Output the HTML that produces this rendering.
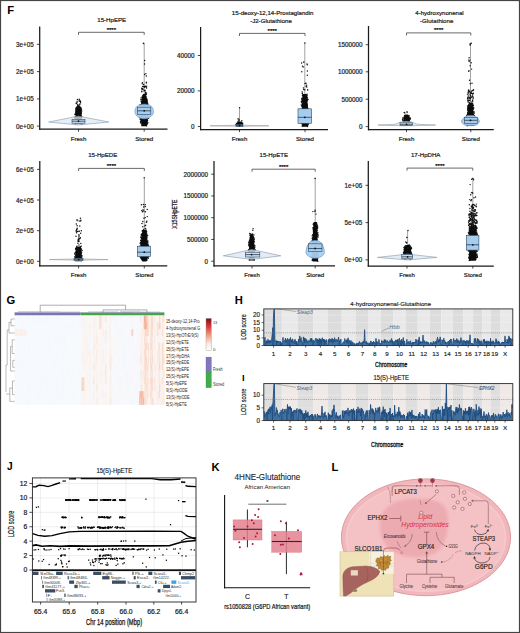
<!DOCTYPE html>
<html><head><meta charset="utf-8"><style>
html,body{margin:0;padding:0;background:#fff;}
body{width:520px;height:633px;overflow:hidden;}
svg{display:block;font-family:"Liberation Sans",sans-serif;}
</style></head><body>
<svg width="520" height="633" viewBox="0 0 520 633">
<rect x="0" y="0" width="520" height="633" fill="#fff"/>
<text x="7.20" y="14.20" font-size="11.2" text-anchor="start" fill="#000" font-weight="bold" >F</text>
<text x="111.70" y="22.40" font-size="6.1" text-anchor="middle" fill="#1a1a1a" stroke="#1a1a1a" stroke-width="0.2">15-HpEPE</text>
<path d="M78.50 34.90 V32.30 H144.20 V34.90" fill="none" stroke="#444" stroke-width="0.8"/>
<text x="111.35" y="31.70" font-size="6" text-anchor="middle" fill="#222" stroke="#222" stroke-width="0.25">****</text>
<path d="M77.5 106.0 L76.8 106.8 L76.4 107.6 L75.8 108.4 L75.8 109.2 L75.5 110.0 L75.5 110.8 L75.6 111.6 L75.4 112.4 L75.2 113.2 L75.6 114.0 L75.0 114.8 L75.6 115.6 L75.4 116.4 L74.9 117.2 L74.7 118.0 L75.0 118.8 L75.3 119.6 L74.9 120.4 L75.3 121.2 L74.5 122.0 L74.8 122.8 L74.9 123.6 L75.1 124.3 L82.1 124.3 L81.9 123.6 L82.1 122.8 L81.9 122.0 L81.9 121.2 L82.3 120.4 L81.8 119.6 L81.6 118.8 L82.1 118.0 L82.2 117.2 L81.7 116.4 L82.0 115.6 L81.4 114.8 L82.0 114.0 L82.0 113.2 L81.2 112.4 L81.4 111.6 L81.5 110.8 L81.5 110.0 L80.9 109.2 L81.2 108.4 L80.8 107.6 L80.0 106.8 L79.5 106.0Z" fill="#0b0b0b"/>
<path d="M77.4 99.4h0M79.3 100.1h0M79.2 99.3h0M79.9 104.3h0M76.5 103.6h0M76.3 107.5h0M80.6 102.7h0M77.6 106.1h0M77.1 101.4h0M77.0 102.8h0M79.1 107.7h0M77.1 107.6h0M78.8 107.2h0M80.0 101.3h0M79.2 101.0h0M76.1 103.2h0M79.8 104.5h0M77.0 106.7h0M80.5 101.9h0M78.3 105.1h0M80.4 101.0h0M78.8 107.7h0M79.0 105.7h0M79.8 104.1h0M77.5 104.7h0M75.7 108.9h0M80.0 106.9h0M80.8 107.7h0M81.2 108.3h0M75.4 113.4h0M81.2 112.3h0M81.5 116.6h0M81.5 109.8h0M75.2 116.9h0M76.0 110.8h0M81.6 124.3h0M81.7 111.0h0M75.4 124.2h0M79.6 106.2h0M74.6 117.8h0M82.2 121.0h0M75.6 114.1h0M82.0 123.9h0M75.8 112.5h0M82.2 122.3h0M75.3 118.9h0M81.3 113.0h0M76.0 108.9h0M75.6 111.0h0M76.0 108.5h0M81.1 108.0h0M81.8 116.6h0M74.9 114.4h0M80.5 107.6h0" stroke="#111" stroke-width="1.45" stroke-linecap="round" fill="none"/>
<path d="M48.70 122.00 L76.50 116.50 Q78.50 115.90 80.50 116.50 L108.80 122.00 L80.50 124.80 Q78.50 125.20 76.50 124.80 Z" fill="#dde8f4" fill-opacity="0.75" stroke="#8397ab" stroke-width="0.6"/>
<rect x="72.00" y="119.40" width="13.00" height="3.80" fill="#c9def2" stroke="#2c4660" stroke-width="0.6" />
<line x1="72.00" y1="121.20" x2="85.00" y2="121.20" stroke="#1a2a3a" stroke-width="0.7" />
<circle cx="78.50" cy="121.20" r="0.9" fill="#111"/>
<line x1="144.20" y1="43.00" x2="144.20" y2="107.20" stroke="#555" stroke-width="0.55" />
<path d="M143.0 94.0 L142.7 94.8 L142.4 95.6 L141.6 96.4 L141.8 97.2 L141.7 98.0 L141.6 98.8 L141.6 99.6 L141.4 100.4 L141.1 101.2 L140.8 102.0 L141.2 102.8 L141.2 103.6 L140.1 104.4 L140.7 105.2 L140.7 106.0 L140.3 106.8 L140.6 107.6 L140.5 108.4 L140.0 109.2 L140.0 110.0 L140.6 110.8 L140.8 111.6 L140.8 112.4 L140.2 113.2 L139.9 114.0 L139.8 114.8 L140.1 115.6 L140.3 116.4 L139.9 117.2 L140.4 118.0 L140.2 118.8 L140.0 119.6 L141.1 120.4 L140.2 121.2 L140.6 122.0 L141.4 122.8 L141.0 123.6 L141.3 124.4 L141.2 125.2 L141.3 126.0 L141.5 126.2 L147.1 126.2 L146.4 126.0 L147.0 125.2 L146.9 124.4 L147.7 123.6 L147.7 122.8 L147.8 122.0 L147.8 121.2 L148.3 120.4 L147.8 119.6 L147.8 118.8 L148.4 118.0 L148.3 117.2 L148.3 116.4 L148.2 115.6 L147.9 114.8 L147.8 114.0 L148.5 113.2 L147.6 112.4 L147.8 111.6 L148.1 110.8 L148.3 110.0 L147.9 109.2 L148.6 108.4 L148.0 107.6 L148.3 106.8 L148.0 106.0 L148.4 105.2 L148.1 104.4 L147.7 103.6 L148.0 102.8 L147.5 102.0 L147.7 101.2 L147.4 100.4 L147.1 99.6 L147.2 98.8 L147.2 98.0 L146.4 97.2 L146.8 96.4 L146.0 95.6 L145.7 94.8 L145.4 94.0Z" fill="#0b0b0b"/>
<path d="M143.4 43.5h0M143.6 43.3h0M144.7 60.4h0M144.5 63.9h0M142.4 82.6h0M144.6 74.4h0M146.4 82.3h0M143.6 84.4h0M142.2 83.7h0M145.9 73.6h0M146.3 83.0h0M146.3 75.9h0M145.4 93.8h0M143.4 86.4h0M141.7 91.1h0M144.4 87.3h0M144.9 86.5h0M144.1 91.1h0M142.7 86.5h0M146.3 94.5h0M144.7 86.3h0M144.3 95.6h0M145.6 92.9h0M141.8 91.8h0M142.8 95.9h0M141.7 88.2h0M146.2 87.2h0M143.2 89.1h0M146.2 93.0h0M146.5 87.9h0M142.1 89.4h0M145.6 92.2h0M146.5 93.1h0M142.0 89.2h0M142.7 88.7h0M145.1 90.4h0M145.5 86.2h0M146.3 87.6h0M145.5 94.4h0M141.8 91.4h0M146.7 86.1h0M144.2 90.3h0M147.2 99.9h0M140.3 115.0h0M140.0 104.9h0M148.7 110.3h0M140.9 99.7h0M140.3 119.5h0M141.0 108.5h0M148.3 107.6h0M147.6 103.3h0M139.9 114.5h0M148.2 109.2h0M147.8 106.5h0M141.2 97.6h0M140.9 117.6h0M141.0 120.9h0M147.8 109.2h0M147.9 110.9h0M140.9 116.9h0M140.9 112.4h0M147.8 118.1h0M147.4 106.3h0M148.1 115.6h0M140.9 99.2h0M148.5 118.2h0M147.7 105.3h0M146.6 125.7h0M140.0 111.5h0M140.5 116.8h0M140.3 108.1h0M147.3 118.5h0M140.6 106.6h0M146.9 100.8h0M140.0 116.7h0M140.5 121.8h0M140.7 123.1h0M147.9 122.8h0M140.6 122.8h0M140.5 118.0h0M147.3 124.0h0M146.8 124.1h0M147.7 104.0h0M147.1 101.5h0M147.9 109.2h0M141.1 99.5h0M141.2 101.4h0M147.4 123.2h0M140.5 113.0h0M140.5 119.5h0M147.9 109.5h0M139.8 117.7h0M140.6 117.4h0" stroke="#111" stroke-width="1.45" stroke-linecap="round" fill="none"/>
<path d="M143.00 104.20 C135.83 104.70 134.90 109.50 134.90 111.50 C134.90 116.80 141.70 118.80 143.20 118.80 L145.20 118.80 C146.70 118.80 153.50 116.80 153.50 111.50 C153.50 109.50 152.57 104.70 145.40 104.20 Z" fill="#a9d0f0" fill-opacity="0.95" stroke="#5d8fbf" stroke-width="0.6"/>
<rect x="137.30" y="107.20" width="13.50" height="7.20" fill="#a6cdee" stroke="#2c4660" stroke-width="0.6" />
<line x1="137.30" y1="110.80" x2="150.80" y2="110.80" stroke="#1a2a3a" stroke-width="0.7" />
<circle cx="144.20" cy="110.80" r="0.9" fill="#111"/>
<line x1="39.70" y1="26.50" x2="39.70" y2="129.80" stroke="#1a1a1a" stroke-width="1.25" />
<line x1="39.10" y1="129.20" x2="167.50" y2="129.20" stroke="#1a1a1a" stroke-width="1.25" />
<line x1="36.90" y1="44.30" x2="39.70" y2="44.30" stroke="#1a1a1a" stroke-width="0.8" />
<text x="33.70" y="46.80" font-size="6.3" text-anchor="end" fill="#222" stroke="#222" stroke-width="0.2">3e+05</text>
<line x1="36.90" y1="71.60" x2="39.70" y2="71.60" stroke="#1a1a1a" stroke-width="0.8" />
<text x="33.70" y="74.10" font-size="6.3" text-anchor="end" fill="#222" stroke="#222" stroke-width="0.2">2e+05</text>
<line x1="36.90" y1="98.90" x2="39.70" y2="98.90" stroke="#1a1a1a" stroke-width="0.8" />
<text x="33.70" y="101.40" font-size="6.3" text-anchor="end" fill="#222" stroke="#222" stroke-width="0.2">1e+05</text>
<line x1="36.90" y1="126.10" x2="39.70" y2="126.10" stroke="#1a1a1a" stroke-width="0.8" />
<text x="33.70" y="128.60" font-size="6.3" text-anchor="end" fill="#222" stroke="#222" stroke-width="0.2">0e+00</text>
<line x1="78.50" y1="129.20" x2="78.50" y2="131.70" stroke="#1a1a1a" stroke-width="0.8" />
<line x1="144.20" y1="129.20" x2="144.20" y2="131.70" stroke="#1a1a1a" stroke-width="0.8" />
<text x="78.50" y="140.80" font-size="6.1" text-anchor="middle" fill="#222" stroke="#222" stroke-width="0.2">Fresh</text>
<text x="144.20" y="140.80" font-size="6.1" text-anchor="middle" fill="#222" stroke="#222" stroke-width="0.2">Stored</text>
<text x="272.70" y="15.20" font-size="6.1" text-anchor="middle" fill="#1a1a1a" stroke="#1a1a1a" stroke-width="0.2">15-deoxy-12,14-Prostaglandin</text>
<text x="271.00" y="22.60" font-size="6.1" text-anchor="middle" fill="#1a1a1a" stroke="#1a1a1a" stroke-width="0.2">-J2-Glutathione</text>
<path d="M239.50 36.00 V33.40 H305.00 V36.00" fill="none" stroke="#444" stroke-width="0.8"/>
<text x="272.25" y="32.80" font-size="6" text-anchor="middle" fill="#222" stroke="#222" stroke-width="0.25">****</text>
<line x1="239.50" y1="108.20" x2="239.50" y2="124.80" stroke="#555" stroke-width="0.55" />
<path d="M237.9 121.5 L237.3 122.3 L236.7 123.1 L236.3 123.9 L236.2 124.7 L236.0 125.5 L235.9 126.3 L236.2 126.5 L243.6 126.5 L243.0 126.3 L242.8 125.5 L243.1 124.7 L242.8 123.9 L243.0 123.1 L241.8 122.3 L241.4 121.5Z" fill="#0b0b0b"/>
<path d="M239.6 107.8h0M241.8 120.8h0M239.3 120.0h0M238.1 118.7h0M238.4 120.1h0M235.6 124.9h0M242.7 123.5h0M236.8 123.5h0M236.4 123.8h0M238.0 121.6h0M242.4 124.3h0M241.8 122.4h0M236.2 124.9h0" stroke="#111" stroke-width="1.45" stroke-linecap="round" fill="none"/>
<path d="M210.00 125.80 L237.50 125.20 Q239.50 124.60 241.50 125.20 L268.80 125.80 L241.50 126.30 Q239.50 126.70 237.50 126.30 Z" fill="#eeeeee" fill-opacity="0.9" stroke="#999" stroke-width="0.6"/>
<rect x="236.00" y="124.80" width="7.00" height="1.50" fill="#c9def2" stroke="#2c4660" stroke-width="0.6" />
<line x1="236.00" y1="125.50" x2="243.00" y2="125.50" stroke="#1a2a3a" stroke-width="0.7" />
<circle cx="239.50" cy="125.50" r="0.9" fill="#111"/>
<line x1="304.80" y1="42.70" x2="304.80" y2="108.80" stroke="#555" stroke-width="0.55" />
<path d="M303.2 94.0 L302.5 94.8 L302.5 95.6 L302.5 96.4 L302.1 97.2 L302.4 98.0 L302.0 98.8 L302.0 99.6 L302.0 100.4 L301.4 101.2 L302.2 102.0 L302.1 102.8 L302.1 103.6 L301.8 104.4 L301.5 105.2 L301.5 106.0 L301.4 106.8 L301.9 107.6 L301.7 108.4 L301.3 109.2 L301.6 110.0 L301.8 110.8 L302.0 111.6 L301.3 112.4 L301.4 113.2 L301.4 114.0 L301.3 114.8 L301.1 115.6 L302.0 116.4 L301.6 117.2 L301.5 118.0 L301.3 118.8 L302.0 119.6 L301.8 120.4 L301.4 121.2 L301.3 122.0 L301.3 122.8 L301.4 123.6 L301.8 124.4 L301.9 125.2 L302.0 126.0 L302.0 126.8 L301.4 126.8 L308.0 126.8 L307.6 126.8 L307.7 126.0 L308.3 125.2 L307.7 124.4 L307.9 123.6 L307.7 122.8 L307.9 122.0 L308.5 121.2 L308.2 120.4 L308.2 119.6 L308.4 118.8 L307.7 118.0 L307.8 117.2 L307.9 116.4 L308.4 115.6 L308.0 114.8 L308.5 114.0 L307.8 113.2 L308.0 112.4 L308.5 111.6 L307.6 110.8 L308.0 110.0 L307.8 109.2 L308.2 108.4 L308.1 107.6 L308.0 106.8 L307.8 106.0 L308.1 105.2 L307.9 104.4 L307.7 103.6 L307.5 102.8 L307.6 102.0 L307.7 101.2 L308.0 100.4 L308.1 99.6 L307.6 98.8 L307.5 98.0 L307.1 97.2 L307.2 96.4 L307.2 95.6 L306.5 94.8 L306.8 94.0Z" fill="#0b0b0b"/>
<path d="M304.9 43.0h0M304.8 89.8h0M303.6 89.6h0M306.0 83.2h0M301.6 62.9h0M301.8 71.8h0M307.7 89.8h0M307.0 64.0h0M306.1 86.3h0M306.8 86.9h0M302.5 66.1h0M306.7 85.1h0M307.3 75.2h0M307.3 64.7h0M307.7 90.1h0M303.8 62.3h0M305.1 83.4h0M303.8 62.0h0M303.4 88.0h0M302.2 91.9h0M303.2 67.0h0M302.3 93.4h0M307.4 70.9h0M301.7 115.8h0M306.9 95.2h0M301.6 117.5h0M301.4 101.4h0M301.3 104.9h0M307.6 112.9h0M307.4 97.6h0M301.5 117.4h0M307.5 126.6h0M307.0 96.0h0M307.6 126.3h0M308.1 117.7h0M301.7 99.0h0M301.8 118.8h0M307.1 95.1h0M307.6 109.4h0M308.0 99.4h0M301.3 123.0h0M302.1 100.3h0M308.4 111.2h0M302.0 98.2h0M301.7 115.1h0M301.5 120.0h0M302.1 126.1h0M308.2 116.0h0M302.1 106.2h0M307.5 125.0h0M307.0 94.1h0M301.9 121.4h0M301.4 116.6h0M301.5 102.8h0M307.9 116.4h0M301.6 118.9h0M308.3 124.2h0M302.5 95.5h0M303.0 94.4h0M302.0 114.5h0M307.6 125.0h0M307.6 108.5h0M308.0 119.0h0M308.3 123.0h0M307.5 121.2h0M301.2 119.7h0M301.1 117.4h0M301.2 118.3h0M302.6 95.8h0M306.9 94.4h0M301.8 111.4h0M301.1 112.6h0M302.0 112.1h0M301.8 98.6h0M307.4 97.9h0" stroke="#111" stroke-width="1.45" stroke-linecap="round" fill="none"/>
<rect x="298.00" y="108.80" width="13.50" height="14.50" fill="#a6cdee" stroke="#2c4660" stroke-width="0.6" />
<line x1="298.00" y1="117.30" x2="311.50" y2="117.30" stroke="#1a2a3a" stroke-width="0.7" />
<circle cx="304.80" cy="117.30" r="0.9" fill="#111"/>
<line x1="200.60" y1="27.00" x2="200.60" y2="130.20" stroke="#1a1a1a" stroke-width="1.25" />
<line x1="200.00" y1="129.60" x2="328.00" y2="129.60" stroke="#1a1a1a" stroke-width="1.25" />
<line x1="197.80" y1="55.50" x2="200.60" y2="55.50" stroke="#1a1a1a" stroke-width="0.8" />
<text x="194.60" y="58.00" font-size="6.3" text-anchor="end" fill="#222" stroke="#222" stroke-width="0.2">40000</text>
<line x1="197.80" y1="90.90" x2="200.60" y2="90.90" stroke="#1a1a1a" stroke-width="0.8" />
<text x="194.60" y="93.40" font-size="6.3" text-anchor="end" fill="#222" stroke="#222" stroke-width="0.2">20000</text>
<line x1="197.80" y1="126.50" x2="200.60" y2="126.50" stroke="#1a1a1a" stroke-width="0.8" />
<text x="194.60" y="129.00" font-size="6.3" text-anchor="end" fill="#222" stroke="#222" stroke-width="0.2">0</text>
<line x1="239.50" y1="129.60" x2="239.50" y2="132.10" stroke="#1a1a1a" stroke-width="0.8" />
<line x1="305.00" y1="129.60" x2="305.00" y2="132.10" stroke="#1a1a1a" stroke-width="0.8" />
<text x="239.50" y="140.80" font-size="6.1" text-anchor="middle" fill="#222" stroke="#222" stroke-width="0.2">Fresh</text>
<text x="305.00" y="140.80" font-size="6.1" text-anchor="middle" fill="#222" stroke="#222" stroke-width="0.2">Stored</text>
<text x="439.50" y="15.40" font-size="6.1" text-anchor="middle" fill="#1a1a1a" stroke="#1a1a1a" stroke-width="0.2">4-hydroxynonenal</text>
<text x="436.70" y="22.60" font-size="6.1" text-anchor="middle" fill="#1a1a1a" stroke="#1a1a1a" stroke-width="0.2">-Glutathione</text>
<path d="M406.50 35.50 V32.90 H470.80 V35.50" fill="none" stroke="#444" stroke-width="0.8"/>
<text x="438.65" y="32.30" font-size="6" text-anchor="middle" fill="#222" stroke="#222" stroke-width="0.25">****</text>
<path d="M404.9 114.5 L404.1 115.3 L403.8 116.1 L403.7 116.9 L403.0 117.7 L403.2 118.5 L403.3 119.3 L403.5 120.1 L403.1 120.9 L403.6 121.7 L403.6 122.5 L403.4 122.5 L409.8 122.5 L409.7 122.5 L409.3 121.7 L409.9 120.9 L410.0 120.1 L410.0 119.3 L409.9 118.5 L409.9 117.7 L409.9 116.9 L409.0 116.1 L408.8 115.3 L408.0 114.5Z" fill="#0b0b0b"/>
<path d="M404.7 112.7h0M404.8 113.0h0M407.0 111.8h0M407.1 112.5h0M404.2 112.4h0M410.2 117.9h0M409.1 115.8h0M409.9 119.6h0M402.8 118.0h0M403.3 121.1h0M409.7 122.1h0M403.5 121.4h0M402.8 120.4h0M402.6 119.5h0M410.4 118.7h0M409.1 122.1h0M403.5 121.4h0" stroke="#111" stroke-width="1.45" stroke-linecap="round" fill="none"/>
<path d="M378 125 Q392 124.6 396.3 124 Q400 121.5 406.5 121.3 Q413 121.5 416.3 124 Q420 124.6 435.6 125 Q420 125.6 406.5 125.8 Q392 125.6 378 125 Z" fill="#dde8f4" fill-opacity="0.8" stroke="#8397ab" stroke-width="0.6"/>
<rect x="400.00" y="122.80" width="12.50" height="2.80" fill="#c9def2" stroke="#2c4660" stroke-width="0.6" />
<line x1="400.00" y1="124.30" x2="412.50" y2="124.30" stroke="#1a2a3a" stroke-width="0.7" />
<circle cx="406.50" cy="124.30" r="0.9" fill="#111"/>
<line x1="470.50" y1="42.70" x2="470.50" y2="117.30" stroke="#555" stroke-width="0.55" />
<path d="M469.2 103.0 L468.9 103.8 L468.4 104.6 L467.6 105.4 L467.9 106.2 L467.3 107.0 L467.5 107.8 L467.8 108.6 L467.0 109.4 L467.1 110.2 L467.8 111.0 L467.5 111.8 L467.0 112.6 L467.2 113.4 L466.7 114.2 L466.7 115.0 L467.3 115.8 L467.1 116.6 L467.3 117.4 L466.7 118.2 L467.2 119.0 L467.2 119.8 L467.5 120.6 L467.3 121.4 L467.4 122.2 L466.6 123.0 L467.2 123.8 L467.2 124.6 L467.5 125.4 L467.3 126.0 L474.3 126.0 L474.2 125.4 L473.7 124.6 L474.4 123.8 L473.6 123.0 L474.1 122.2 L474.2 121.4 L474.1 120.6 L473.8 119.8 L473.5 119.0 L473.6 118.2 L474.1 117.4 L473.8 116.6 L474.0 115.8 L474.2 115.0 L474.2 114.2 L473.7 113.4 L473.3 112.6 L473.8 111.8 L473.6 111.0 L473.3 110.2 L473.4 109.4 L473.4 108.6 L473.6 107.8 L473.4 107.0 L473.2 106.2 L473.2 105.4 L473.0 104.6 L472.4 103.8 L472.2 103.0Z" fill="#0b0b0b"/>
<path d="M470.1 44.9h0M471.3 43.2h0M470.4 44.8h0M470.0 44.0h0M468.7 71.3h0M469.1 57.7h0M469.9 60.1h0M468.6 60.1h0M470.1 65.8h0M471.6 69.1h0M469.2 61.4h0M469.5 80.3h0M469.0 70.8h0M472.0 83.2h0M470.3 83.7h0M471.2 62.7h0M468.1 92.3h0M472.2 95.9h0M472.5 105.5h0M473.0 97.2h0M467.5 94.1h0M468.8 100.2h0M471.7 104.7h0M471.7 105.3h0M471.3 97.3h0M472.5 94.0h0M472.2 101.5h0M472.7 90.5h0M468.6 105.2h0M468.4 96.9h0M471.1 97.5h0M472.8 105.3h0M469.5 91.7h0M473.0 97.0h0M469.0 91.8h0M467.6 99.1h0M469.2 98.7h0M473.0 97.5h0M473.2 90.6h0M472.0 102.0h0M473.3 90.0h0M470.5 98.7h0M471.1 97.3h0M469.1 104.4h0M472.8 101.1h0M473.3 98.6h0M468.0 101.0h0M468.1 101.9h0M471.4 92.9h0M468.4 90.6h0M468.6 105.6h0M468.9 104.1h0M468.3 95.1h0M470.3 95.4h0M473.3 93.5h0M470.4 92.9h0M468.2 100.9h0M469.5 97.5h0M471.7 91.0h0M467.8 100.8h0M473.5 89.8h0M470.2 105.9h0M472.5 105.8h0M470.7 105.5h0M467.8 97.3h0M472.6 95.9h0M470.1 96.9h0M469.8 102.9h0M473.3 93.3h0M469.4 102.8h0M472.0 102.9h0M471.6 104.6h0M472.6 100.0h0M469.2 90.9h0M472.7 103.7h0M472.8 93.9h0M471.9 104.9h0M468.7 89.9h0M468.5 93.1h0M471.6 103.1h0M472.4 100.9h0M473.4 105.5h0M470.1 104.7h0M471.8 93.5h0M471.0 92.3h0M469.9 102.9h0M467.6 98.4h0M470.1 94.2h0M467.9 98.1h0M469.5 91.1h0M469.9 100.7h0M474.4 115.8h0M467.0 123.7h0M467.5 120.3h0M467.6 108.5h0M467.1 125.7h0M467.6 106.7h0M467.2 116.3h0M467.5 123.5h0M474.3 121.9h0M473.5 124.3h0M473.7 119.2h0M473.4 120.3h0M466.6 115.7h0M468.1 105.4h0M473.4 125.3h0M467.8 110.6h0M474.1 120.7h0M473.6 108.3h0M473.7 107.8h0M473.8 112.1h0M467.1 118.9h0M466.7 122.6h0M466.9 124.1h0M474.1 111.9h0M473.8 112.5h0M467.6 120.4h0M466.6 121.0h0M466.7 124.7h0M466.6 116.6h0M473.9 111.6h0M467.2 124.6h0M474.1 113.3h0M473.1 109.3h0M474.2 124.4h0M472.9 104.6h0M473.8 120.7h0" stroke="#111" stroke-width="1.45" stroke-linecap="round" fill="none"/>
<path d="M467.5 115.6 L473.5 115.6 Q478 117 479.5 121 Q478.5 125.7 472 125.7 L469 125.7 Q462.5 125.7 461.3 121 Q463.5 117 467.5 115.6 Z" fill="#a9d0f0" fill-opacity="0.95" stroke="#5d8fbf" stroke-width="0.6"/>
<rect x="464.50" y="117.30" width="12.80" height="6.00" fill="#a6cdee" stroke="#2c4660" stroke-width="0.6" />
<line x1="464.50" y1="120.30" x2="477.30" y2="120.30" stroke="#1a2a3a" stroke-width="0.7" />
<circle cx="470.50" cy="120.30" r="0.9" fill="#111"/>
<line x1="368.50" y1="26.00" x2="368.50" y2="130.30" stroke="#1a1a1a" stroke-width="1.25" />
<line x1="367.90" y1="129.70" x2="493.80" y2="129.70" stroke="#1a1a1a" stroke-width="1.25" />
<line x1="365.70" y1="44.70" x2="368.50" y2="44.70" stroke="#1a1a1a" stroke-width="0.8" />
<text x="362.50" y="47.20" font-size="6.3" text-anchor="end" fill="#222" stroke="#222" stroke-width="0.2">1500000</text>
<line x1="365.70" y1="71.80" x2="368.50" y2="71.80" stroke="#1a1a1a" stroke-width="0.8" />
<text x="362.50" y="74.30" font-size="6.3" text-anchor="end" fill="#222" stroke="#222" stroke-width="0.2">1000000</text>
<line x1="365.70" y1="99.20" x2="368.50" y2="99.20" stroke="#1a1a1a" stroke-width="0.8" />
<text x="362.50" y="101.70" font-size="6.3" text-anchor="end" fill="#222" stroke="#222" stroke-width="0.2">500000</text>
<line x1="365.70" y1="126.60" x2="368.50" y2="126.60" stroke="#1a1a1a" stroke-width="0.8" />
<text x="362.50" y="129.10" font-size="6.3" text-anchor="end" fill="#222" stroke="#222" stroke-width="0.2">0</text>
<line x1="406.50" y1="129.70" x2="406.50" y2="132.20" stroke="#1a1a1a" stroke-width="0.8" />
<line x1="470.80" y1="129.70" x2="470.80" y2="132.20" stroke="#1a1a1a" stroke-width="0.8" />
<text x="406.50" y="140.80" font-size="6.1" text-anchor="middle" fill="#222" stroke="#222" stroke-width="0.2">Fresh</text>
<text x="470.80" y="140.80" font-size="6.1" text-anchor="middle" fill="#222" stroke="#222" stroke-width="0.2">Stored</text>
<text x="102.70" y="157.20" font-size="6.1" text-anchor="middle" fill="#1a1a1a" stroke="#1a1a1a" stroke-width="0.2">15-HpEDE</text>
<path d="M78.60 171.00 V168.40 H144.30 V171.00" fill="none" stroke="#444" stroke-width="0.8"/>
<text x="111.45" y="167.80" font-size="6" text-anchor="middle" fill="#222" stroke="#222" stroke-width="0.25">****</text>
<path d="M76.8 246.5 L76.3 247.3 L75.9 248.1 L75.7 248.9 L75.8 249.7 L75.9 250.5 L75.2 251.3 L75.3 252.1 L74.9 252.9 L75.4 253.7 L75.1 254.5 L75.7 255.3 L75.1 256.1 L75.3 256.9 L74.8 257.7 L75.0 258.5 L75.4 259.3 L75.2 260.1 L75.1 260.9 L74.9 261.3 L81.9 261.3 L81.8 260.9 L81.9 260.1 L81.7 259.3 L82.3 258.5 L81.8 257.7 L81.8 256.9 L81.6 256.1 L82.4 255.3 L81.5 254.5 L81.8 253.7 L82.1 252.9 L82.2 252.1 L81.3 251.3 L81.5 250.5 L81.9 249.7 L81.9 248.9 L81.4 248.1 L80.7 247.3 L80.5 246.5Z" fill="#0b0b0b"/>
<path d="M81.3 230.7h0M79.8 238.8h0M77.0 219.8h0M79.2 221.0h0M77.9 243.3h0M80.7 220.9h0M76.3 224.0h0M80.4 218.2h0M77.1 220.6h0M76.5 232.7h0M76.8 229.4h0M79.9 238.5h0M78.1 240.3h0M79.0 241.5h0M77.2 228.2h0M79.0 244.9h0M79.3 231.3h0M77.2 225.7h0M77.0 246.1h0M80.8 243.4h0M78.8 238.0h0M77.5 231.5h0M76.6 229.7h0M77.2 220.4h0M80.9 220.3h0M80.4 237.8h0M76.3 231.6h0M81.4 246.1h0M79.0 239.9h0M79.8 226.0h0M78.9 234.8h0M78.0 241.3h0M78.3 239.2h0M76.2 230.4h0M76.0 236.3h0M80.7 233.3h0M79.0 235.6h0M77.1 228.7h0M79.0 236.2h0M77.9 231.3h0M75.6 248.5h0M74.8 256.6h0M81.9 260.3h0M80.4 246.8h0M74.9 253.3h0M82.1 250.4h0M75.7 258.1h0M76.4 247.3h0M75.0 259.2h0M81.7 258.4h0M75.0 252.9h0M75.3 257.7h0M75.6 249.4h0M74.7 254.1h0M81.7 260.5h0M75.5 255.6h0M82.3 260.3h0M80.4 247.3h0M74.7 258.2h0M81.8 255.5h0M81.3 252.1h0M81.9 256.1h0M81.9 257.0h0" stroke="#111" stroke-width="1.45" stroke-linecap="round" fill="none"/>
<path d="M49.50 259.60 L76.60 258.90 Q78.60 258.30 80.60 258.90 L108.00 259.60 L80.60 260.20 Q78.60 260.60 76.60 260.20 Z" fill="#eeeeee" fill-opacity="0.9" stroke="#999" stroke-width="0.6"/>
<rect x="74.00" y="258.60" width="9.00" height="2.00" fill="#c9def2" stroke="#2c4660" stroke-width="0.6" />
<line x1="74.00" y1="259.60" x2="83.00" y2="259.60" stroke="#1a2a3a" stroke-width="0.7" />
<circle cx="78.60" cy="259.60" r="0.9" fill="#111"/>
<line x1="144.30" y1="177.90" x2="144.30" y2="246.20" stroke="#555" stroke-width="0.55" />
<path d="M142.6 230.0 L142.2 230.8 L142.4 231.6 L142.1 232.4 L141.7 233.2 L141.6 234.0 L141.2 234.8 L141.2 235.6 L141.5 236.4 L141.2 237.2 L140.8 238.0 L140.8 238.8 L141.3 239.6 L140.9 240.4 L141.1 241.2 L140.8 242.0 L140.1 242.8 L140.3 243.6 L140.8 244.4 L140.2 245.2 L140.8 246.0 L140.9 246.8 L140.6 247.6 L140.8 248.4 L140.6 249.2 L140.3 250.0 L141.0 250.8 L140.6 251.6 L140.6 252.4 L140.8 253.2 L141.1 254.0 L140.2 254.8 L140.8 255.6 L140.0 256.4 L141.1 257.2 L140.7 258.0 L141.0 258.8 L141.1 259.6 L141.7 260.4 L142.4 261.2 L142.3 261.4 L146.4 261.4 L146.5 261.2 L147.2 260.4 L147.4 259.6 L147.5 258.8 L147.6 258.0 L148.5 257.2 L148.2 256.4 L147.7 255.6 L148.5 254.8 L147.7 254.0 L148.4 253.2 L148.5 252.4 L148.3 251.6 L148.1 250.8 L148.2 250.0 L148.7 249.2 L147.6 248.4 L148.2 247.6 L148.2 246.8 L147.9 246.0 L148.6 245.2 L148.7 244.4 L147.5 243.6 L148.6 242.8 L148.3 242.0 L147.8 241.2 L147.6 240.4 L147.4 239.6 L147.3 238.8 L147.6 238.0 L147.6 237.2 L147.0 236.4 L147.5 235.6 L147.6 234.8 L146.8 234.0 L146.9 233.2 L146.8 232.4 L146.4 231.6 L146.1 230.8 L146.2 230.0Z" fill="#0b0b0b"/>
<path d="M144.2 177.8h0M145.4 206.6h0M143.7 206.9h0M145.4 211.7h0M147.3 216.6h0M145.3 217.6h0M146.3 222.2h0M145.2 204.8h0M142.0 223.5h0M143.7 229.4h0M145.2 225.4h0M145.9 229.0h0M145.3 228.4h0M143.8 211.0h0M141.8 210.6h0M146.8 221.1h0M141.4 204.7h0M144.0 218.2h0M143.4 204.5h0M142.8 226.8h0M145.7 225.3h0M142.8 221.4h0M142.4 211.8h0M147.2 209.5h0M143.0 209.7h0M146.7 221.9h0M144.9 226.1h0M141.3 234.8h0M141.3 235.7h0M147.7 235.6h0M148.5 255.2h0M142.3 231.2h0M140.4 257.3h0M148.5 256.5h0M140.3 243.5h0M140.4 242.7h0M141.5 235.0h0M148.4 248.7h0M141.0 242.5h0M146.2 230.6h0M140.1 254.4h0M147.1 235.1h0M141.1 250.6h0M148.2 248.8h0M146.8 233.1h0M140.7 240.7h0M147.9 241.0h0M148.7 246.0h0M140.2 246.0h0M148.6 256.1h0M148.2 248.8h0M146.1 231.8h0M146.6 231.5h0M140.2 253.8h0M139.9 249.4h0M141.6 234.1h0M142.4 230.4h0M140.8 240.7h0M140.1 252.8h0M148.5 245.9h0M140.7 237.2h0M148.5 252.7h0M146.8 260.3h0M141.1 244.6h0M140.7 256.6h0M148.5 255.6h0M147.5 257.0h0M148.1 244.1h0M141.7 234.5h0M140.7 240.1h0M147.9 257.7h0M148.1 252.8h0M147.3 235.7h0M141.1 258.5h0M147.7 256.8h0M148.7 248.7h0M148.3 258.3h0" stroke="#111" stroke-width="1.45" stroke-linecap="round" fill="none"/>
<rect x="137.30" y="246.20" width="13.30" height="10.40" fill="#a6cdee" stroke="#2c4660" stroke-width="0.6" />
<line x1="137.30" y1="252.20" x2="150.60" y2="252.20" stroke="#1a2a3a" stroke-width="0.7" />
<circle cx="144.30" cy="252.20" r="0.9" fill="#111"/>
<line x1="39.80" y1="161.00" x2="39.80" y2="266.50" stroke="#1a1a1a" stroke-width="1.25" />
<line x1="39.20" y1="265.90" x2="167.30" y2="265.90" stroke="#1a1a1a" stroke-width="1.25" />
<line x1="37.00" y1="169.40" x2="39.80" y2="169.40" stroke="#1a1a1a" stroke-width="0.8" />
<text x="33.80" y="171.90" font-size="6.3" text-anchor="end" fill="#222" stroke="#222" stroke-width="0.2">6e+05</text>
<line x1="37.00" y1="200.00" x2="39.80" y2="200.00" stroke="#1a1a1a" stroke-width="0.8" />
<text x="33.80" y="202.50" font-size="6.3" text-anchor="end" fill="#222" stroke="#222" stroke-width="0.2">4e+05</text>
<line x1="37.00" y1="230.70" x2="39.80" y2="230.70" stroke="#1a1a1a" stroke-width="0.8" />
<text x="33.80" y="233.20" font-size="6.3" text-anchor="end" fill="#222" stroke="#222" stroke-width="0.2">2e+05</text>
<line x1="37.00" y1="261.30" x2="39.80" y2="261.30" stroke="#1a1a1a" stroke-width="0.8" />
<text x="33.80" y="263.80" font-size="6.3" text-anchor="end" fill="#222" stroke="#222" stroke-width="0.2">0e+00</text>
<line x1="78.60" y1="265.90" x2="78.60" y2="268.40" stroke="#1a1a1a" stroke-width="0.8" />
<line x1="144.30" y1="265.90" x2="144.30" y2="268.40" stroke="#1a1a1a" stroke-width="0.8" />
<text x="78.60" y="277.20" font-size="6.1" text-anchor="middle" fill="#222" stroke="#222" stroke-width="0.2">Fresh</text>
<text x="144.30" y="277.20" font-size="6.1" text-anchor="middle" fill="#222" stroke="#222" stroke-width="0.2">Stored</text>
<text x="273.80" y="157.20" font-size="6.1" text-anchor="middle" fill="#1a1a1a" stroke="#1a1a1a" stroke-width="0.2">15-HpETE</text>
<path d="M252.00 171.80 V169.20 H315.20 V171.80" fill="none" stroke="#444" stroke-width="0.8"/>
<text x="283.60" y="168.60" font-size="6" text-anchor="middle" fill="#222" stroke="#222" stroke-width="0.25">****</text>
<path d="M250.6 234.0 L250.2 234.8 L250.2 235.6 L249.8 236.4 L249.7 237.2 L249.4 238.0 L249.5 238.8 L249.5 239.6 L248.9 240.4 L249.3 241.2 L248.7 242.0 L248.5 242.8 L248.6 243.6 L248.6 244.4 L248.7 245.2 L248.3 246.0 L249.0 246.8 L249.1 247.6 L249.0 248.4 L248.5 249.2 L248.9 250.0 L248.3 250.8 L249.0 251.6 L248.3 252.4 L248.5 253.2 L248.4 254.0 L248.3 254.8 L248.3 255.6 L248.4 256.4 L248.7 257.2 L248.7 258.0 L248.5 258.8 L248.9 259.6 L249.2 260.4 L254.4 260.4 L254.3 259.6 L254.1 258.8 L254.0 258.0 L254.7 257.2 L254.5 256.4 L254.9 255.6 L254.8 254.8 L254.4 254.0 L254.7 253.2 L254.8 252.4 L254.7 251.6 L254.4 250.8 L254.1 250.0 L254.2 249.2 L254.3 248.4 L254.4 247.6 L254.5 246.8 L255.0 246.0 L254.6 245.2 L254.7 244.4 L254.0 243.6 L254.0 242.8 L254.1 242.0 L254.1 241.2 L254.3 240.4 L254.0 239.6 L253.9 238.8 L253.6 238.0 L253.6 237.2 L253.4 236.4 L253.0 235.6 L252.9 234.8 L252.7 234.0Z" fill="#0b0b0b"/>
<path d="M253.9 235.0h0M252.8 230.2h0M250.8 233.9h0M253.1 228.6h0M249.9 235.2h0M249.7 233.4h0M248.5 249.6h0M248.6 242.1h0M249.1 250.8h0M254.3 252.2h0M253.9 242.7h0M253.7 239.6h0M254.2 255.1h0M250.3 235.4h0M254.2 248.0h0M254.9 246.9h0M254.6 248.9h0M254.3 259.0h0M254.2 239.7h0M255.0 250.2h0M253.8 237.5h0M253.9 258.2h0M254.1 248.8h0M249.3 243.2h0M254.1 238.7h0M248.9 242.1h0M252.6 234.3h0M254.4 255.1h0M249.1 255.4h0M253.2 236.5h0M254.9 245.6h0M248.5 251.7h0M249.5 240.2h0M255.0 249.4h0M249.3 242.0h0M254.2 239.5h0M248.6 255.9h0M253.4 237.8h0M254.6 258.6h0M252.6 234.0h0M254.2 238.8h0M254.3 241.6h0M249.3 260.1h0M249.0 245.0h0M248.6 245.0h0M248.7 255.9h0M254.3 259.9h0M248.6 251.8h0" stroke="#111" stroke-width="1.45" stroke-linecap="round" fill="none"/>
<path d="M223.30 255.80 L249.60 249.90 Q251.60 249.30 253.60 249.90 L280.80 255.80 L253.60 259.20 Q251.60 259.60 249.60 259.20 Z" fill="#dde8f4" fill-opacity="0.8" stroke="#8397ab" stroke-width="0.6"/>
<rect x="245.40" y="252.20" width="14.40" height="4.80" fill="#c9def2" stroke="#2c4660" stroke-width="0.6" />
<line x1="245.40" y1="254.60" x2="259.80" y2="254.60" stroke="#1a2a3a" stroke-width="0.7" />
<circle cx="251.60" cy="254.60" r="0.9" fill="#111"/>
<line x1="315.20" y1="177.50" x2="315.20" y2="243.80" stroke="#555" stroke-width="0.55" />
<path d="M314.0 222.0 L313.8 222.8 L313.4 223.6 L313.3 224.4 L313.1 225.2 L313.3 226.0 L313.3 226.8 L312.6 227.6 L312.7 228.4 L312.5 229.2 L312.8 230.0 L312.9 230.8 L312.8 231.6 L312.9 232.4 L313.0 233.2 L312.7 234.0 L312.3 234.8 L312.3 235.6 L312.9 236.4 L312.1 237.2 L312.7 238.0 L312.4 238.8 L312.2 239.6 L312.1 240.4 L312.7 241.2 L312.9 242.0 L312.4 242.8 L312.3 243.6 L312.4 244.4 L312.6 245.2 L312.7 246.0 L312.3 246.8 L312.5 247.6 L312.7 248.4 L312.7 249.2 L312.1 250.0 L312.5 250.8 L312.2 251.6 L312.1 252.4 L312.7 253.2 L312.1 254.0 L312.6 254.8 L312.1 255.6 L312.7 256.4 L312.2 257.2 L312.2 258.0 L312.5 258.8 L312.4 259.6 L312.2 260.4 L313.0 261.2 L312.8 261.5 L317.9 261.5 L317.5 261.2 L318.0 260.4 L318.0 259.6 L317.6 258.8 L318.2 258.0 L317.9 257.2 L318.1 256.4 L317.6 255.6 L317.7 254.8 L317.7 254.0 L318.0 253.2 L318.0 252.4 L318.2 251.6 L318.2 250.8 L317.7 250.0 L318.0 249.2 L318.1 248.4 L317.6 247.6 L317.9 246.8 L318.3 246.0 L317.7 245.2 L318.3 244.4 L317.7 243.6 L318.0 242.8 L317.7 242.0 L317.5 241.2 L317.6 240.4 L317.8 239.6 L317.6 238.8 L317.6 238.0 L317.5 237.2 L317.8 236.4 L317.8 235.6 L317.4 234.8 L317.6 234.0 L318.1 233.2 L317.6 232.4 L317.4 231.6 L317.8 230.8 L317.9 230.0 L317.4 229.2 L317.7 228.4 L317.5 227.6 L317.5 226.8 L317.1 226.0 L317.0 225.2 L317.0 224.4 L316.9 223.6 L316.5 222.8 L316.4 222.0Z" fill="#0b0b0b"/>
<path d="M315.1 178.4h0M315.1 210.3h0M315.0 211.4h0M316.0 214.1h0M312.9 211.6h0M317.5 234.2h0M317.9 232.7h0M318.0 255.5h0M317.5 260.4h0M312.9 247.8h0M317.1 225.3h0M317.4 226.6h0M312.8 259.7h0M317.5 259.9h0M317.7 226.9h0M312.5 243.0h0M317.0 224.8h0M317.6 228.3h0M312.7 256.4h0M318.2 246.3h0M317.7 258.1h0M312.1 256.3h0M313.3 224.5h0M312.3 244.5h0M313.2 224.3h0M317.6 243.7h0M312.0 257.2h0M312.3 260.1h0M312.5 254.3h0M312.7 248.7h0M312.6 253.1h0M312.9 239.1h0M316.6 223.7h0M312.6 255.8h0M312.2 235.9h0M312.6 247.2h0M312.3 240.5h0M318.1 237.1h0M312.7 248.4h0M317.6 236.4h0M317.3 225.6h0M312.4 244.0h0M318.1 235.5h0M316.5 222.8h0M317.2 227.8h0M312.6 246.4h0M317.6 252.5h0M313.1 227.8h0M312.4 244.6h0M312.4 238.0h0M312.8 245.5h0M312.3 260.3h0M317.9 253.2h0M318.2 245.6h0M312.1 241.4h0M317.9 234.5h0M317.2 226.0h0M312.3 260.4h0M317.8 247.2h0M312.4 259.5h0M312.8 238.9h0M312.2 256.6h0M317.8 261.2h0M312.2 238.5h0M318.2 252.2h0M313.9 223.3h0M312.9 234.6h0M312.2 250.4h0" stroke="#111" stroke-width="1.45" stroke-linecap="round" fill="none"/>
<path d="M314.00 240.50 C306.92 241.00 306.00 250.50 306.00 252.50 C306.00 256.20 312.70 258.20 314.20 258.20 L316.20 258.20 C317.70 258.20 324.40 256.20 324.40 252.50 C324.40 250.50 323.48 241.00 316.40 240.50 Z" fill="#a9d0f0" fill-opacity="0.95" stroke="#5d8fbf" stroke-width="0.6"/>
<rect x="308.50" y="243.80" width="13.50" height="7.70" fill="#a6cdee" stroke="#2c4660" stroke-width="0.6" />
<line x1="308.50" y1="248.50" x2="322.00" y2="248.50" stroke="#1a2a3a" stroke-width="0.7" />
<circle cx="315.20" cy="248.50" r="0.9" fill="#111"/>
<line x1="214.00" y1="161.00" x2="214.00" y2="266.50" stroke="#1a1a1a" stroke-width="1.25" />
<line x1="213.40" y1="265.90" x2="335.00" y2="265.90" stroke="#1a1a1a" stroke-width="1.25" />
<line x1="211.20" y1="174.20" x2="214.00" y2="174.20" stroke="#1a1a1a" stroke-width="0.8" />
<text x="208.00" y="176.70" font-size="6.3" text-anchor="end" fill="#222" stroke="#222" stroke-width="0.2">2000000</text>
<line x1="211.20" y1="195.95" x2="214.00" y2="195.95" stroke="#1a1a1a" stroke-width="0.8" />
<text x="208.00" y="198.45" font-size="6.3" text-anchor="end" fill="#222" stroke="#222" stroke-width="0.2">1500000</text>
<line x1="211.20" y1="217.70" x2="214.00" y2="217.70" stroke="#1a1a1a" stroke-width="0.8" />
<text x="208.00" y="220.20" font-size="6.3" text-anchor="end" fill="#222" stroke="#222" stroke-width="0.2">1000000</text>
<line x1="211.20" y1="239.45" x2="214.00" y2="239.45" stroke="#1a1a1a" stroke-width="0.8" />
<text x="208.00" y="241.95" font-size="6.3" text-anchor="end" fill="#222" stroke="#222" stroke-width="0.2">500000</text>
<line x1="211.20" y1="261.20" x2="214.00" y2="261.20" stroke="#1a1a1a" stroke-width="0.8" />
<text x="208.00" y="263.70" font-size="6.3" text-anchor="end" fill="#222" stroke="#222" stroke-width="0.2">0</text>
<line x1="252.00" y1="265.90" x2="252.00" y2="268.40" stroke="#1a1a1a" stroke-width="0.8" />
<line x1="315.20" y1="265.90" x2="315.20" y2="268.40" stroke="#1a1a1a" stroke-width="0.8" />
<text x="252.00" y="277.20" font-size="6.1" text-anchor="middle" fill="#222" stroke="#222" stroke-width="0.2">Fresh</text>
<text x="315.20" y="277.20" font-size="6.1" text-anchor="middle" fill="#222" stroke="#222" stroke-width="0.2">Stored</text>
<text x="425.70" y="157.20" font-size="6.1" text-anchor="middle" fill="#1a1a1a" stroke="#1a1a1a" stroke-width="0.2">17-HpDHA</text>
<path d="M407.00 170.70 V168.10 H472.80 V170.70" fill="none" stroke="#444" stroke-width="0.8"/>
<text x="439.90" y="167.50" font-size="6" text-anchor="middle" fill="#222" stroke="#222" stroke-width="0.25">****</text>
<line x1="407.60" y1="230.80" x2="407.60" y2="254.60" stroke="#555" stroke-width="0.55" />
<path d="M405.5 245.0 L405.1 245.8 L404.3 246.6 L403.8 247.4 L403.7 248.2 L404.1 249.0 L403.6 249.8 L403.9 250.6 L403.6 251.4 L403.5 252.2 L403.3 253.0 L404.0 253.8 L403.9 254.6 L403.8 255.4 L403.9 256.2 L403.4 257.0 L403.5 257.8 L404.4 258.6 L404.2 259.4 L404.4 259.8 L410.7 259.8 L410.9 259.4 L411.1 258.6 L411.4 257.8 L411.6 257.0 L411.4 256.2 L411.6 255.4 L411.6 254.6 L411.4 253.8 L411.6 253.0 L411.8 252.2 L411.5 251.4 L410.8 250.6 L411.7 249.8 L410.8 249.0 L411.4 248.2 L411.1 247.4 L410.3 246.6 L410.4 245.8 L409.7 245.0Z" fill="#0b0b0b"/>
<path d="M408.0 230.5h0M409.1 244.6h0M406.7 242.9h0M406.8 237.5h0M406.8 242.8h0M405.8 241.9h0M406.9 237.5h0M403.5 252.1h0M404.6 259.3h0M411.4 247.8h0M404.2 249.7h0M403.7 253.6h0M405.1 246.1h0M410.8 259.5h0M410.7 258.7h0M404.0 256.8h0M404.4 247.5h0M411.5 248.6h0M410.9 248.5h0M404.3 255.4h0M411.7 254.1h0M403.5 252.2h0M410.7 252.9h0M404.0 247.5h0M411.6 253.6h0M403.7 257.6h0M411.1 254.8h0M404.4 247.8h0M410.9 257.0h0M410.6 246.3h0" stroke="#111" stroke-width="1.45" stroke-linecap="round" fill="none"/>
<path d="M377.50 257.40 L405.60 254.30 Q407.60 253.70 409.60 254.30 L437.00 257.40 L409.60 259.80 Q407.60 260.20 405.60 259.80 Z" fill="#dde8f4" fill-opacity="0.8" stroke="#8397ab" stroke-width="0.6"/>
<rect x="401.80" y="254.60" width="10.70" height="4.20" fill="#c9def2" stroke="#2c4660" stroke-width="0.6" />
<line x1="401.80" y1="256.80" x2="412.50" y2="256.80" stroke="#1a2a3a" stroke-width="0.7" />
<circle cx="407.60" cy="256.80" r="0.9" fill="#111"/>
<line x1="472.80" y1="177.70" x2="472.80" y2="235.30" stroke="#555" stroke-width="0.55" />
<path d="M470.8 226.0 L470.3 226.8 L470.1 227.6 L470.2 228.4 L469.1 229.2 L469.0 230.0 L469.4 230.8 L469.0 231.6 L468.9 232.4 L469.5 233.2 L468.7 234.0 L468.9 234.8 L469.1 235.6 L469.2 236.4 L469.0 237.2 L468.1 238.0 L468.5 238.8 L468.4 239.6 L468.8 240.4 L469.0 241.2 L468.9 242.0 L468.6 242.8 L468.4 243.6 L468.6 244.4 L468.1 245.2 L468.5 246.0 L468.4 246.8 L468.2 247.6 L468.2 248.4 L468.6 249.2 L469.0 250.0 L468.6 250.8 L469.0 251.6 L469.1 252.4 L469.2 253.2 L468.5 254.0 L468.2 254.8 L469.0 255.6 L468.6 256.4 L468.7 257.2 L468.2 258.0 L468.9 258.8 L469.0 259.6 L469.5 260.4 L469.6 260.8 L475.7 260.8 L475.8 260.4 L476.5 259.6 L476.3 258.8 L477.1 258.0 L476.6 257.2 L476.4 256.4 L477.2 255.6 L476.6 254.8 L476.8 254.0 L476.5 253.2 L476.5 252.4 L477.0 251.6 L476.9 250.8 L477.5 250.0 L477.6 249.2 L476.5 248.4 L476.9 247.6 L476.4 246.8 L477.4 246.0 L476.4 245.2 L476.5 244.4 L476.8 243.6 L477.5 242.8 L476.7 242.0 L476.8 241.2 L476.5 240.4 L477.5 239.6 L476.7 238.8 L477.1 238.0 L477.5 237.2 L476.5 236.4 L477.2 235.6 L476.7 234.8 L477.3 234.0 L477.1 233.2 L477.1 232.4 L476.1 231.6 L476.0 230.8 L476.5 230.0 L476.1 229.2 L475.7 228.4 L475.5 227.6 L475.1 226.8 L474.6 226.0Z" fill="#0b0b0b"/>
<path d="M473.6 179.8h0M471.7 179.2h0M472.9 178.4h0M475.6 197.0h0M471.6 199.8h0M472.4 192.9h0M472.7 193.0h0M469.8 199.6h0M471.5 192.6h0M470.7 194.8h0M470.1 184.6h0M470.9 200.7h0M474.0 197.7h0M469.9 208.5h0M474.5 211.4h0M472.4 204.8h0M471.9 213.5h0M475.6 210.1h0M471.7 210.0h0M473.3 208.6h0M475.3 209.6h0M469.9 211.3h0M474.2 205.0h0M473.0 213.8h0M473.9 210.7h0M472.6 208.2h0M476.3 206.8h0M472.5 204.9h0M472.9 210.6h0M474.2 213.8h0M471.1 206.1h0M471.8 207.3h0M475.8 206.1h0M472.6 214.0h0M472.1 208.6h0M472.2 207.2h0M471.5 212.4h0M469.3 204.7h0M475.0 211.2h0M472.3 208.8h0M472.6 206.6h0M472.3 207.6h0M473.5 207.4h0M473.4 204.4h0M476.3 204.1h0M472.6 207.8h0M470.1 213.7h0M472.4 205.9h0M471.6 205.9h0M473.1 214.0h0M476.1 206.3h0M474.3 209.6h0M474.7 205.6h0M468.9 214.3h0M476.3 213.0h0M468.9 220.8h0M469.0 215.3h0M476.7 215.4h0M475.1 228.0h0M472.4 220.4h0M470.3 218.2h0M473.1 222.8h0M473.1 218.9h0M476.1 220.7h0M471.8 221.0h0M475.7 223.5h0M474.9 227.7h0M471.6 225.7h0M469.3 221.2h0M472.5 219.4h0M469.9 227.2h0M471.4 219.5h0M469.5 228.4h0M476.0 215.5h0M471.8 217.4h0M470.1 227.8h0M473.8 229.3h0M474.4 218.3h0M475.2 214.0h0M473.6 221.8h0M469.2 217.5h0M473.0 214.3h0M469.2 223.7h0M476.9 223.2h0M477.1 221.2h0M469.4 215.1h0M472.4 228.6h0M475.5 230.5h0M473.6 226.3h0M473.2 215.1h0M473.2 217.3h0M475.5 227.6h0M470.4 214.5h0M471.0 212.4h0M470.2 230.2h0M476.4 220.2h0M476.1 215.6h0M477.1 222.8h0M473.8 217.3h0M468.6 222.3h0M473.9 225.4h0M475.2 229.6h0M468.7 224.9h0M469.3 228.1h0M473.1 212.1h0M471.9 228.0h0M476.1 229.5h0M472.9 225.0h0M474.4 221.4h0M475.1 215.1h0M470.5 223.7h0M474.9 230.6h0M469.1 231.0h0M471.1 219.0h0M474.5 230.8h0M470.3 219.5h0M476.2 228.1h0M472.1 217.1h0M475.4 215.8h0M471.7 212.3h0M470.4 220.5h0M472.8 226.6h0M473.8 216.3h0M471.9 216.6h0M469.7 215.1h0M476.7 227.2h0M475.8 225.7h0M470.8 226.1h0M473.1 227.0h0M473.5 224.2h0M469.6 228.4h0M474.6 222.8h0M470.7 224.6h0M472.1 216.2h0M475.1 225.3h0M475.4 230.9h0M471.9 223.4h0M469.2 224.5h0M475.6 220.0h0M468.7 225.5h0M471.9 215.6h0M475.0 219.8h0M472.9 223.4h0M472.4 224.9h0M471.0 216.4h0M472.5 227.3h0M471.3 215.6h0M470.7 218.7h0M469.7 220.9h0M473.5 230.9h0M469.3 217.0h0M469.9 219.1h0M475.9 215.1h0M472.9 220.1h0M475.7 222.6h0M477.1 228.3h0M476.4 226.8h0M469.4 214.1h0M476.9 215.5h0M469.1 223.7h0M473.6 215.2h0M472.2 219.8h0M472.5 218.8h0M469.6 224.4h0M471.4 228.3h0M477.0 212.7h0M475.1 226.0h0M471.0 223.0h0M471.0 228.4h0M471.4 224.2h0M470.7 228.4h0M470.4 230.0h0M469.9 219.8h0M474.5 219.6h0M475.3 215.3h0M477.0 221.8h0M476.2 215.3h0M472.0 221.5h0M476.6 230.9h0M471.9 219.5h0M471.5 213.5h0M469.7 226.5h0M469.4 227.7h0M472.1 215.6h0M471.2 214.4h0M474.0 217.0h0M473.8 220.6h0M473.9 213.7h0M474.8 215.7h0M472.1 230.0h0M477.0 222.3h0M472.5 222.0h0M474.1 230.3h0M476.1 230.0h0M477.3 247.5h0M469.4 230.9h0M470.0 260.6h0M476.9 234.8h0M468.4 237.1h0M476.0 232.4h0M476.8 241.3h0M469.1 239.9h0M469.2 260.3h0M476.9 242.1h0M476.3 255.3h0M469.5 234.1h0M468.8 247.1h0M469.3 242.4h0M468.8 241.0h0M468.6 233.4h0M469.0 247.0h0M469.2 246.7h0M476.5 239.1h0M476.4 246.5h0M477.0 243.1h0M477.1 233.1h0M477.5 241.3h0M468.3 250.8h0M469.2 251.2h0M475.4 226.7h0M476.2 228.5h0M469.4 234.3h0M475.6 227.4h0M469.6 228.7h0M476.4 246.1h0M468.8 243.1h0M469.3 238.3h0M475.7 228.0h0M476.9 245.0h0M477.4 257.3h0M469.1 245.8h0M476.9 240.3h0M477.0 254.2h0M468.8 257.8h0M468.4 232.8h0M477.3 234.4h0M477.0 237.8h0M477.0 255.3h0M469.9 229.3h0M477.0 247.0h0M477.3 256.2h0M469.1 236.1h0M476.8 235.6h0M469.3 229.1h0M477.2 251.3h0M469.1 250.7h0M477.5 245.6h0M476.5 257.2h0" stroke="#111" stroke-width="1.45" stroke-linecap="round" fill="none"/>
<rect x="466.30" y="235.30" width="12.60" height="14.80" fill="#a6cdee" stroke="#2c4660" stroke-width="0.6" />
<line x1="466.30" y1="244.80" x2="478.90" y2="244.80" stroke="#1a2a3a" stroke-width="0.7" />
<circle cx="472.80" cy="244.80" r="0.9" fill="#111"/>
<line x1="368.30" y1="161.00" x2="368.30" y2="266.60" stroke="#1a1a1a" stroke-width="1.25" />
<line x1="367.70" y1="266.00" x2="493.80" y2="266.00" stroke="#1a1a1a" stroke-width="1.25" />
<line x1="365.50" y1="185.30" x2="368.30" y2="185.30" stroke="#1a1a1a" stroke-width="0.8" />
<text x="362.30" y="187.80" font-size="6.3" text-anchor="end" fill="#222" stroke="#222" stroke-width="0.2">1e+06</text>
<line x1="365.50" y1="222.60" x2="368.30" y2="222.60" stroke="#1a1a1a" stroke-width="0.8" />
<text x="362.30" y="225.10" font-size="6.3" text-anchor="end" fill="#222" stroke="#222" stroke-width="0.2">5e+05</text>
<line x1="365.50" y1="259.90" x2="368.30" y2="259.90" stroke="#1a1a1a" stroke-width="0.8" />
<text x="362.30" y="262.40" font-size="6.3" text-anchor="end" fill="#222" stroke="#222" stroke-width="0.2">0e+00</text>
<line x1="407.00" y1="266.00" x2="407.00" y2="268.50" stroke="#1a1a1a" stroke-width="0.8" />
<line x1="472.80" y1="266.00" x2="472.80" y2="268.50" stroke="#1a1a1a" stroke-width="0.8" />
<text x="407.00" y="277.20" font-size="6.1" text-anchor="middle" fill="#222" stroke="#222" stroke-width="0.2">Fresh</text>
<text x="472.80" y="277.20" font-size="6.1" text-anchor="middle" fill="#222" stroke="#222" stroke-width="0.2">Stored</text>
<text x="177.50" y="214.10" font-size="8.0" text-anchor="middle" fill="#111" textLength="29.2" lengthAdjust="spacingAndGlyphs" transform="rotate(-90 177.50 214.10)" stroke="#111" stroke-width="0.25">X15SHpETE</text>
<text x="6.60" y="304.20" font-size="11.2" text-anchor="start" fill="#000" font-weight="bold" >G</text>
<path d="M40.2 312.6 V305.2 H125.6 V309.9 M103 312.6 V309.9 H147 V312.6" fill="none" stroke="#8a8a8a" stroke-width="0.7"/>
<line x1="18.00" y1="311.60" x2="60.00" y2="311.60" stroke="#9a9aa8" stroke-width="0.5" />
<line x1="60.00" y1="312.00" x2="80.00" y2="312.00" stroke="#9a9aa8" stroke-width="0.5" />
<line x1="88.00" y1="311.80" x2="118.00" y2="311.80" stroke="#9a9aa8" stroke-width="0.5" />
<line x1="120.00" y1="311.40" x2="140.00" y2="311.40" stroke="#9a9aa8" stroke-width="0.5" />
<line x1="140.00" y1="312.00" x2="160.00" y2="312.00" stroke="#9a9aa8" stroke-width="0.5" />
<rect x="14.60" y="312.60" width="66.10" height="3.00" fill="#7b72b6" stroke="none" stroke-width="0.5" />
<rect x="80.70" y="312.60" width="83.70" height="3.00" fill="#3fa548" stroke="none" stroke-width="0.5" />
<rect x="121.00" y="312.60" width="11.00" height="1.20" fill="#7b72b6" stroke="none" stroke-width="0.5" opacity="0.7"/>
<rect x="14.60" y="312.20" width="149.80" height="1.00" fill="#8a88a8" stroke="none" stroke-width="0.5" opacity="0.55"/>
<rect x="100.00" y="312.40" width="50.00" height="1.30" fill="#8f86c0" stroke="none" stroke-width="0.5" opacity="0.5"/>
<rect x="14.60" y="315.60" width="149.80" height="89.20" fill="#f6f8fb" stroke="none" stroke-width="0.5" />
<rect x="14.6" y="315.6" width="1.05" height="6.91" fill="rgb(246, 247, 252)"/>
<rect x="14.6" y="322.5" width="1.05" height="6.91" fill="rgb(246, 248, 253)"/>
<rect x="14.6" y="329.3" width="1.05" height="6.91" fill="rgb(252, 238, 231)"/>
<rect x="14.6" y="336.2" width="1.05" height="6.91" fill="rgb(247, 251, 252)"/>
<rect x="14.6" y="343.0" width="1.05" height="6.91" fill="rgb(247, 250, 252)"/>
<rect x="14.6" y="349.9" width="1.05" height="6.91" fill="rgb(248, 248, 254)"/>
<rect x="14.6" y="356.8" width="1.05" height="6.91" fill="rgb(247, 247, 252)"/>
<rect x="14.6" y="363.6" width="1.05" height="6.91" fill="rgb(248, 249, 252)"/>
<rect x="14.6" y="370.5" width="1.05" height="6.91" fill="rgb(246, 248, 253)"/>
<rect x="14.6" y="377.4" width="1.05" height="6.91" fill="rgb(246, 247, 253)"/>
<rect x="14.6" y="384.2" width="1.05" height="6.91" fill="rgb(248, 251, 254)"/>
<rect x="14.6" y="391.1" width="1.05" height="6.91" fill="rgb(246, 250, 252)"/>
<rect x="14.6" y="397.9" width="1.05" height="6.91" fill="rgb(244, 251, 253)"/>
<rect x="15.6" y="315.6" width="1.05" height="6.91" fill="rgb(247, 251, 253)"/>
<rect x="15.6" y="322.5" width="1.05" height="6.91" fill="rgb(245, 250, 254)"/>
<rect x="15.6" y="329.3" width="1.05" height="6.91" fill="rgb(252, 238, 231)"/>
<rect x="15.6" y="336.2" width="1.05" height="6.91" fill="rgb(245, 248, 254)"/>
<rect x="15.6" y="343.0" width="1.05" height="6.91" fill="rgb(246, 249, 253)"/>
<rect x="15.6" y="349.9" width="1.05" height="6.91" fill="rgb(246, 249, 252)"/>
<rect x="15.6" y="356.8" width="1.05" height="6.91" fill="rgb(244, 247, 253)"/>
<rect x="15.6" y="363.6" width="1.05" height="6.91" fill="rgb(245, 249, 252)"/>
<rect x="15.6" y="370.5" width="1.05" height="6.91" fill="rgb(249, 251, 252)"/>
<rect x="15.6" y="377.4" width="1.05" height="6.91" fill="rgb(246, 247, 253)"/>
<rect x="15.6" y="384.2" width="1.05" height="6.91" fill="rgb(245, 250, 254)"/>
<rect x="15.6" y="391.1" width="1.05" height="6.91" fill="rgb(248, 251, 252)"/>
<rect x="15.6" y="397.9" width="1.05" height="6.91" fill="rgb(249, 249, 252)"/>
<rect x="16.6" y="315.6" width="1.05" height="6.91" fill="rgb(246, 249, 254)"/>
<rect x="16.6" y="322.5" width="1.05" height="6.91" fill="rgb(244, 250, 254)"/>
<rect x="16.6" y="329.3" width="1.05" height="6.91" fill="rgb(252, 236, 228)"/>
<rect x="16.6" y="336.2" width="1.05" height="6.91" fill="rgb(248, 250, 252)"/>
<rect x="16.6" y="343.0" width="1.05" height="6.91" fill="rgb(246, 248, 254)"/>
<rect x="16.6" y="349.9" width="1.05" height="6.91" fill="rgb(249, 251, 254)"/>
<rect x="16.6" y="356.8" width="1.05" height="6.91" fill="rgb(245, 249, 254)"/>
<rect x="16.6" y="363.6" width="1.05" height="6.91" fill="rgb(248, 247, 254)"/>
<rect x="16.6" y="370.5" width="1.05" height="6.91" fill="rgb(247, 247, 252)"/>
<rect x="16.6" y="377.4" width="1.05" height="6.91" fill="rgb(245, 247, 254)"/>
<rect x="16.6" y="384.2" width="1.05" height="6.91" fill="rgb(248, 251, 254)"/>
<rect x="16.6" y="391.1" width="1.05" height="6.91" fill="rgb(247, 250, 253)"/>
<rect x="16.6" y="397.9" width="1.05" height="6.91" fill="rgb(246, 247, 252)"/>
<rect x="17.6" y="315.6" width="1.05" height="6.91" fill="rgb(246, 249, 252)"/>
<rect x="17.6" y="322.5" width="1.05" height="6.91" fill="rgb(249, 251, 253)"/>
<rect x="17.6" y="329.3" width="1.05" height="6.91" fill="rgb(252, 237, 230)"/>
<rect x="17.6" y="336.2" width="1.05" height="6.91" fill="rgb(244, 251, 253)"/>
<rect x="17.6" y="343.0" width="1.05" height="6.91" fill="rgb(244, 247, 252)"/>
<rect x="17.6" y="349.9" width="1.05" height="6.91" fill="rgb(248, 248, 252)"/>
<rect x="17.6" y="356.8" width="1.05" height="6.91" fill="rgb(245, 251, 254)"/>
<rect x="17.6" y="363.6" width="1.05" height="6.91" fill="rgb(246, 249, 253)"/>
<rect x="17.6" y="370.5" width="1.05" height="6.91" fill="rgb(248, 251, 252)"/>
<rect x="17.6" y="377.4" width="1.05" height="6.91" fill="rgb(247, 250, 254)"/>
<rect x="17.6" y="384.2" width="1.05" height="6.91" fill="rgb(244, 250, 252)"/>
<rect x="17.6" y="391.1" width="1.05" height="6.91" fill="rgb(244, 247, 253)"/>
<rect x="17.6" y="397.9" width="1.05" height="6.91" fill="rgb(245, 247, 254)"/>
<rect x="18.6" y="315.6" width="1.05" height="6.91" fill="rgb(244, 248, 254)"/>
<rect x="18.6" y="322.5" width="1.05" height="6.91" fill="rgb(246, 249, 254)"/>
<rect x="18.6" y="329.3" width="1.05" height="6.91" fill="rgb(252, 239, 233)"/>
<rect x="18.6" y="336.2" width="1.05" height="6.91" fill="rgb(248, 251, 253)"/>
<rect x="18.6" y="343.0" width="1.05" height="6.91" fill="rgb(249, 248, 253)"/>
<rect x="18.6" y="349.9" width="1.05" height="6.91" fill="rgb(244, 248, 253)"/>
<rect x="18.6" y="356.8" width="1.05" height="6.91" fill="rgb(244, 251, 254)"/>
<rect x="18.6" y="363.6" width="1.05" height="6.91" fill="rgb(247, 248, 252)"/>
<rect x="18.6" y="370.5" width="1.05" height="6.91" fill="rgb(248, 248, 253)"/>
<rect x="18.6" y="377.4" width="1.05" height="6.91" fill="rgb(244, 248, 253)"/>
<rect x="18.6" y="384.2" width="1.05" height="6.91" fill="rgb(247, 251, 253)"/>
<rect x="18.6" y="391.1" width="1.05" height="6.91" fill="rgb(247, 247, 254)"/>
<rect x="18.6" y="397.9" width="1.05" height="6.91" fill="rgb(247, 249, 252)"/>
<rect x="19.6" y="315.6" width="1.05" height="6.91" fill="rgb(244, 247, 254)"/>
<rect x="19.6" y="322.5" width="1.05" height="6.91" fill="rgb(246, 248, 253)"/>
<rect x="19.6" y="329.3" width="1.05" height="6.91" fill="rgb(252, 239, 233)"/>
<rect x="19.6" y="336.2" width="1.05" height="6.91" fill="rgb(247, 248, 254)"/>
<rect x="19.6" y="343.0" width="1.05" height="6.91" fill="rgb(246, 249, 254)"/>
<rect x="19.6" y="349.9" width="1.05" height="6.91" fill="rgb(248, 249, 254)"/>
<rect x="19.6" y="356.8" width="1.05" height="6.91" fill="rgb(247, 250, 252)"/>
<rect x="19.6" y="363.6" width="1.05" height="6.91" fill="rgb(245, 249, 252)"/>
<rect x="19.6" y="370.5" width="1.05" height="6.91" fill="rgb(246, 250, 253)"/>
<rect x="19.6" y="377.4" width="1.05" height="6.91" fill="rgb(245, 250, 253)"/>
<rect x="19.6" y="384.2" width="1.05" height="6.91" fill="rgb(249, 250, 254)"/>
<rect x="19.6" y="391.1" width="1.05" height="6.91" fill="rgb(246, 251, 253)"/>
<rect x="19.6" y="397.9" width="1.05" height="6.91" fill="rgb(245, 249, 252)"/>
<rect x="20.6" y="315.6" width="1.05" height="6.91" fill="rgb(247, 247, 254)"/>
<rect x="20.6" y="322.5" width="1.05" height="6.91" fill="rgb(245, 247, 253)"/>
<rect x="20.6" y="329.3" width="1.05" height="6.91" fill="rgb(252, 236, 229)"/>
<rect x="20.6" y="336.2" width="1.05" height="6.91" fill="rgb(244, 248, 252)"/>
<rect x="20.6" y="343.0" width="1.05" height="6.91" fill="rgb(249, 248, 254)"/>
<rect x="20.6" y="349.9" width="1.05" height="6.91" fill="rgb(248, 249, 253)"/>
<rect x="20.6" y="356.8" width="1.05" height="6.91" fill="rgb(244, 247, 252)"/>
<rect x="20.6" y="363.6" width="1.05" height="6.91" fill="rgb(246, 247, 253)"/>
<rect x="20.6" y="370.5" width="1.05" height="6.91" fill="rgb(245, 250, 253)"/>
<rect x="20.6" y="377.4" width="1.05" height="6.91" fill="rgb(247, 247, 253)"/>
<rect x="20.6" y="384.2" width="1.05" height="6.91" fill="rgb(249, 249, 253)"/>
<rect x="20.6" y="391.1" width="1.05" height="6.91" fill="rgb(244, 247, 253)"/>
<rect x="20.6" y="397.9" width="1.05" height="6.91" fill="rgb(249, 248, 253)"/>
<rect x="21.6" y="315.6" width="1.05" height="6.91" fill="rgb(246, 247, 254)"/>
<rect x="21.6" y="322.5" width="1.05" height="6.91" fill="rgb(247, 248, 254)"/>
<rect x="21.6" y="329.3" width="1.05" height="6.91" fill="rgb(252, 236, 228)"/>
<rect x="21.6" y="336.2" width="1.05" height="6.91" fill="rgb(245, 251, 252)"/>
<rect x="21.6" y="343.0" width="1.05" height="6.91" fill="rgb(247, 247, 254)"/>
<rect x="21.6" y="349.9" width="1.05" height="6.91" fill="rgb(245, 251, 252)"/>
<rect x="21.6" y="356.8" width="1.05" height="6.91" fill="rgb(244, 248, 252)"/>
<rect x="21.6" y="363.6" width="1.05" height="6.91" fill="rgb(247, 247, 252)"/>
<rect x="21.6" y="370.5" width="1.05" height="6.91" fill="rgb(249, 249, 253)"/>
<rect x="21.6" y="377.4" width="1.05" height="6.91" fill="rgb(248, 251, 253)"/>
<rect x="21.6" y="384.2" width="1.05" height="6.91" fill="rgb(244, 248, 252)"/>
<rect x="21.6" y="391.1" width="1.05" height="6.91" fill="rgb(245, 249, 252)"/>
<rect x="21.6" y="397.9" width="1.05" height="6.91" fill="rgb(244, 249, 253)"/>
<rect x="22.6" y="315.6" width="1.05" height="6.91" fill="rgb(248, 251, 253)"/>
<rect x="22.6" y="322.5" width="1.05" height="6.91" fill="rgb(245, 248, 252)"/>
<rect x="22.6" y="329.3" width="1.05" height="6.91" fill="rgb(252, 242, 237)"/>
<rect x="22.6" y="336.2" width="1.05" height="6.91" fill="rgb(245, 251, 252)"/>
<rect x="22.6" y="343.0" width="1.05" height="6.91" fill="rgb(245, 249, 252)"/>
<rect x="22.6" y="349.9" width="1.05" height="6.91" fill="rgb(245, 248, 253)"/>
<rect x="22.6" y="356.8" width="1.05" height="6.91" fill="rgb(247, 249, 252)"/>
<rect x="22.6" y="363.6" width="1.05" height="6.91" fill="rgb(245, 251, 252)"/>
<rect x="22.6" y="370.5" width="1.05" height="6.91" fill="rgb(246, 250, 253)"/>
<rect x="22.6" y="377.4" width="1.05" height="6.91" fill="rgb(246, 247, 253)"/>
<rect x="22.6" y="384.2" width="1.05" height="6.91" fill="rgb(244, 250, 254)"/>
<rect x="22.6" y="391.1" width="1.05" height="6.91" fill="rgb(249, 248, 253)"/>
<rect x="22.6" y="397.9" width="1.05" height="6.91" fill="rgb(247, 251, 254)"/>
<rect x="23.6" y="315.6" width="1.05" height="6.91" fill="rgb(248, 249, 252)"/>
<rect x="23.6" y="322.5" width="1.05" height="6.91" fill="rgb(249, 247, 254)"/>
<rect x="23.6" y="329.3" width="1.05" height="6.91" fill="rgb(252, 241, 235)"/>
<rect x="23.6" y="336.2" width="1.05" height="6.91" fill="rgb(248, 249, 252)"/>
<rect x="23.6" y="343.0" width="1.05" height="6.91" fill="rgb(244, 248, 252)"/>
<rect x="23.6" y="349.9" width="1.05" height="6.91" fill="rgb(244, 247, 254)"/>
<rect x="23.6" y="356.8" width="1.05" height="6.91" fill="rgb(248, 247, 254)"/>
<rect x="23.6" y="363.6" width="1.05" height="6.91" fill="rgb(249, 248, 253)"/>
<rect x="23.6" y="370.5" width="1.05" height="6.91" fill="rgb(249, 251, 252)"/>
<rect x="23.6" y="377.4" width="1.05" height="6.91" fill="rgb(247, 250, 252)"/>
<rect x="23.6" y="384.2" width="1.05" height="6.91" fill="rgb(244, 250, 254)"/>
<rect x="23.6" y="391.1" width="1.05" height="6.91" fill="rgb(245, 249, 252)"/>
<rect x="23.6" y="397.9" width="1.05" height="6.91" fill="rgb(249, 251, 252)"/>
<rect x="24.6" y="315.6" width="1.05" height="6.91" fill="rgb(249, 251, 254)"/>
<rect x="24.6" y="322.5" width="1.05" height="6.91" fill="rgb(246, 250, 254)"/>
<rect x="24.6" y="329.3" width="1.05" height="6.91" fill="rgb(252, 239, 232)"/>
<rect x="24.6" y="336.2" width="1.05" height="6.91" fill="rgb(246, 249, 252)"/>
<rect x="24.6" y="343.0" width="1.05" height="6.91" fill="rgb(245, 247, 252)"/>
<rect x="24.6" y="349.9" width="1.05" height="6.91" fill="rgb(248, 248, 254)"/>
<rect x="24.6" y="356.8" width="1.05" height="6.91" fill="rgb(247, 251, 252)"/>
<rect x="24.6" y="363.6" width="1.05" height="6.91" fill="rgb(245, 248, 253)"/>
<rect x="24.6" y="370.5" width="1.05" height="6.91" fill="rgb(244, 248, 254)"/>
<rect x="24.6" y="377.4" width="1.05" height="6.91" fill="rgb(246, 248, 252)"/>
<rect x="24.6" y="384.2" width="1.05" height="6.91" fill="rgb(249, 250, 254)"/>
<rect x="24.6" y="391.1" width="1.05" height="6.91" fill="rgb(249, 248, 252)"/>
<rect x="24.6" y="397.9" width="1.05" height="6.91" fill="rgb(245, 251, 253)"/>
<rect x="25.6" y="315.6" width="1.05" height="6.91" fill="rgb(247, 251, 252)"/>
<rect x="25.6" y="322.5" width="1.05" height="6.91" fill="rgb(247, 248, 253)"/>
<rect x="25.6" y="329.3" width="1.05" height="6.91" fill="rgb(252, 236, 228)"/>
<rect x="25.6" y="336.2" width="1.05" height="6.91" fill="rgb(249, 250, 252)"/>
<rect x="25.6" y="343.0" width="1.05" height="6.91" fill="rgb(249, 250, 252)"/>
<rect x="25.6" y="349.9" width="1.05" height="6.91" fill="rgb(245, 250, 252)"/>
<rect x="25.6" y="356.8" width="1.05" height="6.91" fill="rgb(245, 251, 254)"/>
<rect x="25.6" y="363.6" width="1.05" height="6.91" fill="rgb(248, 249, 254)"/>
<rect x="25.6" y="370.5" width="1.05" height="6.91" fill="rgb(247, 251, 252)"/>
<rect x="25.6" y="377.4" width="1.05" height="6.91" fill="rgb(249, 251, 254)"/>
<rect x="25.6" y="384.2" width="1.05" height="6.91" fill="rgb(248, 251, 253)"/>
<rect x="25.6" y="391.1" width="1.05" height="6.91" fill="rgb(248, 251, 253)"/>
<rect x="25.6" y="397.9" width="1.05" height="6.91" fill="rgb(244, 251, 253)"/>
<rect x="26.6" y="315.6" width="1.05" height="6.91" fill="rgb(245, 248, 253)"/>
<rect x="26.6" y="322.5" width="1.05" height="6.91" fill="rgb(248, 251, 252)"/>
<rect x="26.6" y="329.3" width="1.05" height="6.91" fill="rgb(248, 248, 253)"/>
<rect x="26.6" y="336.2" width="1.05" height="6.91" fill="rgb(247, 247, 253)"/>
<rect x="26.6" y="343.0" width="1.05" height="6.91" fill="rgb(249, 250, 252)"/>
<rect x="26.6" y="349.9" width="1.05" height="6.91" fill="rgb(245, 249, 254)"/>
<rect x="26.6" y="356.8" width="1.05" height="6.91" fill="rgb(247, 250, 253)"/>
<rect x="26.6" y="363.6" width="1.05" height="6.91" fill="rgb(249, 247, 254)"/>
<rect x="26.6" y="370.5" width="1.05" height="6.91" fill="rgb(249, 248, 254)"/>
<rect x="26.6" y="377.4" width="1.05" height="6.91" fill="rgb(245, 248, 254)"/>
<rect x="26.6" y="384.2" width="1.05" height="6.91" fill="rgb(246, 249, 254)"/>
<rect x="26.6" y="391.1" width="1.05" height="6.91" fill="rgb(249, 249, 252)"/>
<rect x="26.6" y="397.9" width="1.05" height="6.91" fill="rgb(246, 248, 253)"/>
<rect x="27.6" y="315.6" width="1.05" height="6.91" fill="rgb(247, 248, 254)"/>
<rect x="27.6" y="322.5" width="1.05" height="6.91" fill="rgb(245, 251, 254)"/>
<rect x="27.6" y="329.3" width="1.05" height="6.91" fill="rgb(246, 247, 253)"/>
<rect x="27.6" y="336.2" width="1.05" height="6.91" fill="rgb(248, 247, 253)"/>
<rect x="27.6" y="343.0" width="1.05" height="6.91" fill="rgb(247, 249, 253)"/>
<rect x="27.6" y="349.9" width="1.05" height="6.91" fill="rgb(245, 247, 252)"/>
<rect x="27.6" y="356.8" width="1.05" height="6.91" fill="rgb(245, 251, 253)"/>
<rect x="27.6" y="363.6" width="1.05" height="6.91" fill="rgb(244, 249, 252)"/>
<rect x="27.6" y="370.5" width="1.05" height="6.91" fill="rgb(244, 248, 254)"/>
<rect x="27.6" y="377.4" width="1.05" height="6.91" fill="rgb(246, 247, 254)"/>
<rect x="27.6" y="384.2" width="1.05" height="6.91" fill="rgb(246, 250, 253)"/>
<rect x="27.6" y="391.1" width="1.05" height="6.91" fill="rgb(249, 250, 253)"/>
<rect x="27.6" y="397.9" width="1.05" height="6.91" fill="rgb(244, 247, 253)"/>
<rect x="28.6" y="315.6" width="1.05" height="6.91" fill="rgb(248, 248, 252)"/>
<rect x="28.6" y="322.5" width="1.05" height="6.91" fill="rgb(244, 251, 254)"/>
<rect x="28.6" y="329.3" width="1.05" height="6.91" fill="rgb(248, 250, 253)"/>
<rect x="28.6" y="336.2" width="1.05" height="6.91" fill="rgb(249, 249, 254)"/>
<rect x="28.6" y="343.0" width="1.05" height="6.91" fill="rgb(247, 247, 252)"/>
<rect x="28.6" y="349.9" width="1.05" height="6.91" fill="rgb(247, 249, 252)"/>
<rect x="28.6" y="356.8" width="1.05" height="6.91" fill="rgb(248, 247, 253)"/>
<rect x="28.6" y="363.6" width="1.05" height="6.91" fill="rgb(245, 249, 252)"/>
<rect x="28.6" y="370.5" width="1.05" height="6.91" fill="rgb(245, 251, 253)"/>
<rect x="28.6" y="377.4" width="1.05" height="6.91" fill="rgb(244, 248, 254)"/>
<rect x="28.6" y="384.2" width="1.05" height="6.91" fill="rgb(244, 248, 254)"/>
<rect x="28.6" y="391.1" width="1.05" height="6.91" fill="rgb(248, 249, 253)"/>
<rect x="28.6" y="397.9" width="1.05" height="6.91" fill="rgb(246, 248, 253)"/>
<rect x="29.6" y="315.6" width="1.05" height="6.91" fill="rgb(248, 251, 252)"/>
<rect x="29.6" y="322.5" width="1.05" height="6.91" fill="rgb(246, 251, 252)"/>
<rect x="29.6" y="329.3" width="1.05" height="6.91" fill="rgb(244, 247, 254)"/>
<rect x="29.6" y="336.2" width="1.05" height="6.91" fill="rgb(245, 251, 252)"/>
<rect x="29.6" y="343.0" width="1.05" height="6.91" fill="rgb(244, 250, 252)"/>
<rect x="29.6" y="349.9" width="1.05" height="6.91" fill="rgb(249, 251, 253)"/>
<rect x="29.6" y="356.8" width="1.05" height="6.91" fill="rgb(244, 250, 254)"/>
<rect x="29.6" y="363.6" width="1.05" height="6.91" fill="rgb(248, 248, 252)"/>
<rect x="29.6" y="370.5" width="1.05" height="6.91" fill="rgb(245, 250, 253)"/>
<rect x="29.6" y="377.4" width="1.05" height="6.91" fill="rgb(247, 249, 252)"/>
<rect x="29.6" y="384.2" width="1.05" height="6.91" fill="rgb(246, 250, 254)"/>
<rect x="29.6" y="391.1" width="1.05" height="6.91" fill="rgb(248, 250, 252)"/>
<rect x="29.6" y="397.9" width="1.05" height="6.91" fill="rgb(247, 247, 252)"/>
<rect x="30.6" y="315.6" width="1.05" height="6.91" fill="rgb(249, 250, 253)"/>
<rect x="30.6" y="322.5" width="1.05" height="6.91" fill="rgb(245, 249, 253)"/>
<rect x="30.6" y="329.3" width="1.05" height="6.91" fill="rgb(244, 248, 253)"/>
<rect x="30.6" y="336.2" width="1.05" height="6.91" fill="rgb(249, 247, 254)"/>
<rect x="30.6" y="343.0" width="1.05" height="6.91" fill="rgb(247, 250, 253)"/>
<rect x="30.6" y="349.9" width="1.05" height="6.91" fill="rgb(248, 248, 252)"/>
<rect x="30.6" y="356.8" width="1.05" height="6.91" fill="rgb(248, 248, 252)"/>
<rect x="30.6" y="363.6" width="1.05" height="6.91" fill="rgb(247, 251, 252)"/>
<rect x="30.6" y="370.5" width="1.05" height="6.91" fill="rgb(245, 249, 254)"/>
<rect x="30.6" y="377.4" width="1.05" height="6.91" fill="rgb(246, 249, 252)"/>
<rect x="30.6" y="384.2" width="1.05" height="6.91" fill="rgb(248, 248, 253)"/>
<rect x="30.6" y="391.1" width="1.05" height="6.91" fill="rgb(248, 247, 252)"/>
<rect x="30.6" y="397.9" width="1.05" height="6.91" fill="rgb(247, 250, 254)"/>
<rect x="31.6" y="315.6" width="1.05" height="6.91" fill="rgb(245, 251, 254)"/>
<rect x="31.6" y="322.5" width="1.05" height="6.91" fill="rgb(249, 250, 252)"/>
<rect x="31.6" y="329.3" width="1.05" height="6.91" fill="rgb(244, 247, 254)"/>
<rect x="31.6" y="336.2" width="1.05" height="6.91" fill="rgb(248, 250, 252)"/>
<rect x="31.6" y="343.0" width="1.05" height="6.91" fill="rgb(248, 248, 252)"/>
<rect x="31.6" y="349.9" width="1.05" height="6.91" fill="rgb(244, 248, 252)"/>
<rect x="31.6" y="356.8" width="1.05" height="6.91" fill="rgb(244, 251, 252)"/>
<rect x="31.6" y="363.6" width="1.05" height="6.91" fill="rgb(249, 249, 253)"/>
<rect x="31.6" y="370.5" width="1.05" height="6.91" fill="rgb(249, 248, 253)"/>
<rect x="31.6" y="377.4" width="1.05" height="6.91" fill="rgb(244, 249, 252)"/>
<rect x="31.6" y="384.2" width="1.05" height="6.91" fill="rgb(248, 250, 252)"/>
<rect x="31.6" y="391.1" width="1.05" height="6.91" fill="rgb(245, 249, 254)"/>
<rect x="31.6" y="397.9" width="1.05" height="6.91" fill="rgb(245, 247, 252)"/>
<rect x="32.6" y="315.6" width="1.05" height="6.91" fill="rgb(244, 247, 252)"/>
<rect x="32.6" y="322.5" width="1.05" height="6.91" fill="rgb(248, 251, 253)"/>
<rect x="32.6" y="329.3" width="1.05" height="6.91" fill="rgb(244, 251, 254)"/>
<rect x="32.6" y="336.2" width="1.05" height="6.91" fill="rgb(248, 251, 254)"/>
<rect x="32.6" y="343.0" width="1.05" height="6.91" fill="rgb(247, 248, 253)"/>
<rect x="32.6" y="349.9" width="1.05" height="6.91" fill="rgb(247, 250, 252)"/>
<rect x="32.6" y="356.8" width="1.05" height="6.91" fill="rgb(247, 249, 254)"/>
<rect x="32.6" y="363.6" width="1.05" height="6.91" fill="rgb(245, 248, 252)"/>
<rect x="32.6" y="370.5" width="1.05" height="6.91" fill="rgb(247, 248, 253)"/>
<rect x="32.6" y="377.4" width="1.05" height="6.91" fill="rgb(249, 251, 252)"/>
<rect x="32.6" y="384.2" width="1.05" height="6.91" fill="rgb(245, 249, 252)"/>
<rect x="32.6" y="391.1" width="1.05" height="6.91" fill="rgb(247, 250, 254)"/>
<rect x="32.6" y="397.9" width="1.05" height="6.91" fill="rgb(244, 249, 253)"/>
<rect x="33.6" y="315.6" width="1.05" height="6.91" fill="rgb(246, 248, 254)"/>
<rect x="33.6" y="322.5" width="1.05" height="6.91" fill="rgb(245, 247, 252)"/>
<rect x="33.6" y="329.3" width="1.05" height="6.91" fill="rgb(245, 249, 252)"/>
<rect x="33.6" y="336.2" width="1.05" height="6.91" fill="rgb(249, 249, 253)"/>
<rect x="33.6" y="343.0" width="1.05" height="6.91" fill="rgb(246, 250, 253)"/>
<rect x="33.6" y="349.9" width="1.05" height="6.91" fill="rgb(248, 249, 254)"/>
<rect x="33.6" y="356.8" width="1.05" height="6.91" fill="rgb(245, 250, 253)"/>
<rect x="33.6" y="363.6" width="1.05" height="6.91" fill="rgb(244, 248, 253)"/>
<rect x="33.6" y="370.5" width="1.05" height="6.91" fill="rgb(245, 247, 254)"/>
<rect x="33.6" y="377.4" width="1.05" height="6.91" fill="rgb(244, 249, 254)"/>
<rect x="33.6" y="384.2" width="1.05" height="6.91" fill="rgb(248, 251, 254)"/>
<rect x="33.6" y="391.1" width="1.05" height="6.91" fill="rgb(249, 251, 252)"/>
<rect x="33.6" y="397.9" width="1.05" height="6.91" fill="rgb(248, 249, 253)"/>
<rect x="34.6" y="315.6" width="1.05" height="6.91" fill="rgb(244, 249, 252)"/>
<rect x="34.6" y="322.5" width="1.05" height="6.91" fill="rgb(247, 247, 254)"/>
<rect x="34.6" y="329.3" width="1.05" height="6.91" fill="rgb(244, 248, 254)"/>
<rect x="34.6" y="336.2" width="1.05" height="6.91" fill="rgb(246, 250, 252)"/>
<rect x="34.6" y="343.0" width="1.05" height="6.91" fill="rgb(245, 250, 253)"/>
<rect x="34.6" y="349.9" width="1.05" height="6.91" fill="rgb(247, 248, 254)"/>
<rect x="34.6" y="356.8" width="1.05" height="6.91" fill="rgb(244, 249, 253)"/>
<rect x="34.6" y="363.6" width="1.05" height="6.91" fill="rgb(249, 248, 252)"/>
<rect x="34.6" y="370.5" width="1.05" height="6.91" fill="rgb(244, 251, 252)"/>
<rect x="34.6" y="377.4" width="1.05" height="6.91" fill="rgb(246, 249, 254)"/>
<rect x="34.6" y="384.2" width="1.05" height="6.91" fill="rgb(244, 248, 253)"/>
<rect x="34.6" y="391.1" width="1.05" height="6.91" fill="rgb(248, 249, 252)"/>
<rect x="34.6" y="397.9" width="1.05" height="6.91" fill="rgb(244, 249, 253)"/>
<rect x="35.6" y="315.6" width="1.05" height="6.91" fill="rgb(246, 251, 253)"/>
<rect x="35.6" y="322.5" width="1.05" height="6.91" fill="rgb(248, 249, 254)"/>
<rect x="35.6" y="329.3" width="1.05" height="6.91" fill="rgb(246, 249, 253)"/>
<rect x="35.6" y="336.2" width="1.05" height="6.91" fill="rgb(244, 251, 253)"/>
<rect x="35.6" y="343.0" width="1.05" height="6.91" fill="rgb(245, 247, 254)"/>
<rect x="35.6" y="349.9" width="1.05" height="6.91" fill="rgb(245, 250, 252)"/>
<rect x="35.6" y="356.8" width="1.05" height="6.91" fill="rgb(245, 250, 253)"/>
<rect x="35.6" y="363.6" width="1.05" height="6.91" fill="rgb(244, 248, 254)"/>
<rect x="35.6" y="370.5" width="1.05" height="6.91" fill="rgb(249, 247, 253)"/>
<rect x="35.6" y="377.4" width="1.05" height="6.91" fill="rgb(247, 248, 252)"/>
<rect x="35.6" y="384.2" width="1.05" height="6.91" fill="rgb(249, 248, 254)"/>
<rect x="35.6" y="391.1" width="1.05" height="6.91" fill="rgb(249, 247, 253)"/>
<rect x="35.6" y="397.9" width="1.05" height="6.91" fill="rgb(247, 251, 252)"/>
<rect x="36.6" y="315.6" width="1.05" height="6.91" fill="rgb(247, 251, 253)"/>
<rect x="36.6" y="322.5" width="1.05" height="6.91" fill="rgb(246, 250, 254)"/>
<rect x="36.6" y="329.3" width="1.05" height="6.91" fill="rgb(245, 250, 253)"/>
<rect x="36.6" y="336.2" width="1.05" height="6.91" fill="rgb(245, 249, 253)"/>
<rect x="36.6" y="343.0" width="1.05" height="6.91" fill="rgb(247, 247, 254)"/>
<rect x="36.6" y="349.9" width="1.05" height="6.91" fill="rgb(248, 249, 254)"/>
<rect x="36.6" y="356.8" width="1.05" height="6.91" fill="rgb(245, 250, 254)"/>
<rect x="36.6" y="363.6" width="1.05" height="6.91" fill="rgb(247, 250, 254)"/>
<rect x="36.6" y="370.5" width="1.05" height="6.91" fill="rgb(247, 248, 254)"/>
<rect x="36.6" y="377.4" width="1.05" height="6.91" fill="rgb(244, 251, 253)"/>
<rect x="36.6" y="384.2" width="1.05" height="6.91" fill="rgb(244, 249, 253)"/>
<rect x="36.6" y="391.1" width="1.05" height="6.91" fill="rgb(244, 249, 252)"/>
<rect x="36.6" y="397.9" width="1.05" height="6.91" fill="rgb(246, 251, 253)"/>
<rect x="37.6" y="315.6" width="1.05" height="6.91" fill="rgb(247, 247, 253)"/>
<rect x="37.6" y="322.5" width="1.05" height="6.91" fill="rgb(247, 249, 254)"/>
<rect x="37.6" y="329.3" width="1.05" height="6.91" fill="rgb(246, 251, 252)"/>
<rect x="37.6" y="336.2" width="1.05" height="6.91" fill="rgb(249, 251, 252)"/>
<rect x="37.6" y="343.0" width="1.05" height="6.91" fill="rgb(244, 249, 253)"/>
<rect x="37.6" y="349.9" width="1.05" height="6.91" fill="rgb(247, 251, 253)"/>
<rect x="37.6" y="356.8" width="1.05" height="6.91" fill="rgb(245, 249, 252)"/>
<rect x="37.6" y="363.6" width="1.05" height="6.91" fill="rgb(246, 250, 252)"/>
<rect x="37.6" y="370.5" width="1.05" height="6.91" fill="rgb(246, 251, 252)"/>
<rect x="37.6" y="377.4" width="1.05" height="6.91" fill="rgb(246, 251, 253)"/>
<rect x="37.6" y="384.2" width="1.05" height="6.91" fill="rgb(246, 248, 253)"/>
<rect x="37.6" y="391.1" width="1.05" height="6.91" fill="rgb(246, 248, 253)"/>
<rect x="37.6" y="397.9" width="1.05" height="6.91" fill="rgb(249, 251, 253)"/>
<rect x="38.6" y="315.6" width="1.05" height="6.91" fill="rgb(245, 248, 254)"/>
<rect x="38.6" y="322.5" width="1.05" height="6.91" fill="rgb(249, 250, 252)"/>
<rect x="38.6" y="329.3" width="1.05" height="6.91" fill="rgb(245, 248, 252)"/>
<rect x="38.6" y="336.2" width="1.05" height="6.91" fill="rgb(247, 250, 253)"/>
<rect x="38.6" y="343.0" width="1.05" height="6.91" fill="rgb(246, 247, 252)"/>
<rect x="38.6" y="349.9" width="1.05" height="6.91" fill="rgb(249, 251, 253)"/>
<rect x="38.6" y="356.8" width="1.05" height="6.91" fill="rgb(244, 250, 254)"/>
<rect x="38.6" y="363.6" width="1.05" height="6.91" fill="rgb(245, 251, 254)"/>
<rect x="38.6" y="370.5" width="1.05" height="6.91" fill="rgb(249, 249, 252)"/>
<rect x="38.6" y="377.4" width="1.05" height="6.91" fill="rgb(245, 247, 252)"/>
<rect x="38.6" y="384.2" width="1.05" height="6.91" fill="rgb(248, 250, 252)"/>
<rect x="38.6" y="391.1" width="1.05" height="6.91" fill="rgb(245, 248, 252)"/>
<rect x="38.6" y="397.9" width="1.05" height="6.91" fill="rgb(244, 248, 254)"/>
<rect x="39.6" y="315.6" width="1.05" height="6.91" fill="rgb(245, 249, 253)"/>
<rect x="39.6" y="322.5" width="1.05" height="6.91" fill="rgb(249, 249, 253)"/>
<rect x="39.6" y="329.3" width="1.05" height="6.91" fill="rgb(244, 248, 253)"/>
<rect x="39.6" y="336.2" width="1.05" height="6.91" fill="rgb(249, 248, 254)"/>
<rect x="39.6" y="343.0" width="1.05" height="6.91" fill="rgb(245, 250, 253)"/>
<rect x="39.6" y="349.9" width="1.05" height="6.91" fill="rgb(244, 250, 253)"/>
<rect x="39.6" y="356.8" width="1.05" height="6.91" fill="rgb(249, 247, 253)"/>
<rect x="39.6" y="363.6" width="1.05" height="6.91" fill="rgb(246, 250, 253)"/>
<rect x="39.6" y="370.5" width="1.05" height="6.91" fill="rgb(248, 250, 252)"/>
<rect x="39.6" y="377.4" width="1.05" height="6.91" fill="rgb(248, 251, 253)"/>
<rect x="39.6" y="384.2" width="1.05" height="6.91" fill="rgb(247, 249, 254)"/>
<rect x="39.6" y="391.1" width="1.05" height="6.91" fill="rgb(247, 249, 253)"/>
<rect x="39.6" y="397.9" width="1.05" height="6.91" fill="rgb(245, 250, 253)"/>
<rect x="40.6" y="315.6" width="1.05" height="6.91" fill="rgb(248, 248, 252)"/>
<rect x="40.6" y="322.5" width="1.05" height="6.91" fill="rgb(248, 250, 252)"/>
<rect x="40.6" y="329.3" width="1.05" height="6.91" fill="rgb(247, 250, 254)"/>
<rect x="40.6" y="336.2" width="1.05" height="6.91" fill="rgb(249, 248, 253)"/>
<rect x="40.6" y="343.0" width="1.05" height="6.91" fill="rgb(245, 250, 252)"/>
<rect x="40.6" y="349.9" width="1.05" height="6.91" fill="rgb(248, 247, 253)"/>
<rect x="40.6" y="356.8" width="1.05" height="6.91" fill="rgb(248, 248, 252)"/>
<rect x="40.6" y="363.6" width="1.05" height="6.91" fill="rgb(244, 251, 253)"/>
<rect x="40.6" y="370.5" width="1.05" height="6.91" fill="rgb(245, 248, 253)"/>
<rect x="40.6" y="377.4" width="1.05" height="6.91" fill="rgb(245, 248, 254)"/>
<rect x="40.6" y="384.2" width="1.05" height="6.91" fill="rgb(245, 247, 253)"/>
<rect x="40.6" y="391.1" width="1.05" height="6.91" fill="rgb(245, 248, 254)"/>
<rect x="40.6" y="397.9" width="1.05" height="6.91" fill="rgb(244, 250, 254)"/>
<rect x="41.6" y="315.6" width="1.05" height="6.91" fill="rgb(246, 250, 253)"/>
<rect x="41.6" y="322.5" width="1.05" height="6.91" fill="rgb(247, 250, 254)"/>
<rect x="41.6" y="329.3" width="1.05" height="6.91" fill="rgb(246, 247, 252)"/>
<rect x="41.6" y="336.2" width="1.05" height="6.91" fill="rgb(246, 251, 253)"/>
<rect x="41.6" y="343.0" width="1.05" height="6.91" fill="rgb(249, 249, 253)"/>
<rect x="41.6" y="349.9" width="1.05" height="6.91" fill="rgb(245, 247, 254)"/>
<rect x="41.6" y="356.8" width="1.05" height="6.91" fill="rgb(245, 249, 253)"/>
<rect x="41.6" y="363.6" width="1.05" height="6.91" fill="rgb(245, 249, 253)"/>
<rect x="41.6" y="370.5" width="1.05" height="6.91" fill="rgb(249, 249, 254)"/>
<rect x="41.6" y="377.4" width="1.05" height="6.91" fill="rgb(248, 247, 252)"/>
<rect x="41.6" y="384.2" width="1.05" height="6.91" fill="rgb(248, 247, 254)"/>
<rect x="41.6" y="391.1" width="1.05" height="6.91" fill="rgb(246, 250, 253)"/>
<rect x="41.6" y="397.9" width="1.05" height="6.91" fill="rgb(245, 250, 254)"/>
<rect x="42.6" y="315.6" width="1.05" height="6.91" fill="rgb(247, 251, 252)"/>
<rect x="42.6" y="322.5" width="1.05" height="6.91" fill="rgb(244, 251, 253)"/>
<rect x="42.6" y="329.3" width="1.05" height="6.91" fill="rgb(248, 250, 253)"/>
<rect x="42.6" y="336.2" width="1.05" height="6.91" fill="rgb(247, 247, 253)"/>
<rect x="42.6" y="343.0" width="1.05" height="6.91" fill="rgb(244, 248, 254)"/>
<rect x="42.6" y="349.9" width="1.05" height="6.91" fill="rgb(247, 249, 253)"/>
<rect x="42.6" y="356.8" width="1.05" height="6.91" fill="rgb(244, 250, 252)"/>
<rect x="42.6" y="363.6" width="1.05" height="6.91" fill="rgb(245, 250, 253)"/>
<rect x="42.6" y="370.5" width="1.05" height="6.91" fill="rgb(248, 250, 253)"/>
<rect x="42.6" y="377.4" width="1.05" height="6.91" fill="rgb(246, 249, 253)"/>
<rect x="42.6" y="384.2" width="1.05" height="6.91" fill="rgb(247, 251, 252)"/>
<rect x="42.6" y="391.1" width="1.05" height="6.91" fill="rgb(247, 248, 254)"/>
<rect x="42.6" y="397.9" width="1.05" height="6.91" fill="rgb(244, 250, 254)"/>
<rect x="43.6" y="315.6" width="1.05" height="6.91" fill="rgb(245, 248, 252)"/>
<rect x="43.6" y="322.5" width="1.05" height="6.91" fill="rgb(248, 247, 254)"/>
<rect x="43.6" y="329.3" width="1.05" height="6.91" fill="rgb(248, 247, 254)"/>
<rect x="43.6" y="336.2" width="1.05" height="6.91" fill="rgb(245, 248, 253)"/>
<rect x="43.6" y="343.0" width="1.05" height="6.91" fill="rgb(244, 251, 253)"/>
<rect x="43.6" y="349.9" width="1.05" height="6.91" fill="rgb(248, 249, 252)"/>
<rect x="43.6" y="356.8" width="1.05" height="6.91" fill="rgb(248, 247, 254)"/>
<rect x="43.6" y="363.6" width="1.05" height="6.91" fill="rgb(248, 251, 254)"/>
<rect x="43.6" y="370.5" width="1.05" height="6.91" fill="rgb(244, 250, 254)"/>
<rect x="43.6" y="377.4" width="1.05" height="6.91" fill="rgb(245, 250, 252)"/>
<rect x="43.6" y="384.2" width="1.05" height="6.91" fill="rgb(248, 250, 254)"/>
<rect x="43.6" y="391.1" width="1.05" height="6.91" fill="rgb(248, 249, 252)"/>
<rect x="43.6" y="397.9" width="1.05" height="6.91" fill="rgb(247, 250, 254)"/>
<rect x="44.6" y="315.6" width="1.05" height="6.91" fill="rgb(247, 249, 253)"/>
<rect x="44.6" y="322.5" width="1.05" height="6.91" fill="rgb(249, 249, 254)"/>
<rect x="44.6" y="329.3" width="1.05" height="6.91" fill="rgb(246, 247, 252)"/>
<rect x="44.6" y="336.2" width="1.05" height="6.91" fill="rgb(245, 249, 254)"/>
<rect x="44.6" y="343.0" width="1.05" height="6.91" fill="rgb(247, 247, 252)"/>
<rect x="44.6" y="349.9" width="1.05" height="6.91" fill="rgb(248, 249, 252)"/>
<rect x="44.6" y="356.8" width="1.05" height="6.91" fill="rgb(247, 247, 252)"/>
<rect x="44.6" y="363.6" width="1.05" height="6.91" fill="rgb(249, 247, 253)"/>
<rect x="44.6" y="370.5" width="1.05" height="6.91" fill="rgb(246, 249, 254)"/>
<rect x="44.6" y="377.4" width="1.05" height="6.91" fill="rgb(246, 248, 254)"/>
<rect x="44.6" y="384.2" width="1.05" height="6.91" fill="rgb(249, 250, 253)"/>
<rect x="44.6" y="391.1" width="1.05" height="6.91" fill="rgb(246, 250, 252)"/>
<rect x="44.6" y="397.9" width="1.05" height="6.91" fill="rgb(245, 251, 252)"/>
<rect x="45.6" y="315.6" width="1.05" height="6.91" fill="rgb(247, 249, 252)"/>
<rect x="45.6" y="322.5" width="1.05" height="6.91" fill="rgb(245, 250, 252)"/>
<rect x="45.6" y="329.3" width="1.05" height="6.91" fill="rgb(245, 247, 253)"/>
<rect x="45.6" y="336.2" width="1.05" height="6.91" fill="rgb(246, 250, 254)"/>
<rect x="45.6" y="343.0" width="1.05" height="6.91" fill="rgb(246, 249, 254)"/>
<rect x="45.6" y="349.9" width="1.05" height="6.91" fill="rgb(248, 250, 253)"/>
<rect x="45.6" y="356.8" width="1.05" height="6.91" fill="rgb(245, 250, 253)"/>
<rect x="45.6" y="363.6" width="1.05" height="6.91" fill="rgb(248, 251, 253)"/>
<rect x="45.6" y="370.5" width="1.05" height="6.91" fill="rgb(249, 249, 254)"/>
<rect x="45.6" y="377.4" width="1.05" height="6.91" fill="rgb(244, 247, 252)"/>
<rect x="45.6" y="384.2" width="1.05" height="6.91" fill="rgb(248, 251, 252)"/>
<rect x="45.6" y="391.1" width="1.05" height="6.91" fill="rgb(247, 249, 253)"/>
<rect x="45.6" y="397.9" width="1.05" height="6.91" fill="rgb(248, 249, 253)"/>
<rect x="46.6" y="315.6" width="1.05" height="6.91" fill="rgb(244, 248, 252)"/>
<rect x="46.6" y="322.5" width="1.05" height="6.91" fill="rgb(249, 249, 252)"/>
<rect x="46.6" y="329.3" width="1.05" height="6.91" fill="rgb(246, 248, 254)"/>
<rect x="46.6" y="336.2" width="1.05" height="6.91" fill="rgb(247, 247, 252)"/>
<rect x="46.6" y="343.0" width="1.05" height="6.91" fill="rgb(249, 250, 252)"/>
<rect x="46.6" y="349.9" width="1.05" height="6.91" fill="rgb(245, 249, 254)"/>
<rect x="46.6" y="356.8" width="1.05" height="6.91" fill="rgb(247, 248, 252)"/>
<rect x="46.6" y="363.6" width="1.05" height="6.91" fill="rgb(247, 251, 252)"/>
<rect x="46.6" y="370.5" width="1.05" height="6.91" fill="rgb(249, 249, 252)"/>
<rect x="46.6" y="377.4" width="1.05" height="6.91" fill="rgb(246, 247, 252)"/>
<rect x="46.6" y="384.2" width="1.05" height="6.91" fill="rgb(246, 249, 254)"/>
<rect x="46.6" y="391.1" width="1.05" height="6.91" fill="rgb(249, 251, 253)"/>
<rect x="46.6" y="397.9" width="1.05" height="6.91" fill="rgb(245, 248, 254)"/>
<rect x="47.6" y="315.6" width="1.05" height="6.91" fill="rgb(248, 249, 252)"/>
<rect x="47.6" y="322.5" width="1.05" height="6.91" fill="rgb(249, 248, 254)"/>
<rect x="47.6" y="329.3" width="1.05" height="6.91" fill="rgb(247, 251, 254)"/>
<rect x="47.6" y="336.2" width="1.05" height="6.91" fill="rgb(245, 249, 252)"/>
<rect x="47.6" y="343.0" width="1.05" height="6.91" fill="rgb(248, 248, 252)"/>
<rect x="47.6" y="349.9" width="1.05" height="6.91" fill="rgb(248, 247, 253)"/>
<rect x="47.6" y="356.8" width="1.05" height="6.91" fill="rgb(245, 250, 252)"/>
<rect x="47.6" y="363.6" width="1.05" height="6.91" fill="rgb(244, 251, 253)"/>
<rect x="47.6" y="370.5" width="1.05" height="6.91" fill="rgb(246, 249, 252)"/>
<rect x="47.6" y="377.4" width="1.05" height="6.91" fill="rgb(245, 247, 253)"/>
<rect x="47.6" y="384.2" width="1.05" height="6.91" fill="rgb(247, 247, 254)"/>
<rect x="47.6" y="391.1" width="1.05" height="6.91" fill="rgb(245, 250, 252)"/>
<rect x="47.6" y="397.9" width="1.05" height="6.91" fill="rgb(244, 249, 253)"/>
<rect x="48.6" y="315.6" width="1.05" height="6.91" fill="rgb(248, 248, 252)"/>
<rect x="48.6" y="322.5" width="1.05" height="6.91" fill="rgb(247, 248, 252)"/>
<rect x="48.6" y="329.3" width="1.05" height="6.91" fill="rgb(246, 250, 254)"/>
<rect x="48.6" y="336.2" width="1.05" height="6.91" fill="rgb(246, 249, 253)"/>
<rect x="48.6" y="343.0" width="1.05" height="6.91" fill="rgb(245, 249, 253)"/>
<rect x="48.6" y="349.9" width="1.05" height="6.91" fill="rgb(244, 248, 254)"/>
<rect x="48.6" y="356.8" width="1.05" height="6.91" fill="rgb(249, 249, 252)"/>
<rect x="48.6" y="363.6" width="1.05" height="6.91" fill="rgb(249, 251, 254)"/>
<rect x="48.6" y="370.5" width="1.05" height="6.91" fill="rgb(248, 248, 252)"/>
<rect x="48.6" y="377.4" width="1.05" height="6.91" fill="rgb(246, 248, 252)"/>
<rect x="48.6" y="384.2" width="1.05" height="6.91" fill="rgb(244, 248, 252)"/>
<rect x="48.6" y="391.1" width="1.05" height="6.91" fill="rgb(247, 248, 253)"/>
<rect x="48.6" y="397.9" width="1.05" height="6.91" fill="rgb(246, 251, 252)"/>
<rect x="49.6" y="315.6" width="1.05" height="6.91" fill="rgb(249, 249, 253)"/>
<rect x="49.6" y="322.5" width="1.05" height="6.91" fill="rgb(249, 247, 252)"/>
<rect x="49.6" y="329.3" width="1.05" height="6.91" fill="rgb(246, 250, 253)"/>
<rect x="49.6" y="336.2" width="1.05" height="6.91" fill="rgb(246, 250, 253)"/>
<rect x="49.6" y="343.0" width="1.05" height="6.91" fill="rgb(248, 249, 252)"/>
<rect x="49.6" y="349.9" width="1.05" height="6.91" fill="rgb(249, 249, 252)"/>
<rect x="49.6" y="356.8" width="1.05" height="6.91" fill="rgb(244, 251, 254)"/>
<rect x="49.6" y="363.6" width="1.05" height="6.91" fill="rgb(248, 247, 254)"/>
<rect x="49.6" y="370.5" width="1.05" height="6.91" fill="rgb(247, 249, 254)"/>
<rect x="49.6" y="377.4" width="1.05" height="6.91" fill="rgb(247, 248, 253)"/>
<rect x="49.6" y="384.2" width="1.05" height="6.91" fill="rgb(248, 250, 254)"/>
<rect x="49.6" y="391.1" width="1.05" height="6.91" fill="rgb(244, 248, 253)"/>
<rect x="49.6" y="397.9" width="1.05" height="6.91" fill="rgb(247, 251, 253)"/>
<rect x="50.6" y="315.6" width="1.05" height="6.91" fill="rgb(248, 251, 253)"/>
<rect x="50.6" y="322.5" width="1.05" height="6.91" fill="rgb(245, 250, 253)"/>
<rect x="50.6" y="329.3" width="1.05" height="6.91" fill="rgb(248, 247, 254)"/>
<rect x="50.6" y="336.2" width="1.05" height="6.91" fill="rgb(245, 251, 252)"/>
<rect x="50.6" y="343.0" width="1.05" height="6.91" fill="rgb(245, 247, 252)"/>
<rect x="50.6" y="349.9" width="1.05" height="6.91" fill="rgb(244, 250, 252)"/>
<rect x="50.6" y="356.8" width="1.05" height="6.91" fill="rgb(244, 250, 253)"/>
<rect x="50.6" y="363.6" width="1.05" height="6.91" fill="rgb(246, 251, 252)"/>
<rect x="50.6" y="370.5" width="1.05" height="6.91" fill="rgb(247, 247, 254)"/>
<rect x="50.6" y="377.4" width="1.05" height="6.91" fill="rgb(245, 249, 254)"/>
<rect x="50.6" y="384.2" width="1.05" height="6.91" fill="rgb(249, 247, 254)"/>
<rect x="50.6" y="391.1" width="1.05" height="6.91" fill="rgb(249, 247, 254)"/>
<rect x="50.6" y="397.9" width="1.05" height="6.91" fill="rgb(246, 248, 254)"/>
<rect x="51.6" y="315.6" width="1.05" height="6.91" fill="rgb(247, 248, 252)"/>
<rect x="51.6" y="322.5" width="1.05" height="6.91" fill="rgb(244, 247, 254)"/>
<rect x="51.6" y="329.3" width="1.05" height="6.91" fill="rgb(245, 249, 252)"/>
<rect x="51.6" y="336.2" width="1.05" height="6.91" fill="rgb(247, 250, 253)"/>
<rect x="51.6" y="343.0" width="1.05" height="6.91" fill="rgb(246, 250, 254)"/>
<rect x="51.6" y="349.9" width="1.05" height="6.91" fill="rgb(245, 250, 254)"/>
<rect x="51.6" y="356.8" width="1.05" height="6.91" fill="rgb(247, 251, 252)"/>
<rect x="51.6" y="363.6" width="1.05" height="6.91" fill="rgb(248, 248, 253)"/>
<rect x="51.6" y="370.5" width="1.05" height="6.91" fill="rgb(247, 250, 253)"/>
<rect x="51.6" y="377.4" width="1.05" height="6.91" fill="rgb(244, 249, 254)"/>
<rect x="51.6" y="384.2" width="1.05" height="6.91" fill="rgb(245, 247, 253)"/>
<rect x="51.6" y="391.1" width="1.05" height="6.91" fill="rgb(249, 248, 254)"/>
<rect x="51.6" y="397.9" width="1.05" height="6.91" fill="rgb(247, 248, 253)"/>
<rect x="52.5" y="315.6" width="1.05" height="6.91" fill="rgb(247, 249, 253)"/>
<rect x="52.5" y="322.5" width="1.05" height="6.91" fill="rgb(245, 247, 254)"/>
<rect x="52.5" y="329.3" width="1.05" height="6.91" fill="rgb(249, 249, 254)"/>
<rect x="52.5" y="336.2" width="1.05" height="6.91" fill="rgb(249, 251, 252)"/>
<rect x="52.5" y="343.0" width="1.05" height="6.91" fill="rgb(245, 249, 253)"/>
<rect x="52.5" y="349.9" width="1.05" height="6.91" fill="rgb(247, 248, 253)"/>
<rect x="52.5" y="356.8" width="1.05" height="6.91" fill="rgb(245, 250, 253)"/>
<rect x="52.5" y="363.6" width="1.05" height="6.91" fill="rgb(249, 250, 252)"/>
<rect x="52.5" y="370.5" width="1.05" height="6.91" fill="rgb(247, 250, 254)"/>
<rect x="52.5" y="377.4" width="1.05" height="6.91" fill="rgb(245, 247, 252)"/>
<rect x="52.5" y="384.2" width="1.05" height="6.91" fill="rgb(247, 250, 253)"/>
<rect x="52.5" y="391.1" width="1.05" height="6.91" fill="rgb(244, 247, 254)"/>
<rect x="52.5" y="397.9" width="1.05" height="6.91" fill="rgb(245, 249, 252)"/>
<rect x="53.5" y="315.6" width="1.05" height="6.91" fill="rgb(247, 250, 252)"/>
<rect x="53.5" y="322.5" width="1.05" height="6.91" fill="rgb(246, 249, 253)"/>
<rect x="53.5" y="329.3" width="1.05" height="6.91" fill="rgb(247, 251, 254)"/>
<rect x="53.5" y="336.2" width="1.05" height="6.91" fill="rgb(246, 247, 254)"/>
<rect x="53.5" y="343.0" width="1.05" height="6.91" fill="rgb(246, 248, 252)"/>
<rect x="53.5" y="349.9" width="1.05" height="6.91" fill="rgb(249, 248, 253)"/>
<rect x="53.5" y="356.8" width="1.05" height="6.91" fill="rgb(244, 251, 254)"/>
<rect x="53.5" y="363.6" width="1.05" height="6.91" fill="rgb(246, 249, 252)"/>
<rect x="53.5" y="370.5" width="1.05" height="6.91" fill="rgb(247, 249, 253)"/>
<rect x="53.5" y="377.4" width="1.05" height="6.91" fill="rgb(248, 251, 252)"/>
<rect x="53.5" y="384.2" width="1.05" height="6.91" fill="rgb(249, 250, 253)"/>
<rect x="53.5" y="391.1" width="1.05" height="6.91" fill="rgb(248, 251, 252)"/>
<rect x="53.5" y="397.9" width="1.05" height="6.91" fill="rgb(245, 250, 253)"/>
<rect x="54.5" y="315.6" width="1.05" height="6.91" fill="rgb(249, 249, 253)"/>
<rect x="54.5" y="322.5" width="1.05" height="6.91" fill="rgb(244, 249, 253)"/>
<rect x="54.5" y="329.3" width="1.05" height="6.91" fill="rgb(246, 247, 252)"/>
<rect x="54.5" y="336.2" width="1.05" height="6.91" fill="rgb(246, 248, 254)"/>
<rect x="54.5" y="343.0" width="1.05" height="6.91" fill="rgb(249, 251, 252)"/>
<rect x="54.5" y="349.9" width="1.05" height="6.91" fill="rgb(245, 250, 254)"/>
<rect x="54.5" y="356.8" width="1.05" height="6.91" fill="rgb(246, 247, 253)"/>
<rect x="54.5" y="363.6" width="1.05" height="6.91" fill="rgb(244, 247, 253)"/>
<rect x="54.5" y="370.5" width="1.05" height="6.91" fill="rgb(246, 250, 252)"/>
<rect x="54.5" y="377.4" width="1.05" height="6.91" fill="rgb(244, 247, 254)"/>
<rect x="54.5" y="384.2" width="1.05" height="6.91" fill="rgb(245, 248, 252)"/>
<rect x="54.5" y="391.1" width="1.05" height="6.91" fill="rgb(247, 249, 254)"/>
<rect x="54.5" y="397.9" width="1.05" height="6.91" fill="rgb(247, 247, 254)"/>
<rect x="55.5" y="315.6" width="1.05" height="6.91" fill="rgb(248, 249, 254)"/>
<rect x="55.5" y="322.5" width="1.05" height="6.91" fill="rgb(246, 247, 254)"/>
<rect x="55.5" y="329.3" width="1.05" height="6.91" fill="rgb(245, 250, 254)"/>
<rect x="55.5" y="336.2" width="1.05" height="6.91" fill="rgb(247, 249, 254)"/>
<rect x="55.5" y="343.0" width="1.05" height="6.91" fill="rgb(247, 249, 252)"/>
<rect x="55.5" y="349.9" width="1.05" height="6.91" fill="rgb(245, 250, 253)"/>
<rect x="55.5" y="356.8" width="1.05" height="6.91" fill="rgb(247, 250, 252)"/>
<rect x="55.5" y="363.6" width="1.05" height="6.91" fill="rgb(249, 247, 252)"/>
<rect x="55.5" y="370.5" width="1.05" height="6.91" fill="rgb(249, 251, 254)"/>
<rect x="55.5" y="377.4" width="1.05" height="6.91" fill="rgb(245, 248, 252)"/>
<rect x="55.5" y="384.2" width="1.05" height="6.91" fill="rgb(248, 250, 252)"/>
<rect x="55.5" y="391.1" width="1.05" height="6.91" fill="rgb(244, 248, 254)"/>
<rect x="55.5" y="397.9" width="1.05" height="6.91" fill="rgb(249, 247, 253)"/>
<rect x="56.5" y="315.6" width="1.05" height="6.91" fill="rgb(248, 248, 254)"/>
<rect x="56.5" y="322.5" width="1.05" height="6.91" fill="rgb(245, 249, 253)"/>
<rect x="56.5" y="329.3" width="1.05" height="6.91" fill="rgb(249, 250, 253)"/>
<rect x="56.5" y="336.2" width="1.05" height="6.91" fill="rgb(248, 248, 254)"/>
<rect x="56.5" y="343.0" width="1.05" height="6.91" fill="rgb(244, 250, 253)"/>
<rect x="56.5" y="349.9" width="1.05" height="6.91" fill="rgb(245, 251, 254)"/>
<rect x="56.5" y="356.8" width="1.05" height="6.91" fill="rgb(246, 250, 252)"/>
<rect x="56.5" y="363.6" width="1.05" height="6.91" fill="rgb(247, 250, 252)"/>
<rect x="56.5" y="370.5" width="1.05" height="6.91" fill="rgb(246, 247, 253)"/>
<rect x="56.5" y="377.4" width="1.05" height="6.91" fill="rgb(246, 250, 252)"/>
<rect x="56.5" y="384.2" width="1.05" height="6.91" fill="rgb(248, 247, 254)"/>
<rect x="56.5" y="391.1" width="1.05" height="6.91" fill="rgb(248, 247, 253)"/>
<rect x="56.5" y="397.9" width="1.05" height="6.91" fill="rgb(249, 251, 252)"/>
<rect x="57.5" y="315.6" width="1.05" height="6.91" fill="rgb(246, 247, 252)"/>
<rect x="57.5" y="322.5" width="1.05" height="6.91" fill="rgb(249, 247, 252)"/>
<rect x="57.5" y="329.3" width="1.05" height="6.91" fill="rgb(246, 250, 254)"/>
<rect x="57.5" y="336.2" width="1.05" height="6.91" fill="rgb(245, 250, 254)"/>
<rect x="57.5" y="343.0" width="1.05" height="6.91" fill="rgb(245, 251, 254)"/>
<rect x="57.5" y="349.9" width="1.05" height="6.91" fill="rgb(246, 249, 254)"/>
<rect x="57.5" y="356.8" width="1.05" height="6.91" fill="rgb(249, 250, 254)"/>
<rect x="57.5" y="363.6" width="1.05" height="6.91" fill="rgb(248, 247, 252)"/>
<rect x="57.5" y="370.5" width="1.05" height="6.91" fill="rgb(249, 251, 253)"/>
<rect x="57.5" y="377.4" width="1.05" height="6.91" fill="rgb(246, 247, 253)"/>
<rect x="57.5" y="384.2" width="1.05" height="6.91" fill="rgb(245, 248, 253)"/>
<rect x="57.5" y="391.1" width="1.05" height="6.91" fill="rgb(244, 249, 254)"/>
<rect x="57.5" y="397.9" width="1.05" height="6.91" fill="rgb(248, 247, 252)"/>
<rect x="58.5" y="315.6" width="1.05" height="6.91" fill="rgb(248, 247, 252)"/>
<rect x="58.5" y="322.5" width="1.05" height="6.91" fill="rgb(249, 248, 254)"/>
<rect x="58.5" y="329.3" width="1.05" height="6.91" fill="rgb(249, 250, 252)"/>
<rect x="58.5" y="336.2" width="1.05" height="6.91" fill="rgb(246, 250, 252)"/>
<rect x="58.5" y="343.0" width="1.05" height="6.91" fill="rgb(244, 250, 254)"/>
<rect x="58.5" y="349.9" width="1.05" height="6.91" fill="rgb(244, 251, 254)"/>
<rect x="58.5" y="356.8" width="1.05" height="6.91" fill="rgb(246, 250, 254)"/>
<rect x="58.5" y="363.6" width="1.05" height="6.91" fill="rgb(248, 250, 252)"/>
<rect x="58.5" y="370.5" width="1.05" height="6.91" fill="rgb(247, 250, 252)"/>
<rect x="58.5" y="377.4" width="1.05" height="6.91" fill="rgb(249, 249, 254)"/>
<rect x="58.5" y="384.2" width="1.05" height="6.91" fill="rgb(245, 249, 252)"/>
<rect x="58.5" y="391.1" width="1.05" height="6.91" fill="rgb(244, 249, 254)"/>
<rect x="58.5" y="397.9" width="1.05" height="6.91" fill="rgb(249, 247, 252)"/>
<rect x="59.5" y="315.6" width="1.05" height="6.91" fill="rgb(245, 249, 254)"/>
<rect x="59.5" y="322.5" width="1.05" height="6.91" fill="rgb(248, 249, 252)"/>
<rect x="59.5" y="329.3" width="1.05" height="6.91" fill="rgb(246, 248, 253)"/>
<rect x="59.5" y="336.2" width="1.05" height="6.91" fill="rgb(244, 249, 254)"/>
<rect x="59.5" y="343.0" width="1.05" height="6.91" fill="rgb(245, 248, 254)"/>
<rect x="59.5" y="349.9" width="1.05" height="6.91" fill="rgb(249, 251, 252)"/>
<rect x="59.5" y="356.8" width="1.05" height="6.91" fill="rgb(246, 251, 253)"/>
<rect x="59.5" y="363.6" width="1.05" height="6.91" fill="rgb(245, 249, 252)"/>
<rect x="59.5" y="370.5" width="1.05" height="6.91" fill="rgb(244, 248, 252)"/>
<rect x="59.5" y="377.4" width="1.05" height="6.91" fill="rgb(248, 251, 254)"/>
<rect x="59.5" y="384.2" width="1.05" height="6.91" fill="rgb(245, 251, 253)"/>
<rect x="59.5" y="391.1" width="1.05" height="6.91" fill="rgb(246, 247, 254)"/>
<rect x="59.5" y="397.9" width="1.05" height="6.91" fill="rgb(247, 249, 252)"/>
<rect x="60.5" y="315.6" width="1.05" height="6.91" fill="rgb(245, 247, 254)"/>
<rect x="60.5" y="322.5" width="1.05" height="6.91" fill="rgb(245, 250, 253)"/>
<rect x="60.5" y="329.3" width="1.05" height="6.91" fill="rgb(246, 250, 253)"/>
<rect x="60.5" y="336.2" width="1.05" height="6.91" fill="rgb(244, 248, 253)"/>
<rect x="60.5" y="343.0" width="1.05" height="6.91" fill="rgb(244, 251, 254)"/>
<rect x="60.5" y="349.9" width="1.05" height="6.91" fill="rgb(247, 247, 252)"/>
<rect x="60.5" y="356.8" width="1.05" height="6.91" fill="rgb(247, 247, 253)"/>
<rect x="60.5" y="363.6" width="1.05" height="6.91" fill="rgb(248, 250, 253)"/>
<rect x="60.5" y="370.5" width="1.05" height="6.91" fill="rgb(245, 250, 253)"/>
<rect x="60.5" y="377.4" width="1.05" height="6.91" fill="rgb(249, 250, 252)"/>
<rect x="60.5" y="384.2" width="1.05" height="6.91" fill="rgb(244, 249, 254)"/>
<rect x="60.5" y="391.1" width="1.05" height="6.91" fill="rgb(244, 249, 252)"/>
<rect x="60.5" y="397.9" width="1.05" height="6.91" fill="rgb(244, 250, 254)"/>
<rect x="61.5" y="315.6" width="1.05" height="6.91" fill="rgb(246, 251, 254)"/>
<rect x="61.5" y="322.5" width="1.05" height="6.91" fill="rgb(248, 250, 254)"/>
<rect x="61.5" y="329.3" width="1.05" height="6.91" fill="rgb(244, 251, 254)"/>
<rect x="61.5" y="336.2" width="1.05" height="6.91" fill="rgb(246, 249, 253)"/>
<rect x="61.5" y="343.0" width="1.05" height="6.91" fill="rgb(246, 249, 252)"/>
<rect x="61.5" y="349.9" width="1.05" height="6.91" fill="rgb(244, 251, 253)"/>
<rect x="61.5" y="356.8" width="1.05" height="6.91" fill="rgb(247, 251, 254)"/>
<rect x="61.5" y="363.6" width="1.05" height="6.91" fill="rgb(245, 247, 254)"/>
<rect x="61.5" y="370.5" width="1.05" height="6.91" fill="rgb(247, 249, 254)"/>
<rect x="61.5" y="377.4" width="1.05" height="6.91" fill="rgb(248, 249, 252)"/>
<rect x="61.5" y="384.2" width="1.05" height="6.91" fill="rgb(245, 247, 252)"/>
<rect x="61.5" y="391.1" width="1.05" height="6.91" fill="rgb(249, 247, 254)"/>
<rect x="61.5" y="397.9" width="1.05" height="6.91" fill="rgb(245, 248, 254)"/>
<rect x="62.5" y="315.6" width="1.05" height="6.91" fill="rgb(247, 248, 252)"/>
<rect x="62.5" y="322.5" width="1.05" height="6.91" fill="rgb(248, 248, 253)"/>
<rect x="62.5" y="329.3" width="1.05" height="6.91" fill="rgb(246, 248, 253)"/>
<rect x="62.5" y="336.2" width="1.05" height="6.91" fill="rgb(245, 250, 252)"/>
<rect x="62.5" y="343.0" width="1.05" height="6.91" fill="rgb(245, 248, 254)"/>
<rect x="62.5" y="349.9" width="1.05" height="6.91" fill="rgb(245, 250, 253)"/>
<rect x="62.5" y="356.8" width="1.05" height="6.91" fill="rgb(246, 247, 253)"/>
<rect x="62.5" y="363.6" width="1.05" height="6.91" fill="rgb(249, 250, 252)"/>
<rect x="62.5" y="370.5" width="1.05" height="6.91" fill="rgb(247, 247, 253)"/>
<rect x="62.5" y="377.4" width="1.05" height="6.91" fill="rgb(247, 250, 254)"/>
<rect x="62.5" y="384.2" width="1.05" height="6.91" fill="rgb(244, 249, 252)"/>
<rect x="62.5" y="391.1" width="1.05" height="6.91" fill="rgb(247, 248, 254)"/>
<rect x="62.5" y="397.9" width="1.05" height="6.91" fill="rgb(247, 249, 253)"/>
<rect x="63.5" y="315.6" width="1.05" height="6.91" fill="rgb(246, 251, 252)"/>
<rect x="63.5" y="322.5" width="1.05" height="6.91" fill="rgb(249, 248, 252)"/>
<rect x="63.5" y="329.3" width="1.05" height="6.91" fill="rgb(244, 248, 253)"/>
<rect x="63.5" y="336.2" width="1.05" height="6.91" fill="rgb(246, 250, 254)"/>
<rect x="63.5" y="343.0" width="1.05" height="6.91" fill="rgb(245, 248, 253)"/>
<rect x="63.5" y="349.9" width="1.05" height="6.91" fill="rgb(246, 250, 254)"/>
<rect x="63.5" y="356.8" width="1.05" height="6.91" fill="rgb(246, 247, 254)"/>
<rect x="63.5" y="363.6" width="1.05" height="6.91" fill="rgb(247, 247, 254)"/>
<rect x="63.5" y="370.5" width="1.05" height="6.91" fill="rgb(248, 248, 254)"/>
<rect x="63.5" y="377.4" width="1.05" height="6.91" fill="rgb(246, 247, 253)"/>
<rect x="63.5" y="384.2" width="1.05" height="6.91" fill="rgb(244, 248, 253)"/>
<rect x="63.5" y="391.1" width="1.05" height="6.91" fill="rgb(244, 248, 253)"/>
<rect x="63.5" y="397.9" width="1.05" height="6.91" fill="rgb(244, 248, 252)"/>
<rect x="64.5" y="315.6" width="1.05" height="6.91" fill="rgb(249, 251, 253)"/>
<rect x="64.5" y="322.5" width="1.05" height="6.91" fill="rgb(248, 247, 253)"/>
<rect x="64.5" y="329.3" width="1.05" height="6.91" fill="rgb(245, 250, 253)"/>
<rect x="64.5" y="336.2" width="1.05" height="6.91" fill="rgb(248, 248, 254)"/>
<rect x="64.5" y="343.0" width="1.05" height="6.91" fill="rgb(245, 247, 254)"/>
<rect x="64.5" y="349.9" width="1.05" height="6.91" fill="rgb(246, 248, 252)"/>
<rect x="64.5" y="356.8" width="1.05" height="6.91" fill="rgb(244, 249, 254)"/>
<rect x="64.5" y="363.6" width="1.05" height="6.91" fill="rgb(249, 247, 254)"/>
<rect x="64.5" y="370.5" width="1.05" height="6.91" fill="rgb(244, 251, 254)"/>
<rect x="64.5" y="377.4" width="1.05" height="6.91" fill="rgb(248, 250, 252)"/>
<rect x="64.5" y="384.2" width="1.05" height="6.91" fill="rgb(245, 247, 254)"/>
<rect x="64.5" y="391.1" width="1.05" height="6.91" fill="rgb(246, 247, 252)"/>
<rect x="64.5" y="397.9" width="1.05" height="6.91" fill="rgb(246, 249, 253)"/>
<rect x="65.5" y="315.6" width="1.05" height="6.91" fill="rgb(248, 251, 254)"/>
<rect x="65.5" y="322.5" width="1.05" height="6.91" fill="rgb(249, 249, 252)"/>
<rect x="65.5" y="329.3" width="1.05" height="6.91" fill="rgb(246, 251, 253)"/>
<rect x="65.5" y="336.2" width="1.05" height="6.91" fill="rgb(246, 247, 253)"/>
<rect x="65.5" y="343.0" width="1.05" height="6.91" fill="rgb(249, 247, 252)"/>
<rect x="65.5" y="349.9" width="1.05" height="6.91" fill="rgb(247, 250, 254)"/>
<rect x="65.5" y="356.8" width="1.05" height="6.91" fill="rgb(245, 249, 254)"/>
<rect x="65.5" y="363.6" width="1.05" height="6.91" fill="rgb(245, 251, 252)"/>
<rect x="65.5" y="370.5" width="1.05" height="6.91" fill="rgb(245, 249, 252)"/>
<rect x="65.5" y="377.4" width="1.05" height="6.91" fill="rgb(247, 247, 252)"/>
<rect x="65.5" y="384.2" width="1.05" height="6.91" fill="rgb(244, 250, 252)"/>
<rect x="65.5" y="391.1" width="1.05" height="6.91" fill="rgb(248, 251, 253)"/>
<rect x="65.5" y="397.9" width="1.05" height="6.91" fill="rgb(247, 251, 252)"/>
<rect x="66.5" y="315.6" width="1.05" height="6.91" fill="rgb(247, 247, 253)"/>
<rect x="66.5" y="322.5" width="1.05" height="6.91" fill="rgb(244, 250, 252)"/>
<rect x="66.5" y="329.3" width="1.05" height="6.91" fill="rgb(246, 247, 254)"/>
<rect x="66.5" y="336.2" width="1.05" height="6.91" fill="rgb(246, 251, 252)"/>
<rect x="66.5" y="343.0" width="1.05" height="6.91" fill="rgb(246, 247, 254)"/>
<rect x="66.5" y="349.9" width="1.05" height="6.91" fill="rgb(247, 249, 253)"/>
<rect x="66.5" y="356.8" width="1.05" height="6.91" fill="rgb(249, 247, 254)"/>
<rect x="66.5" y="363.6" width="1.05" height="6.91" fill="rgb(244, 250, 254)"/>
<rect x="66.5" y="370.5" width="1.05" height="6.91" fill="rgb(247, 247, 252)"/>
<rect x="66.5" y="377.4" width="1.05" height="6.91" fill="rgb(248, 250, 252)"/>
<rect x="66.5" y="384.2" width="1.05" height="6.91" fill="rgb(249, 249, 252)"/>
<rect x="66.5" y="391.1" width="1.05" height="6.91" fill="rgb(249, 249, 252)"/>
<rect x="66.5" y="397.9" width="1.05" height="6.91" fill="rgb(247, 250, 254)"/>
<rect x="67.5" y="315.6" width="1.05" height="6.91" fill="rgb(246, 248, 253)"/>
<rect x="67.5" y="322.5" width="1.05" height="6.91" fill="rgb(247, 249, 253)"/>
<rect x="67.5" y="329.3" width="1.05" height="6.91" fill="rgb(244, 249, 253)"/>
<rect x="67.5" y="336.2" width="1.05" height="6.91" fill="rgb(248, 247, 253)"/>
<rect x="67.5" y="343.0" width="1.05" height="6.91" fill="rgb(248, 247, 254)"/>
<rect x="67.5" y="349.9" width="1.05" height="6.91" fill="rgb(244, 247, 254)"/>
<rect x="67.5" y="356.8" width="1.05" height="6.91" fill="rgb(247, 247, 254)"/>
<rect x="67.5" y="363.6" width="1.05" height="6.91" fill="rgb(249, 251, 252)"/>
<rect x="67.5" y="370.5" width="1.05" height="6.91" fill="rgb(249, 248, 252)"/>
<rect x="67.5" y="377.4" width="1.05" height="6.91" fill="rgb(247, 251, 254)"/>
<rect x="67.5" y="384.2" width="1.05" height="6.91" fill="rgb(248, 248, 254)"/>
<rect x="67.5" y="391.1" width="1.05" height="6.91" fill="rgb(246, 249, 252)"/>
<rect x="67.5" y="397.9" width="1.05" height="6.91" fill="rgb(248, 250, 253)"/>
<rect x="68.5" y="315.6" width="1.05" height="6.91" fill="rgb(248, 251, 252)"/>
<rect x="68.5" y="322.5" width="1.05" height="6.91" fill="rgb(246, 248, 252)"/>
<rect x="68.5" y="329.3" width="1.05" height="6.91" fill="rgb(249, 247, 254)"/>
<rect x="68.5" y="336.2" width="1.05" height="6.91" fill="rgb(249, 251, 254)"/>
<rect x="68.5" y="343.0" width="1.05" height="6.91" fill="rgb(244, 248, 252)"/>
<rect x="68.5" y="349.9" width="1.05" height="6.91" fill="rgb(247, 248, 254)"/>
<rect x="68.5" y="356.8" width="1.05" height="6.91" fill="rgb(247, 247, 252)"/>
<rect x="68.5" y="363.6" width="1.05" height="6.91" fill="rgb(245, 250, 252)"/>
<rect x="68.5" y="370.5" width="1.05" height="6.91" fill="rgb(248, 248, 254)"/>
<rect x="68.5" y="377.4" width="1.05" height="6.91" fill="rgb(245, 251, 252)"/>
<rect x="68.5" y="384.2" width="1.05" height="6.91" fill="rgb(245, 250, 254)"/>
<rect x="68.5" y="391.1" width="1.05" height="6.91" fill="rgb(247, 249, 254)"/>
<rect x="68.5" y="397.9" width="1.05" height="6.91" fill="rgb(245, 248, 253)"/>
<rect x="69.5" y="315.6" width="1.05" height="6.91" fill="rgb(244, 251, 254)"/>
<rect x="69.5" y="322.5" width="1.05" height="6.91" fill="rgb(247, 249, 252)"/>
<rect x="69.5" y="329.3" width="1.05" height="6.91" fill="rgb(246, 248, 252)"/>
<rect x="69.5" y="336.2" width="1.05" height="6.91" fill="rgb(247, 251, 254)"/>
<rect x="69.5" y="343.0" width="1.05" height="6.91" fill="rgb(249, 251, 252)"/>
<rect x="69.5" y="349.9" width="1.05" height="6.91" fill="rgb(247, 251, 254)"/>
<rect x="69.5" y="356.8" width="1.05" height="6.91" fill="rgb(244, 251, 252)"/>
<rect x="69.5" y="363.6" width="1.05" height="6.91" fill="rgb(249, 249, 254)"/>
<rect x="69.5" y="370.5" width="1.05" height="6.91" fill="rgb(244, 250, 252)"/>
<rect x="69.5" y="377.4" width="1.05" height="6.91" fill="rgb(248, 248, 254)"/>
<rect x="69.5" y="384.2" width="1.05" height="6.91" fill="rgb(246, 249, 252)"/>
<rect x="69.5" y="391.1" width="1.05" height="6.91" fill="rgb(244, 248, 253)"/>
<rect x="69.5" y="397.9" width="1.05" height="6.91" fill="rgb(247, 251, 253)"/>
<rect x="70.5" y="315.6" width="1.05" height="6.91" fill="rgb(247, 247, 253)"/>
<rect x="70.5" y="322.5" width="1.05" height="6.91" fill="rgb(245, 249, 252)"/>
<rect x="70.5" y="329.3" width="1.05" height="6.91" fill="rgb(245, 251, 254)"/>
<rect x="70.5" y="336.2" width="1.05" height="6.91" fill="rgb(246, 249, 254)"/>
<rect x="70.5" y="343.0" width="1.05" height="6.91" fill="rgb(247, 249, 253)"/>
<rect x="70.5" y="349.9" width="1.05" height="6.91" fill="rgb(247, 247, 253)"/>
<rect x="70.5" y="356.8" width="1.05" height="6.91" fill="rgb(244, 250, 254)"/>
<rect x="70.5" y="363.6" width="1.05" height="6.91" fill="rgb(244, 251, 253)"/>
<rect x="70.5" y="370.5" width="1.05" height="6.91" fill="rgb(246, 247, 254)"/>
<rect x="70.5" y="377.4" width="1.05" height="6.91" fill="rgb(248, 248, 253)"/>
<rect x="70.5" y="384.2" width="1.05" height="6.91" fill="rgb(246, 251, 253)"/>
<rect x="70.5" y="391.1" width="1.05" height="6.91" fill="rgb(247, 251, 254)"/>
<rect x="70.5" y="397.9" width="1.05" height="6.91" fill="rgb(249, 251, 252)"/>
<rect x="71.5" y="315.6" width="1.05" height="6.91" fill="rgb(248, 251, 252)"/>
<rect x="71.5" y="322.5" width="1.05" height="6.91" fill="rgb(244, 247, 253)"/>
<rect x="71.5" y="329.3" width="1.05" height="6.91" fill="rgb(249, 248, 253)"/>
<rect x="71.5" y="336.2" width="1.05" height="6.91" fill="rgb(247, 249, 253)"/>
<rect x="71.5" y="343.0" width="1.05" height="6.91" fill="rgb(247, 249, 253)"/>
<rect x="71.5" y="349.9" width="1.05" height="6.91" fill="rgb(248, 247, 254)"/>
<rect x="71.5" y="356.8" width="1.05" height="6.91" fill="rgb(246, 249, 253)"/>
<rect x="71.5" y="363.6" width="1.05" height="6.91" fill="rgb(246, 248, 254)"/>
<rect x="71.5" y="370.5" width="1.05" height="6.91" fill="rgb(247, 249, 252)"/>
<rect x="71.5" y="377.4" width="1.05" height="6.91" fill="rgb(244, 249, 254)"/>
<rect x="71.5" y="384.2" width="1.05" height="6.91" fill="rgb(247, 249, 252)"/>
<rect x="71.5" y="391.1" width="1.05" height="6.91" fill="rgb(247, 249, 254)"/>
<rect x="71.5" y="397.9" width="1.05" height="6.91" fill="rgb(244, 247, 252)"/>
<rect x="72.5" y="315.6" width="1.05" height="6.91" fill="rgb(246, 247, 254)"/>
<rect x="72.5" y="322.5" width="1.05" height="6.91" fill="rgb(245, 248, 253)"/>
<rect x="72.5" y="329.3" width="1.05" height="6.91" fill="rgb(246, 251, 252)"/>
<rect x="72.5" y="336.2" width="1.05" height="6.91" fill="rgb(246, 250, 253)"/>
<rect x="72.5" y="343.0" width="1.05" height="6.91" fill="rgb(247, 250, 253)"/>
<rect x="72.5" y="349.9" width="1.05" height="6.91" fill="rgb(247, 249, 252)"/>
<rect x="72.5" y="356.8" width="1.05" height="6.91" fill="rgb(244, 250, 252)"/>
<rect x="72.5" y="363.6" width="1.05" height="6.91" fill="rgb(249, 248, 252)"/>
<rect x="72.5" y="370.5" width="1.05" height="6.91" fill="rgb(245, 248, 254)"/>
<rect x="72.5" y="377.4" width="1.05" height="6.91" fill="rgb(249, 251, 252)"/>
<rect x="72.5" y="384.2" width="1.05" height="6.91" fill="rgb(247, 251, 253)"/>
<rect x="72.5" y="391.1" width="1.05" height="6.91" fill="rgb(246, 250, 252)"/>
<rect x="72.5" y="397.9" width="1.05" height="6.91" fill="rgb(246, 248, 254)"/>
<rect x="73.5" y="315.6" width="1.05" height="6.91" fill="rgb(246, 247, 252)"/>
<rect x="73.5" y="322.5" width="1.05" height="6.91" fill="rgb(249, 249, 252)"/>
<rect x="73.5" y="329.3" width="1.05" height="6.91" fill="rgb(245, 248, 253)"/>
<rect x="73.5" y="336.2" width="1.05" height="6.91" fill="rgb(245, 249, 252)"/>
<rect x="73.5" y="343.0" width="1.05" height="6.91" fill="rgb(247, 251, 252)"/>
<rect x="73.5" y="349.9" width="1.05" height="6.91" fill="rgb(245, 248, 253)"/>
<rect x="73.5" y="356.8" width="1.05" height="6.91" fill="rgb(249, 248, 254)"/>
<rect x="73.5" y="363.6" width="1.05" height="6.91" fill="rgb(246, 249, 253)"/>
<rect x="73.5" y="370.5" width="1.05" height="6.91" fill="rgb(246, 249, 253)"/>
<rect x="73.5" y="377.4" width="1.05" height="6.91" fill="rgb(245, 247, 254)"/>
<rect x="73.5" y="384.2" width="1.05" height="6.91" fill="rgb(244, 247, 252)"/>
<rect x="73.5" y="391.1" width="1.05" height="6.91" fill="rgb(249, 247, 252)"/>
<rect x="73.5" y="397.9" width="1.05" height="6.91" fill="rgb(249, 250, 253)"/>
<rect x="74.5" y="315.6" width="1.05" height="6.91" fill="rgb(249, 250, 254)"/>
<rect x="74.5" y="322.5" width="1.05" height="6.91" fill="rgb(244, 248, 253)"/>
<rect x="74.5" y="329.3" width="1.05" height="6.91" fill="rgb(249, 248, 253)"/>
<rect x="74.5" y="336.2" width="1.05" height="6.91" fill="rgb(247, 251, 253)"/>
<rect x="74.5" y="343.0" width="1.05" height="6.91" fill="rgb(245, 248, 254)"/>
<rect x="74.5" y="349.9" width="1.05" height="6.91" fill="rgb(248, 251, 253)"/>
<rect x="74.5" y="356.8" width="1.05" height="6.91" fill="rgb(248, 249, 252)"/>
<rect x="74.5" y="363.6" width="1.05" height="6.91" fill="rgb(248, 250, 252)"/>
<rect x="74.5" y="370.5" width="1.05" height="6.91" fill="rgb(248, 251, 253)"/>
<rect x="74.5" y="377.4" width="1.05" height="6.91" fill="rgb(245, 251, 254)"/>
<rect x="74.5" y="384.2" width="1.05" height="6.91" fill="rgb(249, 248, 253)"/>
<rect x="74.5" y="391.1" width="1.05" height="6.91" fill="rgb(247, 251, 254)"/>
<rect x="74.5" y="397.9" width="1.05" height="6.91" fill="rgb(244, 247, 252)"/>
<rect x="75.5" y="315.6" width="1.05" height="6.91" fill="rgb(248, 250, 252)"/>
<rect x="75.5" y="322.5" width="1.05" height="6.91" fill="rgb(246, 251, 253)"/>
<rect x="75.5" y="329.3" width="1.05" height="6.91" fill="rgb(247, 249, 253)"/>
<rect x="75.5" y="336.2" width="1.05" height="6.91" fill="rgb(248, 248, 252)"/>
<rect x="75.5" y="343.0" width="1.05" height="6.91" fill="rgb(249, 247, 254)"/>
<rect x="75.5" y="349.9" width="1.05" height="6.91" fill="rgb(249, 249, 252)"/>
<rect x="75.5" y="356.8" width="1.05" height="6.91" fill="rgb(244, 250, 253)"/>
<rect x="75.5" y="363.6" width="1.05" height="6.91" fill="rgb(248, 251, 252)"/>
<rect x="75.5" y="370.5" width="1.05" height="6.91" fill="rgb(245, 249, 253)"/>
<rect x="75.5" y="377.4" width="1.05" height="6.91" fill="rgb(247, 250, 253)"/>
<rect x="75.5" y="384.2" width="1.05" height="6.91" fill="rgb(244, 248, 253)"/>
<rect x="75.5" y="391.1" width="1.05" height="6.91" fill="rgb(244, 248, 252)"/>
<rect x="75.5" y="397.9" width="1.05" height="6.91" fill="rgb(248, 251, 254)"/>
<rect x="76.5" y="315.6" width="1.05" height="6.91" fill="rgb(247, 250, 253)"/>
<rect x="76.5" y="322.5" width="1.05" height="6.91" fill="rgb(248, 249, 253)"/>
<rect x="76.5" y="329.3" width="1.05" height="6.91" fill="rgb(246, 248, 254)"/>
<rect x="76.5" y="336.2" width="1.05" height="6.91" fill="rgb(244, 250, 253)"/>
<rect x="76.5" y="343.0" width="1.05" height="6.91" fill="rgb(249, 248, 252)"/>
<rect x="76.5" y="349.9" width="1.05" height="6.91" fill="rgb(244, 250, 254)"/>
<rect x="76.5" y="356.8" width="1.05" height="6.91" fill="rgb(249, 249, 252)"/>
<rect x="76.5" y="363.6" width="1.05" height="6.91" fill="rgb(247, 251, 253)"/>
<rect x="76.5" y="370.5" width="1.05" height="6.91" fill="rgb(249, 249, 253)"/>
<rect x="76.5" y="377.4" width="1.05" height="6.91" fill="rgb(244, 247, 252)"/>
<rect x="76.5" y="384.2" width="1.05" height="6.91" fill="rgb(249, 251, 252)"/>
<rect x="76.5" y="391.1" width="1.05" height="6.91" fill="rgb(248, 249, 254)"/>
<rect x="76.5" y="397.9" width="1.05" height="6.91" fill="rgb(244, 250, 253)"/>
<rect x="77.5" y="315.6" width="1.05" height="6.91" fill="rgb(247, 247, 252)"/>
<rect x="77.5" y="322.5" width="1.05" height="6.91" fill="rgb(249, 248, 252)"/>
<rect x="77.5" y="329.3" width="1.05" height="6.91" fill="rgb(245, 247, 254)"/>
<rect x="77.5" y="336.2" width="1.05" height="6.91" fill="rgb(248, 251, 252)"/>
<rect x="77.5" y="343.0" width="1.05" height="6.91" fill="rgb(245, 249, 254)"/>
<rect x="77.5" y="349.9" width="1.05" height="6.91" fill="rgb(246, 247, 254)"/>
<rect x="77.5" y="356.8" width="1.05" height="6.91" fill="rgb(244, 247, 253)"/>
<rect x="77.5" y="363.6" width="1.05" height="6.91" fill="rgb(247, 247, 253)"/>
<rect x="77.5" y="370.5" width="1.05" height="6.91" fill="rgb(246, 249, 253)"/>
<rect x="77.5" y="377.4" width="1.05" height="6.91" fill="rgb(244, 247, 252)"/>
<rect x="77.5" y="384.2" width="1.05" height="6.91" fill="rgb(246, 249, 252)"/>
<rect x="77.5" y="391.1" width="1.05" height="6.91" fill="rgb(249, 251, 252)"/>
<rect x="77.5" y="397.9" width="1.05" height="6.91" fill="rgb(248, 250, 253)"/>
<rect x="78.5" y="315.6" width="1.05" height="6.91" fill="rgb(247, 247, 254)"/>
<rect x="78.5" y="322.5" width="1.05" height="6.91" fill="rgb(245, 248, 253)"/>
<rect x="78.5" y="329.3" width="1.05" height="6.91" fill="rgb(249, 247, 254)"/>
<rect x="78.5" y="336.2" width="1.05" height="6.91" fill="rgb(246, 251, 252)"/>
<rect x="78.5" y="343.0" width="1.05" height="6.91" fill="rgb(244, 247, 253)"/>
<rect x="78.5" y="349.9" width="1.05" height="6.91" fill="rgb(249, 251, 252)"/>
<rect x="78.5" y="356.8" width="1.05" height="6.91" fill="rgb(245, 251, 253)"/>
<rect x="78.5" y="363.6" width="1.05" height="6.91" fill="rgb(247, 251, 254)"/>
<rect x="78.5" y="370.5" width="1.05" height="6.91" fill="rgb(244, 250, 252)"/>
<rect x="78.5" y="377.4" width="1.05" height="6.91" fill="rgb(249, 250, 253)"/>
<rect x="78.5" y="384.2" width="1.05" height="6.91" fill="rgb(248, 247, 254)"/>
<rect x="78.5" y="391.1" width="1.05" height="6.91" fill="rgb(248, 251, 253)"/>
<rect x="78.5" y="397.9" width="1.05" height="6.91" fill="rgb(245, 251, 253)"/>
<rect x="79.5" y="315.6" width="1.05" height="6.91" fill="rgb(249, 249, 254)"/>
<rect x="79.5" y="322.5" width="1.05" height="6.91" fill="rgb(244, 250, 254)"/>
<rect x="79.5" y="329.3" width="1.05" height="6.91" fill="rgb(244, 249, 254)"/>
<rect x="79.5" y="336.2" width="1.05" height="6.91" fill="rgb(246, 251, 252)"/>
<rect x="79.5" y="343.0" width="1.05" height="6.91" fill="rgb(248, 247, 252)"/>
<rect x="79.5" y="349.9" width="1.05" height="6.91" fill="rgb(246, 251, 253)"/>
<rect x="79.5" y="356.8" width="1.05" height="6.91" fill="rgb(246, 247, 254)"/>
<rect x="79.5" y="363.6" width="1.05" height="6.91" fill="rgb(248, 249, 254)"/>
<rect x="79.5" y="370.5" width="1.05" height="6.91" fill="rgb(247, 250, 252)"/>
<rect x="79.5" y="377.4" width="1.05" height="6.91" fill="rgb(248, 249, 253)"/>
<rect x="79.5" y="384.2" width="1.05" height="6.91" fill="rgb(245, 251, 253)"/>
<rect x="79.5" y="391.1" width="1.05" height="6.91" fill="rgb(246, 247, 254)"/>
<rect x="79.5" y="397.9" width="1.05" height="6.91" fill="rgb(248, 251, 254)"/>
<rect x="80.5" y="315.6" width="1.05" height="6.91" fill="rgb(248, 249, 253)"/>
<rect x="80.5" y="322.5" width="1.05" height="6.91" fill="rgb(247, 248, 254)"/>
<rect x="80.5" y="329.3" width="1.05" height="6.91" fill="rgb(249, 248, 254)"/>
<rect x="80.5" y="336.2" width="1.05" height="6.91" fill="rgb(244, 248, 252)"/>
<rect x="80.5" y="343.0" width="1.05" height="6.91" fill="rgb(249, 247, 253)"/>
<rect x="80.5" y="349.9" width="1.05" height="6.91" fill="rgb(249, 248, 254)"/>
<rect x="80.5" y="356.8" width="1.05" height="6.91" fill="rgb(248, 248, 252)"/>
<rect x="80.5" y="363.6" width="1.05" height="6.91" fill="rgb(248, 251, 254)"/>
<rect x="80.5" y="370.5" width="1.05" height="6.91" fill="rgb(244, 250, 252)"/>
<rect x="80.5" y="377.4" width="1.05" height="6.91" fill="rgb(245, 251, 253)"/>
<rect x="80.5" y="384.2" width="1.05" height="6.91" fill="rgb(244, 250, 252)"/>
<rect x="80.5" y="391.1" width="1.05" height="6.91" fill="rgb(246, 249, 252)"/>
<rect x="80.5" y="397.9" width="1.05" height="6.91" fill="rgb(244, 249, 253)"/>
<rect x="81.5" y="315.6" width="1.05" height="6.91" fill="rgb(252, 242, 237)"/>
<rect x="81.5" y="322.5" width="1.05" height="6.91" fill="rgb(252, 239, 233)"/>
<rect x="81.5" y="329.3" width="1.05" height="6.91" fill="rgb(249, 247, 253)"/>
<rect x="81.5" y="336.2" width="1.05" height="6.91" fill="rgb(252, 242, 237)"/>
<rect x="81.5" y="343.0" width="1.05" height="6.91" fill="rgb(245, 247, 251)"/>
<rect x="81.5" y="349.9" width="1.05" height="6.91" fill="rgb(252, 238, 231)"/>
<rect x="81.5" y="356.8" width="1.05" height="6.91" fill="rgb(252, 245, 241)"/>
<rect x="81.5" y="363.6" width="1.05" height="6.91" fill="rgb(252, 245, 242)"/>
<rect x="81.5" y="370.5" width="1.05" height="6.91" fill="rgb(246, 247, 252)"/>
<rect x="81.5" y="377.4" width="1.05" height="6.91" fill="rgb(248, 207, 187)"/>
<rect x="81.5" y="384.2" width="1.05" height="6.91" fill="rgb(248, 207, 187)"/>
<rect x="81.5" y="391.1" width="1.05" height="6.91" fill="rgb(252, 240, 234)"/>
<rect x="81.5" y="397.9" width="1.05" height="6.91" fill="rgb(252, 244, 240)"/>
<rect x="82.5" y="315.6" width="1.05" height="6.91" fill="rgb(252, 244, 240)"/>
<rect x="82.5" y="322.5" width="1.05" height="6.91" fill="rgb(252, 246, 244)"/>
<rect x="82.5" y="329.3" width="1.05" height="6.91" fill="rgb(252, 247, 245)"/>
<rect x="82.5" y="336.2" width="1.05" height="6.91" fill="rgb(252, 247, 245)"/>
<rect x="82.5" y="343.0" width="1.05" height="6.91" fill="rgb(252, 245, 241)"/>
<rect x="82.5" y="349.9" width="1.05" height="6.91" fill="rgb(244, 247, 251)"/>
<rect x="82.5" y="356.8" width="1.05" height="6.91" fill="rgb(252, 246, 244)"/>
<rect x="82.5" y="363.6" width="1.05" height="6.91" fill="rgb(247, 250, 251)"/>
<rect x="82.5" y="370.5" width="1.05" height="6.91" fill="rgb(252, 245, 242)"/>
<rect x="82.5" y="377.4" width="1.05" height="6.91" fill="rgb(248, 207, 187)"/>
<rect x="82.5" y="384.2" width="1.05" height="6.91" fill="rgb(248, 207, 187)"/>
<rect x="82.5" y="391.1" width="1.05" height="6.91" fill="rgb(246, 246, 250)"/>
<rect x="82.5" y="397.9" width="1.05" height="6.91" fill="rgb(252, 244, 241)"/>
<rect x="83.5" y="315.6" width="1.05" height="6.91" fill="rgb(252, 244, 240)"/>
<rect x="83.5" y="322.5" width="1.05" height="6.91" fill="rgb(252, 246, 243)"/>
<rect x="83.5" y="329.3" width="1.05" height="6.91" fill="rgb(252, 238, 231)"/>
<rect x="83.5" y="336.2" width="1.05" height="6.91" fill="rgb(252, 239, 233)"/>
<rect x="83.5" y="343.0" width="1.05" height="6.91" fill="rgb(249, 250, 251)"/>
<rect x="83.5" y="349.9" width="1.05" height="6.91" fill="rgb(252, 240, 234)"/>
<rect x="83.5" y="356.8" width="1.05" height="6.91" fill="rgb(252, 237, 230)"/>
<rect x="83.5" y="363.6" width="1.05" height="6.91" fill="rgb(252, 238, 232)"/>
<rect x="83.5" y="370.5" width="1.05" height="6.91" fill="rgb(252, 247, 244)"/>
<rect x="83.5" y="377.4" width="1.05" height="6.91" fill="rgb(248, 207, 187)"/>
<rect x="83.5" y="384.2" width="1.05" height="6.91" fill="rgb(248, 207, 187)"/>
<rect x="83.5" y="391.1" width="1.05" height="6.91" fill="rgb(252, 237, 230)"/>
<rect x="83.5" y="397.9" width="1.05" height="6.91" fill="rgb(247, 248, 250)"/>
<rect x="84.5" y="315.6" width="1.05" height="6.91" fill="rgb(252, 240, 235)"/>
<rect x="84.5" y="322.5" width="1.05" height="6.91" fill="rgb(252, 241, 236)"/>
<rect x="84.5" y="329.3" width="1.05" height="6.91" fill="rgb(252, 244, 240)"/>
<rect x="84.5" y="336.2" width="1.05" height="6.91" fill="rgb(252, 241, 236)"/>
<rect x="84.5" y="343.0" width="1.05" height="6.91" fill="rgb(252, 240, 234)"/>
<rect x="84.5" y="349.9" width="1.05" height="6.91" fill="rgb(252, 244, 240)"/>
<rect x="84.5" y="356.8" width="1.05" height="6.91" fill="rgb(252, 240, 235)"/>
<rect x="84.5" y="363.6" width="1.05" height="6.91" fill="rgb(252, 244, 240)"/>
<rect x="84.5" y="370.5" width="1.05" height="6.91" fill="rgb(252, 246, 243)"/>
<rect x="84.5" y="377.4" width="1.05" height="6.91" fill="rgb(252, 241, 236)"/>
<rect x="84.5" y="384.2" width="1.05" height="6.91" fill="rgb(252, 241, 236)"/>
<rect x="84.5" y="391.1" width="1.05" height="6.91" fill="rgb(252, 241, 236)"/>
<rect x="84.5" y="397.9" width="1.05" height="6.91" fill="rgb(252, 241, 236)"/>
<rect x="85.5" y="315.6" width="1.05" height="6.91" fill="rgb(252, 247, 244)"/>
<rect x="85.5" y="322.5" width="1.05" height="6.91" fill="rgb(252, 246, 244)"/>
<rect x="85.5" y="329.3" width="1.05" height="6.91" fill="rgb(252, 245, 241)"/>
<rect x="85.5" y="336.2" width="1.05" height="6.91" fill="rgb(252, 241, 236)"/>
<rect x="85.5" y="343.0" width="1.05" height="6.91" fill="rgb(252, 242, 238)"/>
<rect x="85.5" y="349.9" width="1.05" height="6.91" fill="rgb(252, 244, 240)"/>
<rect x="85.5" y="356.8" width="1.05" height="6.91" fill="rgb(244, 247, 252)"/>
<rect x="85.5" y="363.6" width="1.05" height="6.91" fill="rgb(252, 247, 245)"/>
<rect x="85.5" y="370.5" width="1.05" height="6.91" fill="rgb(252, 246, 243)"/>
<rect x="85.5" y="377.4" width="1.05" height="6.91" fill="rgb(252, 245, 242)"/>
<rect x="85.5" y="384.2" width="1.05" height="6.91" fill="rgb(252, 242, 237)"/>
<rect x="85.5" y="391.1" width="1.05" height="6.91" fill="rgb(252, 246, 244)"/>
<rect x="85.5" y="397.9" width="1.05" height="6.91" fill="rgb(248, 249, 251)"/>
<rect x="86.5" y="315.6" width="1.05" height="6.91" fill="rgb(252, 241, 236)"/>
<rect x="86.5" y="322.5" width="1.05" height="6.91" fill="rgb(252, 246, 244)"/>
<rect x="86.5" y="329.3" width="1.05" height="6.91" fill="rgb(252, 242, 237)"/>
<rect x="86.5" y="336.2" width="1.05" height="6.91" fill="rgb(252, 240, 234)"/>
<rect x="86.5" y="343.0" width="1.05" height="6.91" fill="rgb(252, 243, 238)"/>
<rect x="86.5" y="349.9" width="1.05" height="6.91" fill="rgb(252, 242, 237)"/>
<rect x="86.5" y="356.8" width="1.05" height="6.91" fill="rgb(252, 238, 231)"/>
<rect x="86.5" y="363.6" width="1.05" height="6.91" fill="rgb(252, 241, 236)"/>
<rect x="86.5" y="370.5" width="1.05" height="6.91" fill="rgb(252, 242, 238)"/>
<rect x="86.5" y="377.4" width="1.05" height="6.91" fill="rgb(248, 246, 250)"/>
<rect x="86.5" y="384.2" width="1.05" height="6.91" fill="rgb(252, 245, 241)"/>
<rect x="86.5" y="391.1" width="1.05" height="6.91" fill="rgb(252, 245, 242)"/>
<rect x="86.5" y="397.9" width="1.05" height="6.91" fill="rgb(252, 243, 239)"/>
<rect x="87.5" y="315.6" width="1.05" height="6.91" fill="rgb(252, 246, 243)"/>
<rect x="87.5" y="322.5" width="1.05" height="6.91" fill="rgb(252, 246, 243)"/>
<rect x="87.5" y="329.3" width="1.05" height="6.91" fill="rgb(244, 246, 253)"/>
<rect x="87.5" y="336.2" width="1.05" height="6.91" fill="rgb(245, 247, 253)"/>
<rect x="87.5" y="343.0" width="1.05" height="6.91" fill="rgb(252, 243, 238)"/>
<rect x="87.5" y="349.9" width="1.05" height="6.91" fill="rgb(252, 242, 237)"/>
<rect x="87.5" y="356.8" width="1.05" height="6.91" fill="rgb(252, 247, 245)"/>
<rect x="87.5" y="363.6" width="1.05" height="6.91" fill="rgb(249, 248, 252)"/>
<rect x="87.5" y="370.5" width="1.05" height="6.91" fill="rgb(252, 247, 245)"/>
<rect x="87.5" y="377.4" width="1.05" height="6.91" fill="rgb(252, 242, 237)"/>
<rect x="87.5" y="384.2" width="1.05" height="6.91" fill="rgb(252, 243, 239)"/>
<rect x="87.5" y="391.1" width="1.05" height="6.91" fill="rgb(245, 249, 253)"/>
<rect x="87.5" y="397.9" width="1.05" height="6.91" fill="rgb(252, 245, 242)"/>
<rect x="88.5" y="315.6" width="1.05" height="6.91" fill="rgb(252, 245, 241)"/>
<rect x="88.5" y="322.5" width="1.05" height="6.91" fill="rgb(252, 239, 233)"/>
<rect x="88.5" y="329.3" width="1.05" height="6.91" fill="rgb(252, 243, 238)"/>
<rect x="88.5" y="336.2" width="1.05" height="6.91" fill="rgb(252, 247, 245)"/>
<rect x="88.5" y="343.0" width="1.05" height="6.91" fill="rgb(252, 241, 236)"/>
<rect x="88.5" y="349.9" width="1.05" height="6.91" fill="rgb(252, 237, 230)"/>
<rect x="88.5" y="356.8" width="1.05" height="6.91" fill="rgb(252, 246, 244)"/>
<rect x="88.5" y="363.6" width="1.05" height="6.91" fill="rgb(252, 243, 238)"/>
<rect x="88.5" y="370.5" width="1.05" height="6.91" fill="rgb(252, 243, 239)"/>
<rect x="88.5" y="377.4" width="1.05" height="6.91" fill="rgb(252, 241, 236)"/>
<rect x="88.5" y="384.2" width="1.05" height="6.91" fill="rgb(252, 246, 243)"/>
<rect x="88.5" y="391.1" width="1.05" height="6.91" fill="rgb(252, 246, 243)"/>
<rect x="88.5" y="397.9" width="1.05" height="6.91" fill="rgb(252, 247, 245)"/>
<rect x="89.5" y="315.6" width="1.05" height="6.91" fill="rgb(252, 243, 239)"/>
<rect x="89.5" y="322.5" width="1.05" height="6.91" fill="rgb(252, 242, 237)"/>
<rect x="89.5" y="329.3" width="1.05" height="6.91" fill="rgb(252, 241, 235)"/>
<rect x="89.5" y="336.2" width="1.05" height="6.91" fill="rgb(252, 243, 239)"/>
<rect x="89.5" y="343.0" width="1.05" height="6.91" fill="rgb(252, 245, 241)"/>
<rect x="89.5" y="349.9" width="1.05" height="6.91" fill="rgb(252, 246, 244)"/>
<rect x="89.5" y="356.8" width="1.05" height="6.91" fill="rgb(252, 240, 234)"/>
<rect x="89.5" y="363.6" width="1.05" height="6.91" fill="rgb(252, 239, 233)"/>
<rect x="89.5" y="370.5" width="1.05" height="6.91" fill="rgb(252, 240, 234)"/>
<rect x="89.5" y="377.4" width="1.05" height="6.91" fill="rgb(252, 243, 238)"/>
<rect x="89.5" y="384.2" width="1.05" height="6.91" fill="rgb(252, 241, 236)"/>
<rect x="89.5" y="391.1" width="1.05" height="6.91" fill="rgb(252, 245, 242)"/>
<rect x="89.5" y="397.9" width="1.05" height="6.91" fill="rgb(252, 239, 233)"/>
<rect x="90.5" y="315.6" width="1.05" height="6.91" fill="rgb(247, 249, 253)"/>
<rect x="90.5" y="322.5" width="1.05" height="6.91" fill="rgb(252, 240, 234)"/>
<rect x="90.5" y="329.3" width="1.05" height="6.91" fill="rgb(252, 242, 238)"/>
<rect x="90.5" y="336.2" width="1.05" height="6.91" fill="rgb(247, 246, 251)"/>
<rect x="90.5" y="343.0" width="1.05" height="6.91" fill="rgb(246, 250, 252)"/>
<rect x="90.5" y="349.9" width="1.05" height="6.91" fill="rgb(252, 239, 233)"/>
<rect x="90.5" y="356.8" width="1.05" height="6.91" fill="rgb(252, 241, 236)"/>
<rect x="90.5" y="363.6" width="1.05" height="6.91" fill="rgb(252, 242, 238)"/>
<rect x="90.5" y="370.5" width="1.05" height="6.91" fill="rgb(252, 245, 242)"/>
<rect x="90.5" y="377.4" width="1.05" height="6.91" fill="rgb(252, 246, 243)"/>
<rect x="90.5" y="384.2" width="1.05" height="6.91" fill="rgb(252, 242, 238)"/>
<rect x="90.5" y="391.1" width="1.05" height="6.91" fill="rgb(252, 241, 235)"/>
<rect x="90.5" y="397.9" width="1.05" height="6.91" fill="rgb(252, 242, 238)"/>
<rect x="91.5" y="315.6" width="1.05" height="6.91" fill="rgb(252, 247, 245)"/>
<rect x="91.5" y="322.5" width="1.05" height="6.91" fill="rgb(252, 247, 245)"/>
<rect x="91.5" y="329.3" width="1.05" height="6.91" fill="rgb(244, 249, 250)"/>
<rect x="91.5" y="336.2" width="1.05" height="6.91" fill="rgb(246, 246, 252)"/>
<rect x="91.5" y="343.0" width="1.05" height="6.91" fill="rgb(244, 249, 252)"/>
<rect x="91.5" y="349.9" width="1.05" height="6.91" fill="rgb(248, 246, 250)"/>
<rect x="91.5" y="356.8" width="1.05" height="6.91" fill="rgb(245, 247, 251)"/>
<rect x="91.5" y="363.6" width="1.05" height="6.91" fill="rgb(244, 247, 250)"/>
<rect x="91.5" y="370.5" width="1.05" height="6.91" fill="rgb(252, 247, 245)"/>
<rect x="91.5" y="377.4" width="1.05" height="6.91" fill="rgb(247, 246, 252)"/>
<rect x="91.5" y="384.2" width="1.05" height="6.91" fill="rgb(249, 248, 250)"/>
<rect x="91.5" y="391.1" width="1.05" height="6.91" fill="rgb(244, 247, 253)"/>
<rect x="91.5" y="397.9" width="1.05" height="6.91" fill="rgb(248, 249, 252)"/>
<rect x="92.5" y="315.6" width="1.05" height="6.91" fill="rgb(245, 248, 253)"/>
<rect x="92.5" y="322.5" width="1.05" height="6.91" fill="rgb(245, 249, 250)"/>
<rect x="92.5" y="329.3" width="1.05" height="6.91" fill="rgb(249, 248, 253)"/>
<rect x="92.5" y="336.2" width="1.05" height="6.91" fill="rgb(248, 250, 251)"/>
<rect x="92.5" y="343.0" width="1.05" height="6.91" fill="rgb(248, 246, 250)"/>
<rect x="92.5" y="349.9" width="1.05" height="6.91" fill="rgb(248, 249, 251)"/>
<rect x="92.5" y="356.8" width="1.05" height="6.91" fill="rgb(252, 247, 245)"/>
<rect x="92.5" y="363.6" width="1.05" height="6.91" fill="rgb(245, 246, 250)"/>
<rect x="92.5" y="370.5" width="1.05" height="6.91" fill="rgb(249, 247, 250)"/>
<rect x="92.5" y="377.4" width="1.05" height="6.91" fill="rgb(249, 246, 250)"/>
<rect x="92.5" y="384.2" width="1.05" height="6.91" fill="rgb(247, 250, 253)"/>
<rect x="92.5" y="391.1" width="1.05" height="6.91" fill="rgb(245, 246, 250)"/>
<rect x="92.5" y="397.9" width="1.05" height="6.91" fill="rgb(245, 246, 251)"/>
<rect x="93.5" y="315.6" width="1.05" height="6.91" fill="rgb(252, 236, 229)"/>
<rect x="93.5" y="322.5" width="1.05" height="6.91" fill="rgb(252, 236, 229)"/>
<rect x="93.5" y="329.3" width="1.05" height="6.91" fill="rgb(252, 242, 238)"/>
<rect x="93.5" y="336.2" width="1.05" height="6.91" fill="rgb(252, 238, 231)"/>
<rect x="93.5" y="343.0" width="1.05" height="6.91" fill="rgb(251, 235, 227)"/>
<rect x="93.5" y="349.9" width="1.05" height="6.91" fill="rgb(251, 234, 226)"/>
<rect x="93.5" y="356.8" width="1.05" height="6.91" fill="rgb(252, 242, 238)"/>
<rect x="93.5" y="363.6" width="1.05" height="6.91" fill="rgb(250, 226, 215)"/>
<rect x="93.5" y="370.5" width="1.05" height="6.91" fill="rgb(252, 236, 228)"/>
<rect x="93.5" y="377.4" width="1.05" height="6.91" fill="rgb(249, 213, 196)"/>
<rect x="93.5" y="384.2" width="1.05" height="6.91" fill="rgb(252, 240, 234)"/>
<rect x="93.5" y="391.1" width="1.05" height="6.91" fill="rgb(251, 230, 220)"/>
<rect x="93.5" y="397.9" width="1.05" height="6.91" fill="rgb(252, 242, 238)"/>
<rect x="94.5" y="315.6" width="1.05" height="6.91" fill="rgb(252, 240, 234)"/>
<rect x="94.5" y="322.5" width="1.05" height="6.91" fill="rgb(252, 238, 232)"/>
<rect x="94.5" y="329.3" width="1.05" height="6.91" fill="rgb(252, 241, 236)"/>
<rect x="94.5" y="336.2" width="1.05" height="6.91" fill="rgb(252, 236, 229)"/>
<rect x="94.5" y="343.0" width="1.05" height="6.91" fill="rgb(252, 236, 229)"/>
<rect x="94.5" y="349.9" width="1.05" height="6.91" fill="rgb(252, 244, 241)"/>
<rect x="94.5" y="356.8" width="1.05" height="6.91" fill="rgb(252, 240, 234)"/>
<rect x="94.5" y="363.6" width="1.05" height="6.91" fill="rgb(252, 237, 229)"/>
<rect x="94.5" y="370.5" width="1.05" height="6.91" fill="rgb(252, 245, 242)"/>
<rect x="94.5" y="377.4" width="1.05" height="6.91" fill="rgb(252, 244, 240)"/>
<rect x="94.5" y="384.2" width="1.05" height="6.91" fill="rgb(252, 246, 244)"/>
<rect x="94.5" y="391.1" width="1.05" height="6.91" fill="rgb(246, 247, 251)"/>
<rect x="94.5" y="397.9" width="1.05" height="6.91" fill="rgb(252, 246, 244)"/>
<rect x="95.5" y="315.6" width="1.05" height="6.91" fill="rgb(252, 246, 244)"/>
<rect x="95.5" y="322.5" width="1.05" height="6.91" fill="rgb(252, 247, 244)"/>
<rect x="95.5" y="329.3" width="1.05" height="6.91" fill="rgb(252, 245, 241)"/>
<rect x="95.5" y="336.2" width="1.05" height="6.91" fill="rgb(247, 247, 251)"/>
<rect x="95.5" y="343.0" width="1.05" height="6.91" fill="rgb(252, 241, 236)"/>
<rect x="95.5" y="349.9" width="1.05" height="6.91" fill="rgb(245, 249, 251)"/>
<rect x="95.5" y="356.8" width="1.05" height="6.91" fill="rgb(252, 242, 237)"/>
<rect x="95.5" y="363.6" width="1.05" height="6.91" fill="rgb(252, 242, 237)"/>
<rect x="95.5" y="370.5" width="1.05" height="6.91" fill="rgb(252, 241, 235)"/>
<rect x="95.5" y="377.4" width="1.05" height="6.91" fill="rgb(252, 245, 242)"/>
<rect x="95.5" y="384.2" width="1.05" height="6.91" fill="rgb(252, 243, 238)"/>
<rect x="95.5" y="391.1" width="1.05" height="6.91" fill="rgb(245, 249, 251)"/>
<rect x="95.5" y="397.9" width="1.05" height="6.91" fill="rgb(252, 244, 241)"/>
<rect x="96.5" y="315.6" width="1.05" height="6.91" fill="rgb(252, 242, 237)"/>
<rect x="96.5" y="322.5" width="1.05" height="6.91" fill="rgb(252, 240, 234)"/>
<rect x="96.5" y="329.3" width="1.05" height="6.91" fill="rgb(252, 236, 229)"/>
<rect x="96.5" y="336.2" width="1.05" height="6.91" fill="rgb(250, 222, 208)"/>
<rect x="96.5" y="343.0" width="1.05" height="6.91" fill="rgb(252, 244, 240)"/>
<rect x="96.5" y="349.9" width="1.05" height="6.91" fill="rgb(250, 223, 210)"/>
<rect x="96.5" y="356.8" width="1.05" height="6.91" fill="rgb(251, 228, 217)"/>
<rect x="96.5" y="363.6" width="1.05" height="6.91" fill="rgb(252, 243, 238)"/>
<rect x="96.5" y="370.5" width="1.05" height="6.91" fill="rgb(252, 238, 231)"/>
<rect x="96.5" y="377.4" width="1.05" height="6.91" fill="rgb(252, 237, 230)"/>
<rect x="96.5" y="384.2" width="1.05" height="6.91" fill="rgb(250, 221, 206)"/>
<rect x="96.5" y="391.1" width="1.05" height="6.91" fill="rgb(252, 243, 239)"/>
<rect x="96.5" y="397.9" width="1.05" height="6.91" fill="rgb(251, 229, 219)"/>
<rect x="97.5" y="315.6" width="1.05" height="6.91" fill="rgb(252, 246, 243)"/>
<rect x="97.5" y="322.5" width="1.05" height="6.91" fill="rgb(244, 250, 252)"/>
<rect x="97.5" y="329.3" width="1.05" height="6.91" fill="rgb(252, 247, 244)"/>
<rect x="97.5" y="336.2" width="1.05" height="6.91" fill="rgb(252, 247, 245)"/>
<rect x="97.5" y="343.0" width="1.05" height="6.91" fill="rgb(252, 241, 236)"/>
<rect x="97.5" y="349.9" width="1.05" height="6.91" fill="rgb(252, 246, 244)"/>
<rect x="97.5" y="356.8" width="1.05" height="6.91" fill="rgb(252, 245, 242)"/>
<rect x="97.5" y="363.6" width="1.05" height="6.91" fill="rgb(252, 244, 240)"/>
<rect x="97.5" y="370.5" width="1.05" height="6.91" fill="rgb(252, 245, 241)"/>
<rect x="97.5" y="377.4" width="1.05" height="6.91" fill="rgb(252, 239, 232)"/>
<rect x="97.5" y="384.2" width="1.05" height="6.91" fill="rgb(252, 245, 242)"/>
<rect x="97.5" y="391.1" width="1.05" height="6.91" fill="rgb(252, 239, 233)"/>
<rect x="97.5" y="397.9" width="1.05" height="6.91" fill="rgb(252, 242, 237)"/>
<rect x="98.5" y="315.6" width="1.05" height="6.91" fill="rgb(252, 241, 235)"/>
<rect x="98.5" y="322.5" width="1.05" height="6.91" fill="rgb(248, 246, 250)"/>
<rect x="98.5" y="329.3" width="1.05" height="6.91" fill="rgb(252, 245, 242)"/>
<rect x="98.5" y="336.2" width="1.05" height="6.91" fill="rgb(252, 240, 234)"/>
<rect x="98.5" y="343.0" width="1.05" height="6.91" fill="rgb(252, 242, 237)"/>
<rect x="98.5" y="349.9" width="1.05" height="6.91" fill="rgb(252, 245, 241)"/>
<rect x="98.5" y="356.8" width="1.05" height="6.91" fill="rgb(252, 246, 244)"/>
<rect x="98.5" y="363.6" width="1.05" height="6.91" fill="rgb(252, 244, 240)"/>
<rect x="98.5" y="370.5" width="1.05" height="6.91" fill="rgb(252, 244, 240)"/>
<rect x="98.5" y="377.4" width="1.05" height="6.91" fill="rgb(247, 246, 252)"/>
<rect x="98.5" y="384.2" width="1.05" height="6.91" fill="rgb(252, 245, 242)"/>
<rect x="98.5" y="391.1" width="1.05" height="6.91" fill="rgb(252, 246, 244)"/>
<rect x="98.5" y="397.9" width="1.05" height="6.91" fill="rgb(244, 249, 252)"/>
<rect x="99.5" y="315.6" width="1.05" height="6.91" fill="rgb(249, 214, 197)"/>
<rect x="99.5" y="322.5" width="1.05" height="6.91" fill="rgb(249, 214, 197)"/>
<rect x="99.5" y="329.3" width="1.05" height="6.91" fill="rgb(252, 247, 245)"/>
<rect x="99.5" y="336.2" width="1.05" height="6.91" fill="rgb(249, 250, 253)"/>
<rect x="99.5" y="343.0" width="1.05" height="6.91" fill="rgb(252, 245, 242)"/>
<rect x="99.5" y="349.9" width="1.05" height="6.91" fill="rgb(252, 246, 244)"/>
<rect x="99.5" y="356.8" width="1.05" height="6.91" fill="rgb(252, 245, 242)"/>
<rect x="99.5" y="363.6" width="1.05" height="6.91" fill="rgb(248, 248, 253)"/>
<rect x="99.5" y="370.5" width="1.05" height="6.91" fill="rgb(252, 244, 240)"/>
<rect x="99.5" y="377.4" width="1.05" height="6.91" fill="rgb(252, 246, 243)"/>
<rect x="99.5" y="384.2" width="1.05" height="6.91" fill="rgb(244, 250, 253)"/>
<rect x="99.5" y="391.1" width="1.05" height="6.91" fill="rgb(247, 249, 250)"/>
<rect x="99.5" y="397.9" width="1.05" height="6.91" fill="rgb(252, 245, 242)"/>
<rect x="100.5" y="315.6" width="1.05" height="6.91" fill="rgb(249, 214, 197)"/>
<rect x="100.5" y="322.5" width="1.05" height="6.91" fill="rgb(249, 214, 197)"/>
<rect x="100.5" y="329.3" width="1.05" height="6.91" fill="rgb(252, 245, 242)"/>
<rect x="100.5" y="336.2" width="1.05" height="6.91" fill="rgb(252, 243, 239)"/>
<rect x="100.5" y="343.0" width="1.05" height="6.91" fill="rgb(252, 244, 240)"/>
<rect x="100.5" y="349.9" width="1.05" height="6.91" fill="rgb(252, 241, 235)"/>
<rect x="100.5" y="356.8" width="1.05" height="6.91" fill="rgb(252, 240, 234)"/>
<rect x="100.5" y="363.6" width="1.05" height="6.91" fill="rgb(252, 239, 232)"/>
<rect x="100.5" y="370.5" width="1.05" height="6.91" fill="rgb(252, 236, 228)"/>
<rect x="100.5" y="377.4" width="1.05" height="6.91" fill="rgb(252, 239, 233)"/>
<rect x="100.5" y="384.2" width="1.05" height="6.91" fill="rgb(252, 244, 240)"/>
<rect x="100.5" y="391.1" width="1.05" height="6.91" fill="rgb(252, 242, 237)"/>
<rect x="100.5" y="397.9" width="1.05" height="6.91" fill="rgb(252, 244, 241)"/>
<rect x="101.5" y="315.6" width="1.05" height="6.91" fill="rgb(252, 245, 242)"/>
<rect x="101.5" y="322.5" width="1.05" height="6.91" fill="rgb(252, 246, 244)"/>
<rect x="101.5" y="329.3" width="1.05" height="6.91" fill="rgb(247, 250, 251)"/>
<rect x="101.5" y="336.2" width="1.05" height="6.91" fill="rgb(244, 248, 253)"/>
<rect x="101.5" y="343.0" width="1.05" height="6.91" fill="rgb(245, 247, 253)"/>
<rect x="101.5" y="349.9" width="1.05" height="6.91" fill="rgb(252, 244, 240)"/>
<rect x="101.5" y="356.8" width="1.05" height="6.91" fill="rgb(252, 245, 242)"/>
<rect x="101.5" y="363.6" width="1.05" height="6.91" fill="rgb(252, 242, 237)"/>
<rect x="101.5" y="370.5" width="1.05" height="6.91" fill="rgb(252, 241, 236)"/>
<rect x="101.5" y="377.4" width="1.05" height="6.91" fill="rgb(252, 244, 241)"/>
<rect x="101.5" y="384.2" width="1.05" height="6.91" fill="rgb(252, 243, 238)"/>
<rect x="101.5" y="391.1" width="1.05" height="6.91" fill="rgb(252, 243, 239)"/>
<rect x="101.5" y="397.9" width="1.05" height="6.91" fill="rgb(247, 248, 253)"/>
<rect x="102.5" y="315.6" width="1.05" height="6.91" fill="rgb(252, 242, 237)"/>
<rect x="102.5" y="322.5" width="1.05" height="6.91" fill="rgb(252, 240, 234)"/>
<rect x="102.5" y="329.3" width="1.05" height="6.91" fill="rgb(251, 235, 227)"/>
<rect x="102.5" y="336.2" width="1.05" height="6.91" fill="rgb(252, 243, 238)"/>
<rect x="102.5" y="343.0" width="1.05" height="6.91" fill="rgb(252, 245, 242)"/>
<rect x="102.5" y="349.9" width="1.05" height="6.91" fill="rgb(252, 239, 232)"/>
<rect x="102.5" y="356.8" width="1.05" height="6.91" fill="rgb(252, 239, 233)"/>
<rect x="102.5" y="363.6" width="1.05" height="6.91" fill="rgb(252, 244, 240)"/>
<rect x="102.5" y="370.5" width="1.05" height="6.91" fill="rgb(252, 243, 238)"/>
<rect x="102.5" y="377.4" width="1.05" height="6.91" fill="rgb(252, 244, 240)"/>
<rect x="102.5" y="384.2" width="1.05" height="6.91" fill="rgb(252, 242, 237)"/>
<rect x="102.5" y="391.1" width="1.05" height="6.91" fill="rgb(252, 237, 229)"/>
<rect x="102.5" y="397.9" width="1.05" height="6.91" fill="rgb(252, 245, 241)"/>
<rect x="103.5" y="315.6" width="1.05" height="6.91" fill="rgb(252, 244, 240)"/>
<rect x="103.5" y="322.5" width="1.05" height="6.91" fill="rgb(252, 244, 240)"/>
<rect x="103.5" y="329.3" width="1.05" height="6.91" fill="rgb(252, 241, 235)"/>
<rect x="103.5" y="336.2" width="1.05" height="6.91" fill="rgb(252, 244, 240)"/>
<rect x="103.5" y="343.0" width="1.05" height="6.91" fill="rgb(252, 244, 241)"/>
<rect x="103.5" y="349.9" width="1.05" height="6.91" fill="rgb(252, 240, 234)"/>
<rect x="103.5" y="356.8" width="1.05" height="6.91" fill="rgb(252, 239, 232)"/>
<rect x="103.5" y="363.6" width="1.05" height="6.91" fill="rgb(249, 250, 250)"/>
<rect x="103.5" y="370.5" width="1.05" height="6.91" fill="rgb(252, 243, 239)"/>
<rect x="103.5" y="377.4" width="1.05" height="6.91" fill="rgb(247, 246, 251)"/>
<rect x="103.5" y="384.2" width="1.05" height="6.91" fill="rgb(252, 246, 244)"/>
<rect x="103.5" y="391.1" width="1.05" height="6.91" fill="rgb(252, 242, 237)"/>
<rect x="103.5" y="397.9" width="1.05" height="6.91" fill="rgb(252, 244, 240)"/>
<rect x="104.5" y="315.6" width="1.05" height="6.91" fill="rgb(252, 244, 241)"/>
<rect x="104.5" y="322.5" width="1.05" height="6.91" fill="rgb(252, 247, 244)"/>
<rect x="104.5" y="329.3" width="1.05" height="6.91" fill="rgb(252, 246, 243)"/>
<rect x="104.5" y="336.2" width="1.05" height="6.91" fill="rgb(252, 245, 241)"/>
<rect x="104.5" y="343.0" width="1.05" height="6.91" fill="rgb(248, 246, 250)"/>
<rect x="104.5" y="349.9" width="1.05" height="6.91" fill="rgb(252, 247, 244)"/>
<rect x="104.5" y="356.8" width="1.05" height="6.91" fill="rgb(252, 243, 239)"/>
<rect x="104.5" y="363.6" width="1.05" height="6.91" fill="rgb(252, 245, 242)"/>
<rect x="104.5" y="370.5" width="1.05" height="6.91" fill="rgb(252, 243, 239)"/>
<rect x="104.5" y="377.4" width="1.05" height="6.91" fill="rgb(252, 246, 243)"/>
<rect x="104.5" y="384.2" width="1.05" height="6.91" fill="rgb(252, 247, 245)"/>
<rect x="104.5" y="391.1" width="1.05" height="6.91" fill="rgb(252, 243, 238)"/>
<rect x="104.5" y="397.9" width="1.05" height="6.91" fill="rgb(252, 247, 245)"/>
<rect x="105.5" y="315.6" width="1.05" height="6.91" fill="rgb(250, 222, 209)"/>
<rect x="105.5" y="322.5" width="1.05" height="6.91" fill="rgb(252, 246, 243)"/>
<rect x="105.5" y="329.3" width="1.05" height="6.91" fill="rgb(250, 223, 210)"/>
<rect x="105.5" y="336.2" width="1.05" height="6.91" fill="rgb(251, 228, 218)"/>
<rect x="105.5" y="343.0" width="1.05" height="6.91" fill="rgb(252, 245, 242)"/>
<rect x="105.5" y="349.9" width="1.05" height="6.91" fill="rgb(252, 241, 235)"/>
<rect x="105.5" y="356.8" width="1.05" height="6.91" fill="rgb(252, 241, 236)"/>
<rect x="105.5" y="363.6" width="1.05" height="6.91" fill="rgb(250, 221, 207)"/>
<rect x="105.5" y="370.5" width="1.05" height="6.91" fill="rgb(249, 217, 202)"/>
<rect x="105.5" y="377.4" width="1.05" height="6.91" fill="rgb(250, 221, 206)"/>
<rect x="105.5" y="384.2" width="1.05" height="6.91" fill="rgb(252, 246, 243)"/>
<rect x="105.5" y="391.1" width="1.05" height="6.91" fill="rgb(252, 239, 233)"/>
<rect x="105.5" y="397.9" width="1.05" height="6.91" fill="rgb(252, 237, 229)"/>
<rect x="106.5" y="315.6" width="1.05" height="6.91" fill="rgb(252, 247, 244)"/>
<rect x="106.5" y="322.5" width="1.05" height="6.91" fill="rgb(252, 246, 244)"/>
<rect x="106.5" y="329.3" width="1.05" height="6.91" fill="rgb(245, 247, 252)"/>
<rect x="106.5" y="336.2" width="1.05" height="6.91" fill="rgb(247, 247, 252)"/>
<rect x="106.5" y="343.0" width="1.05" height="6.91" fill="rgb(244, 249, 250)"/>
<rect x="106.5" y="349.9" width="1.05" height="6.91" fill="rgb(245, 247, 251)"/>
<rect x="106.5" y="356.8" width="1.05" height="6.91" fill="rgb(244, 250, 252)"/>
<rect x="106.5" y="363.6" width="1.05" height="6.91" fill="rgb(244, 247, 250)"/>
<rect x="106.5" y="370.5" width="1.05" height="6.91" fill="rgb(246, 250, 250)"/>
<rect x="106.5" y="377.4" width="1.05" height="6.91" fill="rgb(245, 250, 253)"/>
<rect x="106.5" y="384.2" width="1.05" height="6.91" fill="rgb(249, 246, 253)"/>
<rect x="106.5" y="391.1" width="1.05" height="6.91" fill="rgb(252, 247, 245)"/>
<rect x="106.5" y="397.9" width="1.05" height="6.91" fill="rgb(247, 248, 253)"/>
<rect x="107.5" y="315.6" width="1.05" height="6.91" fill="rgb(248, 246, 253)"/>
<rect x="107.5" y="322.5" width="1.05" height="6.91" fill="rgb(248, 249, 253)"/>
<rect x="107.5" y="329.3" width="1.05" height="6.91" fill="rgb(245, 248, 252)"/>
<rect x="107.5" y="336.2" width="1.05" height="6.91" fill="rgb(246, 247, 251)"/>
<rect x="107.5" y="343.0" width="1.05" height="6.91" fill="rgb(247, 247, 253)"/>
<rect x="107.5" y="349.9" width="1.05" height="6.91" fill="rgb(248, 246, 251)"/>
<rect x="107.5" y="356.8" width="1.05" height="6.91" fill="rgb(247, 248, 251)"/>
<rect x="107.5" y="363.6" width="1.05" height="6.91" fill="rgb(247, 246, 253)"/>
<rect x="107.5" y="370.5" width="1.05" height="6.91" fill="rgb(248, 248, 253)"/>
<rect x="107.5" y="377.4" width="1.05" height="6.91" fill="rgb(246, 249, 253)"/>
<rect x="107.5" y="384.2" width="1.05" height="6.91" fill="rgb(247, 250, 253)"/>
<rect x="107.5" y="391.1" width="1.05" height="6.91" fill="rgb(248, 247, 250)"/>
<rect x="107.5" y="397.9" width="1.05" height="6.91" fill="rgb(245, 248, 253)"/>
<rect x="108.5" y="315.6" width="1.05" height="6.91" fill="rgb(247, 246, 250)"/>
<rect x="108.5" y="322.5" width="1.05" height="6.91" fill="rgb(244, 246, 251)"/>
<rect x="108.5" y="329.3" width="1.05" height="6.91" fill="rgb(252, 246, 243)"/>
<rect x="108.5" y="336.2" width="1.05" height="6.91" fill="rgb(248, 246, 251)"/>
<rect x="108.5" y="343.0" width="1.05" height="6.91" fill="rgb(252, 247, 245)"/>
<rect x="108.5" y="349.9" width="1.05" height="6.91" fill="rgb(252, 246, 243)"/>
<rect x="108.5" y="356.8" width="1.05" height="6.91" fill="rgb(252, 245, 242)"/>
<rect x="108.5" y="363.6" width="1.05" height="6.91" fill="rgb(252, 247, 244)"/>
<rect x="108.5" y="370.5" width="1.05" height="6.91" fill="rgb(247, 248, 252)"/>
<rect x="108.5" y="377.4" width="1.05" height="6.91" fill="rgb(247, 248, 252)"/>
<rect x="108.5" y="384.2" width="1.05" height="6.91" fill="rgb(252, 246, 243)"/>
<rect x="108.5" y="391.1" width="1.05" height="6.91" fill="rgb(246, 249, 251)"/>
<rect x="108.5" y="397.9" width="1.05" height="6.91" fill="rgb(252, 245, 242)"/>
<rect x="109.5" y="315.6" width="1.05" height="6.91" fill="rgb(252, 246, 243)"/>
<rect x="109.5" y="322.5" width="1.05" height="6.91" fill="rgb(252, 241, 236)"/>
<rect x="109.5" y="329.3" width="1.05" height="6.91" fill="rgb(251, 233, 224)"/>
<rect x="109.5" y="336.2" width="1.05" height="6.91" fill="rgb(252, 239, 233)"/>
<rect x="109.5" y="343.0" width="1.05" height="6.91" fill="rgb(252, 242, 238)"/>
<rect x="109.5" y="349.9" width="1.05" height="6.91" fill="rgb(252, 239, 233)"/>
<rect x="109.5" y="356.8" width="1.05" height="6.91" fill="rgb(251, 234, 226)"/>
<rect x="109.5" y="363.6" width="1.05" height="6.91" fill="rgb(251, 231, 221)"/>
<rect x="109.5" y="370.5" width="1.05" height="6.91" fill="rgb(252, 246, 244)"/>
<rect x="109.5" y="377.4" width="1.05" height="6.91" fill="rgb(252, 240, 234)"/>
<rect x="109.5" y="384.2" width="1.05" height="6.91" fill="rgb(252, 239, 232)"/>
<rect x="109.5" y="391.1" width="1.05" height="6.91" fill="rgb(252, 240, 234)"/>
<rect x="109.5" y="397.9" width="1.05" height="6.91" fill="rgb(252, 240, 235)"/>
<rect x="110.5" y="315.6" width="1.05" height="6.91" fill="rgb(252, 241, 236)"/>
<rect x="110.5" y="322.5" width="1.05" height="6.91" fill="rgb(252, 244, 240)"/>
<rect x="110.5" y="329.3" width="1.05" height="6.91" fill="rgb(252, 246, 244)"/>
<rect x="110.5" y="336.2" width="1.05" height="6.91" fill="rgb(252, 246, 244)"/>
<rect x="110.5" y="343.0" width="1.05" height="6.91" fill="rgb(252, 241, 235)"/>
<rect x="110.5" y="349.9" width="1.05" height="6.91" fill="rgb(252, 239, 232)"/>
<rect x="110.5" y="356.8" width="1.05" height="6.91" fill="rgb(250, 223, 210)"/>
<rect x="110.5" y="363.6" width="1.05" height="6.91" fill="rgb(251, 232, 222)"/>
<rect x="110.5" y="370.5" width="1.05" height="6.91" fill="rgb(252, 237, 229)"/>
<rect x="110.5" y="377.4" width="1.05" height="6.91" fill="rgb(252, 237, 230)"/>
<rect x="110.5" y="384.2" width="1.05" height="6.91" fill="rgb(252, 243, 239)"/>
<rect x="110.5" y="391.1" width="1.05" height="6.91" fill="rgb(251, 235, 227)"/>
<rect x="110.5" y="397.9" width="1.05" height="6.91" fill="rgb(251, 227, 216)"/>
<rect x="111.5" y="315.6" width="1.05" height="6.91" fill="rgb(244, 247, 253)"/>
<rect x="111.5" y="322.5" width="1.05" height="6.91" fill="rgb(248, 247, 253)"/>
<rect x="111.5" y="329.3" width="1.05" height="6.91" fill="rgb(252, 246, 243)"/>
<rect x="111.5" y="336.2" width="1.05" height="6.91" fill="rgb(252, 246, 244)"/>
<rect x="111.5" y="343.0" width="1.05" height="6.91" fill="rgb(252, 247, 244)"/>
<rect x="111.5" y="349.9" width="1.05" height="6.91" fill="rgb(246, 248, 253)"/>
<rect x="111.5" y="356.8" width="1.05" height="6.91" fill="rgb(252, 246, 243)"/>
<rect x="111.5" y="363.6" width="1.05" height="6.91" fill="rgb(252, 246, 244)"/>
<rect x="111.5" y="370.5" width="1.05" height="6.91" fill="rgb(244, 250, 251)"/>
<rect x="111.5" y="377.4" width="1.05" height="6.91" fill="rgb(247, 246, 253)"/>
<rect x="111.5" y="384.2" width="1.05" height="6.91" fill="rgb(244, 248, 250)"/>
<rect x="111.5" y="391.1" width="1.05" height="6.91" fill="rgb(252, 246, 243)"/>
<rect x="111.5" y="397.9" width="1.05" height="6.91" fill="rgb(248, 249, 251)"/>
<rect x="112.5" y="315.6" width="1.05" height="6.91" fill="rgb(252, 246, 243)"/>
<rect x="112.5" y="322.5" width="1.05" height="6.91" fill="rgb(249, 247, 252)"/>
<rect x="112.5" y="329.3" width="1.05" height="6.91" fill="rgb(252, 247, 245)"/>
<rect x="112.5" y="336.2" width="1.05" height="6.91" fill="rgb(252, 246, 243)"/>
<rect x="112.5" y="343.0" width="1.05" height="6.91" fill="rgb(246, 246, 253)"/>
<rect x="112.5" y="349.9" width="1.05" height="6.91" fill="rgb(248, 250, 250)"/>
<rect x="112.5" y="356.8" width="1.05" height="6.91" fill="rgb(252, 246, 243)"/>
<rect x="112.5" y="363.6" width="1.05" height="6.91" fill="rgb(248, 246, 250)"/>
<rect x="112.5" y="370.5" width="1.05" height="6.91" fill="rgb(244, 247, 252)"/>
<rect x="112.5" y="377.4" width="1.05" height="6.91" fill="rgb(248, 250, 251)"/>
<rect x="112.5" y="384.2" width="1.05" height="6.91" fill="rgb(246, 246, 250)"/>
<rect x="112.5" y="391.1" width="1.05" height="6.91" fill="rgb(252, 245, 242)"/>
<rect x="112.5" y="397.9" width="1.05" height="6.91" fill="rgb(246, 250, 253)"/>
<rect x="113.5" y="315.6" width="1.05" height="6.91" fill="rgb(247, 246, 250)"/>
<rect x="113.5" y="322.5" width="1.05" height="6.91" fill="rgb(245, 248, 250)"/>
<rect x="113.5" y="329.3" width="1.05" height="6.91" fill="rgb(247, 247, 251)"/>
<rect x="113.5" y="336.2" width="1.05" height="6.91" fill="rgb(248, 248, 252)"/>
<rect x="113.5" y="343.0" width="1.05" height="6.91" fill="rgb(249, 247, 251)"/>
<rect x="113.5" y="349.9" width="1.05" height="6.91" fill="rgb(244, 246, 250)"/>
<rect x="113.5" y="356.8" width="1.05" height="6.91" fill="rgb(249, 247, 250)"/>
<rect x="113.5" y="363.6" width="1.05" height="6.91" fill="rgb(248, 247, 250)"/>
<rect x="113.5" y="370.5" width="1.05" height="6.91" fill="rgb(249, 249, 252)"/>
<rect x="113.5" y="377.4" width="1.05" height="6.91" fill="rgb(248, 250, 252)"/>
<rect x="113.5" y="384.2" width="1.05" height="6.91" fill="rgb(244, 249, 251)"/>
<rect x="113.5" y="391.1" width="1.05" height="6.91" fill="rgb(245, 246, 251)"/>
<rect x="113.5" y="397.9" width="1.05" height="6.91" fill="rgb(245, 246, 251)"/>
<rect x="114.5" y="315.6" width="1.05" height="6.91" fill="rgb(244, 247, 253)"/>
<rect x="114.5" y="322.5" width="1.05" height="6.91" fill="rgb(248, 250, 250)"/>
<rect x="114.5" y="329.3" width="1.05" height="6.91" fill="rgb(245, 248, 253)"/>
<rect x="114.5" y="336.2" width="1.05" height="6.91" fill="rgb(248, 250, 250)"/>
<rect x="114.5" y="343.0" width="1.05" height="6.91" fill="rgb(249, 246, 253)"/>
<rect x="114.5" y="349.9" width="1.05" height="6.91" fill="rgb(248, 249, 250)"/>
<rect x="114.5" y="356.8" width="1.05" height="6.91" fill="rgb(247, 248, 252)"/>
<rect x="114.5" y="363.6" width="1.05" height="6.91" fill="rgb(246, 247, 250)"/>
<rect x="114.5" y="370.5" width="1.05" height="6.91" fill="rgb(248, 248, 250)"/>
<rect x="114.5" y="377.4" width="1.05" height="6.91" fill="rgb(248, 247, 252)"/>
<rect x="114.5" y="384.2" width="1.05" height="6.91" fill="rgb(246, 249, 253)"/>
<rect x="114.5" y="391.1" width="1.05" height="6.91" fill="rgb(247, 249, 253)"/>
<rect x="114.5" y="397.9" width="1.05" height="6.91" fill="rgb(244, 249, 253)"/>
<rect x="115.5" y="315.6" width="1.05" height="6.91" fill="rgb(246, 250, 252)"/>
<rect x="115.5" y="322.5" width="1.05" height="6.91" fill="rgb(245, 248, 250)"/>
<rect x="115.5" y="329.3" width="1.05" height="6.91" fill="rgb(246, 248, 253)"/>
<rect x="115.5" y="336.2" width="1.05" height="6.91" fill="rgb(244, 250, 253)"/>
<rect x="115.5" y="343.0" width="1.05" height="6.91" fill="rgb(247, 249, 253)"/>
<rect x="115.5" y="349.9" width="1.05" height="6.91" fill="rgb(245, 249, 251)"/>
<rect x="115.5" y="356.8" width="1.05" height="6.91" fill="rgb(247, 250, 253)"/>
<rect x="115.5" y="363.6" width="1.05" height="6.91" fill="rgb(245, 246, 253)"/>
<rect x="115.5" y="370.5" width="1.05" height="6.91" fill="rgb(244, 248, 251)"/>
<rect x="115.5" y="377.4" width="1.05" height="6.91" fill="rgb(245, 250, 250)"/>
<rect x="115.5" y="384.2" width="1.05" height="6.91" fill="rgb(248, 249, 252)"/>
<rect x="115.5" y="391.1" width="1.05" height="6.91" fill="rgb(245, 250, 250)"/>
<rect x="115.5" y="397.9" width="1.05" height="6.91" fill="rgb(249, 246, 253)"/>
<rect x="116.5" y="315.6" width="1.05" height="6.91" fill="rgb(252, 247, 244)"/>
<rect x="116.5" y="322.5" width="1.05" height="6.91" fill="rgb(252, 246, 243)"/>
<rect x="116.5" y="329.3" width="1.05" height="6.91" fill="rgb(252, 243, 239)"/>
<rect x="116.5" y="336.2" width="1.05" height="6.91" fill="rgb(252, 246, 244)"/>
<rect x="116.5" y="343.0" width="1.05" height="6.91" fill="rgb(252, 245, 242)"/>
<rect x="116.5" y="349.9" width="1.05" height="6.91" fill="rgb(252, 246, 243)"/>
<rect x="116.5" y="356.8" width="1.05" height="6.91" fill="rgb(246, 250, 253)"/>
<rect x="116.5" y="363.6" width="1.05" height="6.91" fill="rgb(252, 246, 243)"/>
<rect x="116.5" y="370.5" width="1.05" height="6.91" fill="rgb(252, 246, 244)"/>
<rect x="116.5" y="377.4" width="1.05" height="6.91" fill="rgb(252, 246, 243)"/>
<rect x="116.5" y="384.2" width="1.05" height="6.91" fill="rgb(252, 243, 238)"/>
<rect x="116.5" y="391.1" width="1.05" height="6.91" fill="rgb(252, 247, 244)"/>
<rect x="116.5" y="397.9" width="1.05" height="6.91" fill="rgb(252, 244, 240)"/>
<rect x="117.5" y="315.6" width="1.05" height="6.91" fill="rgb(244, 248, 252)"/>
<rect x="117.5" y="322.5" width="1.05" height="6.91" fill="rgb(246, 248, 252)"/>
<rect x="117.5" y="329.3" width="1.05" height="6.91" fill="rgb(244, 246, 252)"/>
<rect x="117.5" y="336.2" width="1.05" height="6.91" fill="rgb(246, 250, 251)"/>
<rect x="117.5" y="343.0" width="1.05" height="6.91" fill="rgb(247, 247, 250)"/>
<rect x="117.5" y="349.9" width="1.05" height="6.91" fill="rgb(246, 246, 253)"/>
<rect x="117.5" y="356.8" width="1.05" height="6.91" fill="rgb(245, 250, 250)"/>
<rect x="117.5" y="363.6" width="1.05" height="6.91" fill="rgb(244, 249, 251)"/>
<rect x="117.5" y="370.5" width="1.05" height="6.91" fill="rgb(244, 250, 252)"/>
<rect x="117.5" y="377.4" width="1.05" height="6.91" fill="rgb(248, 248, 250)"/>
<rect x="117.5" y="384.2" width="1.05" height="6.91" fill="rgb(246, 247, 251)"/>
<rect x="117.5" y="391.1" width="1.05" height="6.91" fill="rgb(245, 247, 253)"/>
<rect x="117.5" y="397.9" width="1.05" height="6.91" fill="rgb(252, 247, 245)"/>
<rect x="118.5" y="315.6" width="1.05" height="6.91" fill="rgb(249, 247, 253)"/>
<rect x="118.5" y="322.5" width="1.05" height="6.91" fill="rgb(249, 248, 251)"/>
<rect x="118.5" y="329.3" width="1.05" height="6.91" fill="rgb(244, 250, 253)"/>
<rect x="118.5" y="336.2" width="1.05" height="6.91" fill="rgb(246, 249, 250)"/>
<rect x="118.5" y="343.0" width="1.05" height="6.91" fill="rgb(245, 250, 253)"/>
<rect x="118.5" y="349.9" width="1.05" height="6.91" fill="rgb(248, 246, 250)"/>
<rect x="118.5" y="356.8" width="1.05" height="6.91" fill="rgb(244, 246, 253)"/>
<rect x="118.5" y="363.6" width="1.05" height="6.91" fill="rgb(245, 250, 252)"/>
<rect x="118.5" y="370.5" width="1.05" height="6.91" fill="rgb(247, 248, 253)"/>
<rect x="118.5" y="377.4" width="1.05" height="6.91" fill="rgb(244, 248, 252)"/>
<rect x="118.5" y="384.2" width="1.05" height="6.91" fill="rgb(244, 250, 250)"/>
<rect x="118.5" y="391.1" width="1.05" height="6.91" fill="rgb(247, 248, 252)"/>
<rect x="118.5" y="397.9" width="1.05" height="6.91" fill="rgb(246, 250, 251)"/>
<rect x="119.5" y="315.6" width="1.05" height="6.91" fill="rgb(245, 249, 252)"/>
<rect x="119.5" y="322.5" width="1.05" height="6.91" fill="rgb(247, 249, 250)"/>
<rect x="119.5" y="329.3" width="1.05" height="6.91" fill="rgb(252, 246, 243)"/>
<rect x="119.5" y="336.2" width="1.05" height="6.91" fill="rgb(245, 249, 253)"/>
<rect x="119.5" y="343.0" width="1.05" height="6.91" fill="rgb(244, 249, 252)"/>
<rect x="119.5" y="349.9" width="1.05" height="6.91" fill="rgb(247, 250, 252)"/>
<rect x="119.5" y="356.8" width="1.05" height="6.91" fill="rgb(247, 246, 253)"/>
<rect x="119.5" y="363.6" width="1.05" height="6.91" fill="rgb(249, 250, 253)"/>
<rect x="119.5" y="370.5" width="1.05" height="6.91" fill="rgb(252, 247, 244)"/>
<rect x="119.5" y="377.4" width="1.05" height="6.91" fill="rgb(252, 246, 244)"/>
<rect x="119.5" y="384.2" width="1.05" height="6.91" fill="rgb(246, 248, 252)"/>
<rect x="119.5" y="391.1" width="1.05" height="6.91" fill="rgb(246, 248, 253)"/>
<rect x="119.5" y="397.9" width="1.05" height="6.91" fill="rgb(249, 247, 251)"/>
<rect x="120.5" y="315.6" width="1.05" height="6.91" fill="rgb(246, 247, 251)"/>
<rect x="120.5" y="322.5" width="1.05" height="6.91" fill="rgb(247, 248, 252)"/>
<rect x="120.5" y="329.3" width="1.05" height="6.91" fill="rgb(244, 249, 252)"/>
<rect x="120.5" y="336.2" width="1.05" height="6.91" fill="rgb(249, 247, 250)"/>
<rect x="120.5" y="343.0" width="1.05" height="6.91" fill="rgb(244, 250, 251)"/>
<rect x="120.5" y="349.9" width="1.05" height="6.91" fill="rgb(248, 249, 251)"/>
<rect x="120.5" y="356.8" width="1.05" height="6.91" fill="rgb(249, 247, 250)"/>
<rect x="120.5" y="363.6" width="1.05" height="6.91" fill="rgb(248, 246, 251)"/>
<rect x="120.5" y="370.5" width="1.05" height="6.91" fill="rgb(245, 248, 250)"/>
<rect x="120.5" y="377.4" width="1.05" height="6.91" fill="rgb(245, 248, 250)"/>
<rect x="120.5" y="384.2" width="1.05" height="6.91" fill="rgb(247, 246, 250)"/>
<rect x="120.5" y="391.1" width="1.05" height="6.91" fill="rgb(245, 250, 252)"/>
<rect x="120.5" y="397.9" width="1.05" height="6.91" fill="rgb(246, 249, 252)"/>
<rect x="121.5" y="315.6" width="1.05" height="6.91" fill="rgb(245, 249, 252)"/>
<rect x="121.5" y="322.5" width="1.05" height="6.91" fill="rgb(244, 247, 250)"/>
<rect x="121.5" y="329.3" width="1.05" height="6.91" fill="rgb(246, 246, 251)"/>
<rect x="121.5" y="336.2" width="1.05" height="6.91" fill="rgb(245, 250, 251)"/>
<rect x="121.5" y="343.0" width="1.05" height="6.91" fill="rgb(244, 249, 250)"/>
<rect x="121.5" y="349.9" width="1.05" height="6.91" fill="rgb(248, 247, 250)"/>
<rect x="121.5" y="356.8" width="1.05" height="6.91" fill="rgb(249, 248, 251)"/>
<rect x="121.5" y="363.6" width="1.05" height="6.91" fill="rgb(249, 247, 250)"/>
<rect x="121.5" y="370.5" width="1.05" height="6.91" fill="rgb(249, 249, 250)"/>
<rect x="121.5" y="377.4" width="1.05" height="6.91" fill="rgb(247, 248, 251)"/>
<rect x="121.5" y="384.2" width="1.05" height="6.91" fill="rgb(246, 249, 250)"/>
<rect x="121.5" y="391.1" width="1.05" height="6.91" fill="rgb(245, 247, 251)"/>
<rect x="121.5" y="397.9" width="1.05" height="6.91" fill="rgb(245, 250, 251)"/>
<rect x="122.5" y="315.6" width="1.05" height="6.91" fill="rgb(248, 249, 251)"/>
<rect x="122.5" y="322.5" width="1.05" height="6.91" fill="rgb(247, 248, 250)"/>
<rect x="122.5" y="329.3" width="1.05" height="6.91" fill="rgb(246, 246, 253)"/>
<rect x="122.5" y="336.2" width="1.05" height="6.91" fill="rgb(247, 250, 253)"/>
<rect x="122.5" y="343.0" width="1.05" height="6.91" fill="rgb(244, 247, 251)"/>
<rect x="122.5" y="349.9" width="1.05" height="6.91" fill="rgb(245, 250, 252)"/>
<rect x="122.5" y="356.8" width="1.05" height="6.91" fill="rgb(249, 246, 252)"/>
<rect x="122.5" y="363.6" width="1.05" height="6.91" fill="rgb(244, 246, 253)"/>
<rect x="122.5" y="370.5" width="1.05" height="6.91" fill="rgb(249, 250, 250)"/>
<rect x="122.5" y="377.4" width="1.05" height="6.91" fill="rgb(247, 246, 250)"/>
<rect x="122.5" y="384.2" width="1.05" height="6.91" fill="rgb(249, 249, 253)"/>
<rect x="122.5" y="391.1" width="1.05" height="6.91" fill="rgb(246, 247, 253)"/>
<rect x="122.5" y="397.9" width="1.05" height="6.91" fill="rgb(246, 249, 250)"/>
<rect x="123.5" y="315.6" width="1.05" height="6.91" fill="rgb(249, 250, 251)"/>
<rect x="123.5" y="322.5" width="1.05" height="6.91" fill="rgb(245, 248, 252)"/>
<rect x="123.5" y="329.3" width="1.05" height="6.91" fill="rgb(247, 247, 252)"/>
<rect x="123.5" y="336.2" width="1.05" height="6.91" fill="rgb(246, 249, 251)"/>
<rect x="123.5" y="343.0" width="1.05" height="6.91" fill="rgb(245, 248, 251)"/>
<rect x="123.5" y="349.9" width="1.05" height="6.91" fill="rgb(248, 246, 250)"/>
<rect x="123.5" y="356.8" width="1.05" height="6.91" fill="rgb(244, 246, 253)"/>
<rect x="123.5" y="363.6" width="1.05" height="6.91" fill="rgb(248, 247, 250)"/>
<rect x="123.5" y="370.5" width="1.05" height="6.91" fill="rgb(249, 246, 250)"/>
<rect x="123.5" y="377.4" width="1.05" height="6.91" fill="rgb(244, 250, 250)"/>
<rect x="123.5" y="384.2" width="1.05" height="6.91" fill="rgb(246, 250, 251)"/>
<rect x="123.5" y="391.1" width="1.05" height="6.91" fill="rgb(248, 250, 252)"/>
<rect x="123.5" y="397.9" width="1.05" height="6.91" fill="rgb(244, 250, 251)"/>
<rect x="124.5" y="315.6" width="1.05" height="6.91" fill="rgb(252, 247, 245)"/>
<rect x="124.5" y="322.5" width="1.05" height="6.91" fill="rgb(246, 246, 252)"/>
<rect x="124.5" y="329.3" width="1.05" height="6.91" fill="rgb(249, 248, 253)"/>
<rect x="124.5" y="336.2" width="1.05" height="6.91" fill="rgb(246, 248, 251)"/>
<rect x="124.5" y="343.0" width="1.05" height="6.91" fill="rgb(247, 250, 253)"/>
<rect x="124.5" y="349.9" width="1.05" height="6.91" fill="rgb(248, 249, 251)"/>
<rect x="124.5" y="356.8" width="1.05" height="6.91" fill="rgb(244, 250, 251)"/>
<rect x="124.5" y="363.6" width="1.05" height="6.91" fill="rgb(244, 247, 250)"/>
<rect x="124.5" y="370.5" width="1.05" height="6.91" fill="rgb(247, 246, 253)"/>
<rect x="124.5" y="377.4" width="1.05" height="6.91" fill="rgb(247, 248, 253)"/>
<rect x="124.5" y="384.2" width="1.05" height="6.91" fill="rgb(245, 247, 252)"/>
<rect x="124.5" y="391.1" width="1.05" height="6.91" fill="rgb(247, 248, 253)"/>
<rect x="124.5" y="397.9" width="1.05" height="6.91" fill="rgb(248, 248, 253)"/>
<rect x="125.5" y="315.6" width="1.05" height="6.91" fill="rgb(247, 249, 250)"/>
<rect x="125.5" y="322.5" width="1.05" height="6.91" fill="rgb(245, 249, 250)"/>
<rect x="125.5" y="329.3" width="1.05" height="6.91" fill="rgb(249, 246, 252)"/>
<rect x="125.5" y="336.2" width="1.05" height="6.91" fill="rgb(245, 248, 251)"/>
<rect x="125.5" y="343.0" width="1.05" height="6.91" fill="rgb(247, 248, 251)"/>
<rect x="125.5" y="349.9" width="1.05" height="6.91" fill="rgb(245, 246, 252)"/>
<rect x="125.5" y="356.8" width="1.05" height="6.91" fill="rgb(248, 250, 251)"/>
<rect x="125.5" y="363.6" width="1.05" height="6.91" fill="rgb(247, 247, 253)"/>
<rect x="125.5" y="370.5" width="1.05" height="6.91" fill="rgb(247, 246, 250)"/>
<rect x="125.5" y="377.4" width="1.05" height="6.91" fill="rgb(247, 250, 250)"/>
<rect x="125.5" y="384.2" width="1.05" height="6.91" fill="rgb(248, 248, 253)"/>
<rect x="125.5" y="391.1" width="1.05" height="6.91" fill="rgb(249, 247, 251)"/>
<rect x="125.5" y="397.9" width="1.05" height="6.91" fill="rgb(249, 250, 251)"/>
<rect x="126.5" y="315.6" width="1.05" height="6.91" fill="rgb(245, 248, 253)"/>
<rect x="126.5" y="322.5" width="1.05" height="6.91" fill="rgb(247, 250, 251)"/>
<rect x="126.5" y="329.3" width="1.05" height="6.91" fill="rgb(245, 249, 250)"/>
<rect x="126.5" y="336.2" width="1.05" height="6.91" fill="rgb(248, 250, 251)"/>
<rect x="126.5" y="343.0" width="1.05" height="6.91" fill="rgb(249, 247, 251)"/>
<rect x="126.5" y="349.9" width="1.05" height="6.91" fill="rgb(244, 249, 250)"/>
<rect x="126.5" y="356.8" width="1.05" height="6.91" fill="rgb(246, 248, 252)"/>
<rect x="126.5" y="363.6" width="1.05" height="6.91" fill="rgb(245, 249, 251)"/>
<rect x="126.5" y="370.5" width="1.05" height="6.91" fill="rgb(244, 246, 251)"/>
<rect x="126.5" y="377.4" width="1.05" height="6.91" fill="rgb(245, 246, 253)"/>
<rect x="126.5" y="384.2" width="1.05" height="6.91" fill="rgb(246, 247, 250)"/>
<rect x="126.5" y="391.1" width="1.05" height="6.91" fill="rgb(249, 246, 250)"/>
<rect x="126.5" y="397.9" width="1.05" height="6.91" fill="rgb(247, 249, 250)"/>
<rect x="127.4" y="315.6" width="1.05" height="6.91" fill="rgb(244, 250, 253)"/>
<rect x="127.4" y="322.5" width="1.05" height="6.91" fill="rgb(247, 250, 251)"/>
<rect x="127.4" y="329.3" width="1.05" height="6.91" fill="rgb(249, 248, 251)"/>
<rect x="127.4" y="336.2" width="1.05" height="6.91" fill="rgb(248, 246, 250)"/>
<rect x="127.4" y="343.0" width="1.05" height="6.91" fill="rgb(247, 248, 252)"/>
<rect x="127.4" y="349.9" width="1.05" height="6.91" fill="rgb(248, 250, 250)"/>
<rect x="127.4" y="356.8" width="1.05" height="6.91" fill="rgb(244, 249, 250)"/>
<rect x="127.4" y="363.6" width="1.05" height="6.91" fill="rgb(247, 249, 250)"/>
<rect x="127.4" y="370.5" width="1.05" height="6.91" fill="rgb(244, 248, 251)"/>
<rect x="127.4" y="377.4" width="1.05" height="6.91" fill="rgb(245, 246, 251)"/>
<rect x="127.4" y="384.2" width="1.05" height="6.91" fill="rgb(244, 247, 250)"/>
<rect x="127.4" y="391.1" width="1.05" height="6.91" fill="rgb(249, 246, 250)"/>
<rect x="127.4" y="397.9" width="1.05" height="6.91" fill="rgb(247, 250, 251)"/>
<rect x="128.4" y="315.6" width="1.05" height="6.91" fill="rgb(249, 249, 250)"/>
<rect x="128.4" y="322.5" width="1.05" height="6.91" fill="rgb(249, 248, 251)"/>
<rect x="128.4" y="329.3" width="1.05" height="6.91" fill="rgb(246, 248, 250)"/>
<rect x="128.4" y="336.2" width="1.05" height="6.91" fill="rgb(244, 246, 252)"/>
<rect x="128.4" y="343.0" width="1.05" height="6.91" fill="rgb(249, 246, 253)"/>
<rect x="128.4" y="349.9" width="1.05" height="6.91" fill="rgb(249, 247, 253)"/>
<rect x="128.4" y="356.8" width="1.05" height="6.91" fill="rgb(246, 250, 251)"/>
<rect x="128.4" y="363.6" width="1.05" height="6.91" fill="rgb(249, 249, 251)"/>
<rect x="128.4" y="370.5" width="1.05" height="6.91" fill="rgb(245, 250, 251)"/>
<rect x="128.4" y="377.4" width="1.05" height="6.91" fill="rgb(246, 247, 252)"/>
<rect x="128.4" y="384.2" width="1.05" height="6.91" fill="rgb(249, 249, 252)"/>
<rect x="128.4" y="391.1" width="1.05" height="6.91" fill="rgb(244, 247, 250)"/>
<rect x="128.4" y="397.9" width="1.05" height="6.91" fill="rgb(248, 246, 253)"/>
<rect x="129.4" y="315.6" width="1.05" height="6.91" fill="rgb(252, 246, 243)"/>
<rect x="129.4" y="322.5" width="1.05" height="6.91" fill="rgb(248, 247, 251)"/>
<rect x="129.4" y="329.3" width="1.05" height="6.91" fill="rgb(252, 247, 245)"/>
<rect x="129.4" y="336.2" width="1.05" height="6.91" fill="rgb(249, 249, 252)"/>
<rect x="129.4" y="343.0" width="1.05" height="6.91" fill="rgb(252, 246, 244)"/>
<rect x="129.4" y="349.9" width="1.05" height="6.91" fill="rgb(246, 247, 252)"/>
<rect x="129.4" y="356.8" width="1.05" height="6.91" fill="rgb(252, 247, 245)"/>
<rect x="129.4" y="363.6" width="1.05" height="6.91" fill="rgb(247, 246, 250)"/>
<rect x="129.4" y="370.5" width="1.05" height="6.91" fill="rgb(246, 249, 253)"/>
<rect x="129.4" y="377.4" width="1.05" height="6.91" fill="rgb(249, 248, 252)"/>
<rect x="129.4" y="384.2" width="1.05" height="6.91" fill="rgb(249, 246, 251)"/>
<rect x="129.4" y="391.1" width="1.05" height="6.91" fill="rgb(252, 246, 244)"/>
<rect x="129.4" y="397.9" width="1.05" height="6.91" fill="rgb(246, 250, 253)"/>
<rect x="130.4" y="315.6" width="1.05" height="6.91" fill="rgb(248, 247, 250)"/>
<rect x="130.4" y="322.5" width="1.05" height="6.91" fill="rgb(244, 250, 250)"/>
<rect x="130.4" y="329.3" width="1.05" height="6.91" fill="rgb(248, 250, 252)"/>
<rect x="130.4" y="336.2" width="1.05" height="6.91" fill="rgb(246, 250, 251)"/>
<rect x="130.4" y="343.0" width="1.05" height="6.91" fill="rgb(246, 249, 252)"/>
<rect x="130.4" y="349.9" width="1.05" height="6.91" fill="rgb(245, 247, 253)"/>
<rect x="130.4" y="356.8" width="1.05" height="6.91" fill="rgb(246, 246, 250)"/>
<rect x="130.4" y="363.6" width="1.05" height="6.91" fill="rgb(248, 246, 253)"/>
<rect x="130.4" y="370.5" width="1.05" height="6.91" fill="rgb(246, 246, 251)"/>
<rect x="130.4" y="377.4" width="1.05" height="6.91" fill="rgb(249, 246, 250)"/>
<rect x="130.4" y="384.2" width="1.05" height="6.91" fill="rgb(245, 249, 250)"/>
<rect x="130.4" y="391.1" width="1.05" height="6.91" fill="rgb(249, 249, 251)"/>
<rect x="130.4" y="397.9" width="1.05" height="6.91" fill="rgb(246, 248, 252)"/>
<rect x="131.4" y="315.6" width="1.05" height="6.91" fill="rgb(246, 247, 251)"/>
<rect x="131.4" y="322.5" width="1.05" height="6.91" fill="rgb(248, 246, 252)"/>
<rect x="131.4" y="329.3" width="1.05" height="6.91" fill="rgb(248, 203, 181)"/>
<rect x="131.4" y="336.2" width="1.05" height="6.91" fill="rgb(248, 247, 252)"/>
<rect x="131.4" y="343.0" width="1.05" height="6.91" fill="rgb(246, 246, 253)"/>
<rect x="131.4" y="349.9" width="1.05" height="6.91" fill="rgb(247, 247, 253)"/>
<rect x="131.4" y="356.8" width="1.05" height="6.91" fill="rgb(247, 246, 253)"/>
<rect x="131.4" y="363.6" width="1.05" height="6.91" fill="rgb(248, 246, 253)"/>
<rect x="131.4" y="370.5" width="1.05" height="6.91" fill="rgb(248, 247, 250)"/>
<rect x="131.4" y="377.4" width="1.05" height="6.91" fill="rgb(245, 246, 251)"/>
<rect x="131.4" y="384.2" width="1.05" height="6.91" fill="rgb(245, 250, 250)"/>
<rect x="131.4" y="391.1" width="1.05" height="6.91" fill="rgb(244, 248, 251)"/>
<rect x="131.4" y="397.9" width="1.05" height="6.91" fill="rgb(245, 246, 250)"/>
<rect x="132.4" y="315.6" width="1.05" height="6.91" fill="rgb(252, 245, 242)"/>
<rect x="132.4" y="322.5" width="1.05" height="6.91" fill="rgb(252, 245, 242)"/>
<rect x="132.4" y="329.3" width="1.05" height="6.91" fill="rgb(248, 203, 181)"/>
<rect x="132.4" y="336.2" width="1.05" height="6.91" fill="rgb(244, 246, 251)"/>
<rect x="132.4" y="343.0" width="1.05" height="6.91" fill="rgb(249, 246, 251)"/>
<rect x="132.4" y="349.9" width="1.05" height="6.91" fill="rgb(245, 248, 251)"/>
<rect x="132.4" y="356.8" width="1.05" height="6.91" fill="rgb(245, 248, 252)"/>
<rect x="132.4" y="363.6" width="1.05" height="6.91" fill="rgb(249, 248, 253)"/>
<rect x="132.4" y="370.5" width="1.05" height="6.91" fill="rgb(252, 245, 242)"/>
<rect x="132.4" y="377.4" width="1.05" height="6.91" fill="rgb(252, 246, 244)"/>
<rect x="132.4" y="384.2" width="1.05" height="6.91" fill="rgb(248, 248, 253)"/>
<rect x="132.4" y="391.1" width="1.05" height="6.91" fill="rgb(252, 247, 244)"/>
<rect x="132.4" y="397.9" width="1.05" height="6.91" fill="rgb(245, 247, 253)"/>
<rect x="133.4" y="315.6" width="1.05" height="6.91" fill="rgb(248, 248, 250)"/>
<rect x="133.4" y="322.5" width="1.05" height="6.91" fill="rgb(244, 248, 250)"/>
<rect x="133.4" y="329.3" width="1.05" height="6.91" fill="rgb(248, 246, 250)"/>
<rect x="133.4" y="336.2" width="1.05" height="6.91" fill="rgb(247, 246, 253)"/>
<rect x="133.4" y="343.0" width="1.05" height="6.91" fill="rgb(244, 250, 251)"/>
<rect x="133.4" y="349.9" width="1.05" height="6.91" fill="rgb(247, 246, 250)"/>
<rect x="133.4" y="356.8" width="1.05" height="6.91" fill="rgb(246, 249, 250)"/>
<rect x="133.4" y="363.6" width="1.05" height="6.91" fill="rgb(248, 246, 253)"/>
<rect x="133.4" y="370.5" width="1.05" height="6.91" fill="rgb(244, 248, 252)"/>
<rect x="133.4" y="377.4" width="1.05" height="6.91" fill="rgb(246, 248, 252)"/>
<rect x="133.4" y="384.2" width="1.05" height="6.91" fill="rgb(249, 247, 253)"/>
<rect x="133.4" y="391.1" width="1.05" height="6.91" fill="rgb(247, 249, 253)"/>
<rect x="133.4" y="397.9" width="1.05" height="6.91" fill="rgb(246, 249, 250)"/>
<rect x="134.4" y="315.6" width="1.05" height="6.91" fill="rgb(246, 248, 250)"/>
<rect x="134.4" y="322.5" width="1.05" height="6.91" fill="rgb(246, 249, 251)"/>
<rect x="134.4" y="329.3" width="1.05" height="6.91" fill="rgb(244, 248, 253)"/>
<rect x="134.4" y="336.2" width="1.05" height="6.91" fill="rgb(246, 250, 251)"/>
<rect x="134.4" y="343.0" width="1.05" height="6.91" fill="rgb(249, 246, 253)"/>
<rect x="134.4" y="349.9" width="1.05" height="6.91" fill="rgb(244, 247, 253)"/>
<rect x="134.4" y="356.8" width="1.05" height="6.91" fill="rgb(245, 246, 251)"/>
<rect x="134.4" y="363.6" width="1.05" height="6.91" fill="rgb(244, 246, 253)"/>
<rect x="134.4" y="370.5" width="1.05" height="6.91" fill="rgb(244, 248, 252)"/>
<rect x="134.4" y="377.4" width="1.05" height="6.91" fill="rgb(246, 250, 253)"/>
<rect x="134.4" y="384.2" width="1.05" height="6.91" fill="rgb(244, 249, 250)"/>
<rect x="134.4" y="391.1" width="1.05" height="6.91" fill="rgb(247, 248, 252)"/>
<rect x="134.4" y="397.9" width="1.05" height="6.91" fill="rgb(247, 250, 251)"/>
<rect x="135.4" y="315.6" width="1.05" height="6.91" fill="rgb(245, 248, 252)"/>
<rect x="135.4" y="322.5" width="1.05" height="6.91" fill="rgb(246, 250, 253)"/>
<rect x="135.4" y="329.3" width="1.05" height="6.91" fill="rgb(246, 250, 253)"/>
<rect x="135.4" y="336.2" width="1.05" height="6.91" fill="rgb(249, 250, 250)"/>
<rect x="135.4" y="343.0" width="1.05" height="6.91" fill="rgb(245, 248, 250)"/>
<rect x="135.4" y="349.9" width="1.05" height="6.91" fill="rgb(244, 246, 250)"/>
<rect x="135.4" y="356.8" width="1.05" height="6.91" fill="rgb(244, 249, 252)"/>
<rect x="135.4" y="363.6" width="1.05" height="6.91" fill="rgb(248, 247, 250)"/>
<rect x="135.4" y="370.5" width="1.05" height="6.91" fill="rgb(248, 248, 252)"/>
<rect x="135.4" y="377.4" width="1.05" height="6.91" fill="rgb(246, 250, 252)"/>
<rect x="135.4" y="384.2" width="1.05" height="6.91" fill="rgb(248, 246, 251)"/>
<rect x="135.4" y="391.1" width="1.05" height="6.91" fill="rgb(246, 246, 252)"/>
<rect x="135.4" y="397.9" width="1.05" height="6.91" fill="rgb(247, 247, 252)"/>
<rect x="136.4" y="315.6" width="1.05" height="6.91" fill="rgb(246, 250, 253)"/>
<rect x="136.4" y="322.5" width="1.05" height="6.91" fill="rgb(245, 249, 252)"/>
<rect x="136.4" y="329.3" width="1.05" height="6.91" fill="rgb(247, 248, 253)"/>
<rect x="136.4" y="336.2" width="1.05" height="6.91" fill="rgb(247, 248, 252)"/>
<rect x="136.4" y="343.0" width="1.05" height="6.91" fill="rgb(247, 246, 250)"/>
<rect x="136.4" y="349.9" width="1.05" height="6.91" fill="rgb(248, 247, 252)"/>
<rect x="136.4" y="356.8" width="1.05" height="6.91" fill="rgb(244, 247, 252)"/>
<rect x="136.4" y="363.6" width="1.05" height="6.91" fill="rgb(248, 249, 250)"/>
<rect x="136.4" y="370.5" width="1.05" height="6.91" fill="rgb(245, 250, 252)"/>
<rect x="136.4" y="377.4" width="1.05" height="6.91" fill="rgb(244, 248, 253)"/>
<rect x="136.4" y="384.2" width="1.05" height="6.91" fill="rgb(244, 249, 253)"/>
<rect x="136.4" y="391.1" width="1.05" height="6.91" fill="rgb(245, 248, 251)"/>
<rect x="136.4" y="397.9" width="1.05" height="6.91" fill="rgb(249, 249, 252)"/>
<rect x="137.4" y="315.6" width="1.05" height="6.91" fill="rgb(248, 246, 252)"/>
<rect x="137.4" y="322.5" width="1.05" height="6.91" fill="rgb(244, 249, 253)"/>
<rect x="137.4" y="329.3" width="1.05" height="6.91" fill="rgb(248, 249, 251)"/>
<rect x="137.4" y="336.2" width="1.05" height="6.91" fill="rgb(245, 246, 253)"/>
<rect x="137.4" y="343.0" width="1.05" height="6.91" fill="rgb(248, 246, 251)"/>
<rect x="137.4" y="349.9" width="1.05" height="6.91" fill="rgb(247, 246, 252)"/>
<rect x="137.4" y="356.8" width="1.05" height="6.91" fill="rgb(244, 246, 252)"/>
<rect x="137.4" y="363.6" width="1.05" height="6.91" fill="rgb(247, 249, 251)"/>
<rect x="137.4" y="370.5" width="1.05" height="6.91" fill="rgb(249, 247, 252)"/>
<rect x="137.4" y="377.4" width="1.05" height="6.91" fill="rgb(246, 247, 251)"/>
<rect x="137.4" y="384.2" width="1.05" height="6.91" fill="rgb(249, 246, 250)"/>
<rect x="137.4" y="391.1" width="1.05" height="6.91" fill="rgb(246, 247, 253)"/>
<rect x="137.4" y="397.9" width="1.05" height="6.91" fill="rgb(248, 246, 252)"/>
<rect x="138.4" y="315.6" width="1.05" height="6.91" fill="rgb(247, 248, 253)"/>
<rect x="138.4" y="322.5" width="1.05" height="6.91" fill="rgb(246, 246, 253)"/>
<rect x="138.4" y="329.3" width="1.05" height="6.91" fill="rgb(245, 246, 253)"/>
<rect x="138.4" y="336.2" width="1.05" height="6.91" fill="rgb(248, 247, 250)"/>
<rect x="138.4" y="343.0" width="1.05" height="6.91" fill="rgb(247, 246, 250)"/>
<rect x="138.4" y="349.9" width="1.05" height="6.91" fill="rgb(247, 250, 252)"/>
<rect x="138.4" y="356.8" width="1.05" height="6.91" fill="rgb(245, 248, 253)"/>
<rect x="138.4" y="363.6" width="1.05" height="6.91" fill="rgb(245, 250, 250)"/>
<rect x="138.4" y="370.5" width="1.05" height="6.91" fill="rgb(244, 248, 250)"/>
<rect x="138.4" y="377.4" width="1.05" height="6.91" fill="rgb(247, 249, 253)"/>
<rect x="138.4" y="384.2" width="1.05" height="6.91" fill="rgb(249, 250, 252)"/>
<rect x="138.4" y="391.1" width="1.05" height="6.91" fill="rgb(248, 246, 252)"/>
<rect x="138.4" y="397.9" width="1.05" height="6.91" fill="rgb(245, 248, 251)"/>
<rect x="139.4" y="315.6" width="1.05" height="6.91" fill="rgb(249, 249, 250)"/>
<rect x="139.4" y="322.5" width="1.05" height="6.91" fill="rgb(249, 250, 252)"/>
<rect x="139.4" y="329.3" width="1.05" height="6.91" fill="rgb(247, 247, 250)"/>
<rect x="139.4" y="336.2" width="1.05" height="6.91" fill="rgb(245, 249, 252)"/>
<rect x="139.4" y="343.0" width="1.05" height="6.91" fill="rgb(248, 248, 253)"/>
<rect x="139.4" y="349.9" width="1.05" height="6.91" fill="rgb(248, 246, 253)"/>
<rect x="139.4" y="356.8" width="1.05" height="6.91" fill="rgb(245, 247, 250)"/>
<rect x="139.4" y="363.6" width="1.05" height="6.91" fill="rgb(247, 249, 252)"/>
<rect x="139.4" y="370.5" width="1.05" height="6.91" fill="rgb(245, 248, 251)"/>
<rect x="139.4" y="377.4" width="1.05" height="6.91" fill="rgb(244, 246, 251)"/>
<rect x="139.4" y="384.2" width="1.05" height="6.91" fill="rgb(246, 249, 253)"/>
<rect x="139.4" y="391.1" width="1.05" height="6.91" fill="rgb(246, 189, 162)"/>
<rect x="139.4" y="397.9" width="1.05" height="6.91" fill="rgb(240, 162, 129)"/>
<rect x="140.4" y="315.6" width="1.05" height="6.91" fill="rgb(250, 223, 209)"/>
<rect x="140.4" y="322.5" width="1.05" height="6.91" fill="rgb(252, 245, 241)"/>
<rect x="140.4" y="329.3" width="1.05" height="6.91" fill="rgb(252, 245, 242)"/>
<rect x="140.4" y="336.2" width="1.05" height="6.91" fill="rgb(252, 239, 233)"/>
<rect x="140.4" y="343.0" width="1.05" height="6.91" fill="rgb(252, 237, 229)"/>
<rect x="140.4" y="349.9" width="1.05" height="6.91" fill="rgb(251, 231, 221)"/>
<rect x="140.4" y="356.8" width="1.05" height="6.91" fill="rgb(249, 218, 203)"/>
<rect x="140.4" y="363.6" width="1.05" height="6.91" fill="rgb(252, 240, 234)"/>
<rect x="140.4" y="370.5" width="1.05" height="6.91" fill="rgb(251, 230, 220)"/>
<rect x="140.4" y="377.4" width="1.05" height="6.91" fill="rgb(252, 241, 236)"/>
<rect x="140.4" y="384.2" width="1.05" height="6.91" fill="rgb(251, 234, 225)"/>
<rect x="140.4" y="391.1" width="1.05" height="6.91" fill="rgb(243, 168, 133)"/>
<rect x="140.4" y="397.9" width="1.05" height="6.91" fill="rgb(248, 206, 186)"/>
<rect x="141.4" y="315.6" width="1.05" height="6.91" fill="rgb(252, 238, 231)"/>
<rect x="141.4" y="322.5" width="1.05" height="6.91" fill="rgb(252, 245, 242)"/>
<rect x="141.4" y="329.3" width="1.05" height="6.91" fill="rgb(252, 237, 229)"/>
<rect x="141.4" y="336.2" width="1.05" height="6.91" fill="rgb(252, 238, 231)"/>
<rect x="141.4" y="343.0" width="1.05" height="6.91" fill="rgb(252, 239, 232)"/>
<rect x="141.4" y="349.9" width="1.05" height="6.91" fill="rgb(252, 238, 231)"/>
<rect x="141.4" y="356.8" width="1.05" height="6.91" fill="rgb(252, 237, 230)"/>
<rect x="141.4" y="363.6" width="1.05" height="6.91" fill="rgb(252, 244, 240)"/>
<rect x="141.4" y="370.5" width="1.05" height="6.91" fill="rgb(251, 228, 217)"/>
<rect x="141.4" y="377.4" width="1.05" height="6.91" fill="rgb(252, 241, 236)"/>
<rect x="141.4" y="384.2" width="1.05" height="6.91" fill="rgb(250, 224, 211)"/>
<rect x="141.4" y="391.1" width="1.05" height="6.91" fill="rgb(244, 171, 137)"/>
<rect x="141.4" y="397.9" width="1.05" height="6.91" fill="rgb(242, 166, 131)"/>
<rect x="142.4" y="315.6" width="1.05" height="6.91" fill="rgb(252, 246, 243)"/>
<rect x="142.4" y="322.5" width="1.05" height="6.91" fill="rgb(252, 237, 230)"/>
<rect x="142.4" y="329.3" width="1.05" height="6.91" fill="rgb(251, 235, 227)"/>
<rect x="142.4" y="336.2" width="1.05" height="6.91" fill="rgb(252, 240, 234)"/>
<rect x="142.4" y="343.0" width="1.05" height="6.91" fill="rgb(252, 236, 229)"/>
<rect x="142.4" y="349.9" width="1.05" height="6.91" fill="rgb(252, 241, 235)"/>
<rect x="142.4" y="356.8" width="1.05" height="6.91" fill="rgb(252, 239, 233)"/>
<rect x="142.4" y="363.6" width="1.05" height="6.91" fill="rgb(251, 235, 227)"/>
<rect x="142.4" y="370.5" width="1.05" height="6.91" fill="rgb(252, 244, 241)"/>
<rect x="142.4" y="377.4" width="1.05" height="6.91" fill="rgb(251, 230, 220)"/>
<rect x="142.4" y="384.2" width="1.05" height="6.91" fill="rgb(252, 242, 238)"/>
<rect x="142.4" y="391.1" width="1.05" height="6.91" fill="rgb(245, 178, 147)"/>
<rect x="142.4" y="397.9" width="1.05" height="6.91" fill="rgb(247, 195, 170)"/>
<rect x="143.4" y="315.6" width="1.05" height="6.91" fill="rgb(249, 218, 203)"/>
<rect x="143.4" y="322.5" width="1.05" height="6.91" fill="rgb(249, 215, 199)"/>
<rect x="143.4" y="329.3" width="1.05" height="6.91" fill="rgb(252, 238, 231)"/>
<rect x="143.4" y="336.2" width="1.05" height="6.91" fill="rgb(252, 245, 242)"/>
<rect x="143.4" y="343.0" width="1.05" height="6.91" fill="rgb(252, 246, 243)"/>
<rect x="143.4" y="349.9" width="1.05" height="6.91" fill="rgb(252, 236, 229)"/>
<rect x="143.4" y="356.8" width="1.05" height="6.91" fill="rgb(252, 238, 231)"/>
<rect x="143.4" y="363.6" width="1.05" height="6.91" fill="rgb(252, 242, 237)"/>
<rect x="143.4" y="370.5" width="1.05" height="6.91" fill="rgb(250, 226, 214)"/>
<rect x="143.4" y="377.4" width="1.05" height="6.91" fill="rgb(252, 246, 243)"/>
<rect x="143.4" y="384.2" width="1.05" height="6.91" fill="rgb(252, 245, 242)"/>
<rect x="143.4" y="391.1" width="1.05" height="6.91" fill="rgb(248, 203, 182)"/>
<rect x="143.4" y="397.9" width="1.05" height="6.91" fill="rgb(240, 161, 128)"/>
<rect x="144.4" y="315.6" width="1.05" height="6.91" fill="rgb(229, 134, 107)"/>
<rect x="144.4" y="322.5" width="1.05" height="6.91" fill="rgb(240, 161, 128)"/>
<rect x="144.4" y="329.3" width="1.05" height="6.91" fill="rgb(250, 224, 211)"/>
<rect x="144.4" y="336.2" width="1.05" height="6.91" fill="rgb(248, 206, 186)"/>
<rect x="144.4" y="343.0" width="1.05" height="6.91" fill="rgb(249, 219, 204)"/>
<rect x="144.4" y="349.9" width="1.05" height="6.91" fill="rgb(248, 208, 189)"/>
<rect x="144.4" y="356.8" width="1.05" height="6.91" fill="rgb(249, 215, 198)"/>
<rect x="144.4" y="363.6" width="1.05" height="6.91" fill="rgb(248, 209, 191)"/>
<rect x="144.4" y="370.5" width="1.05" height="6.91" fill="rgb(251, 229, 218)"/>
<rect x="144.4" y="377.4" width="1.05" height="6.91" fill="rgb(248, 210, 192)"/>
<rect x="144.4" y="384.2" width="1.05" height="6.91" fill="rgb(251, 229, 219)"/>
<rect x="144.4" y="391.1" width="1.05" height="6.91" fill="rgb(250, 224, 211)"/>
<rect x="144.4" y="397.9" width="1.05" height="6.91" fill="rgb(251, 228, 217)"/>
<rect x="145.4" y="315.6" width="1.05" height="6.91" fill="rgb(245, 183, 153)"/>
<rect x="145.4" y="322.5" width="1.05" height="6.91" fill="rgb(240, 160, 127)"/>
<rect x="145.4" y="329.3" width="1.05" height="6.91" fill="rgb(248, 206, 186)"/>
<rect x="145.4" y="336.2" width="1.05" height="6.91" fill="rgb(251, 230, 220)"/>
<rect x="145.4" y="343.0" width="1.05" height="6.91" fill="rgb(248, 209, 190)"/>
<rect x="145.4" y="349.9" width="1.05" height="6.91" fill="rgb(250, 219, 204)"/>
<rect x="145.4" y="356.8" width="1.05" height="6.91" fill="rgb(249, 211, 193)"/>
<rect x="145.4" y="363.6" width="1.05" height="6.91" fill="rgb(249, 218, 203)"/>
<rect x="145.4" y="370.5" width="1.05" height="6.91" fill="rgb(249, 216, 200)"/>
<rect x="145.4" y="377.4" width="1.05" height="6.91" fill="rgb(249, 218, 203)"/>
<rect x="145.4" y="384.2" width="1.05" height="6.91" fill="rgb(249, 219, 204)"/>
<rect x="145.4" y="391.1" width="1.05" height="6.91" fill="rgb(251, 228, 217)"/>
<rect x="145.4" y="397.9" width="1.05" height="6.91" fill="rgb(249, 218, 203)"/>
<rect x="146.4" y="315.6" width="1.05" height="6.91" fill="rgb(245, 184, 155)"/>
<rect x="146.4" y="322.5" width="1.05" height="6.91" fill="rgb(244, 172, 137)"/>
<rect x="146.4" y="329.3" width="1.05" height="6.91" fill="rgb(248, 209, 191)"/>
<rect x="146.4" y="336.2" width="1.05" height="6.91" fill="rgb(250, 223, 209)"/>
<rect x="146.4" y="343.0" width="1.05" height="6.91" fill="rgb(249, 213, 195)"/>
<rect x="146.4" y="349.9" width="1.05" height="6.91" fill="rgb(251, 230, 219)"/>
<rect x="146.4" y="356.8" width="1.05" height="6.91" fill="rgb(248, 207, 187)"/>
<rect x="146.4" y="363.6" width="1.05" height="6.91" fill="rgb(249, 217, 201)"/>
<rect x="146.4" y="370.5" width="1.05" height="6.91" fill="rgb(250, 226, 214)"/>
<rect x="146.4" y="377.4" width="1.05" height="6.91" fill="rgb(250, 223, 210)"/>
<rect x="146.4" y="384.2" width="1.05" height="6.91" fill="rgb(248, 210, 192)"/>
<rect x="146.4" y="391.1" width="1.05" height="6.91" fill="rgb(251, 230, 220)"/>
<rect x="146.4" y="397.9" width="1.05" height="6.91" fill="rgb(251, 230, 220)"/>
<rect x="147.4" y="315.6" width="1.05" height="6.91" fill="rgb(250, 219, 204)"/>
<rect x="147.4" y="322.5" width="1.05" height="6.91" fill="rgb(249, 216, 200)"/>
<rect x="147.4" y="329.3" width="1.05" height="6.91" fill="rgb(249, 215, 198)"/>
<rect x="147.4" y="336.2" width="1.05" height="6.91" fill="rgb(252, 239, 233)"/>
<rect x="147.4" y="343.0" width="1.05" height="6.91" fill="rgb(250, 223, 210)"/>
<rect x="147.4" y="349.9" width="1.05" height="6.91" fill="rgb(252, 246, 243)"/>
<rect x="147.4" y="356.8" width="1.05" height="6.91" fill="rgb(252, 243, 238)"/>
<rect x="147.4" y="363.6" width="1.05" height="6.91" fill="rgb(249, 215, 199)"/>
<rect x="147.4" y="370.5" width="1.05" height="6.91" fill="rgb(251, 233, 224)"/>
<rect x="147.4" y="377.4" width="1.05" height="6.91" fill="rgb(250, 225, 212)"/>
<rect x="147.4" y="384.2" width="1.05" height="6.91" fill="rgb(251, 234, 225)"/>
<rect x="147.4" y="391.1" width="1.05" height="6.91" fill="rgb(249, 215, 199)"/>
<rect x="147.4" y="397.9" width="1.05" height="6.91" fill="rgb(252, 236, 228)"/>
<rect x="148.4" y="315.6" width="1.05" height="6.91" fill="rgb(250, 225, 213)"/>
<rect x="148.4" y="322.5" width="1.05" height="6.91" fill="rgb(250, 222, 208)"/>
<rect x="148.4" y="329.3" width="1.05" height="6.91" fill="rgb(249, 216, 201)"/>
<rect x="148.4" y="336.2" width="1.05" height="6.91" fill="rgb(252, 244, 240)"/>
<rect x="148.4" y="343.0" width="1.05" height="6.91" fill="rgb(250, 220, 206)"/>
<rect x="148.4" y="349.9" width="1.05" height="6.91" fill="rgb(249, 217, 201)"/>
<rect x="148.4" y="356.8" width="1.05" height="6.91" fill="rgb(249, 218, 202)"/>
<rect x="148.4" y="363.6" width="1.05" height="6.91" fill="rgb(252, 239, 233)"/>
<rect x="148.4" y="370.5" width="1.05" height="6.91" fill="rgb(252, 238, 232)"/>
<rect x="148.4" y="377.4" width="1.05" height="6.91" fill="rgb(250, 223, 210)"/>
<rect x="148.4" y="384.2" width="1.05" height="6.91" fill="rgb(251, 232, 222)"/>
<rect x="148.4" y="391.1" width="1.05" height="6.91" fill="rgb(251, 235, 227)"/>
<rect x="148.4" y="397.9" width="1.05" height="6.91" fill="rgb(252, 242, 237)"/>
<rect x="149.4" y="315.6" width="1.05" height="6.91" fill="rgb(252, 246, 244)"/>
<rect x="149.4" y="322.5" width="1.05" height="6.91" fill="rgb(252, 246, 243)"/>
<rect x="149.4" y="329.3" width="1.05" height="6.91" fill="rgb(249, 249, 253)"/>
<rect x="149.4" y="336.2" width="1.05" height="6.91" fill="rgb(244, 249, 252)"/>
<rect x="149.4" y="343.0" width="1.05" height="6.91" fill="rgb(248, 246, 252)"/>
<rect x="149.4" y="349.9" width="1.05" height="6.91" fill="rgb(252, 247, 244)"/>
<rect x="149.4" y="356.8" width="1.05" height="6.91" fill="rgb(252, 245, 242)"/>
<rect x="149.4" y="363.6" width="1.05" height="6.91" fill="rgb(252, 246, 243)"/>
<rect x="149.4" y="370.5" width="1.05" height="6.91" fill="rgb(246, 247, 251)"/>
<rect x="149.4" y="377.4" width="1.05" height="6.91" fill="rgb(248, 247, 253)"/>
<rect x="149.4" y="384.2" width="1.05" height="6.91" fill="rgb(252, 246, 243)"/>
<rect x="149.4" y="391.1" width="1.05" height="6.91" fill="rgb(252, 244, 240)"/>
<rect x="149.4" y="397.9" width="1.05" height="6.91" fill="rgb(245, 250, 250)"/>
<rect x="150.4" y="315.6" width="1.05" height="6.91" fill="rgb(250, 225, 213)"/>
<rect x="150.4" y="322.5" width="1.05" height="6.91" fill="rgb(250, 220, 206)"/>
<rect x="150.4" y="329.3" width="1.05" height="6.91" fill="rgb(250, 223, 210)"/>
<rect x="150.4" y="336.2" width="1.05" height="6.91" fill="rgb(249, 214, 197)"/>
<rect x="150.4" y="343.0" width="1.05" height="6.91" fill="rgb(248, 211, 193)"/>
<rect x="150.4" y="349.9" width="1.05" height="6.91" fill="rgb(250, 220, 206)"/>
<rect x="150.4" y="356.8" width="1.05" height="6.91" fill="rgb(248, 208, 189)"/>
<rect x="150.4" y="363.6" width="1.05" height="6.91" fill="rgb(249, 211, 193)"/>
<rect x="150.4" y="370.5" width="1.05" height="6.91" fill="rgb(250, 222, 208)"/>
<rect x="150.4" y="377.4" width="1.05" height="6.91" fill="rgb(248, 206, 186)"/>
<rect x="150.4" y="384.2" width="1.05" height="6.91" fill="rgb(250, 222, 209)"/>
<rect x="150.4" y="391.1" width="1.05" height="6.91" fill="rgb(248, 206, 186)"/>
<rect x="150.4" y="397.9" width="1.05" height="6.91" fill="rgb(250, 224, 211)"/>
<rect x="151.4" y="315.6" width="1.05" height="6.91" fill="rgb(249, 214, 197)"/>
<rect x="151.4" y="322.5" width="1.05" height="6.91" fill="rgb(249, 213, 196)"/>
<rect x="151.4" y="329.3" width="1.05" height="6.91" fill="rgb(249, 213, 196)"/>
<rect x="151.4" y="336.2" width="1.05" height="6.91" fill="rgb(250, 224, 211)"/>
<rect x="151.4" y="343.0" width="1.05" height="6.91" fill="rgb(249, 214, 197)"/>
<rect x="151.4" y="349.9" width="1.05" height="6.91" fill="rgb(250, 227, 215)"/>
<rect x="151.4" y="356.8" width="1.05" height="6.91" fill="rgb(251, 234, 225)"/>
<rect x="151.4" y="363.6" width="1.05" height="6.91" fill="rgb(248, 208, 189)"/>
<rect x="151.4" y="370.5" width="1.05" height="6.91" fill="rgb(250, 224, 211)"/>
<rect x="151.4" y="377.4" width="1.05" height="6.91" fill="rgb(248, 210, 191)"/>
<rect x="151.4" y="384.2" width="1.05" height="6.91" fill="rgb(249, 213, 196)"/>
<rect x="151.4" y="391.1" width="1.05" height="6.91" fill="rgb(250, 223, 210)"/>
<rect x="151.4" y="397.9" width="1.05" height="6.91" fill="rgb(251, 229, 218)"/>
<rect x="152.4" y="315.6" width="1.05" height="6.91" fill="rgb(249, 213, 195)"/>
<rect x="152.4" y="322.5" width="1.05" height="6.91" fill="rgb(249, 211, 193)"/>
<rect x="152.4" y="329.3" width="1.05" height="6.91" fill="rgb(250, 220, 206)"/>
<rect x="152.4" y="336.2" width="1.05" height="6.91" fill="rgb(250, 225, 213)"/>
<rect x="152.4" y="343.0" width="1.05" height="6.91" fill="rgb(251, 230, 220)"/>
<rect x="152.4" y="349.9" width="1.05" height="6.91" fill="rgb(250, 221, 207)"/>
<rect x="152.4" y="356.8" width="1.05" height="6.91" fill="rgb(248, 209, 191)"/>
<rect x="152.4" y="363.6" width="1.05" height="6.91" fill="rgb(251, 232, 222)"/>
<rect x="152.4" y="370.5" width="1.05" height="6.91" fill="rgb(251, 229, 218)"/>
<rect x="152.4" y="377.4" width="1.05" height="6.91" fill="rgb(249, 218, 202)"/>
<rect x="152.4" y="384.2" width="1.05" height="6.91" fill="rgb(249, 216, 201)"/>
<rect x="152.4" y="391.1" width="1.05" height="6.91" fill="rgb(251, 234, 226)"/>
<rect x="152.4" y="397.9" width="1.05" height="6.91" fill="rgb(248, 210, 192)"/>
<rect x="153.4" y="315.6" width="1.05" height="6.91" fill="rgb(252, 245, 242)"/>
<rect x="153.4" y="322.5" width="1.05" height="6.91" fill="rgb(252, 245, 241)"/>
<rect x="153.4" y="329.3" width="1.05" height="6.91" fill="rgb(252, 246, 243)"/>
<rect x="153.4" y="336.2" width="1.05" height="6.91" fill="rgb(247, 247, 253)"/>
<rect x="153.4" y="343.0" width="1.05" height="6.91" fill="rgb(252, 245, 242)"/>
<rect x="153.4" y="349.9" width="1.05" height="6.91" fill="rgb(252, 247, 245)"/>
<rect x="153.4" y="356.8" width="1.05" height="6.91" fill="rgb(247, 246, 250)"/>
<rect x="153.4" y="363.6" width="1.05" height="6.91" fill="rgb(252, 247, 245)"/>
<rect x="153.4" y="370.5" width="1.05" height="6.91" fill="rgb(252, 243, 239)"/>
<rect x="153.4" y="377.4" width="1.05" height="6.91" fill="rgb(245, 247, 252)"/>
<rect x="153.4" y="384.2" width="1.05" height="6.91" fill="rgb(248, 248, 253)"/>
<rect x="153.4" y="391.1" width="1.05" height="6.91" fill="rgb(252, 243, 239)"/>
<rect x="153.4" y="397.9" width="1.05" height="6.91" fill="rgb(252, 241, 235)"/>
<rect x="154.4" y="315.6" width="1.05" height="6.91" fill="rgb(250, 225, 212)"/>
<rect x="154.4" y="322.5" width="1.05" height="6.91" fill="rgb(252, 237, 230)"/>
<rect x="154.4" y="329.3" width="1.05" height="6.91" fill="rgb(252, 238, 232)"/>
<rect x="154.4" y="336.2" width="1.05" height="6.91" fill="rgb(251, 229, 219)"/>
<rect x="154.4" y="343.0" width="1.05" height="6.91" fill="rgb(251, 232, 222)"/>
<rect x="154.4" y="349.9" width="1.05" height="6.91" fill="rgb(252, 242, 237)"/>
<rect x="154.4" y="356.8" width="1.05" height="6.91" fill="rgb(251, 232, 223)"/>
<rect x="154.4" y="363.6" width="1.05" height="6.91" fill="rgb(250, 226, 214)"/>
<rect x="154.4" y="370.5" width="1.05" height="6.91" fill="rgb(252, 242, 238)"/>
<rect x="154.4" y="377.4" width="1.05" height="6.91" fill="rgb(249, 215, 198)"/>
<rect x="154.4" y="384.2" width="1.05" height="6.91" fill="rgb(251, 229, 219)"/>
<rect x="154.4" y="391.1" width="1.05" height="6.91" fill="rgb(252, 244, 241)"/>
<rect x="154.4" y="397.9" width="1.05" height="6.91" fill="rgb(252, 244, 240)"/>
<rect x="155.4" y="315.6" width="1.05" height="6.91" fill="rgb(244, 246, 251)"/>
<rect x="155.4" y="322.5" width="1.05" height="6.91" fill="rgb(252, 237, 230)"/>
<rect x="155.4" y="329.3" width="1.05" height="6.91" fill="rgb(252, 238, 232)"/>
<rect x="155.4" y="336.2" width="1.05" height="6.91" fill="rgb(252, 246, 244)"/>
<rect x="155.4" y="343.0" width="1.05" height="6.91" fill="rgb(252, 244, 241)"/>
<rect x="155.4" y="349.9" width="1.05" height="6.91" fill="rgb(252, 242, 237)"/>
<rect x="155.4" y="356.8" width="1.05" height="6.91" fill="rgb(249, 248, 250)"/>
<rect x="155.4" y="363.6" width="1.05" height="6.91" fill="rgb(252, 237, 229)"/>
<rect x="155.4" y="370.5" width="1.05" height="6.91" fill="rgb(252, 236, 228)"/>
<rect x="155.4" y="377.4" width="1.05" height="6.91" fill="rgb(252, 246, 244)"/>
<rect x="155.4" y="384.2" width="1.05" height="6.91" fill="rgb(251, 234, 226)"/>
<rect x="155.4" y="391.1" width="1.05" height="6.91" fill="rgb(252, 239, 233)"/>
<rect x="155.4" y="397.9" width="1.05" height="6.91" fill="rgb(252, 243, 239)"/>
<rect x="156.4" y="315.6" width="1.05" height="6.91" fill="rgb(252, 240, 234)"/>
<rect x="156.4" y="322.5" width="1.05" height="6.91" fill="rgb(252, 242, 237)"/>
<rect x="156.4" y="329.3" width="1.05" height="6.91" fill="rgb(252, 237, 229)"/>
<rect x="156.4" y="336.2" width="1.05" height="6.91" fill="rgb(252, 246, 243)"/>
<rect x="156.4" y="343.0" width="1.05" height="6.91" fill="rgb(248, 249, 250)"/>
<rect x="156.4" y="349.9" width="1.05" height="6.91" fill="rgb(252, 245, 242)"/>
<rect x="156.4" y="356.8" width="1.05" height="6.91" fill="rgb(252, 243, 238)"/>
<rect x="156.4" y="363.6" width="1.05" height="6.91" fill="rgb(252, 239, 232)"/>
<rect x="156.4" y="370.5" width="1.05" height="6.91" fill="rgb(252, 243, 239)"/>
<rect x="156.4" y="377.4" width="1.05" height="6.91" fill="rgb(252, 246, 243)"/>
<rect x="156.4" y="384.2" width="1.05" height="6.91" fill="rgb(252, 246, 243)"/>
<rect x="156.4" y="391.1" width="1.05" height="6.91" fill="rgb(252, 240, 235)"/>
<rect x="156.4" y="397.9" width="1.05" height="6.91" fill="rgb(252, 240, 234)"/>
<rect x="157.4" y="315.6" width="1.05" height="6.91" fill="rgb(252, 243, 239)"/>
<rect x="157.4" y="322.5" width="1.05" height="6.91" fill="rgb(249, 215, 198)"/>
<rect x="157.4" y="329.3" width="1.05" height="6.91" fill="rgb(249, 215, 198)"/>
<rect x="157.4" y="336.2" width="1.05" height="6.91" fill="rgb(252, 241, 235)"/>
<rect x="157.4" y="343.0" width="1.05" height="6.91" fill="rgb(252, 244, 241)"/>
<rect x="157.4" y="349.9" width="1.05" height="6.91" fill="rgb(251, 229, 218)"/>
<rect x="157.4" y="356.8" width="1.05" height="6.91" fill="rgb(250, 221, 208)"/>
<rect x="157.4" y="363.6" width="1.05" height="6.91" fill="rgb(252, 238, 231)"/>
<rect x="157.4" y="370.5" width="1.05" height="6.91" fill="rgb(252, 238, 231)"/>
<rect x="157.4" y="377.4" width="1.05" height="6.91" fill="rgb(252, 241, 236)"/>
<rect x="157.4" y="384.2" width="1.05" height="6.91" fill="rgb(252, 237, 229)"/>
<rect x="157.4" y="391.1" width="1.05" height="6.91" fill="rgb(252, 237, 229)"/>
<rect x="157.4" y="397.9" width="1.05" height="6.91" fill="rgb(251, 229, 218)"/>
<rect x="158.4" y="315.6" width="1.05" height="6.91" fill="rgb(252, 241, 236)"/>
<rect x="158.4" y="322.5" width="1.05" height="6.91" fill="rgb(250, 226, 214)"/>
<rect x="158.4" y="329.3" width="1.05" height="6.91" fill="rgb(252, 236, 229)"/>
<rect x="158.4" y="336.2" width="1.05" height="6.91" fill="rgb(252, 240, 234)"/>
<rect x="158.4" y="343.0" width="1.05" height="6.91" fill="rgb(250, 220, 206)"/>
<rect x="158.4" y="349.9" width="1.05" height="6.91" fill="rgb(250, 222, 208)"/>
<rect x="158.4" y="356.8" width="1.05" height="6.91" fill="rgb(252, 243, 239)"/>
<rect x="158.4" y="363.6" width="1.05" height="6.91" fill="rgb(251, 232, 223)"/>
<rect x="158.4" y="370.5" width="1.05" height="6.91" fill="rgb(251, 230, 220)"/>
<rect x="158.4" y="377.4" width="1.05" height="6.91" fill="rgb(251, 235, 226)"/>
<rect x="158.4" y="384.2" width="1.05" height="6.91" fill="rgb(252, 240, 235)"/>
<rect x="158.4" y="391.1" width="1.05" height="6.91" fill="rgb(250, 222, 208)"/>
<rect x="158.4" y="397.9" width="1.05" height="6.91" fill="rgb(252, 247, 244)"/>
<rect x="159.4" y="315.6" width="1.05" height="6.91" fill="rgb(248, 203, 182)"/>
<rect x="159.4" y="322.5" width="1.05" height="6.91" fill="rgb(247, 196, 172)"/>
<rect x="159.4" y="329.3" width="1.05" height="6.91" fill="rgb(252, 241, 236)"/>
<rect x="159.4" y="336.2" width="1.05" height="6.91" fill="rgb(252, 238, 232)"/>
<rect x="159.4" y="343.0" width="1.05" height="6.91" fill="rgb(250, 220, 206)"/>
<rect x="159.4" y="349.9" width="1.05" height="6.91" fill="rgb(251, 230, 219)"/>
<rect x="159.4" y="356.8" width="1.05" height="6.91" fill="rgb(248, 210, 191)"/>
<rect x="159.4" y="363.6" width="1.05" height="6.91" fill="rgb(247, 202, 181)"/>
<rect x="159.4" y="370.5" width="1.05" height="6.91" fill="rgb(251, 231, 221)"/>
<rect x="159.4" y="377.4" width="1.05" height="6.91" fill="rgb(250, 223, 210)"/>
<rect x="159.4" y="384.2" width="1.05" height="6.91" fill="rgb(248, 206, 186)"/>
<rect x="159.4" y="391.1" width="1.05" height="6.91" fill="rgb(249, 217, 202)"/>
<rect x="159.4" y="397.9" width="1.05" height="6.91" fill="rgb(252, 238, 231)"/>
<rect x="160.4" y="315.6" width="1.05" height="6.91" fill="rgb(252, 247, 244)"/>
<rect x="160.4" y="322.5" width="1.05" height="6.91" fill="rgb(251, 231, 222)"/>
<rect x="160.4" y="329.3" width="1.05" height="6.91" fill="rgb(252, 242, 237)"/>
<rect x="160.4" y="336.2" width="1.05" height="6.91" fill="rgb(252, 244, 241)"/>
<rect x="160.4" y="343.0" width="1.05" height="6.91" fill="rgb(252, 242, 237)"/>
<rect x="160.4" y="349.9" width="1.05" height="6.91" fill="rgb(252, 239, 233)"/>
<rect x="160.4" y="356.8" width="1.05" height="6.91" fill="rgb(252, 242, 238)"/>
<rect x="160.4" y="363.6" width="1.05" height="6.91" fill="rgb(252, 238, 231)"/>
<rect x="160.4" y="370.5" width="1.05" height="6.91" fill="rgb(252, 245, 242)"/>
<rect x="160.4" y="377.4" width="1.05" height="6.91" fill="rgb(252, 240, 234)"/>
<rect x="160.4" y="384.2" width="1.05" height="6.91" fill="rgb(252, 240, 234)"/>
<rect x="160.4" y="391.1" width="1.05" height="6.91" fill="rgb(252, 245, 241)"/>
<rect x="160.4" y="397.9" width="1.05" height="6.91" fill="rgb(252, 238, 232)"/>
<rect x="161.4" y="315.6" width="1.05" height="6.91" fill="rgb(252, 242, 238)"/>
<rect x="161.4" y="322.5" width="1.05" height="6.91" fill="rgb(252, 244, 241)"/>
<rect x="161.4" y="329.3" width="1.05" height="6.91" fill="rgb(252, 240, 234)"/>
<rect x="161.4" y="336.2" width="1.05" height="6.91" fill="rgb(252, 246, 244)"/>
<rect x="161.4" y="343.0" width="1.05" height="6.91" fill="rgb(252, 246, 243)"/>
<rect x="161.4" y="349.9" width="1.05" height="6.91" fill="rgb(252, 241, 236)"/>
<rect x="161.4" y="356.8" width="1.05" height="6.91" fill="rgb(252, 240, 235)"/>
<rect x="161.4" y="363.6" width="1.05" height="6.91" fill="rgb(252, 240, 235)"/>
<rect x="161.4" y="370.5" width="1.05" height="6.91" fill="rgb(244, 247, 251)"/>
<rect x="161.4" y="377.4" width="1.05" height="6.91" fill="rgb(252, 236, 228)"/>
<rect x="161.4" y="384.2" width="1.05" height="6.91" fill="rgb(252, 239, 233)"/>
<rect x="161.4" y="391.1" width="1.05" height="6.91" fill="rgb(252, 241, 236)"/>
<rect x="161.4" y="397.9" width="1.05" height="6.91" fill="rgb(251, 234, 226)"/>
<rect x="162.4" y="315.6" width="1.05" height="6.91" fill="rgb(249, 212, 195)"/>
<rect x="162.4" y="322.5" width="1.05" height="6.91" fill="rgb(250, 223, 210)"/>
<rect x="162.4" y="329.3" width="1.05" height="6.91" fill="rgb(248, 208, 189)"/>
<rect x="162.4" y="336.2" width="1.05" height="6.91" fill="rgb(252, 242, 238)"/>
<rect x="162.4" y="343.0" width="1.05" height="6.91" fill="rgb(247, 197, 173)"/>
<rect x="162.4" y="349.9" width="1.05" height="6.91" fill="rgb(248, 206, 186)"/>
<rect x="162.4" y="356.8" width="1.05" height="6.91" fill="rgb(248, 206, 186)"/>
<rect x="162.4" y="363.6" width="1.05" height="6.91" fill="rgb(247, 201, 179)"/>
<rect x="162.4" y="370.5" width="1.05" height="6.91" fill="rgb(252, 238, 231)"/>
<rect x="162.4" y="377.4" width="1.05" height="6.91" fill="rgb(249, 216, 200)"/>
<rect x="162.4" y="384.2" width="1.05" height="6.91" fill="rgb(252, 239, 233)"/>
<rect x="162.4" y="391.1" width="1.05" height="6.91" fill="rgb(252, 241, 236)"/>
<rect x="162.4" y="397.9" width="1.05" height="6.91" fill="rgb(252, 237, 230)"/>
<rect x="163.4" y="315.6" width="1.05" height="6.91" fill="rgb(251, 231, 221)"/>
<rect x="163.4" y="322.5" width="1.05" height="6.91" fill="rgb(252, 240, 234)"/>
<rect x="163.4" y="329.3" width="1.05" height="6.91" fill="rgb(252, 246, 243)"/>
<rect x="163.4" y="336.2" width="1.05" height="6.91" fill="rgb(252, 238, 231)"/>
<rect x="163.4" y="343.0" width="1.05" height="6.91" fill="rgb(252, 239, 233)"/>
<rect x="163.4" y="349.9" width="1.05" height="6.91" fill="rgb(251, 234, 225)"/>
<rect x="163.4" y="356.8" width="1.05" height="6.91" fill="rgb(249, 214, 197)"/>
<rect x="163.4" y="363.6" width="1.05" height="6.91" fill="rgb(252, 243, 239)"/>
<rect x="163.4" y="370.5" width="1.05" height="6.91" fill="rgb(250, 225, 212)"/>
<rect x="163.4" y="377.4" width="1.05" height="6.91" fill="rgb(252, 240, 234)"/>
<rect x="163.4" y="384.2" width="1.05" height="6.91" fill="rgb(252, 238, 232)"/>
<rect x="163.4" y="391.1" width="1.05" height="6.91" fill="rgb(251, 234, 226)"/>
<rect x="163.4" y="397.9" width="1.05" height="6.91" fill="rgb(251, 227, 216)"/>
<path d="M14.6 319 H11 V325.8 H14.6 M11 322.4 H9 V333 H14.6 M9 330 H7.2 V365 M14.6 339.8 H12.2 V353.5 H14.6 M12.2 346.6 H10.5 V371 M14.6 360.4 H12.8 V367.3 H14.6 M10.5 371 H14.6 M7.2 365 H6 V392 M14.6 381 H12.5 V394.6 H14.6 M12.5 388 H9.8 V401.4 H14.6 M9.8 394 H6" fill="none" stroke="#777" stroke-width="0.5"/>
<text x="166.00" y="323.20" font-size="4.5" text-anchor="start" fill="#222" textLength="33.58" lengthAdjust="spacingAndGlyphs" >15-deoxy-12,14-Pro</text>
<text x="166.00" y="330.06" font-size="4.5" text-anchor="start" fill="#222" textLength="34.22" lengthAdjust="spacingAndGlyphs" >4-hydroxynonenal G</text>
<text x="166.00" y="336.92" font-size="4.5" text-anchor="start" fill="#222" textLength="32.58" lengthAdjust="spacingAndGlyphs" >13(S)-HpOTrE/9(S)</text>
<text x="166.00" y="343.78" font-size="4.5" text-anchor="start" fill="#222" textLength="22.8" lengthAdjust="spacingAndGlyphs" >12(S)-HpETE</text>
<text x="166.00" y="350.64" font-size="4.5" text-anchor="start" fill="#222" textLength="22.8" lengthAdjust="spacingAndGlyphs" >15(S)-HpETE</text>
<text x="166.00" y="357.50" font-size="4.5" text-anchor="start" fill="#222" textLength="23.44" lengthAdjust="spacingAndGlyphs" >17(S)-HpDHA</text>
<text x="166.00" y="364.36" font-size="4.5" text-anchor="start" fill="#222" textLength="23.23" lengthAdjust="spacingAndGlyphs" >15(S)-HpEDE</text>
<text x="166.00" y="371.22" font-size="4.5" text-anchor="start" fill="#222" textLength="23.02" lengthAdjust="spacingAndGlyphs" >12(S)-HpEPE</text>
<text x="166.00" y="378.08" font-size="4.5" text-anchor="start" fill="#222" textLength="23.02" lengthAdjust="spacingAndGlyphs" >15(S)-HpEPE</text>
<text x="166.00" y="384.94" font-size="4.5" text-anchor="start" fill="#222" textLength="20.91" lengthAdjust="spacingAndGlyphs" >5(S)-HpEPE</text>
<text x="166.00" y="391.80" font-size="4.5" text-anchor="start" fill="#222" textLength="21.54" lengthAdjust="spacingAndGlyphs" >9(S)-HpODE</text>
<text x="166.00" y="398.66" font-size="4.5" text-anchor="start" fill="#222" textLength="23.65" lengthAdjust="spacingAndGlyphs" >13(S)-HpODE</text>
<text x="166.00" y="405.52" font-size="4.5" text-anchor="start" fill="#222" textLength="20.69" lengthAdjust="spacingAndGlyphs" >5(S)-HpETE</text>
<defs><linearGradient id="hs" x1="0" y1="0" x2="0" y2="1"><stop offset="0" stop-color="#7f0d12"/><stop offset="0.25" stop-color="#d8383a"/><stop offset="0.55" stop-color="#f2a387"/><stop offset="0.8" stop-color="#faebe5"/><stop offset="1" stop-color="#ffffff"/></linearGradient></defs>
<rect x="206.00" y="318.40" width="5.30" height="31.90" fill="url(#hs)" stroke="#9a9a9a" stroke-width="0.4" />
<text x="213.00" y="323.80" font-size="4.4" text-anchor="start" fill="#333" textLength="4.2" lengthAdjust="spacingAndGlyphs" >13</text>
<text x="213.00" y="351.30" font-size="4.4" text-anchor="start" fill="#333" >0</text>
<rect x="206.00" y="357.10" width="5.30" height="15.00" fill="#7f78be" stroke="#5a548a" stroke-width="0.3" />
<rect x="206.00" y="372.10" width="5.30" height="15.60" fill="#40ad4a" stroke="#2e7a35" stroke-width="0.3" />
<text x="213.00" y="370.60" font-size="4.6" text-anchor="start" fill="#333" textLength="9.6" lengthAdjust="spacingAndGlyphs" >Fresh</text>
<text x="213.00" y="385.70" font-size="4.6" text-anchor="start" fill="#333" textLength="11.2" lengthAdjust="spacingAndGlyphs" >Stored</text>
<text x="234.70" y="303.80" font-size="11.2" text-anchor="start" fill="#000" font-weight="bold" >H</text>
<text x="390.70" y="305.50" font-size="6.1" text-anchor="middle" fill="#1a1a1a" textLength="80.8" lengthAdjust="spacingAndGlyphs" stroke="#1a1a1a" stroke-width="0.15">4-hydroxynonenal-Glutathione</text>
<rect x="263.80" y="308.90" width="18.00" height="36.70" fill="#dcdcdc" stroke="none" stroke-width="0.5" />
<rect x="281.80" y="308.90" width="16.05" height="36.70" fill="#e9e9e9" stroke="none" stroke-width="0.5" />
<rect x="297.85" y="308.90" width="15.20" height="36.70" fill="#dcdcdc" stroke="none" stroke-width="0.5" />
<rect x="313.05" y="308.90" width="14.55" height="36.70" fill="#e9e9e9" stroke="none" stroke-width="0.5" />
<rect x="327.60" y="308.90" width="14.10" height="36.70" fill="#dcdcdc" stroke="none" stroke-width="0.5" />
<rect x="341.70" y="308.90" width="13.80" height="36.70" fill="#e9e9e9" stroke="none" stroke-width="0.5" />
<rect x="355.50" y="308.90" width="13.10" height="36.70" fill="#dcdcdc" stroke="none" stroke-width="0.5" />
<rect x="368.60" y="308.90" width="12.30" height="36.70" fill="#e9e9e9" stroke="none" stroke-width="0.5" />
<rect x="380.90" y="308.90" width="12.30" height="36.70" fill="#dcdcdc" stroke="none" stroke-width="0.5" />
<rect x="393.20" y="308.90" width="12.35" height="36.70" fill="#e9e9e9" stroke="none" stroke-width="0.5" />
<rect x="405.55" y="308.90" width="12.15" height="36.70" fill="#dcdcdc" stroke="none" stroke-width="0.5" />
<rect x="417.70" y="308.90" width="11.95" height="36.70" fill="#e9e9e9" stroke="none" stroke-width="0.5" />
<rect x="429.65" y="308.90" width="11.75" height="36.70" fill="#dcdcdc" stroke="none" stroke-width="0.5" />
<rect x="441.40" y="308.90" width="11.20" height="36.70" fill="#e9e9e9" stroke="none" stroke-width="0.5" />
<rect x="452.60" y="308.90" width="10.50" height="36.70" fill="#dcdcdc" stroke="none" stroke-width="0.5" />
<rect x="463.10" y="308.90" width="10.00" height="36.70" fill="#e9e9e9" stroke="none" stroke-width="0.5" />
<rect x="473.10" y="308.90" width="9.15" height="36.70" fill="#dcdcdc" stroke="none" stroke-width="0.5" />
<rect x="482.25" y="308.90" width="8.40" height="36.70" fill="#e9e9e9" stroke="none" stroke-width="0.5" />
<rect x="490.65" y="308.90" width="9.30" height="36.70" fill="#dcdcdc" stroke="none" stroke-width="0.5" />
<rect x="499.95" y="308.90" width="12.85" height="36.70" fill="#e9e9e9" stroke="none" stroke-width="0.5" />
<line x1="263.80" y1="345.50" x2="512.80" y2="345.50" stroke="#f4f4f4" stroke-width="0.4" />
<line x1="263.80" y1="337.88" x2="512.80" y2="337.88" stroke="#f4f4f4" stroke-width="0.4" />
<line x1="263.80" y1="330.25" x2="512.80" y2="330.25" stroke="#f4f4f4" stroke-width="0.4" />
<line x1="263.80" y1="322.62" x2="512.80" y2="322.62" stroke="#f4f4f4" stroke-width="0.4" />
<line x1="263.80" y1="315.00" x2="512.80" y2="315.00" stroke="#f4f4f4" stroke-width="0.4" />
<path d="M264.1 345.5 L264.1 341.7 L264.4 341.6 L264.7 339.8 L265.0 337.2 L265.3 345.2 L265.6 343.2 L265.9 341.7 L266.2 341.2 L266.5 342.4 L266.8 340.5 L267.1 343.4 L267.4 341.5 L267.7 342.7 L268.0 339.2 L268.3 343.2 L268.6 342.8 L268.9 340.7 L269.2 342.8 L269.5 343.1 L269.8 340.5 L270.1 342.4 L270.4 340.5 L270.7 342.3 L271.0 342.3 L271.3 340.8 L271.6 339.4 L271.9 337.3 L272.2 334.8 L272.5 331.5 L272.8 327.6 L273.1 345.2 L273.4 318.8 L273.7 313.1 L274.0 309.2 L274.3 309.2 L274.4 309.2 L274.6 323.0 L274.9 341.8 L275.2 341.2 L275.5 340.8 L275.8 341.7 L276.1 340.4 L276.4 341.2 L276.7 345.2 L277.0 341.3 L277.3 340.9 L277.6 342.6 L277.9 341.5 L278.2 342.4 L278.5 341.1 L278.8 341.9 L279.1 341.3 L279.4 342.3 L279.7 342.8 L280.0 342.4 L280.3 345.2 L280.6 341.4 L280.9 345.2 L281.2 342.5 L281.5 345.3 L281.8 345.3 L282.1 345.3 L282.4 342.8 L282.7 341.8 L283.0 337.3 L283.3 342.3 L283.6 342.2 L283.9 341.9 L284.2 340.5 L284.5 340.8 L284.8 341.0 L285.1 340.3 L285.4 338.2 L285.7 342.1 L286.0 342.6 L286.3 339.9 L286.6 342.4 L286.9 339.4 L287.2 339.6 L287.5 338.3 L287.8 339.8 L288.1 345.2 L288.4 339.8 L288.7 339.9 L289.0 340.3 L289.3 338.8 L289.6 340.0 L289.9 345.2 L290.2 341.6 L290.5 337.5 L290.8 341.6 L291.1 341.1 L291.4 342.3 L291.7 339.8 L292.0 340.6 L292.3 342.2 L292.6 338.8 L292.9 343.0 L293.2 342.6 L293.5 342.6 L293.8 342.7 L294.1 340.2 L294.4 343.6 L294.7 342.8 L295.0 339.2 L295.3 340.1 L295.6 341.7 L295.9 343.9 L296.2 342.0 L296.5 345.2 L296.8 341.0 L297.1 341.9 L297.4 345.3 L297.7 345.3 L298.0 345.3 L298.3 345.3 L298.6 339.0 L298.9 341.3 L299.2 339.5 L299.5 338.5 L299.8 335.9 L300.1 340.0 L300.4 341.9 L300.7 339.2 L301.0 337.4 L301.3 339.9 L301.6 341.6 L301.9 341.3 L302.2 342.0 L302.5 345.2 L302.8 343.7 L303.1 341.0 L303.4 336.9 L303.7 340.0 L304.0 340.0 L304.3 337.8 L304.6 343.1 L304.9 340.3 L305.2 341.1 L305.5 338.4 L305.8 339.2 L306.1 341.8 L306.4 340.2 L306.7 339.5 L307.0 343.5 L307.3 343.1 L307.6 341.5 L307.9 342.2 L308.2 340.5 L308.5 340.9 L308.8 341.2 L309.1 342.0 L309.4 341.1 L309.7 340.7 L310.0 341.0 L310.3 338.7 L310.6 340.0 L310.9 342.4 L311.2 338.2 L311.5 340.9 L311.8 338.3 L312.1 340.7 L312.4 340.2 L312.7 345.3 L313.0 345.3 L313.3 345.3 L313.6 340.3 L313.9 340.2 L314.2 342.5 L314.5 342.3 L314.8 341.2 L315.1 340.6 L315.4 338.8 L315.7 338.7 L316.0 338.1 L316.3 338.7 L316.6 339.4 L316.9 342.1 L317.2 342.8 L317.5 338.9 L317.8 345.2 L318.1 342.1 L318.4 339.9 L318.7 342.1 L319.0 339.3 L319.3 338.4 L319.6 345.2 L319.9 338.7 L320.2 341.0 L320.5 343.4 L320.8 339.0 L321.1 341.2 L321.4 339.8 L321.7 345.2 L322.0 338.5 L322.3 337.7 L322.6 339.5 L322.9 340.3 L323.2 341.4 L323.5 339.1 L323.8 341.7 L324.1 339.1 L324.4 345.2 L324.7 339.9 L325.0 343.6 L325.3 340.7 L325.6 341.8 L325.9 341.8 L326.2 339.6 L326.5 339.7 L326.8 340.3 L327.1 345.3 L327.4 345.3 L327.7 345.3 L328.0 345.2 L328.3 340.7 L328.6 339.6 L328.9 342.8 L329.2 339.4 L329.5 338.7 L329.8 342.1 L330.1 339.3 L330.4 339.3 L330.7 339.9 L331.0 340.6 L331.3 341.9 L331.6 339.6 L331.9 338.6 L332.2 341.0 L332.5 338.6 L332.8 343.2 L333.1 339.2 L333.4 340.5 L333.7 341.9 L334.0 340.4 L334.3 340.7 L334.6 337.7 L334.9 341.9 L335.2 340.5 L335.5 339.7 L335.8 339.4 L336.1 339.5 L336.4 339.2 L336.7 341.1 L337.0 340.9 L337.3 340.7 L337.6 341.9 L337.9 339.6 L338.2 340.1 L338.5 337.0 L338.8 338.7 L339.1 343.3 L339.4 345.2 L339.7 341.0 L340.0 340.0 L340.3 340.5 L340.6 341.8 L340.9 339.1 L341.2 345.3 L341.5 345.3 L341.8 345.3 L342.1 345.3 L342.4 343.6 L342.7 342.8 L343.0 343.1 L343.3 342.8 L343.6 341.7 L343.9 341.8 L344.2 343.3 L344.5 342.7 L344.8 338.5 L345.1 340.4 L345.4 341.1 L345.7 341.1 L346.0 340.9 L346.3 342.2 L346.6 339.7 L346.9 341.0 L347.2 343.4 L347.5 339.7 L347.8 341.5 L348.1 337.8 L348.4 341.0 L348.7 343.8 L349.0 342.7 L349.3 342.8 L349.6 340.3 L349.9 341.9 L350.2 342.1 L350.5 345.2 L350.8 340.7 L351.1 340.6 L351.4 343.4 L351.7 343.1 L352.0 345.2 L352.3 341.8 L352.6 342.6 L352.9 342.3 L353.2 343.6 L353.5 343.9 L353.8 343.4 L354.1 343.5 L354.4 345.2 L354.7 343.5 L355.0 345.3 L355.3 345.3 L355.6 345.3 L355.9 345.3 L356.2 343.8 L356.5 345.2 L356.8 343.1 L357.1 343.3 L357.4 343.8 L357.7 343.5 L358.0 345.2 L358.3 343.0 L358.6 343.2 L358.9 342.7 L359.2 343.3 L359.5 341.5 L359.8 343.2 L360.1 343.6 L360.4 343.5 L360.7 342.7 L361.0 343.5 L361.3 344.4 L361.6 345.2 L361.9 342.6 L362.2 343.8 L362.5 342.8 L362.8 341.8 L363.1 342.9 L363.4 341.0 L363.7 343.0 L364.0 342.6 L364.3 338.1 L364.6 330.6 L364.6 329.7 L364.9 338.0 L365.2 342.0 L365.5 342.8 L365.8 343.5 L366.1 343.0 L366.4 341.3 L366.7 344.0 L367.0 343.8 L367.3 342.9 L367.6 343.6 L367.9 342.7 L368.2 345.3 L368.5 345.3 L368.8 345.3 L369.1 342.9 L369.4 345.2 L369.7 343.0 L370.0 345.2 L370.3 342.3 L370.6 341.0 L370.9 341.0 L371.2 341.3 L371.5 343.4 L371.8 345.2 L372.1 343.1 L372.4 342.2 L372.7 344.1 L373.0 343.9 L373.3 342.7 L373.6 341.2 L373.9 343.3 L374.2 342.2 L374.5 344.2 L374.8 343.3 L375.1 344.5 L375.4 343.2 L375.7 343.2 L376.0 338.3 L376.3 345.2 L376.6 343.1 L376.9 341.2 L377.2 342.9 L377.5 343.1 L377.8 342.3 L378.1 343.9 L378.4 343.3 L378.7 342.5 L379.0 339.4 L379.3 343.4 L379.6 343.6 L379.9 343.9 L380.2 343.0 L380.5 345.3 L380.8 345.3 L381.1 345.3 L381.4 343.0 L381.7 340.4 L382.0 342.3 L382.3 341.6 L382.6 341.2 L382.9 341.8 L383.2 341.9 L383.5 341.9 L383.8 340.8 L384.1 341.4 L384.4 339.4 L384.7 342.7 L385.0 341.3 L385.3 342.2 L385.6 339.8 L385.9 340.6 L386.2 341.8 L386.5 341.6 L386.8 341.3 L387.1 340.6 L387.4 340.8 L387.7 340.8 L388.0 341.3 L388.3 343.0 L388.6 342.5 L388.9 342.4 L389.2 343.0 L389.5 342.4 L389.8 340.6 L390.1 340.3 L390.4 340.4 L390.7 342.4 L391.0 342.0 L391.3 339.2 L391.6 338.5 L391.9 340.1 L392.2 343.2 L392.5 340.5 L392.8 345.3 L393.1 345.3 L393.4 345.3 L393.7 341.4 L394.0 342.0 L394.3 342.2 L394.6 341.5 L394.9 345.2 L395.2 345.2 L395.5 339.9 L395.8 340.9 L396.1 340.2 L396.4 341.2 L396.7 340.5 L397.0 342.2 L397.3 339.8 L397.6 345.2 L397.9 339.2 L398.2 340.3 L398.5 345.2 L398.8 342.6 L399.1 340.7 L399.4 338.1 L399.7 340.4 L400.0 340.8 L400.3 345.2 L400.6 342.6 L400.9 340.2 L401.2 341.5 L401.5 345.2 L401.8 339.1 L402.1 341.6 L402.4 341.1 L402.7 343.3 L403.0 341.5 L403.3 337.5 L403.6 342.4 L403.9 345.2 L404.2 341.2 L404.5 341.0 L404.8 342.2 L405.1 345.3 L405.4 345.3 L405.7 345.3 L406.0 345.3 L406.3 344.1 L406.6 342.4 L406.9 339.4 L407.2 343.4 L407.5 342.7 L407.8 343.6 L408.1 343.1 L408.4 342.2 L408.7 341.5 L409.0 341.3 L409.3 343.3 L409.6 344.2 L409.9 342.9 L410.2 341.1 L410.5 340.8 L410.8 342.7 L411.1 344.0 L411.4 344.0 L411.7 343.2 L412.0 342.7 L412.3 343.0 L412.6 342.3 L412.9 344.5 L413.2 342.1 L413.5 343.7 L413.8 342.7 L414.1 342.8 L414.4 342.1 L414.7 342.5 L415.0 342.5 L415.3 342.0 L415.6 343.1 L415.9 339.2 L416.2 342.1 L416.5 341.2 L416.8 339.9 L417.1 341.5 L417.4 345.3 L417.7 345.3 L418.0 345.3 L418.3 339.6 L418.6 345.2 L418.9 340.1 L419.2 336.9 L419.5 342.7 L419.8 343.7 L420.1 341.2 L420.4 343.7 L420.7 342.0 L421.0 341.7 L421.3 342.8 L421.6 341.9 L421.9 343.0 L422.2 343.0 L422.5 343.0 L422.8 338.7 L423.0 335.1 L423.1 336.9 L423.4 341.2 L423.7 342.2 L424.0 343.4 L424.3 340.6 L424.6 341.9 L424.9 341.8 L425.2 342.7 L425.5 343.0 L425.8 342.8 L426.1 341.5 L426.4 343.6 L426.7 343.2 L427.0 341.7 L427.3 342.8 L427.6 343.6 L427.9 342.0 L428.2 342.5 L428.5 343.9 L428.8 343.4 L429.1 344.3 L429.4 345.3 L429.7 345.3 L430.0 345.3 L430.3 342.6 L430.6 343.3 L430.9 342.6 L431.2 343.2 L431.5 342.9 L431.8 342.6 L432.1 343.3 L432.4 345.2 L432.7 343.1 L433.0 343.8 L433.3 341.3 L433.6 342.3 L433.9 343.2 L434.2 342.5 L434.5 343.1 L434.8 343.6 L435.1 341.4 L435.4 341.5 L435.7 341.7 L436.0 343.9 L436.3 341.2 L436.6 343.3 L436.9 339.4 L437.2 339.5 L437.5 337.1 L437.8 339.2 L438.1 340.4 L438.4 342.5 L438.7 339.9 L439.0 342.0 L439.3 339.3 L439.6 341.2 L439.9 338.8 L440.2 336.9 L440.5 338.9 L440.8 341.2 L441.1 345.3 L441.4 345.3 L441.7 345.3 L442.0 339.8 L442.3 341.2 L442.6 341.6 L442.9 340.1 L443.2 340.9 L443.5 340.1 L443.8 338.2 L444.1 341.5 L444.4 341.3 L444.7 340.6 L445.0 340.9 L445.3 343.8 L445.6 342.0 L445.9 343.2 L446.2 343.6 L446.5 343.3 L446.8 342.3 L447.1 342.9 L447.4 343.4 L447.7 342.3 L448.0 341.4 L448.3 341.6 L448.6 341.2 L448.9 342.5 L449.2 345.2 L449.5 340.0 L449.8 341.6 L450.1 343.0 L450.4 340.8 L450.7 338.9 L451.0 339.6 L451.3 339.3 L451.6 341.0 L451.9 341.7 L452.2 345.3 L452.5 345.3 L452.8 345.3 L453.1 342.5 L453.4 338.6 L453.7 338.6 L454.0 341.4 L454.3 342.0 L454.6 341.6 L454.9 340.2 L455.2 340.2 L455.5 341.4 L455.8 340.6 L456.1 342.3 L456.4 341.3 L456.7 338.6 L457.0 339.6 L457.3 341.3 L457.6 342.8 L457.9 339.7 L458.2 341.1 L458.5 342.6 L458.8 341.5 L459.1 340.8 L459.4 341.4 L459.7 343.7 L460.0 343.1 L460.3 340.7 L460.6 341.5 L460.9 338.2 L461.0 337.6 L461.2 340.2 L461.5 342.3 L461.8 340.9 L462.1 340.3 L462.4 342.8 L462.7 345.3 L463.0 345.2 L463.3 345.3 L463.6 340.5 L463.9 341.3 L464.2 340.4 L464.5 341.6 L464.8 342.6 L465.1 341.5 L465.4 343.5 L465.7 341.0 L466.0 345.2 L466.3 342.8 L466.6 342.5 L466.9 340.1 L467.2 343.2 L467.5 341.5 L467.8 340.8 L468.1 341.4 L468.4 341.6 L468.7 343.7 L469.0 340.3 L469.3 343.3 L469.6 342.2 L469.9 337.5 L470.0 334.8 L470.2 339.1 L470.5 343.9 L470.8 344.4 L471.1 344.4 L471.4 343.2 L471.7 343.9 L472.0 343.2 L472.3 343.2 L472.6 345.3 L472.9 345.3 L473.2 345.3 L473.5 345.2 L473.8 343.7 L474.1 342.2 L474.4 338.5 L474.7 342.5 L475.0 341.3 L475.3 340.6 L475.6 338.3 L475.9 341.9 L476.2 341.6 L476.5 342.2 L476.8 342.5 L477.1 343.1 L477.4 338.4 L477.7 340.7 L478.0 342.1 L478.3 341.3 L478.6 339.2 L478.9 343.5 L479.2 340.6 L479.5 341.6 L479.8 341.1 L480.1 345.2 L480.4 343.8 L480.7 341.2 L481.0 341.2 L481.3 340.7 L481.6 341.3 L481.9 345.3 L482.2 345.3 L482.5 345.3 L482.8 342.4 L483.1 341.9 L483.4 339.5 L483.7 341.6 L484.0 341.7 L484.3 339.1 L484.6 342.9 L484.9 341.6 L485.2 343.7 L485.5 341.6 L485.8 341.5 L486.1 342.8 L486.4 343.3 L486.7 340.8 L487.0 345.2 L487.3 343.0 L487.6 342.1 L487.9 340.9 L488.2 341.1 L488.5 343.6 L488.8 341.8 L489.1 341.6 L489.4 342.2 L489.7 342.1 L490.0 341.6 L490.3 345.3 L490.5 338.3 L490.6 345.3 L490.9 345.3 L491.2 341.9 L491.5 343.3 L491.8 344.0 L492.1 340.9 L492.4 343.3 L492.7 343.4 L493.0 342.6 L493.3 340.8 L493.6 343.4 L493.9 342.5 L494.2 343.0 L494.5 343.2 L494.8 342.6 L495.1 343.7 L495.4 342.6 L495.7 342.6 L496.0 338.6 L496.3 343.1 L496.6 340.2 L496.9 341.3 L497.2 343.1 L497.5 344.1 L497.8 343.0 L498.1 341.5 L498.4 343.7 L498.7 341.0 L499.0 343.0 L499.3 342.1 L499.6 345.3 L499.9 345.3 L500.2 345.3 L500.5 343.9 L500.8 343.4 L501.1 343.3 L501.4 342.3 L501.7 343.5 L502.0 343.3 L502.3 343.4 L502.6 341.9 L502.9 343.1 L503.2 342.5 L503.5 342.0 L503.8 343.7 L504.1 342.5 L504.4 342.8 L504.7 340.8 L505.0 336.4 L505.0 335.9 L505.3 341.1 L505.6 340.2 L505.9 341.8 L506.2 342.8 L506.5 342.1 L506.8 342.8 L507.1 339.0 L507.4 339.7 L507.7 343.0 L508.0 341.4 L508.3 343.8 L508.6 339.4 L508.9 335.9 L509.2 340.8 L509.5 337.1 L509.8 342.2 L510.1 340.3 L510.4 338.3 L510.7 340.4 L511.0 345.2 L511.3 342.2 L511.6 342.5 L511.9 338.6 L512.2 340.9 L512.5 345.5 Z" fill="#8dbde6" stroke="none"/>
<path d="M264.1 341.7 L264.1 341.7 L264.4 341.6 L264.7 339.8 L265.0 337.2 L265.3 345.2 L265.6 343.2 L265.9 341.7 L266.2 341.2 L266.5 342.4 L266.8 340.5 L267.1 343.4 L267.4 341.5 L267.7 342.7 L268.0 339.2 L268.3 343.2 L268.6 342.8 L268.9 340.7 L269.2 342.8 L269.5 343.1 L269.8 340.5 L270.1 342.4 L270.4 340.5 L270.7 342.3 L271.0 342.3 L271.3 340.8 L271.6 339.4 L271.9 337.3 L272.2 334.8 L272.5 331.5 L272.8 327.6 L273.1 345.2 L273.4 318.8 L273.7 313.1 L274.0 309.2 L274.3 309.2 L274.4 309.2 L274.6 323.0 L274.9 341.8 L275.2 341.2 L275.5 340.8 L275.8 341.7 L276.1 340.4 L276.4 341.2 L276.7 345.2 L277.0 341.3 L277.3 340.9 L277.6 342.6 L277.9 341.5 L278.2 342.4 L278.5 341.1 L278.8 341.9 L279.1 341.3 L279.4 342.3 L279.7 342.8 L280.0 342.4 L280.3 345.2 L280.6 341.4 L280.9 345.2 L281.2 342.5 L281.5 345.3 L281.8 345.3 L282.1 345.3 L282.4 342.8 L282.7 341.8 L283.0 337.3 L283.3 342.3 L283.6 342.2 L283.9 341.9 L284.2 340.5 L284.5 340.8 L284.8 341.0 L285.1 340.3 L285.4 338.2 L285.7 342.1 L286.0 342.6 L286.3 339.9 L286.6 342.4 L286.9 339.4 L287.2 339.6 L287.5 338.3 L287.8 339.8 L288.1 345.2 L288.4 339.8 L288.7 339.9 L289.0 340.3 L289.3 338.8 L289.6 340.0 L289.9 345.2 L290.2 341.6 L290.5 337.5 L290.8 341.6 L291.1 341.1 L291.4 342.3 L291.7 339.8 L292.0 340.6 L292.3 342.2 L292.6 338.8 L292.9 343.0 L293.2 342.6 L293.5 342.6 L293.8 342.7 L294.1 340.2 L294.4 343.6 L294.7 342.8 L295.0 339.2 L295.3 340.1 L295.6 341.7 L295.9 343.9 L296.2 342.0 L296.5 345.2 L296.8 341.0 L297.1 341.9 L297.4 345.3 L297.7 345.3 L298.0 345.3 L298.3 345.3 L298.6 339.0 L298.9 341.3 L299.2 339.5 L299.5 338.5 L299.8 335.9 L300.1 340.0 L300.4 341.9 L300.7 339.2 L301.0 337.4 L301.3 339.9 L301.6 341.6 L301.9 341.3 L302.2 342.0 L302.5 345.2 L302.8 343.7 L303.1 341.0 L303.4 336.9 L303.7 340.0 L304.0 340.0 L304.3 337.8 L304.6 343.1 L304.9 340.3 L305.2 341.1 L305.5 338.4 L305.8 339.2 L306.1 341.8 L306.4 340.2 L306.7 339.5 L307.0 343.5 L307.3 343.1 L307.6 341.5 L307.9 342.2 L308.2 340.5 L308.5 340.9 L308.8 341.2 L309.1 342.0 L309.4 341.1 L309.7 340.7 L310.0 341.0 L310.3 338.7 L310.6 340.0 L310.9 342.4 L311.2 338.2 L311.5 340.9 L311.8 338.3 L312.1 340.7 L312.4 340.2 L312.7 345.3 L313.0 345.3 L313.3 345.3 L313.6 340.3 L313.9 340.2 L314.2 342.5 L314.5 342.3 L314.8 341.2 L315.1 340.6 L315.4 338.8 L315.7 338.7 L316.0 338.1 L316.3 338.7 L316.6 339.4 L316.9 342.1 L317.2 342.8 L317.5 338.9 L317.8 345.2 L318.1 342.1 L318.4 339.9 L318.7 342.1 L319.0 339.3 L319.3 338.4 L319.6 345.2 L319.9 338.7 L320.2 341.0 L320.5 343.4 L320.8 339.0 L321.1 341.2 L321.4 339.8 L321.7 345.2 L322.0 338.5 L322.3 337.7 L322.6 339.5 L322.9 340.3 L323.2 341.4 L323.5 339.1 L323.8 341.7 L324.1 339.1 L324.4 345.2 L324.7 339.9 L325.0 343.6 L325.3 340.7 L325.6 341.8 L325.9 341.8 L326.2 339.6 L326.5 339.7 L326.8 340.3 L327.1 345.3 L327.4 345.3 L327.7 345.3 L328.0 345.2 L328.3 340.7 L328.6 339.6 L328.9 342.8 L329.2 339.4 L329.5 338.7 L329.8 342.1 L330.1 339.3 L330.4 339.3 L330.7 339.9 L331.0 340.6 L331.3 341.9 L331.6 339.6 L331.9 338.6 L332.2 341.0 L332.5 338.6 L332.8 343.2 L333.1 339.2 L333.4 340.5 L333.7 341.9 L334.0 340.4 L334.3 340.7 L334.6 337.7 L334.9 341.9 L335.2 340.5 L335.5 339.7 L335.8 339.4 L336.1 339.5 L336.4 339.2 L336.7 341.1 L337.0 340.9 L337.3 340.7 L337.6 341.9 L337.9 339.6 L338.2 340.1 L338.5 337.0 L338.8 338.7 L339.1 343.3 L339.4 345.2 L339.7 341.0 L340.0 340.0 L340.3 340.5 L340.6 341.8 L340.9 339.1 L341.2 345.3 L341.5 345.3 L341.8 345.3 L342.1 345.3 L342.4 343.6 L342.7 342.8 L343.0 343.1 L343.3 342.8 L343.6 341.7 L343.9 341.8 L344.2 343.3 L344.5 342.7 L344.8 338.5 L345.1 340.4 L345.4 341.1 L345.7 341.1 L346.0 340.9 L346.3 342.2 L346.6 339.7 L346.9 341.0 L347.2 343.4 L347.5 339.7 L347.8 341.5 L348.1 337.8 L348.4 341.0 L348.7 343.8 L349.0 342.7 L349.3 342.8 L349.6 340.3 L349.9 341.9 L350.2 342.1 L350.5 345.2 L350.8 340.7 L351.1 340.6 L351.4 343.4 L351.7 343.1 L352.0 345.2 L352.3 341.8 L352.6 342.6 L352.9 342.3 L353.2 343.6 L353.5 343.9 L353.8 343.4 L354.1 343.5 L354.4 345.2 L354.7 343.5 L355.0 345.3 L355.3 345.3 L355.6 345.3 L355.9 345.3 L356.2 343.8 L356.5 345.2 L356.8 343.1 L357.1 343.3 L357.4 343.8 L357.7 343.5 L358.0 345.2 L358.3 343.0 L358.6 343.2 L358.9 342.7 L359.2 343.3 L359.5 341.5 L359.8 343.2 L360.1 343.6 L360.4 343.5 L360.7 342.7 L361.0 343.5 L361.3 344.4 L361.6 345.2 L361.9 342.6 L362.2 343.8 L362.5 342.8 L362.8 341.8 L363.1 342.9 L363.4 341.0 L363.7 343.0 L364.0 342.6 L364.3 338.1 L364.6 330.6 L364.6 329.7 L364.9 338.0 L365.2 342.0 L365.5 342.8 L365.8 343.5 L366.1 343.0 L366.4 341.3 L366.7 344.0 L367.0 343.8 L367.3 342.9 L367.6 343.6 L367.9 342.7 L368.2 345.3 L368.5 345.3 L368.8 345.3 L369.1 342.9 L369.4 345.2 L369.7 343.0 L370.0 345.2 L370.3 342.3 L370.6 341.0 L370.9 341.0 L371.2 341.3 L371.5 343.4 L371.8 345.2 L372.1 343.1 L372.4 342.2 L372.7 344.1 L373.0 343.9 L373.3 342.7 L373.6 341.2 L373.9 343.3 L374.2 342.2 L374.5 344.2 L374.8 343.3 L375.1 344.5 L375.4 343.2 L375.7 343.2 L376.0 338.3 L376.3 345.2 L376.6 343.1 L376.9 341.2 L377.2 342.9 L377.5 343.1 L377.8 342.3 L378.1 343.9 L378.4 343.3 L378.7 342.5 L379.0 339.4 L379.3 343.4 L379.6 343.6 L379.9 343.9 L380.2 343.0 L380.5 345.3 L380.8 345.3 L381.1 345.3 L381.4 343.0 L381.7 340.4 L382.0 342.3 L382.3 341.6 L382.6 341.2 L382.9 341.8 L383.2 341.9 L383.5 341.9 L383.8 340.8 L384.1 341.4 L384.4 339.4 L384.7 342.7 L385.0 341.3 L385.3 342.2 L385.6 339.8 L385.9 340.6 L386.2 341.8 L386.5 341.6 L386.8 341.3 L387.1 340.6 L387.4 340.8 L387.7 340.8 L388.0 341.3 L388.3 343.0 L388.6 342.5 L388.9 342.4 L389.2 343.0 L389.5 342.4 L389.8 340.6 L390.1 340.3 L390.4 340.4 L390.7 342.4 L391.0 342.0 L391.3 339.2 L391.6 338.5 L391.9 340.1 L392.2 343.2 L392.5 340.5 L392.8 345.3 L393.1 345.3 L393.4 345.3 L393.7 341.4 L394.0 342.0 L394.3 342.2 L394.6 341.5 L394.9 345.2 L395.2 345.2 L395.5 339.9 L395.8 340.9 L396.1 340.2 L396.4 341.2 L396.7 340.5 L397.0 342.2 L397.3 339.8 L397.6 345.2 L397.9 339.2 L398.2 340.3 L398.5 345.2 L398.8 342.6 L399.1 340.7 L399.4 338.1 L399.7 340.4 L400.0 340.8 L400.3 345.2 L400.6 342.6 L400.9 340.2 L401.2 341.5 L401.5 345.2 L401.8 339.1 L402.1 341.6 L402.4 341.1 L402.7 343.3 L403.0 341.5 L403.3 337.5 L403.6 342.4 L403.9 345.2 L404.2 341.2 L404.5 341.0 L404.8 342.2 L405.1 345.3 L405.4 345.3 L405.7 345.3 L406.0 345.3 L406.3 344.1 L406.6 342.4 L406.9 339.4 L407.2 343.4 L407.5 342.7 L407.8 343.6 L408.1 343.1 L408.4 342.2 L408.7 341.5 L409.0 341.3 L409.3 343.3 L409.6 344.2 L409.9 342.9 L410.2 341.1 L410.5 340.8 L410.8 342.7 L411.1 344.0 L411.4 344.0 L411.7 343.2 L412.0 342.7 L412.3 343.0 L412.6 342.3 L412.9 344.5 L413.2 342.1 L413.5 343.7 L413.8 342.7 L414.1 342.8 L414.4 342.1 L414.7 342.5 L415.0 342.5 L415.3 342.0 L415.6 343.1 L415.9 339.2 L416.2 342.1 L416.5 341.2 L416.8 339.9 L417.1 341.5 L417.4 345.3 L417.7 345.3 L418.0 345.3 L418.3 339.6 L418.6 345.2 L418.9 340.1 L419.2 336.9 L419.5 342.7 L419.8 343.7 L420.1 341.2 L420.4 343.7 L420.7 342.0 L421.0 341.7 L421.3 342.8 L421.6 341.9 L421.9 343.0 L422.2 343.0 L422.5 343.0 L422.8 338.7 L423.0 335.1 L423.1 336.9 L423.4 341.2 L423.7 342.2 L424.0 343.4 L424.3 340.6 L424.6 341.9 L424.9 341.8 L425.2 342.7 L425.5 343.0 L425.8 342.8 L426.1 341.5 L426.4 343.6 L426.7 343.2 L427.0 341.7 L427.3 342.8 L427.6 343.6 L427.9 342.0 L428.2 342.5 L428.5 343.9 L428.8 343.4 L429.1 344.3 L429.4 345.3 L429.7 345.3 L430.0 345.3 L430.3 342.6 L430.6 343.3 L430.9 342.6 L431.2 343.2 L431.5 342.9 L431.8 342.6 L432.1 343.3 L432.4 345.2 L432.7 343.1 L433.0 343.8 L433.3 341.3 L433.6 342.3 L433.9 343.2 L434.2 342.5 L434.5 343.1 L434.8 343.6 L435.1 341.4 L435.4 341.5 L435.7 341.7 L436.0 343.9 L436.3 341.2 L436.6 343.3 L436.9 339.4 L437.2 339.5 L437.5 337.1 L437.8 339.2 L438.1 340.4 L438.4 342.5 L438.7 339.9 L439.0 342.0 L439.3 339.3 L439.6 341.2 L439.9 338.8 L440.2 336.9 L440.5 338.9 L440.8 341.2 L441.1 345.3 L441.4 345.3 L441.7 345.3 L442.0 339.8 L442.3 341.2 L442.6 341.6 L442.9 340.1 L443.2 340.9 L443.5 340.1 L443.8 338.2 L444.1 341.5 L444.4 341.3 L444.7 340.6 L445.0 340.9 L445.3 343.8 L445.6 342.0 L445.9 343.2 L446.2 343.6 L446.5 343.3 L446.8 342.3 L447.1 342.9 L447.4 343.4 L447.7 342.3 L448.0 341.4 L448.3 341.6 L448.6 341.2 L448.9 342.5 L449.2 345.2 L449.5 340.0 L449.8 341.6 L450.1 343.0 L450.4 340.8 L450.7 338.9 L451.0 339.6 L451.3 339.3 L451.6 341.0 L451.9 341.7 L452.2 345.3 L452.5 345.3 L452.8 345.3 L453.1 342.5 L453.4 338.6 L453.7 338.6 L454.0 341.4 L454.3 342.0 L454.6 341.6 L454.9 340.2 L455.2 340.2 L455.5 341.4 L455.8 340.6 L456.1 342.3 L456.4 341.3 L456.7 338.6 L457.0 339.6 L457.3 341.3 L457.6 342.8 L457.9 339.7 L458.2 341.1 L458.5 342.6 L458.8 341.5 L459.1 340.8 L459.4 341.4 L459.7 343.7 L460.0 343.1 L460.3 340.7 L460.6 341.5 L460.9 338.2 L461.0 337.6 L461.2 340.2 L461.5 342.3 L461.8 340.9 L462.1 340.3 L462.4 342.8 L462.7 345.3 L463.0 345.2 L463.3 345.3 L463.6 340.5 L463.9 341.3 L464.2 340.4 L464.5 341.6 L464.8 342.6 L465.1 341.5 L465.4 343.5 L465.7 341.0 L466.0 345.2 L466.3 342.8 L466.6 342.5 L466.9 340.1 L467.2 343.2 L467.5 341.5 L467.8 340.8 L468.1 341.4 L468.4 341.6 L468.7 343.7 L469.0 340.3 L469.3 343.3 L469.6 342.2 L469.9 337.5 L470.0 334.8 L470.2 339.1 L470.5 343.9 L470.8 344.4 L471.1 344.4 L471.4 343.2 L471.7 343.9 L472.0 343.2 L472.3 343.2 L472.6 345.3 L472.9 345.3 L473.2 345.3 L473.5 345.2 L473.8 343.7 L474.1 342.2 L474.4 338.5 L474.7 342.5 L475.0 341.3 L475.3 340.6 L475.6 338.3 L475.9 341.9 L476.2 341.6 L476.5 342.2 L476.8 342.5 L477.1 343.1 L477.4 338.4 L477.7 340.7 L478.0 342.1 L478.3 341.3 L478.6 339.2 L478.9 343.5 L479.2 340.6 L479.5 341.6 L479.8 341.1 L480.1 345.2 L480.4 343.8 L480.7 341.2 L481.0 341.2 L481.3 340.7 L481.6 341.3 L481.9 345.3 L482.2 345.3 L482.5 345.3 L482.8 342.4 L483.1 341.9 L483.4 339.5 L483.7 341.6 L484.0 341.7 L484.3 339.1 L484.6 342.9 L484.9 341.6 L485.2 343.7 L485.5 341.6 L485.8 341.5 L486.1 342.8 L486.4 343.3 L486.7 340.8 L487.0 345.2 L487.3 343.0 L487.6 342.1 L487.9 340.9 L488.2 341.1 L488.5 343.6 L488.8 341.8 L489.1 341.6 L489.4 342.2 L489.7 342.1 L490.0 341.6 L490.3 345.3 L490.5 338.3 L490.6 345.3 L490.9 345.3 L491.2 341.9 L491.5 343.3 L491.8 344.0 L492.1 340.9 L492.4 343.3 L492.7 343.4 L493.0 342.6 L493.3 340.8 L493.6 343.4 L493.9 342.5 L494.2 343.0 L494.5 343.2 L494.8 342.6 L495.1 343.7 L495.4 342.6 L495.7 342.6 L496.0 338.6 L496.3 343.1 L496.6 340.2 L496.9 341.3 L497.2 343.1 L497.5 344.1 L497.8 343.0 L498.1 341.5 L498.4 343.7 L498.7 341.0 L499.0 343.0 L499.3 342.1 L499.6 345.3 L499.9 345.3 L500.2 345.3 L500.5 343.9 L500.8 343.4 L501.1 343.3 L501.4 342.3 L501.7 343.5 L502.0 343.3 L502.3 343.4 L502.6 341.9 L502.9 343.1 L503.2 342.5 L503.5 342.0 L503.8 343.7 L504.1 342.5 L504.4 342.8 L504.7 340.8 L505.0 336.4 L505.0 335.9 L505.3 341.1 L505.6 340.2 L505.9 341.8 L506.2 342.8 L506.5 342.1 L506.8 342.8 L507.1 339.0 L507.4 339.7 L507.7 343.0 L508.0 341.4 L508.3 343.8 L508.6 339.4 L508.9 335.9 L509.2 340.8 L509.5 337.1 L509.8 342.2 L510.1 340.3 L510.4 338.3 L510.7 340.4 L511.0 345.2 L511.3 342.2 L511.6 342.5 L511.9 338.6 L512.2 340.9" fill="none" stroke="#1c4a7c" stroke-width="0.85" stroke-linejoin="round"/>
<path d="M264.1 345.5 L264.1 341.7 L264.4 341.6 L264.7 339.8 L265.0 337.2 L265.3 345.2 L265.6 343.2 L265.9 341.7 L266.2 341.2 L266.5 342.4 L266.8 340.5 L267.1 343.4 L267.4 341.5 L267.7 342.7 L268.0 339.2 L268.3 343.2 L268.6 342.8 L268.9 340.7 L269.2 342.8 L269.5 343.1 L269.8 340.5 L270.1 342.4 L270.4 340.5 L270.7 342.3 L271.0 342.3 L271.3 340.8 L271.6 339.4 L271.9 337.3 L272.2 334.8 L272.5 331.5 L272.8 327.6 L273.1 345.2 L273.4 318.8 L273.7 313.1 L274.0 309.2 L274.3 309.2 L274.4 309.2 L274.6 323.0 L274.9 341.8 L275.2 341.2 L275.5 340.8 L275.8 341.7 L276.1 340.4 L276.4 341.2 L276.7 345.2 L277.0 341.3 L277.3 340.9 L277.6 342.6 L277.9 341.5 L278.2 342.4 L278.5 341.1 L278.8 341.9 L279.1 341.3 L279.4 342.3 L279.7 342.8 L280.0 342.4 L280.3 345.2 L280.6 341.4 L280.9 345.2 L281.2 342.5 L281.5 345.3 L281.8 345.3 L282.1 345.3 L282.4 342.8 L282.7 341.8 L283.0 337.3 L283.3 342.3 L283.6 342.2 L283.9 341.9 L284.2 340.5 L284.5 340.8 L284.8 341.0 L285.1 340.3 L285.4 338.2 L285.7 342.1 L286.0 342.6 L286.3 339.9 L286.6 342.4 L286.9 339.4 L287.2 339.6 L287.5 338.3 L287.8 339.8 L288.1 345.2 L288.4 339.8 L288.7 339.9 L289.0 340.3 L289.3 338.8 L289.6 340.0 L289.9 345.2 L290.2 341.6 L290.5 337.5 L290.8 341.6 L291.1 341.1 L291.4 342.3 L291.7 339.8 L292.0 340.6 L292.3 342.2 L292.6 338.8 L292.9 343.0 L293.2 342.6 L293.5 342.6 L293.8 342.7 L294.1 340.2 L294.4 343.6 L294.7 342.8 L295.0 339.2 L295.3 340.1 L295.6 341.7 L295.9 343.9 L296.2 342.0 L296.5 345.2 L296.8 341.0 L297.1 341.9 L297.4 345.3 L297.7 345.3 L298.0 345.3 L298.3 345.3 L298.6 339.0 L298.9 341.3 L299.2 339.5 L299.5 338.5 L299.8 335.9 L300.1 340.0 L300.4 341.9 L300.7 339.2 L301.0 337.4 L301.3 339.9 L301.6 341.6 L301.9 341.3 L302.2 342.0 L302.5 345.2 L302.8 343.7 L303.1 341.0 L303.4 336.9 L303.7 340.0 L304.0 340.0 L304.3 337.8 L304.6 343.1 L304.9 340.3 L305.2 341.1 L305.5 338.4 L305.8 339.2 L306.1 341.8 L306.4 340.2 L306.7 339.5 L307.0 343.5 L307.3 343.1 L307.6 341.5 L307.9 342.2 L308.2 340.5 L308.5 340.9 L308.8 341.2 L309.1 342.0 L309.4 341.1 L309.7 340.7 L310.0 341.0 L310.3 338.7 L310.6 340.0 L310.9 342.4 L311.2 338.2 L311.5 340.9 L311.8 338.3 L312.1 340.7 L312.4 340.2 L312.7 345.3 L313.0 345.3 L313.3 345.3 L313.6 340.3 L313.9 340.2 L314.2 342.5 L314.5 342.3 L314.8 341.2 L315.1 340.6 L315.4 338.8 L315.7 338.7 L316.0 338.1 L316.3 338.7 L316.6 339.4 L316.9 342.1 L317.2 342.8 L317.5 338.9 L317.8 345.2 L318.1 342.1 L318.4 339.9 L318.7 342.1 L319.0 339.3 L319.3 338.4 L319.6 345.2 L319.9 338.7 L320.2 341.0 L320.5 343.4 L320.8 339.0 L321.1 341.2 L321.4 339.8 L321.7 345.2 L322.0 338.5 L322.3 337.7 L322.6 339.5 L322.9 340.3 L323.2 341.4 L323.5 339.1 L323.8 341.7 L324.1 339.1 L324.4 345.2 L324.7 339.9 L325.0 343.6 L325.3 340.7 L325.6 341.8 L325.9 341.8 L326.2 339.6 L326.5 339.7 L326.8 340.3 L327.1 345.3 L327.4 345.3 L327.7 345.3 L328.0 345.2 L328.3 340.7 L328.6 339.6 L328.9 342.8 L329.2 339.4 L329.5 338.7 L329.8 342.1 L330.1 339.3 L330.4 339.3 L330.7 339.9 L331.0 340.6 L331.3 341.9 L331.6 339.6 L331.9 338.6 L332.2 341.0 L332.5 338.6 L332.8 343.2 L333.1 339.2 L333.4 340.5 L333.7 341.9 L334.0 340.4 L334.3 340.7 L334.6 337.7 L334.9 341.9 L335.2 340.5 L335.5 339.7 L335.8 339.4 L336.1 339.5 L336.4 339.2 L336.7 341.1 L337.0 340.9 L337.3 340.7 L337.6 341.9 L337.9 339.6 L338.2 340.1 L338.5 337.0 L338.8 338.7 L339.1 343.3 L339.4 345.2 L339.7 341.0 L340.0 340.0 L340.3 340.5 L340.6 341.8 L340.9 339.1 L341.2 345.3 L341.5 345.3 L341.8 345.3 L342.1 345.3 L342.4 343.6 L342.7 342.8 L343.0 343.1 L343.3 342.8 L343.6 341.7 L343.9 341.8 L344.2 343.3 L344.5 342.7 L344.8 338.5 L345.1 340.4 L345.4 341.1 L345.7 341.1 L346.0 340.9 L346.3 342.2 L346.6 339.7 L346.9 341.0 L347.2 343.4 L347.5 339.7 L347.8 341.5 L348.1 337.8 L348.4 341.0 L348.7 343.8 L349.0 342.7 L349.3 342.8 L349.6 340.3 L349.9 341.9 L350.2 342.1 L350.5 345.2 L350.8 340.7 L351.1 340.6 L351.4 343.4 L351.7 343.1 L352.0 345.2 L352.3 341.8 L352.6 342.6 L352.9 342.3 L353.2 343.6 L353.5 343.9 L353.8 343.4 L354.1 343.5 L354.4 345.2 L354.7 343.5 L355.0 345.3 L355.3 345.3 L355.6 345.3 L355.9 345.3 L356.2 343.8 L356.5 345.2 L356.8 343.1 L357.1 343.3 L357.4 343.8 L357.7 343.5 L358.0 345.2 L358.3 343.0 L358.6 343.2 L358.9 342.7 L359.2 343.3 L359.5 341.5 L359.8 343.2 L360.1 343.6 L360.4 343.5 L360.7 342.7 L361.0 343.5 L361.3 344.4 L361.6 345.2 L361.9 342.6 L362.2 343.8 L362.5 342.8 L362.8 341.8 L363.1 342.9 L363.4 341.0 L363.7 343.0 L364.0 342.6 L364.3 338.1 L364.6 330.6 L364.6 329.7 L364.9 338.0 L365.2 342.0 L365.5 342.8 L365.8 343.5 L366.1 343.0 L366.4 341.3 L366.7 344.0 L367.0 343.8 L367.3 342.9 L367.6 343.6 L367.9 342.7 L368.2 345.3 L368.5 345.3 L368.8 345.3 L369.1 342.9 L369.4 345.2 L369.7 343.0 L370.0 345.2 L370.3 342.3 L370.6 341.0 L370.9 341.0 L371.2 341.3 L371.5 343.4 L371.8 345.2 L372.1 343.1 L372.4 342.2 L372.7 344.1 L373.0 343.9 L373.3 342.7 L373.6 341.2 L373.9 343.3 L374.2 342.2 L374.5 344.2 L374.8 343.3 L375.1 344.5 L375.4 343.2 L375.7 343.2 L376.0 338.3 L376.3 345.2 L376.6 343.1 L376.9 341.2 L377.2 342.9 L377.5 343.1 L377.8 342.3 L378.1 343.9 L378.4 343.3 L378.7 342.5 L379.0 339.4 L379.3 343.4 L379.6 343.6 L379.9 343.9 L380.2 343.0 L380.5 345.3 L380.8 345.3 L381.1 345.3 L381.4 343.0 L381.7 340.4 L382.0 342.3 L382.3 341.6 L382.6 341.2 L382.9 341.8 L383.2 341.9 L383.5 341.9 L383.8 340.8 L384.1 341.4 L384.4 339.4 L384.7 342.7 L385.0 341.3 L385.3 342.2 L385.6 339.8 L385.9 340.6 L386.2 341.8 L386.5 341.6 L386.8 341.3 L387.1 340.6 L387.4 340.8 L387.7 340.8 L388.0 341.3 L388.3 343.0 L388.6 342.5 L388.9 342.4 L389.2 343.0 L389.5 342.4 L389.8 340.6 L390.1 340.3 L390.4 340.4 L390.7 342.4 L391.0 342.0 L391.3 339.2 L391.6 338.5 L391.9 340.1 L392.2 343.2 L392.5 340.5 L392.8 345.3 L393.1 345.3 L393.4 345.3 L393.7 341.4 L394.0 342.0 L394.3 342.2 L394.6 341.5 L394.9 345.2 L395.2 345.2 L395.5 339.9 L395.8 340.9 L396.1 340.2 L396.4 341.2 L396.7 340.5 L397.0 342.2 L397.3 339.8 L397.6 345.2 L397.9 339.2 L398.2 340.3 L398.5 345.2 L398.8 342.6 L399.1 340.7 L399.4 338.1 L399.7 340.4 L400.0 340.8 L400.3 345.2 L400.6 342.6 L400.9 340.2 L401.2 341.5 L401.5 345.2 L401.8 339.1 L402.1 341.6 L402.4 341.1 L402.7 343.3 L403.0 341.5 L403.3 337.5 L403.6 342.4 L403.9 345.2 L404.2 341.2 L404.5 341.0 L404.8 342.2 L405.1 345.3 L405.4 345.3 L405.7 345.3 L406.0 345.3 L406.3 344.1 L406.6 342.4 L406.9 339.4 L407.2 343.4 L407.5 342.7 L407.8 343.6 L408.1 343.1 L408.4 342.2 L408.7 341.5 L409.0 341.3 L409.3 343.3 L409.6 344.2 L409.9 342.9 L410.2 341.1 L410.5 340.8 L410.8 342.7 L411.1 344.0 L411.4 344.0 L411.7 343.2 L412.0 342.7 L412.3 343.0 L412.6 342.3 L412.9 344.5 L413.2 342.1 L413.5 343.7 L413.8 342.7 L414.1 342.8 L414.4 342.1 L414.7 342.5 L415.0 342.5 L415.3 342.0 L415.6 343.1 L415.9 339.2 L416.2 342.1 L416.5 341.2 L416.8 339.9 L417.1 341.5 L417.4 345.3 L417.7 345.3 L418.0 345.3 L418.3 339.6 L418.6 345.2 L418.9 340.1 L419.2 336.9 L419.5 342.7 L419.8 343.7 L420.1 341.2 L420.4 343.7 L420.7 342.0 L421.0 341.7 L421.3 342.8 L421.6 341.9 L421.9 343.0 L422.2 343.0 L422.5 343.0 L422.8 338.7 L423.0 335.1 L423.1 336.9 L423.4 341.2 L423.7 342.2 L424.0 343.4 L424.3 340.6 L424.6 341.9 L424.9 341.8 L425.2 342.7 L425.5 343.0 L425.8 342.8 L426.1 341.5 L426.4 343.6 L426.7 343.2 L427.0 341.7 L427.3 342.8 L427.6 343.6 L427.9 342.0 L428.2 342.5 L428.5 343.9 L428.8 343.4 L429.1 344.3 L429.4 345.3 L429.7 345.3 L430.0 345.3 L430.3 342.6 L430.6 343.3 L430.9 342.6 L431.2 343.2 L431.5 342.9 L431.8 342.6 L432.1 343.3 L432.4 345.2 L432.7 343.1 L433.0 343.8 L433.3 341.3 L433.6 342.3 L433.9 343.2 L434.2 342.5 L434.5 343.1 L434.8 343.6 L435.1 341.4 L435.4 341.5 L435.7 341.7 L436.0 343.9 L436.3 341.2 L436.6 343.3 L436.9 339.4 L437.2 339.5 L437.5 337.1 L437.8 339.2 L438.1 340.4 L438.4 342.5 L438.7 339.9 L439.0 342.0 L439.3 339.3 L439.6 341.2 L439.9 338.8 L440.2 336.9 L440.5 338.9 L440.8 341.2 L441.1 345.3 L441.4 345.3 L441.7 345.3 L442.0 339.8 L442.3 341.2 L442.6 341.6 L442.9 340.1 L443.2 340.9 L443.5 340.1 L443.8 338.2 L444.1 341.5 L444.4 341.3 L444.7 340.6 L445.0 340.9 L445.3 343.8 L445.6 342.0 L445.9 343.2 L446.2 343.6 L446.5 343.3 L446.8 342.3 L447.1 342.9 L447.4 343.4 L447.7 342.3 L448.0 341.4 L448.3 341.6 L448.6 341.2 L448.9 342.5 L449.2 345.2 L449.5 340.0 L449.8 341.6 L450.1 343.0 L450.4 340.8 L450.7 338.9 L451.0 339.6 L451.3 339.3 L451.6 341.0 L451.9 341.7 L452.2 345.3 L452.5 345.3 L452.8 345.3 L453.1 342.5 L453.4 338.6 L453.7 338.6 L454.0 341.4 L454.3 342.0 L454.6 341.6 L454.9 340.2 L455.2 340.2 L455.5 341.4 L455.8 340.6 L456.1 342.3 L456.4 341.3 L456.7 338.6 L457.0 339.6 L457.3 341.3 L457.6 342.8 L457.9 339.7 L458.2 341.1 L458.5 342.6 L458.8 341.5 L459.1 340.8 L459.4 341.4 L459.7 343.7 L460.0 343.1 L460.3 340.7 L460.6 341.5 L460.9 338.2 L461.0 337.6 L461.2 340.2 L461.5 342.3 L461.8 340.9 L462.1 340.3 L462.4 342.8 L462.7 345.3 L463.0 345.2 L463.3 345.3 L463.6 340.5 L463.9 341.3 L464.2 340.4 L464.5 341.6 L464.8 342.6 L465.1 341.5 L465.4 343.5 L465.7 341.0 L466.0 345.2 L466.3 342.8 L466.6 342.5 L466.9 340.1 L467.2 343.2 L467.5 341.5 L467.8 340.8 L468.1 341.4 L468.4 341.6 L468.7 343.7 L469.0 340.3 L469.3 343.3 L469.6 342.2 L469.9 337.5 L470.0 334.8 L470.2 339.1 L470.5 343.9 L470.8 344.4 L471.1 344.4 L471.4 343.2 L471.7 343.9 L472.0 343.2 L472.3 343.2 L472.6 345.3 L472.9 345.3 L473.2 345.3 L473.5 345.2 L473.8 343.7 L474.1 342.2 L474.4 338.5 L474.7 342.5 L475.0 341.3 L475.3 340.6 L475.6 338.3 L475.9 341.9 L476.2 341.6 L476.5 342.2 L476.8 342.5 L477.1 343.1 L477.4 338.4 L477.7 340.7 L478.0 342.1 L478.3 341.3 L478.6 339.2 L478.9 343.5 L479.2 340.6 L479.5 341.6 L479.8 341.1 L480.1 345.2 L480.4 343.8 L480.7 341.2 L481.0 341.2 L481.3 340.7 L481.6 341.3 L481.9 345.3 L482.2 345.3 L482.5 345.3 L482.8 342.4 L483.1 341.9 L483.4 339.5 L483.7 341.6 L484.0 341.7 L484.3 339.1 L484.6 342.9 L484.9 341.6 L485.2 343.7 L485.5 341.6 L485.8 341.5 L486.1 342.8 L486.4 343.3 L486.7 340.8 L487.0 345.2 L487.3 343.0 L487.6 342.1 L487.9 340.9 L488.2 341.1 L488.5 343.6 L488.8 341.8 L489.1 341.6 L489.4 342.2 L489.7 342.1 L490.0 341.6 L490.3 345.3 L490.5 338.3 L490.6 345.3 L490.9 345.3 L491.2 341.9 L491.5 343.3 L491.8 344.0 L492.1 340.9 L492.4 343.3 L492.7 343.4 L493.0 342.6 L493.3 340.8 L493.6 343.4 L493.9 342.5 L494.2 343.0 L494.5 343.2 L494.8 342.6 L495.1 343.7 L495.4 342.6 L495.7 342.6 L496.0 338.6 L496.3 343.1 L496.6 340.2 L496.9 341.3 L497.2 343.1 L497.5 344.1 L497.8 343.0 L498.1 341.5 L498.4 343.7 L498.7 341.0 L499.0 343.0 L499.3 342.1 L499.6 345.3 L499.9 345.3 L500.2 345.3 L500.5 343.9 L500.8 343.4 L501.1 343.3 L501.4 342.3 L501.7 343.5 L502.0 343.3 L502.3 343.4 L502.6 341.9 L502.9 343.1 L503.2 342.5 L503.5 342.0 L503.8 343.7 L504.1 342.5 L504.4 342.8 L504.7 340.8 L505.0 336.4 L505.0 335.9 L505.3 341.1 L505.6 340.2 L505.9 341.8 L506.2 342.8 L506.5 342.1 L506.8 342.8 L507.1 339.0 L507.4 339.7 L507.7 343.0 L508.0 341.4 L508.3 343.8 L508.6 339.4 L508.9 335.9 L509.2 340.8 L509.5 337.1 L509.8 342.2 L510.1 340.3 L510.4 338.3 L510.7 340.4 L511.0 345.2 L511.3 342.2 L511.6 342.5 L511.9 338.6 L512.2 340.9 L512.5 345.5 Z" fill="#1f4e80" fill-opacity="0.7" stroke="none"/>
<line x1="263.80" y1="332.84" x2="512.80" y2="332.84" stroke="#7a7a7a" stroke-width="0.6" stroke-dasharray="1.1 1"/>
<rect x="263.80" y="308.90" width="249.00" height="36.70" fill="none" stroke="#2a2a2a" stroke-width="0.9" />
<line x1="261.60" y1="345.50" x2="263.80" y2="345.50" stroke="#222" stroke-width="0.7" />
<text x="260.00" y="347.70" font-size="6.3" text-anchor="end" fill="#222" stroke="#222" stroke-width="0.15">0</text>
<line x1="261.60" y1="337.88" x2="263.80" y2="337.88" stroke="#222" stroke-width="0.7" />
<text x="260.00" y="340.07" font-size="6.3" text-anchor="end" fill="#222" stroke="#222" stroke-width="0.15">5</text>
<line x1="261.60" y1="330.25" x2="263.80" y2="330.25" stroke="#222" stroke-width="0.7" />
<text x="260.00" y="332.45" font-size="6.3" text-anchor="end" fill="#222" stroke="#222" stroke-width="0.15">10</text>
<line x1="261.60" y1="322.62" x2="263.80" y2="322.62" stroke="#222" stroke-width="0.7" />
<text x="260.00" y="324.82" font-size="6.3" text-anchor="end" fill="#222" stroke="#222" stroke-width="0.15">15</text>
<line x1="261.60" y1="315.00" x2="263.80" y2="315.00" stroke="#222" stroke-width="0.7" />
<text x="260.00" y="317.20" font-size="6.3" text-anchor="end" fill="#222" stroke="#222" stroke-width="0.15">20</text>
<line x1="273.60" y1="345.60" x2="273.60" y2="347.60" stroke="#222" stroke-width="0.7" />
<line x1="290.00" y1="345.60" x2="290.00" y2="347.60" stroke="#222" stroke-width="0.7" />
<line x1="305.70" y1="345.60" x2="305.70" y2="347.60" stroke="#222" stroke-width="0.7" />
<line x1="320.40" y1="345.60" x2="320.40" y2="347.60" stroke="#222" stroke-width="0.7" />
<line x1="334.80" y1="345.60" x2="334.80" y2="347.60" stroke="#222" stroke-width="0.7" />
<line x1="348.60" y1="345.60" x2="348.60" y2="347.60" stroke="#222" stroke-width="0.7" />
<line x1="362.40" y1="345.60" x2="362.40" y2="347.60" stroke="#222" stroke-width="0.7" />
<line x1="374.80" y1="345.60" x2="374.80" y2="347.60" stroke="#222" stroke-width="0.7" />
<line x1="387.00" y1="345.60" x2="387.00" y2="347.60" stroke="#222" stroke-width="0.7" />
<line x1="399.40" y1="345.60" x2="399.40" y2="347.60" stroke="#222" stroke-width="0.7" />
<line x1="411.70" y1="345.60" x2="411.70" y2="347.60" stroke="#222" stroke-width="0.7" />
<line x1="423.70" y1="345.60" x2="423.70" y2="347.60" stroke="#222" stroke-width="0.7" />
<line x1="435.60" y1="345.60" x2="435.60" y2="347.60" stroke="#222" stroke-width="0.7" />
<line x1="447.20" y1="345.60" x2="447.20" y2="347.60" stroke="#222" stroke-width="0.7" />
<line x1="458.00" y1="345.60" x2="458.00" y2="347.60" stroke="#222" stroke-width="0.7" />
<line x1="468.20" y1="345.60" x2="468.20" y2="347.60" stroke="#222" stroke-width="0.7" />
<line x1="478.00" y1="345.60" x2="478.00" y2="347.60" stroke="#222" stroke-width="0.7" />
<line x1="486.50" y1="345.60" x2="486.50" y2="347.60" stroke="#222" stroke-width="0.7" />
<line x1="494.80" y1="345.60" x2="494.80" y2="347.60" stroke="#222" stroke-width="0.7" />
<line x1="505.10" y1="345.60" x2="505.10" y2="347.60" stroke="#222" stroke-width="0.7" />
<text x="245.60" y="327.10" font-size="7.8" text-anchor="middle" fill="#1a1a1a" textLength="25.4" lengthAdjust="spacingAndGlyphs" transform="rotate(-90 245.60 327.10)" stroke="#1a1a1a" stroke-width="0.2">LOD score</text>
<text x="273.60" y="355.60" font-size="6.2" text-anchor="middle" fill="#222" stroke="#222" stroke-width="0.15">1</text>
<text x="290.00" y="355.60" font-size="6.2" text-anchor="middle" fill="#222" stroke="#222" stroke-width="0.15">2</text>
<text x="305.70" y="355.60" font-size="6.2" text-anchor="middle" fill="#222" stroke="#222" stroke-width="0.15">3</text>
<text x="320.40" y="355.60" font-size="6.2" text-anchor="middle" fill="#222" stroke="#222" stroke-width="0.15">4</text>
<text x="334.80" y="355.60" font-size="6.2" text-anchor="middle" fill="#222" stroke="#222" stroke-width="0.15">5</text>
<text x="348.60" y="355.60" font-size="6.2" text-anchor="middle" fill="#222" stroke="#222" stroke-width="0.15">6</text>
<text x="362.40" y="355.60" font-size="6.2" text-anchor="middle" fill="#222" stroke="#222" stroke-width="0.15">7</text>
<text x="374.80" y="355.60" font-size="6.2" text-anchor="middle" fill="#222" stroke="#222" stroke-width="0.15">8</text>
<text x="387.00" y="355.60" font-size="6.2" text-anchor="middle" fill="#222" stroke="#222" stroke-width="0.15">9</text>
<text x="399.40" y="355.60" font-size="6.2" text-anchor="middle" fill="#222" stroke="#222" stroke-width="0.15">10</text>
<text x="411.70" y="355.60" font-size="6.2" text-anchor="middle" fill="#222" stroke="#222" stroke-width="0.15">11</text>
<text x="423.70" y="355.60" font-size="6.2" text-anchor="middle" fill="#222" stroke="#222" stroke-width="0.15">12</text>
<text x="435.60" y="355.60" font-size="6.2" text-anchor="middle" fill="#222" stroke="#222" stroke-width="0.15">13</text>
<text x="447.20" y="355.60" font-size="6.2" text-anchor="middle" fill="#222" stroke="#222" stroke-width="0.15">14</text>
<text x="458.00" y="355.60" font-size="6.2" text-anchor="middle" fill="#222" stroke="#222" stroke-width="0.15">15</text>
<text x="468.20" y="355.60" font-size="6.2" text-anchor="middle" fill="#222" stroke="#222" stroke-width="0.15">16</text>
<text x="478.00" y="355.60" font-size="6.2" text-anchor="middle" fill="#222" stroke="#222" stroke-width="0.15">17</text>
<text x="486.50" y="355.60" font-size="6.2" text-anchor="middle" fill="#222" stroke="#222" stroke-width="0.15">18</text>
<text x="494.80" y="355.60" font-size="6.2" text-anchor="middle" fill="#222" stroke="#222" stroke-width="0.15">19</text>
<text x="505.10" y="355.60" font-size="6.2" text-anchor="middle" fill="#222" stroke="#222" stroke-width="0.15">X</text>
<text x="391.20" y="366.90" font-size="8" text-anchor="middle" fill="#111" textLength="32.3" lengthAdjust="spacingAndGlyphs" stroke="#111" stroke-width="0.35">Chromosome</text>
<line x1="275.40" y1="308.60" x2="296.20" y2="311.50" stroke="#555" stroke-width="0.4" />
<text x="296.80" y="314.30" font-size="4.9" text-anchor="start" fill="#4a6a8a" font-style="italic" textLength="16" lengthAdjust="spacingAndGlyphs" >Steap3</text>
<line x1="381.50" y1="331.50" x2="389.00" y2="327.80" stroke="#555" stroke-width="0.4" />
<text x="389.30" y="329.00" font-size="4.9" text-anchor="start" fill="#4a6a8a" font-style="italic" textLength="10.5" lengthAdjust="spacingAndGlyphs" >Hbb</text>
<text x="242.00" y="380.60" font-size="9.4" text-anchor="start" fill="#000" font-weight="bold" >I</text>
<text x="391.30" y="380.30" font-size="6.3" text-anchor="middle" fill="#1a1a1a" textLength="35.4" lengthAdjust="spacingAndGlyphs" stroke="#1a1a1a" stroke-width="0.15">15(S)-HpETE</text>
<rect x="263.80" y="383.60" width="18.00" height="37.00" fill="#dedede" stroke="none" stroke-width="0.5" />
<rect x="281.80" y="383.60" width="16.05" height="37.00" fill="#efe9e7" stroke="none" stroke-width="0.5" />
<rect x="297.85" y="383.60" width="15.20" height="37.00" fill="#dedede" stroke="none" stroke-width="0.5" />
<rect x="313.05" y="383.60" width="14.55" height="37.00" fill="#efe9e7" stroke="none" stroke-width="0.5" />
<rect x="327.60" y="383.60" width="14.10" height="37.00" fill="#dedede" stroke="none" stroke-width="0.5" />
<rect x="341.70" y="383.60" width="13.80" height="37.00" fill="#efe9e7" stroke="none" stroke-width="0.5" />
<rect x="355.50" y="383.60" width="13.10" height="37.00" fill="#dedede" stroke="none" stroke-width="0.5" />
<rect x="368.60" y="383.60" width="12.30" height="37.00" fill="#efe9e7" stroke="none" stroke-width="0.5" />
<rect x="380.90" y="383.60" width="12.30" height="37.00" fill="#dedede" stroke="none" stroke-width="0.5" />
<rect x="393.20" y="383.60" width="12.35" height="37.00" fill="#efe9e7" stroke="none" stroke-width="0.5" />
<rect x="405.55" y="383.60" width="12.15" height="37.00" fill="#dedede" stroke="none" stroke-width="0.5" />
<rect x="417.70" y="383.60" width="11.95" height="37.00" fill="#efe9e7" stroke="none" stroke-width="0.5" />
<rect x="429.65" y="383.60" width="11.75" height="37.00" fill="#dedede" stroke="none" stroke-width="0.5" />
<rect x="441.40" y="383.60" width="11.20" height="37.00" fill="#efe9e7" stroke="none" stroke-width="0.5" />
<rect x="452.60" y="383.60" width="10.50" height="37.00" fill="#dedede" stroke="none" stroke-width="0.5" />
<rect x="463.10" y="383.60" width="10.00" height="37.00" fill="#efe9e7" stroke="none" stroke-width="0.5" />
<rect x="473.10" y="383.60" width="9.15" height="37.00" fill="#dedede" stroke="none" stroke-width="0.5" />
<rect x="482.25" y="383.60" width="8.40" height="37.00" fill="#efe9e7" stroke="none" stroke-width="0.5" />
<rect x="490.65" y="383.60" width="9.30" height="37.00" fill="#dedede" stroke="none" stroke-width="0.5" />
<rect x="499.95" y="383.60" width="12.85" height="37.00" fill="#efe9e7" stroke="none" stroke-width="0.5" />
<line x1="263.80" y1="420.50" x2="512.80" y2="420.50" stroke="#f4f4f4" stroke-width="0.4" />
<line x1="263.80" y1="407.85" x2="512.80" y2="407.85" stroke="#f4f4f4" stroke-width="0.4" />
<line x1="263.80" y1="395.20" x2="512.80" y2="395.20" stroke="#f4f4f4" stroke-width="0.4" />
<path d="M264.1 420.5 L264.1 411.1 L264.4 413.6 L264.7 414.2 L265.0 417.4 L265.3 413.9 L265.6 413.8 L265.9 414.1 L266.2 412.2 L266.5 411.9 L266.8 415.2 L267.1 420.0 L267.4 412.2 L267.7 414.3 L268.0 409.9 L268.3 414.1 L268.6 409.2 L268.9 408.7 L269.2 409.9 L269.5 408.9 L269.8 411.1 L270.1 406.8 L270.4 413.4 L270.7 411.2 L271.0 407.2 L271.3 406.7 L271.6 407.3 L271.9 409.4 L272.2 404.6 L272.5 420.0 L272.8 404.0 L273.1 401.2 L273.4 395.1 L273.7 388.5 L274.0 383.9 L274.3 383.9 L274.4 383.9 L274.6 396.7 L274.9 416.1 L275.2 415.8 L275.5 412.9 L275.8 413.8 L276.1 411.0 L276.4 407.5 L276.7 409.1 L277.0 411.6 L277.3 410.1 L277.6 414.1 L277.9 413.7 L278.2 413.7 L278.5 415.0 L278.8 416.2 L279.1 415.6 L279.4 416.2 L279.7 416.9 L280.0 412.1 L280.3 414.5 L280.6 413.7 L280.9 413.1 L281.2 410.0 L281.5 420.1 L281.8 420.1 L282.1 420.1 L282.4 410.8 L282.7 408.8 L283.0 413.0 L283.3 413.8 L283.6 412.0 L283.9 413.1 L284.2 409.1 L284.5 410.3 L284.8 411.8 L285.1 411.7 L285.4 411.7 L285.7 411.1 L286.0 408.9 L286.3 411.1 L286.6 414.5 L286.9 420.0 L287.2 408.9 L287.5 404.4 L287.8 409.9 L288.1 414.3 L288.4 406.7 L288.7 409.9 L289.0 410.0 L289.3 409.0 L289.6 406.6 L289.9 407.5 L290.2 410.1 L290.5 406.7 L290.8 411.8 L291.1 420.0 L291.4 408.1 L291.7 411.6 L292.0 416.3 L292.3 411.8 L292.6 413.0 L292.9 411.7 L293.2 420.0 L293.5 411.0 L293.8 410.4 L294.1 410.2 L294.4 411.4 L294.7 410.4 L295.0 409.9 L295.3 412.8 L295.6 412.8 L295.9 410.4 L296.2 410.4 L296.5 413.2 L296.8 410.1 L297.0 408.4 L297.1 409.6 L297.4 420.1 L297.7 420.1 L298.0 420.1 L298.3 420.1 L298.6 409.8 L298.9 410.5 L299.2 409.3 L299.5 412.6 L299.8 412.1 L300.1 408.9 L300.4 409.3 L300.7 413.5 L301.0 411.8 L301.3 410.4 L301.6 414.0 L301.9 410.7 L302.2 415.1 L302.5 413.3 L302.8 420.0 L303.1 415.7 L303.4 414.5 L303.7 418.2 L304.0 413.2 L304.3 420.0 L304.6 413.4 L304.9 419.0 L305.2 418.4 L305.5 415.1 L305.8 410.5 L306.1 415.6 L306.4 413.9 L306.7 417.3 L307.0 413.0 L307.3 414.8 L307.6 417.8 L307.9 411.9 L308.2 415.9 L308.5 416.1 L308.8 417.3 L309.1 415.7 L309.4 420.0 L309.7 416.3 L310.0 416.9 L310.3 416.0 L310.6 415.0 L310.9 416.9 L311.2 416.6 L311.5 414.2 L311.8 415.7 L312.1 420.0 L312.4 414.1 L312.7 420.1 L313.0 420.1 L313.3 420.1 L313.6 416.6 L313.9 415.8 L314.2 416.1 L314.5 415.9 L314.8 416.4 L315.1 414.1 L315.4 417.0 L315.7 415.7 L316.0 417.2 L316.3 417.8 L316.6 418.2 L316.9 418.9 L317.2 415.6 L317.5 413.9 L317.8 416.4 L318.1 417.3 L318.4 415.8 L318.7 415.4 L319.0 417.1 L319.3 415.9 L319.6 416.3 L319.9 415.6 L320.2 417.7 L320.5 416.2 L320.8 416.6 L321.1 417.0 L321.4 414.1 L321.7 411.3 L322.0 406.6 L322.0 406.0 L322.3 411.5 L322.6 415.3 L322.9 417.0 L323.2 418.3 L323.5 417.5 L323.8 413.8 L324.1 413.0 L324.4 414.7 L324.7 416.9 L325.0 411.8 L325.3 416.3 L325.6 417.5 L325.9 417.7 L326.2 415.5 L326.5 415.7 L326.8 417.1 L327.1 420.1 L327.4 420.1 L327.7 420.1 L328.0 420.0 L328.3 412.7 L328.6 418.5 L328.9 420.0 L329.2 414.2 L329.5 415.2 L329.8 414.7 L330.1 418.6 L330.4 415.5 L330.7 416.7 L331.0 415.6 L331.3 417.6 L331.6 415.3 L331.9 416.7 L332.2 410.6 L332.5 416.6 L332.8 412.9 L333.1 409.1 L333.4 411.4 L333.7 407.5 L334.0 405.8 L334.0 404.9 L334.3 408.4 L334.6 411.5 L334.9 412.7 L335.2 414.5 L335.5 416.5 L335.8 418.3 L336.1 415.6 L336.4 412.4 L336.7 416.4 L337.0 417.1 L337.3 416.0 L337.6 418.6 L337.9 415.7 L338.2 417.5 L338.5 419.1 L338.8 417.9 L339.1 416.3 L339.4 416.5 L339.7 417.6 L340.0 415.4 L340.3 415.8 L340.6 414.8 L340.9 420.0 L341.2 420.1 L341.5 420.1 L341.8 420.1 L342.1 420.1 L342.4 411.0 L342.7 416.2 L343.0 410.3 L343.3 417.8 L343.6 415.9 L343.9 416.6 L344.2 416.8 L344.5 411.3 L344.8 414.6 L345.1 410.7 L345.4 413.9 L345.7 412.1 L346.0 412.6 L346.3 410.0 L346.6 413.2 L346.9 414.4 L347.2 413.5 L347.5 414.1 L347.8 409.9 L348.0 407.9 L348.1 408.9 L348.4 412.9 L348.7 412.0 L349.0 416.0 L349.3 413.4 L349.6 410.6 L349.9 412.5 L350.2 410.5 L350.5 412.1 L350.8 412.8 L351.1 409.9 L351.4 409.3 L351.7 410.7 L352.0 409.3 L352.3 420.0 L352.6 410.1 L352.9 411.7 L353.2 413.8 L353.5 408.6 L353.8 413.3 L354.1 410.6 L354.4 420.0 L354.7 410.6 L355.0 420.1 L355.3 420.1 L355.6 420.1 L355.9 420.1 L356.2 411.0 L356.5 409.0 L356.8 420.0 L357.1 412.5 L357.4 410.9 L357.7 412.2 L358.0 406.9 L358.3 412.8 L358.6 409.8 L358.9 413.2 L359.2 412.9 L359.5 411.5 L359.8 408.7 L360.1 409.9 L360.4 416.0 L360.7 410.9 L361.0 409.9 L361.3 407.9 L361.6 420.0 L361.9 409.3 L362.2 408.9 L362.5 409.3 L362.8 412.4 L363.1 410.9 L363.4 411.2 L363.7 412.8 L364.0 415.4 L364.3 415.2 L364.6 414.8 L364.9 415.5 L365.2 420.0 L365.5 412.9 L365.8 412.5 L366.1 412.1 L366.4 410.4 L366.7 416.7 L367.0 415.4 L367.3 414.7 L367.6 410.6 L367.9 420.0 L368.2 420.1 L368.5 420.1 L368.8 420.1 L369.1 410.2 L369.4 410.5 L369.7 411.5 L370.0 414.2 L370.3 412.1 L370.6 404.5 L370.9 409.5 L371.2 408.8 L371.5 411.2 L371.8 412.3 L372.1 410.6 L372.4 408.5 L372.7 413.8 L373.0 411.0 L373.3 409.6 L373.6 413.8 L373.9 411.5 L374.2 412.6 L374.5 420.0 L374.8 413.2 L375.1 414.6 L375.4 411.2 L375.7 407.9 L376.0 411.8 L376.3 411.5 L376.6 410.3 L376.9 410.9 L377.2 412.6 L377.5 413.2 L377.8 409.2 L378.1 407.5 L378.4 409.7 L378.7 412.3 L379.0 407.9 L379.3 411.0 L379.6 406.8 L379.9 409.2 L380.2 415.2 L380.5 420.1 L380.8 420.1 L381.1 420.1 L381.4 420.0 L381.7 412.2 L382.0 413.9 L382.3 410.7 L382.6 411.6 L382.9 420.0 L383.2 406.7 L383.5 413.9 L383.8 412.0 L384.1 410.0 L384.4 417.0 L384.7 412.9 L385.0 409.0 L385.3 413.6 L385.6 412.0 L385.9 417.3 L386.2 420.0 L386.5 412.9 L386.8 420.0 L387.1 415.2 L387.4 415.8 L387.7 414.1 L388.0 413.7 L388.3 412.1 L388.6 415.1 L388.9 412.5 L389.2 413.0 L389.5 411.3 L389.8 420.0 L390.1 407.9 L390.4 415.5 L390.7 415.5 L391.0 420.0 L391.3 415.1 L391.6 414.5 L391.9 414.0 L392.2 417.3 L392.5 413.0 L392.8 420.1 L393.1 420.1 L393.4 420.1 L393.7 415.5 L394.0 417.1 L394.3 415.2 L394.6 405.1 L394.9 411.0 L395.2 413.4 L395.5 416.8 L395.8 414.5 L396.1 414.0 L396.4 415.0 L396.7 414.8 L397.0 414.7 L397.3 411.9 L397.6 417.3 L397.9 416.7 L398.2 412.7 L398.5 415.4 L398.8 407.1 L399.1 414.2 L399.4 415.6 L399.7 411.2 L400.0 412.7 L400.3 412.4 L400.6 417.7 L400.9 415.6 L401.2 416.7 L401.5 414.8 L401.8 415.6 L402.1 417.9 L402.4 416.8 L402.7 415.3 L403.0 415.1 L403.3 415.1 L403.6 414.3 L403.9 416.7 L404.2 418.2 L404.5 415.1 L404.8 418.4 L405.1 420.1 L405.4 420.1 L405.7 420.1 L406.0 420.1 L406.3 417.1 L406.6 416.1 L406.9 416.7 L407.2 418.1 L407.5 412.8 L407.8 420.0 L408.1 415.9 L408.4 416.2 L408.7 414.2 L409.0 412.0 L409.3 411.5 L409.6 414.8 L409.9 416.2 L410.2 412.3 L410.5 415.4 L410.8 412.6 L411.1 418.1 L411.4 416.0 L411.7 411.6 L412.0 410.0 L412.3 418.3 L412.6 414.7 L412.9 416.5 L413.2 417.3 L413.5 415.0 L413.8 415.5 L414.1 415.3 L414.4 417.1 L414.7 418.4 L415.0 416.1 L415.3 418.3 L415.6 416.5 L415.9 417.8 L416.2 416.2 L416.5 416.6 L416.8 416.3 L417.1 416.1 L417.4 420.1 L417.7 420.1 L418.0 420.1 L418.3 415.8 L418.6 413.8 L418.9 418.8 L419.2 416.5 L419.5 417.1 L419.8 412.0 L420.1 417.5 L420.4 417.6 L420.7 416.3 L421.0 416.5 L421.3 416.8 L421.6 417.4 L421.9 416.5 L422.2 414.0 L422.5 418.0 L422.8 416.7 L423.1 415.3 L423.4 415.6 L423.7 416.6 L424.0 416.7 L424.3 415.8 L424.6 418.7 L424.9 414.6 L425.2 409.5 L425.5 412.2 L425.8 415.8 L426.1 413.2 L426.4 413.4 L426.7 409.5 L427.0 414.5 L427.3 415.2 L427.6 416.4 L427.9 416.9 L428.2 418.2 L428.5 416.1 L428.8 416.1 L429.1 416.8 L429.4 420.1 L429.7 420.1 L430.0 420.1 L430.3 415.3 L430.6 413.5 L430.9 412.1 L431.2 412.0 L431.5 411.0 L431.8 410.6 L432.1 409.7 L432.4 412.7 L432.7 420.0 L433.0 412.8 L433.3 412.8 L433.6 414.2 L433.9 409.7 L434.2 411.9 L434.5 410.6 L434.8 411.7 L435.1 412.1 L435.4 410.4 L435.7 413.3 L436.0 409.0 L436.3 420.0 L436.6 411.2 L436.9 414.1 L437.2 409.7 L437.5 412.4 L437.8 409.0 L438.1 412.5 L438.4 407.2 L438.7 413.5 L439.0 410.1 L439.3 414.0 L439.6 410.6 L439.9 410.9 L440.2 410.5 L440.5 409.8 L440.8 412.6 L441.1 420.1 L441.4 420.1 L441.7 420.1 L442.0 416.1 L442.3 406.3 L442.6 408.8 L442.9 420.0 L443.2 411.4 L443.5 409.2 L443.8 412.6 L444.1 415.6 L444.4 408.8 L444.7 414.3 L445.0 415.5 L445.3 403.0 L445.6 408.4 L445.9 407.2 L446.2 390.7 L446.4 383.9 L446.5 388.6 L446.8 411.4 L447.1 406.8 L447.4 420.0 L447.7 409.8 L448.0 420.0 L448.3 410.4 L448.6 407.5 L448.9 408.2 L449.2 409.1 L449.5 406.9 L449.8 416.4 L450.1 415.1 L450.4 407.5 L450.7 408.0 L451.0 405.1 L451.3 420.0 L451.6 412.6 L451.9 410.1 L452.2 420.0 L452.5 420.0 L452.8 420.1 L453.1 414.3 L453.4 411.3 L453.7 414.0 L454.0 414.0 L454.3 413.8 L454.6 412.2 L454.9 411.6 L455.2 415.4 L455.5 412.2 L455.8 408.4 L456.1 407.0 L456.4 408.3 L456.7 413.0 L457.0 407.2 L457.3 412.4 L457.6 409.1 L457.9 413.6 L458.2 408.0 L458.5 408.5 L458.8 410.5 L459.1 411.1 L459.4 404.5 L459.7 407.4 L460.0 407.7 L460.3 408.4 L460.6 410.0 L460.9 410.6 L461.2 407.9 L461.5 408.7 L461.8 410.5 L462.1 415.3 L462.4 415.7 L462.7 420.1 L463.0 420.1 L463.3 420.1 L463.6 410.3 L463.9 420.0 L464.2 411.6 L464.5 413.9 L464.8 411.0 L465.1 414.3 L465.4 408.3 L465.7 409.9 L466.0 414.4 L466.3 411.4 L466.6 413.2 L466.9 411.4 L467.2 410.8 L467.5 413.2 L467.8 410.8 L468.1 415.7 L468.4 415.6 L468.7 407.2 L469.0 409.5 L469.3 415.0 L469.6 406.7 L469.9 420.0 L470.2 408.9 L470.5 413.7 L470.8 408.2 L471.1 407.5 L471.4 407.1 L471.7 408.1 L472.0 409.1 L472.3 410.7 L472.6 420.1 L472.9 420.1 L473.2 420.1 L473.5 420.1 L473.8 408.9 L474.1 413.7 L474.4 412.5 L474.7 417.2 L475.0 410.4 L475.3 410.1 L475.6 420.0 L475.9 414.6 L476.2 404.3 L476.5 407.3 L476.8 415.1 L477.1 416.2 L477.4 415.2 L477.7 412.4 L478.0 410.2 L478.3 415.5 L478.6 412.3 L478.9 407.2 L479.0 406.6 L479.2 409.8 L479.5 413.8 L479.8 411.5 L480.1 408.4 L480.4 418.1 L480.7 410.5 L481.0 415.2 L481.3 408.8 L481.6 420.0 L481.9 420.1 L482.2 420.0 L482.5 420.1 L482.8 415.9 L483.1 418.5 L483.4 414.6 L483.7 415.1 L484.0 411.5 L484.3 415.6 L484.6 415.7 L484.9 417.6 L485.2 415.9 L485.5 420.0 L485.8 417.5 L486.1 415.0 L486.4 414.2 L486.7 416.6 L487.0 415.9 L487.3 417.0 L487.6 420.0 L487.9 414.9 L488.2 415.4 L488.5 412.6 L488.8 415.2 L489.1 415.3 L489.4 415.0 L489.7 415.8 L490.0 416.5 L490.3 420.1 L490.6 420.1 L490.9 420.1 L491.2 417.0 L491.5 415.5 L491.8 417.7 L492.1 417.2 L492.4 416.8 L492.7 415.1 L493.0 418.3 L493.3 414.3 L493.6 413.1 L493.9 420.0 L494.2 417.6 L494.5 417.1 L494.8 416.8 L495.1 415.8 L495.4 414.3 L495.7 417.4 L496.0 416.1 L496.3 415.7 L496.6 415.9 L496.9 416.8 L497.2 417.9 L497.5 417.6 L497.8 417.6 L498.1 415.6 L498.4 413.8 L498.7 415.9 L499.0 414.6 L499.3 415.8 L499.6 420.1 L499.9 420.1 L500.2 420.1 L500.5 416.0 L500.8 414.3 L501.1 416.3 L501.4 418.3 L501.7 418.3 L502.0 415.5 L502.3 418.1 L502.6 417.0 L502.9 415.2 L503.2 412.1 L503.5 415.3 L503.8 415.3 L504.1 414.8 L504.4 414.0 L504.7 417.0 L505.0 415.2 L505.3 416.4 L505.6 415.6 L505.9 413.5 L506.2 415.7 L506.5 415.7 L506.8 409.8 L507.1 416.9 L507.4 417.2 L507.7 415.3 L508.0 412.1 L508.3 415.8 L508.6 415.3 L508.9 414.3 L509.2 415.9 L509.5 413.9 L509.8 413.1 L510.1 416.2 L510.4 417.3 L510.7 416.3 L511.0 414.9 L511.3 411.9 L511.6 415.0 L511.9 404.4 L512.2 408.4 L512.5 420.5 Z" fill="#8dbde6" stroke="none"/>
<path d="M264.1 411.1 L264.1 411.1 L264.4 413.6 L264.7 414.2 L265.0 417.4 L265.3 413.9 L265.6 413.8 L265.9 414.1 L266.2 412.2 L266.5 411.9 L266.8 415.2 L267.1 420.0 L267.4 412.2 L267.7 414.3 L268.0 409.9 L268.3 414.1 L268.6 409.2 L268.9 408.7 L269.2 409.9 L269.5 408.9 L269.8 411.1 L270.1 406.8 L270.4 413.4 L270.7 411.2 L271.0 407.2 L271.3 406.7 L271.6 407.3 L271.9 409.4 L272.2 404.6 L272.5 420.0 L272.8 404.0 L273.1 401.2 L273.4 395.1 L273.7 388.5 L274.0 383.9 L274.3 383.9 L274.4 383.9 L274.6 396.7 L274.9 416.1 L275.2 415.8 L275.5 412.9 L275.8 413.8 L276.1 411.0 L276.4 407.5 L276.7 409.1 L277.0 411.6 L277.3 410.1 L277.6 414.1 L277.9 413.7 L278.2 413.7 L278.5 415.0 L278.8 416.2 L279.1 415.6 L279.4 416.2 L279.7 416.9 L280.0 412.1 L280.3 414.5 L280.6 413.7 L280.9 413.1 L281.2 410.0 L281.5 420.1 L281.8 420.1 L282.1 420.1 L282.4 410.8 L282.7 408.8 L283.0 413.0 L283.3 413.8 L283.6 412.0 L283.9 413.1 L284.2 409.1 L284.5 410.3 L284.8 411.8 L285.1 411.7 L285.4 411.7 L285.7 411.1 L286.0 408.9 L286.3 411.1 L286.6 414.5 L286.9 420.0 L287.2 408.9 L287.5 404.4 L287.8 409.9 L288.1 414.3 L288.4 406.7 L288.7 409.9 L289.0 410.0 L289.3 409.0 L289.6 406.6 L289.9 407.5 L290.2 410.1 L290.5 406.7 L290.8 411.8 L291.1 420.0 L291.4 408.1 L291.7 411.6 L292.0 416.3 L292.3 411.8 L292.6 413.0 L292.9 411.7 L293.2 420.0 L293.5 411.0 L293.8 410.4 L294.1 410.2 L294.4 411.4 L294.7 410.4 L295.0 409.9 L295.3 412.8 L295.6 412.8 L295.9 410.4 L296.2 410.4 L296.5 413.2 L296.8 410.1 L297.0 408.4 L297.1 409.6 L297.4 420.1 L297.7 420.1 L298.0 420.1 L298.3 420.1 L298.6 409.8 L298.9 410.5 L299.2 409.3 L299.5 412.6 L299.8 412.1 L300.1 408.9 L300.4 409.3 L300.7 413.5 L301.0 411.8 L301.3 410.4 L301.6 414.0 L301.9 410.7 L302.2 415.1 L302.5 413.3 L302.8 420.0 L303.1 415.7 L303.4 414.5 L303.7 418.2 L304.0 413.2 L304.3 420.0 L304.6 413.4 L304.9 419.0 L305.2 418.4 L305.5 415.1 L305.8 410.5 L306.1 415.6 L306.4 413.9 L306.7 417.3 L307.0 413.0 L307.3 414.8 L307.6 417.8 L307.9 411.9 L308.2 415.9 L308.5 416.1 L308.8 417.3 L309.1 415.7 L309.4 420.0 L309.7 416.3 L310.0 416.9 L310.3 416.0 L310.6 415.0 L310.9 416.9 L311.2 416.6 L311.5 414.2 L311.8 415.7 L312.1 420.0 L312.4 414.1 L312.7 420.1 L313.0 420.1 L313.3 420.1 L313.6 416.6 L313.9 415.8 L314.2 416.1 L314.5 415.9 L314.8 416.4 L315.1 414.1 L315.4 417.0 L315.7 415.7 L316.0 417.2 L316.3 417.8 L316.6 418.2 L316.9 418.9 L317.2 415.6 L317.5 413.9 L317.8 416.4 L318.1 417.3 L318.4 415.8 L318.7 415.4 L319.0 417.1 L319.3 415.9 L319.6 416.3 L319.9 415.6 L320.2 417.7 L320.5 416.2 L320.8 416.6 L321.1 417.0 L321.4 414.1 L321.7 411.3 L322.0 406.6 L322.0 406.0 L322.3 411.5 L322.6 415.3 L322.9 417.0 L323.2 418.3 L323.5 417.5 L323.8 413.8 L324.1 413.0 L324.4 414.7 L324.7 416.9 L325.0 411.8 L325.3 416.3 L325.6 417.5 L325.9 417.7 L326.2 415.5 L326.5 415.7 L326.8 417.1 L327.1 420.1 L327.4 420.1 L327.7 420.1 L328.0 420.0 L328.3 412.7 L328.6 418.5 L328.9 420.0 L329.2 414.2 L329.5 415.2 L329.8 414.7 L330.1 418.6 L330.4 415.5 L330.7 416.7 L331.0 415.6 L331.3 417.6 L331.6 415.3 L331.9 416.7 L332.2 410.6 L332.5 416.6 L332.8 412.9 L333.1 409.1 L333.4 411.4 L333.7 407.5 L334.0 405.8 L334.0 404.9 L334.3 408.4 L334.6 411.5 L334.9 412.7 L335.2 414.5 L335.5 416.5 L335.8 418.3 L336.1 415.6 L336.4 412.4 L336.7 416.4 L337.0 417.1 L337.3 416.0 L337.6 418.6 L337.9 415.7 L338.2 417.5 L338.5 419.1 L338.8 417.9 L339.1 416.3 L339.4 416.5 L339.7 417.6 L340.0 415.4 L340.3 415.8 L340.6 414.8 L340.9 420.0 L341.2 420.1 L341.5 420.1 L341.8 420.1 L342.1 420.1 L342.4 411.0 L342.7 416.2 L343.0 410.3 L343.3 417.8 L343.6 415.9 L343.9 416.6 L344.2 416.8 L344.5 411.3 L344.8 414.6 L345.1 410.7 L345.4 413.9 L345.7 412.1 L346.0 412.6 L346.3 410.0 L346.6 413.2 L346.9 414.4 L347.2 413.5 L347.5 414.1 L347.8 409.9 L348.0 407.9 L348.1 408.9 L348.4 412.9 L348.7 412.0 L349.0 416.0 L349.3 413.4 L349.6 410.6 L349.9 412.5 L350.2 410.5 L350.5 412.1 L350.8 412.8 L351.1 409.9 L351.4 409.3 L351.7 410.7 L352.0 409.3 L352.3 420.0 L352.6 410.1 L352.9 411.7 L353.2 413.8 L353.5 408.6 L353.8 413.3 L354.1 410.6 L354.4 420.0 L354.7 410.6 L355.0 420.1 L355.3 420.1 L355.6 420.1 L355.9 420.1 L356.2 411.0 L356.5 409.0 L356.8 420.0 L357.1 412.5 L357.4 410.9 L357.7 412.2 L358.0 406.9 L358.3 412.8 L358.6 409.8 L358.9 413.2 L359.2 412.9 L359.5 411.5 L359.8 408.7 L360.1 409.9 L360.4 416.0 L360.7 410.9 L361.0 409.9 L361.3 407.9 L361.6 420.0 L361.9 409.3 L362.2 408.9 L362.5 409.3 L362.8 412.4 L363.1 410.9 L363.4 411.2 L363.7 412.8 L364.0 415.4 L364.3 415.2 L364.6 414.8 L364.9 415.5 L365.2 420.0 L365.5 412.9 L365.8 412.5 L366.1 412.1 L366.4 410.4 L366.7 416.7 L367.0 415.4 L367.3 414.7 L367.6 410.6 L367.9 420.0 L368.2 420.1 L368.5 420.1 L368.8 420.1 L369.1 410.2 L369.4 410.5 L369.7 411.5 L370.0 414.2 L370.3 412.1 L370.6 404.5 L370.9 409.5 L371.2 408.8 L371.5 411.2 L371.8 412.3 L372.1 410.6 L372.4 408.5 L372.7 413.8 L373.0 411.0 L373.3 409.6 L373.6 413.8 L373.9 411.5 L374.2 412.6 L374.5 420.0 L374.8 413.2 L375.1 414.6 L375.4 411.2 L375.7 407.9 L376.0 411.8 L376.3 411.5 L376.6 410.3 L376.9 410.9 L377.2 412.6 L377.5 413.2 L377.8 409.2 L378.1 407.5 L378.4 409.7 L378.7 412.3 L379.0 407.9 L379.3 411.0 L379.6 406.8 L379.9 409.2 L380.2 415.2 L380.5 420.1 L380.8 420.1 L381.1 420.1 L381.4 420.0 L381.7 412.2 L382.0 413.9 L382.3 410.7 L382.6 411.6 L382.9 420.0 L383.2 406.7 L383.5 413.9 L383.8 412.0 L384.1 410.0 L384.4 417.0 L384.7 412.9 L385.0 409.0 L385.3 413.6 L385.6 412.0 L385.9 417.3 L386.2 420.0 L386.5 412.9 L386.8 420.0 L387.1 415.2 L387.4 415.8 L387.7 414.1 L388.0 413.7 L388.3 412.1 L388.6 415.1 L388.9 412.5 L389.2 413.0 L389.5 411.3 L389.8 420.0 L390.1 407.9 L390.4 415.5 L390.7 415.5 L391.0 420.0 L391.3 415.1 L391.6 414.5 L391.9 414.0 L392.2 417.3 L392.5 413.0 L392.8 420.1 L393.1 420.1 L393.4 420.1 L393.7 415.5 L394.0 417.1 L394.3 415.2 L394.6 405.1 L394.9 411.0 L395.2 413.4 L395.5 416.8 L395.8 414.5 L396.1 414.0 L396.4 415.0 L396.7 414.8 L397.0 414.7 L397.3 411.9 L397.6 417.3 L397.9 416.7 L398.2 412.7 L398.5 415.4 L398.8 407.1 L399.1 414.2 L399.4 415.6 L399.7 411.2 L400.0 412.7 L400.3 412.4 L400.6 417.7 L400.9 415.6 L401.2 416.7 L401.5 414.8 L401.8 415.6 L402.1 417.9 L402.4 416.8 L402.7 415.3 L403.0 415.1 L403.3 415.1 L403.6 414.3 L403.9 416.7 L404.2 418.2 L404.5 415.1 L404.8 418.4 L405.1 420.1 L405.4 420.1 L405.7 420.1 L406.0 420.1 L406.3 417.1 L406.6 416.1 L406.9 416.7 L407.2 418.1 L407.5 412.8 L407.8 420.0 L408.1 415.9 L408.4 416.2 L408.7 414.2 L409.0 412.0 L409.3 411.5 L409.6 414.8 L409.9 416.2 L410.2 412.3 L410.5 415.4 L410.8 412.6 L411.1 418.1 L411.4 416.0 L411.7 411.6 L412.0 410.0 L412.3 418.3 L412.6 414.7 L412.9 416.5 L413.2 417.3 L413.5 415.0 L413.8 415.5 L414.1 415.3 L414.4 417.1 L414.7 418.4 L415.0 416.1 L415.3 418.3 L415.6 416.5 L415.9 417.8 L416.2 416.2 L416.5 416.6 L416.8 416.3 L417.1 416.1 L417.4 420.1 L417.7 420.1 L418.0 420.1 L418.3 415.8 L418.6 413.8 L418.9 418.8 L419.2 416.5 L419.5 417.1 L419.8 412.0 L420.1 417.5 L420.4 417.6 L420.7 416.3 L421.0 416.5 L421.3 416.8 L421.6 417.4 L421.9 416.5 L422.2 414.0 L422.5 418.0 L422.8 416.7 L423.1 415.3 L423.4 415.6 L423.7 416.6 L424.0 416.7 L424.3 415.8 L424.6 418.7 L424.9 414.6 L425.2 409.5 L425.5 412.2 L425.8 415.8 L426.1 413.2 L426.4 413.4 L426.7 409.5 L427.0 414.5 L427.3 415.2 L427.6 416.4 L427.9 416.9 L428.2 418.2 L428.5 416.1 L428.8 416.1 L429.1 416.8 L429.4 420.1 L429.7 420.1 L430.0 420.1 L430.3 415.3 L430.6 413.5 L430.9 412.1 L431.2 412.0 L431.5 411.0 L431.8 410.6 L432.1 409.7 L432.4 412.7 L432.7 420.0 L433.0 412.8 L433.3 412.8 L433.6 414.2 L433.9 409.7 L434.2 411.9 L434.5 410.6 L434.8 411.7 L435.1 412.1 L435.4 410.4 L435.7 413.3 L436.0 409.0 L436.3 420.0 L436.6 411.2 L436.9 414.1 L437.2 409.7 L437.5 412.4 L437.8 409.0 L438.1 412.5 L438.4 407.2 L438.7 413.5 L439.0 410.1 L439.3 414.0 L439.6 410.6 L439.9 410.9 L440.2 410.5 L440.5 409.8 L440.8 412.6 L441.1 420.1 L441.4 420.1 L441.7 420.1 L442.0 416.1 L442.3 406.3 L442.6 408.8 L442.9 420.0 L443.2 411.4 L443.5 409.2 L443.8 412.6 L444.1 415.6 L444.4 408.8 L444.7 414.3 L445.0 415.5 L445.3 403.0 L445.6 408.4 L445.9 407.2 L446.2 390.7 L446.4 383.9 L446.5 388.6 L446.8 411.4 L447.1 406.8 L447.4 420.0 L447.7 409.8 L448.0 420.0 L448.3 410.4 L448.6 407.5 L448.9 408.2 L449.2 409.1 L449.5 406.9 L449.8 416.4 L450.1 415.1 L450.4 407.5 L450.7 408.0 L451.0 405.1 L451.3 420.0 L451.6 412.6 L451.9 410.1 L452.2 420.0 L452.5 420.0 L452.8 420.1 L453.1 414.3 L453.4 411.3 L453.7 414.0 L454.0 414.0 L454.3 413.8 L454.6 412.2 L454.9 411.6 L455.2 415.4 L455.5 412.2 L455.8 408.4 L456.1 407.0 L456.4 408.3 L456.7 413.0 L457.0 407.2 L457.3 412.4 L457.6 409.1 L457.9 413.6 L458.2 408.0 L458.5 408.5 L458.8 410.5 L459.1 411.1 L459.4 404.5 L459.7 407.4 L460.0 407.7 L460.3 408.4 L460.6 410.0 L460.9 410.6 L461.2 407.9 L461.5 408.7 L461.8 410.5 L462.1 415.3 L462.4 415.7 L462.7 420.1 L463.0 420.1 L463.3 420.1 L463.6 410.3 L463.9 420.0 L464.2 411.6 L464.5 413.9 L464.8 411.0 L465.1 414.3 L465.4 408.3 L465.7 409.9 L466.0 414.4 L466.3 411.4 L466.6 413.2 L466.9 411.4 L467.2 410.8 L467.5 413.2 L467.8 410.8 L468.1 415.7 L468.4 415.6 L468.7 407.2 L469.0 409.5 L469.3 415.0 L469.6 406.7 L469.9 420.0 L470.2 408.9 L470.5 413.7 L470.8 408.2 L471.1 407.5 L471.4 407.1 L471.7 408.1 L472.0 409.1 L472.3 410.7 L472.6 420.1 L472.9 420.1 L473.2 420.1 L473.5 420.1 L473.8 408.9 L474.1 413.7 L474.4 412.5 L474.7 417.2 L475.0 410.4 L475.3 410.1 L475.6 420.0 L475.9 414.6 L476.2 404.3 L476.5 407.3 L476.8 415.1 L477.1 416.2 L477.4 415.2 L477.7 412.4 L478.0 410.2 L478.3 415.5 L478.6 412.3 L478.9 407.2 L479.0 406.6 L479.2 409.8 L479.5 413.8 L479.8 411.5 L480.1 408.4 L480.4 418.1 L480.7 410.5 L481.0 415.2 L481.3 408.8 L481.6 420.0 L481.9 420.1 L482.2 420.0 L482.5 420.1 L482.8 415.9 L483.1 418.5 L483.4 414.6 L483.7 415.1 L484.0 411.5 L484.3 415.6 L484.6 415.7 L484.9 417.6 L485.2 415.9 L485.5 420.0 L485.8 417.5 L486.1 415.0 L486.4 414.2 L486.7 416.6 L487.0 415.9 L487.3 417.0 L487.6 420.0 L487.9 414.9 L488.2 415.4 L488.5 412.6 L488.8 415.2 L489.1 415.3 L489.4 415.0 L489.7 415.8 L490.0 416.5 L490.3 420.1 L490.6 420.1 L490.9 420.1 L491.2 417.0 L491.5 415.5 L491.8 417.7 L492.1 417.2 L492.4 416.8 L492.7 415.1 L493.0 418.3 L493.3 414.3 L493.6 413.1 L493.9 420.0 L494.2 417.6 L494.5 417.1 L494.8 416.8 L495.1 415.8 L495.4 414.3 L495.7 417.4 L496.0 416.1 L496.3 415.7 L496.6 415.9 L496.9 416.8 L497.2 417.9 L497.5 417.6 L497.8 417.6 L498.1 415.6 L498.4 413.8 L498.7 415.9 L499.0 414.6 L499.3 415.8 L499.6 420.1 L499.9 420.1 L500.2 420.1 L500.5 416.0 L500.8 414.3 L501.1 416.3 L501.4 418.3 L501.7 418.3 L502.0 415.5 L502.3 418.1 L502.6 417.0 L502.9 415.2 L503.2 412.1 L503.5 415.3 L503.8 415.3 L504.1 414.8 L504.4 414.0 L504.7 417.0 L505.0 415.2 L505.3 416.4 L505.6 415.6 L505.9 413.5 L506.2 415.7 L506.5 415.7 L506.8 409.8 L507.1 416.9 L507.4 417.2 L507.7 415.3 L508.0 412.1 L508.3 415.8 L508.6 415.3 L508.9 414.3 L509.2 415.9 L509.5 413.9 L509.8 413.1 L510.1 416.2 L510.4 417.3 L510.7 416.3 L511.0 414.9 L511.3 411.9 L511.6 415.0 L511.9 404.4 L512.2 408.4" fill="none" stroke="#1c4a7c" stroke-width="0.85" stroke-linejoin="round"/>
<path d="M264.1 420.5 L264.1 411.1 L264.4 413.6 L264.7 414.2 L265.0 417.4 L265.3 413.9 L265.6 413.8 L265.9 414.1 L266.2 412.2 L266.5 411.9 L266.8 415.2 L267.1 420.0 L267.4 412.2 L267.7 414.3 L268.0 409.9 L268.3 414.1 L268.6 409.2 L268.9 408.7 L269.2 409.9 L269.5 408.9 L269.8 411.1 L270.1 406.8 L270.4 413.4 L270.7 411.2 L271.0 407.2 L271.3 406.7 L271.6 407.3 L271.9 409.4 L272.2 404.6 L272.5 420.0 L272.8 404.0 L273.1 401.2 L273.4 395.1 L273.7 388.5 L274.0 383.9 L274.3 383.9 L274.4 383.9 L274.6 396.7 L274.9 416.1 L275.2 415.8 L275.5 412.9 L275.8 413.8 L276.1 411.0 L276.4 407.5 L276.7 409.1 L277.0 411.6 L277.3 410.1 L277.6 414.1 L277.9 413.7 L278.2 413.7 L278.5 415.0 L278.8 416.2 L279.1 415.6 L279.4 416.2 L279.7 416.9 L280.0 412.1 L280.3 414.5 L280.6 413.7 L280.9 413.1 L281.2 410.0 L281.5 420.1 L281.8 420.1 L282.1 420.1 L282.4 410.8 L282.7 408.8 L283.0 413.0 L283.3 413.8 L283.6 412.0 L283.9 413.1 L284.2 409.1 L284.5 410.3 L284.8 411.8 L285.1 411.7 L285.4 411.7 L285.7 411.1 L286.0 408.9 L286.3 411.1 L286.6 414.5 L286.9 420.0 L287.2 408.9 L287.5 404.4 L287.8 409.9 L288.1 414.3 L288.4 406.7 L288.7 409.9 L289.0 410.0 L289.3 409.0 L289.6 406.6 L289.9 407.5 L290.2 410.1 L290.5 406.7 L290.8 411.8 L291.1 420.0 L291.4 408.1 L291.7 411.6 L292.0 416.3 L292.3 411.8 L292.6 413.0 L292.9 411.7 L293.2 420.0 L293.5 411.0 L293.8 410.4 L294.1 410.2 L294.4 411.4 L294.7 410.4 L295.0 409.9 L295.3 412.8 L295.6 412.8 L295.9 410.4 L296.2 410.4 L296.5 413.2 L296.8 410.1 L297.0 408.4 L297.1 409.6 L297.4 420.1 L297.7 420.1 L298.0 420.1 L298.3 420.1 L298.6 409.8 L298.9 410.5 L299.2 409.3 L299.5 412.6 L299.8 412.1 L300.1 408.9 L300.4 409.3 L300.7 413.5 L301.0 411.8 L301.3 410.4 L301.6 414.0 L301.9 410.7 L302.2 415.1 L302.5 413.3 L302.8 420.0 L303.1 415.7 L303.4 414.5 L303.7 418.2 L304.0 413.2 L304.3 420.0 L304.6 413.4 L304.9 419.0 L305.2 418.4 L305.5 415.1 L305.8 410.5 L306.1 415.6 L306.4 413.9 L306.7 417.3 L307.0 413.0 L307.3 414.8 L307.6 417.8 L307.9 411.9 L308.2 415.9 L308.5 416.1 L308.8 417.3 L309.1 415.7 L309.4 420.0 L309.7 416.3 L310.0 416.9 L310.3 416.0 L310.6 415.0 L310.9 416.9 L311.2 416.6 L311.5 414.2 L311.8 415.7 L312.1 420.0 L312.4 414.1 L312.7 420.1 L313.0 420.1 L313.3 420.1 L313.6 416.6 L313.9 415.8 L314.2 416.1 L314.5 415.9 L314.8 416.4 L315.1 414.1 L315.4 417.0 L315.7 415.7 L316.0 417.2 L316.3 417.8 L316.6 418.2 L316.9 418.9 L317.2 415.6 L317.5 413.9 L317.8 416.4 L318.1 417.3 L318.4 415.8 L318.7 415.4 L319.0 417.1 L319.3 415.9 L319.6 416.3 L319.9 415.6 L320.2 417.7 L320.5 416.2 L320.8 416.6 L321.1 417.0 L321.4 414.1 L321.7 411.3 L322.0 406.6 L322.0 406.0 L322.3 411.5 L322.6 415.3 L322.9 417.0 L323.2 418.3 L323.5 417.5 L323.8 413.8 L324.1 413.0 L324.4 414.7 L324.7 416.9 L325.0 411.8 L325.3 416.3 L325.6 417.5 L325.9 417.7 L326.2 415.5 L326.5 415.7 L326.8 417.1 L327.1 420.1 L327.4 420.1 L327.7 420.1 L328.0 420.0 L328.3 412.7 L328.6 418.5 L328.9 420.0 L329.2 414.2 L329.5 415.2 L329.8 414.7 L330.1 418.6 L330.4 415.5 L330.7 416.7 L331.0 415.6 L331.3 417.6 L331.6 415.3 L331.9 416.7 L332.2 410.6 L332.5 416.6 L332.8 412.9 L333.1 409.1 L333.4 411.4 L333.7 407.5 L334.0 405.8 L334.0 404.9 L334.3 408.4 L334.6 411.5 L334.9 412.7 L335.2 414.5 L335.5 416.5 L335.8 418.3 L336.1 415.6 L336.4 412.4 L336.7 416.4 L337.0 417.1 L337.3 416.0 L337.6 418.6 L337.9 415.7 L338.2 417.5 L338.5 419.1 L338.8 417.9 L339.1 416.3 L339.4 416.5 L339.7 417.6 L340.0 415.4 L340.3 415.8 L340.6 414.8 L340.9 420.0 L341.2 420.1 L341.5 420.1 L341.8 420.1 L342.1 420.1 L342.4 411.0 L342.7 416.2 L343.0 410.3 L343.3 417.8 L343.6 415.9 L343.9 416.6 L344.2 416.8 L344.5 411.3 L344.8 414.6 L345.1 410.7 L345.4 413.9 L345.7 412.1 L346.0 412.6 L346.3 410.0 L346.6 413.2 L346.9 414.4 L347.2 413.5 L347.5 414.1 L347.8 409.9 L348.0 407.9 L348.1 408.9 L348.4 412.9 L348.7 412.0 L349.0 416.0 L349.3 413.4 L349.6 410.6 L349.9 412.5 L350.2 410.5 L350.5 412.1 L350.8 412.8 L351.1 409.9 L351.4 409.3 L351.7 410.7 L352.0 409.3 L352.3 420.0 L352.6 410.1 L352.9 411.7 L353.2 413.8 L353.5 408.6 L353.8 413.3 L354.1 410.6 L354.4 420.0 L354.7 410.6 L355.0 420.1 L355.3 420.1 L355.6 420.1 L355.9 420.1 L356.2 411.0 L356.5 409.0 L356.8 420.0 L357.1 412.5 L357.4 410.9 L357.7 412.2 L358.0 406.9 L358.3 412.8 L358.6 409.8 L358.9 413.2 L359.2 412.9 L359.5 411.5 L359.8 408.7 L360.1 409.9 L360.4 416.0 L360.7 410.9 L361.0 409.9 L361.3 407.9 L361.6 420.0 L361.9 409.3 L362.2 408.9 L362.5 409.3 L362.8 412.4 L363.1 410.9 L363.4 411.2 L363.7 412.8 L364.0 415.4 L364.3 415.2 L364.6 414.8 L364.9 415.5 L365.2 420.0 L365.5 412.9 L365.8 412.5 L366.1 412.1 L366.4 410.4 L366.7 416.7 L367.0 415.4 L367.3 414.7 L367.6 410.6 L367.9 420.0 L368.2 420.1 L368.5 420.1 L368.8 420.1 L369.1 410.2 L369.4 410.5 L369.7 411.5 L370.0 414.2 L370.3 412.1 L370.6 404.5 L370.9 409.5 L371.2 408.8 L371.5 411.2 L371.8 412.3 L372.1 410.6 L372.4 408.5 L372.7 413.8 L373.0 411.0 L373.3 409.6 L373.6 413.8 L373.9 411.5 L374.2 412.6 L374.5 420.0 L374.8 413.2 L375.1 414.6 L375.4 411.2 L375.7 407.9 L376.0 411.8 L376.3 411.5 L376.6 410.3 L376.9 410.9 L377.2 412.6 L377.5 413.2 L377.8 409.2 L378.1 407.5 L378.4 409.7 L378.7 412.3 L379.0 407.9 L379.3 411.0 L379.6 406.8 L379.9 409.2 L380.2 415.2 L380.5 420.1 L380.8 420.1 L381.1 420.1 L381.4 420.0 L381.7 412.2 L382.0 413.9 L382.3 410.7 L382.6 411.6 L382.9 420.0 L383.2 406.7 L383.5 413.9 L383.8 412.0 L384.1 410.0 L384.4 417.0 L384.7 412.9 L385.0 409.0 L385.3 413.6 L385.6 412.0 L385.9 417.3 L386.2 420.0 L386.5 412.9 L386.8 420.0 L387.1 415.2 L387.4 415.8 L387.7 414.1 L388.0 413.7 L388.3 412.1 L388.6 415.1 L388.9 412.5 L389.2 413.0 L389.5 411.3 L389.8 420.0 L390.1 407.9 L390.4 415.5 L390.7 415.5 L391.0 420.0 L391.3 415.1 L391.6 414.5 L391.9 414.0 L392.2 417.3 L392.5 413.0 L392.8 420.1 L393.1 420.1 L393.4 420.1 L393.7 415.5 L394.0 417.1 L394.3 415.2 L394.6 405.1 L394.9 411.0 L395.2 413.4 L395.5 416.8 L395.8 414.5 L396.1 414.0 L396.4 415.0 L396.7 414.8 L397.0 414.7 L397.3 411.9 L397.6 417.3 L397.9 416.7 L398.2 412.7 L398.5 415.4 L398.8 407.1 L399.1 414.2 L399.4 415.6 L399.7 411.2 L400.0 412.7 L400.3 412.4 L400.6 417.7 L400.9 415.6 L401.2 416.7 L401.5 414.8 L401.8 415.6 L402.1 417.9 L402.4 416.8 L402.7 415.3 L403.0 415.1 L403.3 415.1 L403.6 414.3 L403.9 416.7 L404.2 418.2 L404.5 415.1 L404.8 418.4 L405.1 420.1 L405.4 420.1 L405.7 420.1 L406.0 420.1 L406.3 417.1 L406.6 416.1 L406.9 416.7 L407.2 418.1 L407.5 412.8 L407.8 420.0 L408.1 415.9 L408.4 416.2 L408.7 414.2 L409.0 412.0 L409.3 411.5 L409.6 414.8 L409.9 416.2 L410.2 412.3 L410.5 415.4 L410.8 412.6 L411.1 418.1 L411.4 416.0 L411.7 411.6 L412.0 410.0 L412.3 418.3 L412.6 414.7 L412.9 416.5 L413.2 417.3 L413.5 415.0 L413.8 415.5 L414.1 415.3 L414.4 417.1 L414.7 418.4 L415.0 416.1 L415.3 418.3 L415.6 416.5 L415.9 417.8 L416.2 416.2 L416.5 416.6 L416.8 416.3 L417.1 416.1 L417.4 420.1 L417.7 420.1 L418.0 420.1 L418.3 415.8 L418.6 413.8 L418.9 418.8 L419.2 416.5 L419.5 417.1 L419.8 412.0 L420.1 417.5 L420.4 417.6 L420.7 416.3 L421.0 416.5 L421.3 416.8 L421.6 417.4 L421.9 416.5 L422.2 414.0 L422.5 418.0 L422.8 416.7 L423.1 415.3 L423.4 415.6 L423.7 416.6 L424.0 416.7 L424.3 415.8 L424.6 418.7 L424.9 414.6 L425.2 409.5 L425.5 412.2 L425.8 415.8 L426.1 413.2 L426.4 413.4 L426.7 409.5 L427.0 414.5 L427.3 415.2 L427.6 416.4 L427.9 416.9 L428.2 418.2 L428.5 416.1 L428.8 416.1 L429.1 416.8 L429.4 420.1 L429.7 420.1 L430.0 420.1 L430.3 415.3 L430.6 413.5 L430.9 412.1 L431.2 412.0 L431.5 411.0 L431.8 410.6 L432.1 409.7 L432.4 412.7 L432.7 420.0 L433.0 412.8 L433.3 412.8 L433.6 414.2 L433.9 409.7 L434.2 411.9 L434.5 410.6 L434.8 411.7 L435.1 412.1 L435.4 410.4 L435.7 413.3 L436.0 409.0 L436.3 420.0 L436.6 411.2 L436.9 414.1 L437.2 409.7 L437.5 412.4 L437.8 409.0 L438.1 412.5 L438.4 407.2 L438.7 413.5 L439.0 410.1 L439.3 414.0 L439.6 410.6 L439.9 410.9 L440.2 410.5 L440.5 409.8 L440.8 412.6 L441.1 420.1 L441.4 420.1 L441.7 420.1 L442.0 416.1 L442.3 406.3 L442.6 408.8 L442.9 420.0 L443.2 411.4 L443.5 409.2 L443.8 412.6 L444.1 415.6 L444.4 408.8 L444.7 414.3 L445.0 415.5 L445.3 403.0 L445.6 408.4 L445.9 407.2 L446.2 390.7 L446.4 383.9 L446.5 388.6 L446.8 411.4 L447.1 406.8 L447.4 420.0 L447.7 409.8 L448.0 420.0 L448.3 410.4 L448.6 407.5 L448.9 408.2 L449.2 409.1 L449.5 406.9 L449.8 416.4 L450.1 415.1 L450.4 407.5 L450.7 408.0 L451.0 405.1 L451.3 420.0 L451.6 412.6 L451.9 410.1 L452.2 420.0 L452.5 420.0 L452.8 420.1 L453.1 414.3 L453.4 411.3 L453.7 414.0 L454.0 414.0 L454.3 413.8 L454.6 412.2 L454.9 411.6 L455.2 415.4 L455.5 412.2 L455.8 408.4 L456.1 407.0 L456.4 408.3 L456.7 413.0 L457.0 407.2 L457.3 412.4 L457.6 409.1 L457.9 413.6 L458.2 408.0 L458.5 408.5 L458.8 410.5 L459.1 411.1 L459.4 404.5 L459.7 407.4 L460.0 407.7 L460.3 408.4 L460.6 410.0 L460.9 410.6 L461.2 407.9 L461.5 408.7 L461.8 410.5 L462.1 415.3 L462.4 415.7 L462.7 420.1 L463.0 420.1 L463.3 420.1 L463.6 410.3 L463.9 420.0 L464.2 411.6 L464.5 413.9 L464.8 411.0 L465.1 414.3 L465.4 408.3 L465.7 409.9 L466.0 414.4 L466.3 411.4 L466.6 413.2 L466.9 411.4 L467.2 410.8 L467.5 413.2 L467.8 410.8 L468.1 415.7 L468.4 415.6 L468.7 407.2 L469.0 409.5 L469.3 415.0 L469.6 406.7 L469.9 420.0 L470.2 408.9 L470.5 413.7 L470.8 408.2 L471.1 407.5 L471.4 407.1 L471.7 408.1 L472.0 409.1 L472.3 410.7 L472.6 420.1 L472.9 420.1 L473.2 420.1 L473.5 420.1 L473.8 408.9 L474.1 413.7 L474.4 412.5 L474.7 417.2 L475.0 410.4 L475.3 410.1 L475.6 420.0 L475.9 414.6 L476.2 404.3 L476.5 407.3 L476.8 415.1 L477.1 416.2 L477.4 415.2 L477.7 412.4 L478.0 410.2 L478.3 415.5 L478.6 412.3 L478.9 407.2 L479.0 406.6 L479.2 409.8 L479.5 413.8 L479.8 411.5 L480.1 408.4 L480.4 418.1 L480.7 410.5 L481.0 415.2 L481.3 408.8 L481.6 420.0 L481.9 420.1 L482.2 420.0 L482.5 420.1 L482.8 415.9 L483.1 418.5 L483.4 414.6 L483.7 415.1 L484.0 411.5 L484.3 415.6 L484.6 415.7 L484.9 417.6 L485.2 415.9 L485.5 420.0 L485.8 417.5 L486.1 415.0 L486.4 414.2 L486.7 416.6 L487.0 415.9 L487.3 417.0 L487.6 420.0 L487.9 414.9 L488.2 415.4 L488.5 412.6 L488.8 415.2 L489.1 415.3 L489.4 415.0 L489.7 415.8 L490.0 416.5 L490.3 420.1 L490.6 420.1 L490.9 420.1 L491.2 417.0 L491.5 415.5 L491.8 417.7 L492.1 417.2 L492.4 416.8 L492.7 415.1 L493.0 418.3 L493.3 414.3 L493.6 413.1 L493.9 420.0 L494.2 417.6 L494.5 417.1 L494.8 416.8 L495.1 415.8 L495.4 414.3 L495.7 417.4 L496.0 416.1 L496.3 415.7 L496.6 415.9 L496.9 416.8 L497.2 417.9 L497.5 417.6 L497.8 417.6 L498.1 415.6 L498.4 413.8 L498.7 415.9 L499.0 414.6 L499.3 415.8 L499.6 420.1 L499.9 420.1 L500.2 420.1 L500.5 416.0 L500.8 414.3 L501.1 416.3 L501.4 418.3 L501.7 418.3 L502.0 415.5 L502.3 418.1 L502.6 417.0 L502.9 415.2 L503.2 412.1 L503.5 415.3 L503.8 415.3 L504.1 414.8 L504.4 414.0 L504.7 417.0 L505.0 415.2 L505.3 416.4 L505.6 415.6 L505.9 413.5 L506.2 415.7 L506.5 415.7 L506.8 409.8 L507.1 416.9 L507.4 417.2 L507.7 415.3 L508.0 412.1 L508.3 415.8 L508.6 415.3 L508.9 414.3 L509.2 415.9 L509.5 413.9 L509.8 413.1 L510.1 416.2 L510.4 417.3 L510.7 416.3 L511.0 414.9 L511.3 411.9 L511.6 415.0 L511.9 404.4 L512.2 408.4 L512.5 420.5 Z" fill="#1f4e80" fill-opacity="0.7" stroke="none"/>
<line x1="263.80" y1="399.50" x2="512.80" y2="399.50" stroke="#7a7a7a" stroke-width="0.6" stroke-dasharray="1.1 1"/>
<rect x="263.80" y="383.60" width="249.00" height="37.00" fill="none" stroke="#2a2a2a" stroke-width="0.9" />
<line x1="261.60" y1="420.50" x2="263.80" y2="420.50" stroke="#222" stroke-width="0.7" />
<text x="260.00" y="422.70" font-size="6.3" text-anchor="end" fill="#222" stroke="#222" stroke-width="0.15">0</text>
<line x1="261.60" y1="407.85" x2="263.80" y2="407.85" stroke="#222" stroke-width="0.7" />
<text x="260.00" y="410.05" font-size="6.3" text-anchor="end" fill="#222" stroke="#222" stroke-width="0.15">5</text>
<line x1="261.60" y1="395.20" x2="263.80" y2="395.20" stroke="#222" stroke-width="0.7" />
<text x="260.00" y="397.40" font-size="6.3" text-anchor="end" fill="#222" stroke="#222" stroke-width="0.15">10</text>
<line x1="273.60" y1="420.60" x2="273.60" y2="422.60" stroke="#222" stroke-width="0.7" />
<line x1="290.00" y1="420.60" x2="290.00" y2="422.60" stroke="#222" stroke-width="0.7" />
<line x1="305.70" y1="420.60" x2="305.70" y2="422.60" stroke="#222" stroke-width="0.7" />
<line x1="320.40" y1="420.60" x2="320.40" y2="422.60" stroke="#222" stroke-width="0.7" />
<line x1="334.80" y1="420.60" x2="334.80" y2="422.60" stroke="#222" stroke-width="0.7" />
<line x1="348.60" y1="420.60" x2="348.60" y2="422.60" stroke="#222" stroke-width="0.7" />
<line x1="362.40" y1="420.60" x2="362.40" y2="422.60" stroke="#222" stroke-width="0.7" />
<line x1="374.80" y1="420.60" x2="374.80" y2="422.60" stroke="#222" stroke-width="0.7" />
<line x1="387.00" y1="420.60" x2="387.00" y2="422.60" stroke="#222" stroke-width="0.7" />
<line x1="399.40" y1="420.60" x2="399.40" y2="422.60" stroke="#222" stroke-width="0.7" />
<line x1="411.70" y1="420.60" x2="411.70" y2="422.60" stroke="#222" stroke-width="0.7" />
<line x1="423.70" y1="420.60" x2="423.70" y2="422.60" stroke="#222" stroke-width="0.7" />
<line x1="435.60" y1="420.60" x2="435.60" y2="422.60" stroke="#222" stroke-width="0.7" />
<line x1="447.20" y1="420.60" x2="447.20" y2="422.60" stroke="#222" stroke-width="0.7" />
<line x1="458.00" y1="420.60" x2="458.00" y2="422.60" stroke="#222" stroke-width="0.7" />
<line x1="468.20" y1="420.60" x2="468.20" y2="422.60" stroke="#222" stroke-width="0.7" />
<line x1="478.00" y1="420.60" x2="478.00" y2="422.60" stroke="#222" stroke-width="0.7" />
<line x1="486.50" y1="420.60" x2="486.50" y2="422.60" stroke="#222" stroke-width="0.7" />
<line x1="494.80" y1="420.60" x2="494.80" y2="422.60" stroke="#222" stroke-width="0.7" />
<line x1="505.10" y1="420.60" x2="505.10" y2="422.60" stroke="#222" stroke-width="0.7" />
<text x="245.60" y="401.90" font-size="7.8" text-anchor="middle" fill="#1a1a1a" textLength="26.5" lengthAdjust="spacingAndGlyphs" transform="rotate(-90 245.60 401.90)" stroke="#1a1a1a" stroke-width="0.2">LOD score</text>
<text x="273.60" y="430.30" font-size="6.2" text-anchor="middle" fill="#222" stroke="#222" stroke-width="0.15">1</text>
<text x="290.00" y="430.30" font-size="6.2" text-anchor="middle" fill="#222" stroke="#222" stroke-width="0.15">2</text>
<text x="305.70" y="430.30" font-size="6.2" text-anchor="middle" fill="#222" stroke="#222" stroke-width="0.15">3</text>
<text x="320.40" y="430.30" font-size="6.2" text-anchor="middle" fill="#222" stroke="#222" stroke-width="0.15">4</text>
<text x="334.80" y="430.30" font-size="6.2" text-anchor="middle" fill="#222" stroke="#222" stroke-width="0.15">5</text>
<text x="348.60" y="430.30" font-size="6.2" text-anchor="middle" fill="#222" stroke="#222" stroke-width="0.15">6</text>
<text x="362.40" y="430.30" font-size="6.2" text-anchor="middle" fill="#222" stroke="#222" stroke-width="0.15">7</text>
<text x="374.80" y="430.30" font-size="6.2" text-anchor="middle" fill="#222" stroke="#222" stroke-width="0.15">8</text>
<text x="387.00" y="430.30" font-size="6.2" text-anchor="middle" fill="#222" stroke="#222" stroke-width="0.15">9</text>
<text x="399.40" y="430.30" font-size="6.2" text-anchor="middle" fill="#222" stroke="#222" stroke-width="0.15">10</text>
<text x="411.70" y="430.30" font-size="6.2" text-anchor="middle" fill="#222" stroke="#222" stroke-width="0.15">11</text>
<text x="423.70" y="430.30" font-size="6.2" text-anchor="middle" fill="#222" stroke="#222" stroke-width="0.15">12</text>
<text x="435.60" y="430.30" font-size="6.2" text-anchor="middle" fill="#222" stroke="#222" stroke-width="0.15">13</text>
<text x="447.20" y="430.30" font-size="6.2" text-anchor="middle" fill="#222" stroke="#222" stroke-width="0.15">14</text>
<text x="458.00" y="430.30" font-size="6.2" text-anchor="middle" fill="#222" stroke="#222" stroke-width="0.15">15</text>
<text x="468.20" y="430.30" font-size="6.2" text-anchor="middle" fill="#222" stroke="#222" stroke-width="0.15">16</text>
<text x="478.00" y="430.30" font-size="6.2" text-anchor="middle" fill="#222" stroke="#222" stroke-width="0.15">17</text>
<text x="486.50" y="430.30" font-size="6.2" text-anchor="middle" fill="#222" stroke="#222" stroke-width="0.15">18</text>
<text x="494.80" y="430.30" font-size="6.2" text-anchor="middle" fill="#222" stroke="#222" stroke-width="0.15">19</text>
<text x="505.10" y="430.30" font-size="6.2" text-anchor="middle" fill="#222" stroke="#222" stroke-width="0.15">X</text>
<text x="387.20" y="446.80" font-size="8" text-anchor="middle" fill="#111" textLength="32.3" lengthAdjust="spacingAndGlyphs" stroke="#111" stroke-width="0.35">Chromosome</text>
<line x1="275.40" y1="383.90" x2="295.80" y2="387.30" stroke="#555" stroke-width="0.4" />
<text x="296.40" y="389.60" font-size="4.9" text-anchor="start" fill="#4a6a8a" font-style="italic" textLength="16" lengthAdjust="spacingAndGlyphs" >Steap3</text>
<line x1="447.50" y1="383.90" x2="478.50" y2="387.60" stroke="#555" stroke-width="0.4" />
<text x="479.20" y="389.90" font-size="4.6" text-anchor="start" fill="#5a7896" font-style="italic" stroke="#222" stroke-width="0.15">EPHX2</text>
<text x="6.90" y="469.60" font-size="10.2" text-anchor="start" fill="#000" font-weight="bold" >J</text>
<text x="114.30" y="473.00" font-size="6.3" text-anchor="middle" fill="#1a1a1a" textLength="35.7" lengthAdjust="spacingAndGlyphs" stroke="#1a1a1a" stroke-width="0.15">15(S)-HpETE</text>
<line x1="32.40" y1="570.00" x2="196.00" y2="570.00" stroke="#dcdcdc" stroke-width="0.5" />
<line x1="32.40" y1="555.58" x2="196.00" y2="555.58" stroke="#dcdcdc" stroke-width="0.5" />
<line x1="32.40" y1="541.16" x2="196.00" y2="541.16" stroke="#dcdcdc" stroke-width="0.5" />
<line x1="32.40" y1="526.74" x2="196.00" y2="526.74" stroke="#dcdcdc" stroke-width="0.5" />
<line x1="32.40" y1="512.32" x2="196.00" y2="512.32" stroke="#dcdcdc" stroke-width="0.5" />
<line x1="32.40" y1="497.90" x2="196.00" y2="497.90" stroke="#dcdcdc" stroke-width="0.5" />
<line x1="32.40" y1="483.48" x2="196.00" y2="483.48" stroke="#dcdcdc" stroke-width="0.5" />
<line x1="40.40" y1="477.90" x2="40.40" y2="571.00" stroke="#dcdcdc" stroke-width="0.5" />
<line x1="69.00" y1="477.90" x2="69.00" y2="571.00" stroke="#dcdcdc" stroke-width="0.5" />
<line x1="97.50" y1="477.90" x2="97.50" y2="571.00" stroke="#dcdcdc" stroke-width="0.5" />
<line x1="125.90" y1="477.90" x2="125.90" y2="571.00" stroke="#dcdcdc" stroke-width="0.5" />
<line x1="154.10" y1="477.90" x2="154.10" y2="571.00" stroke="#dcdcdc" stroke-width="0.5" />
<line x1="182.30" y1="477.90" x2="182.30" y2="571.00" stroke="#dcdcdc" stroke-width="0.5" />
<path d="M32.6 486.9 L36 486.7 L39 485.2 L44 485.6 L48 486.6 L52 485.4 L56 484 L60.2 482.6" fill="none" stroke="#000" stroke-width="1.4"/>
<path d="M62.5 481.2 L66 481" fill="none" stroke="#000" stroke-width="1.2"/>
<path d="M69 478.9 L76 478.8 M80.7 478.6 L152 478.6 L160 479.7 L171 479.8 L180.5 479 M181 482 L185.3 482.2 M185.5 485.5 L188 486.3 L196 486.6" fill="none" stroke="#000" stroke-width="1.4"/>
<rect x="73.48" y="499.23" width="1.24" height="1.24" fill="#000"/>
<rect x="75.72" y="499.06" width="1.24" height="1.24" fill="#000"/>
<rect x="75.00" y="499.08" width="1.24" height="1.24" fill="#000"/>
<rect x="65.76" y="499.47" width="1.24" height="1.24" fill="#000"/>
<rect x="77.64" y="499.31" width="1.24" height="1.24" fill="#000"/>
<rect x="77.09" y="499.78" width="1.24" height="1.24" fill="#000"/>
<rect x="71.48" y="499.66" width="1.24" height="1.24" fill="#000"/>
<rect x="72.45" y="499.38" width="1.24" height="1.24" fill="#000"/>
<rect x="65.55" y="499.69" width="1.24" height="1.24" fill="#000"/>
<rect x="69.01" y="499.08" width="1.24" height="1.24" fill="#000"/>
<rect x="75.33" y="499.74" width="1.24" height="1.24" fill="#000"/>
<rect x="75.74" y="499.76" width="1.24" height="1.24" fill="#000"/>
<rect x="73.41" y="499.77" width="1.24" height="1.24" fill="#000"/>
<rect x="65.40" y="499.12" width="1.24" height="1.24" fill="#000"/>
<rect x="68.10" y="499.69" width="1.24" height="1.24" fill="#000"/>
<rect x="78.15" y="499.12" width="1.24" height="1.24" fill="#000"/>
<rect x="69.14" y="499.04" width="1.24" height="1.24" fill="#000"/>
<rect x="72.39" y="499.29" width="1.24" height="1.24" fill="#000"/>
<rect x="68.04" y="499.06" width="1.24" height="1.24" fill="#000"/>
<rect x="74.36" y="499.04" width="1.24" height="1.24" fill="#000"/>
<rect x="77.00" y="499.62" width="1.24" height="1.24" fill="#000"/>
<rect x="70.08" y="499.73" width="1.24" height="1.24" fill="#000"/>
<rect x="67.27" y="499.82" width="1.24" height="1.24" fill="#000"/>
<rect x="69.30" y="499.35" width="1.24" height="1.24" fill="#000"/>
<rect x="65.42" y="499.29" width="1.24" height="1.24" fill="#000"/>
<rect x="69.77" y="499.61" width="1.24" height="1.24" fill="#000"/>
<rect x="76.02" y="499.46" width="1.24" height="1.24" fill="#000"/>
<rect x="69.49" y="499.46" width="1.24" height="1.24" fill="#000"/>
<rect x="74.54" y="499.83" width="1.24" height="1.24" fill="#000"/>
<rect x="78.06" y="499.86" width="1.24" height="1.24" fill="#000"/>
<rect x="75.13" y="499.14" width="1.24" height="1.24" fill="#000"/>
<rect x="65.61" y="499.19" width="1.24" height="1.24" fill="#000"/>
<rect x="70.14" y="499.38" width="1.24" height="1.24" fill="#000"/>
<rect x="65.50" y="499.84" width="1.24" height="1.24" fill="#000"/>
<rect x="67.73" y="499.05" width="1.24" height="1.24" fill="#000"/>
<rect x="67.93" y="499.22" width="1.24" height="1.24" fill="#000"/>
<rect x="77.47" y="499.06" width="1.24" height="1.24" fill="#000"/>
<rect x="69.86" y="499.57" width="1.24" height="1.24" fill="#000"/>
<rect x="72.20" y="499.20" width="1.24" height="1.24" fill="#000"/>
<rect x="66.78" y="499.23" width="1.24" height="1.24" fill="#000"/>
<rect x="75.74" y="499.13" width="1.24" height="1.24" fill="#000"/>
<rect x="89.35" y="499.06" width="1.24" height="1.24" fill="#000"/>
<rect x="89.75" y="499.58" width="1.24" height="1.24" fill="#000"/>
<rect x="93.54" y="499.08" width="1.24" height="1.24" fill="#000"/>
<rect x="91.56" y="499.08" width="1.24" height="1.24" fill="#000"/>
<rect x="93.06" y="499.61" width="1.24" height="1.24" fill="#000"/>
<rect x="91.39" y="499.72" width="1.24" height="1.24" fill="#000"/>
<rect x="89.65" y="499.75" width="1.24" height="1.24" fill="#000"/>
<rect x="94.11" y="499.01" width="1.24" height="1.24" fill="#000"/>
<rect x="90.26" y="499.83" width="1.24" height="1.24" fill="#000"/>
<rect x="96.28" y="499.41" width="1.24" height="1.24" fill="#000"/>
<rect x="92.04" y="499.67" width="1.24" height="1.24" fill="#000"/>
<rect x="93.42" y="499.16" width="1.24" height="1.24" fill="#000"/>
<rect x="92.41" y="499.51" width="1.24" height="1.24" fill="#000"/>
<rect x="89.49" y="499.08" width="1.24" height="1.24" fill="#000"/>
<rect x="89.32" y="499.45" width="1.24" height="1.24" fill="#000"/>
<rect x="95.20" y="499.76" width="1.24" height="1.24" fill="#000"/>
<rect x="94.42" y="499.05" width="1.24" height="1.24" fill="#000"/>
<rect x="93.68" y="499.19" width="1.24" height="1.24" fill="#000"/>
<rect x="89.86" y="499.50" width="1.24" height="1.24" fill="#000"/>
<rect x="90.17" y="499.14" width="1.24" height="1.24" fill="#000"/>
<rect x="91.23" y="499.48" width="1.24" height="1.24" fill="#000"/>
<rect x="96.37" y="499.14" width="1.24" height="1.24" fill="#000"/>
<rect x="96.20" y="499.48" width="1.24" height="1.24" fill="#000"/>
<rect x="104.90" y="499.24" width="1.24" height="1.24" fill="#000"/>
<rect x="104.81" y="499.62" width="1.24" height="1.24" fill="#000"/>
<rect x="104.00" y="499.75" width="1.24" height="1.24" fill="#000"/>
<rect x="103.71" y="499.02" width="1.24" height="1.24" fill="#000"/>
<rect x="109.95" y="499.33" width="1.24" height="1.24" fill="#000"/>
<rect x="105.02" y="499.58" width="1.24" height="1.24" fill="#000"/>
<rect x="100.63" y="499.64" width="1.24" height="1.24" fill="#000"/>
<rect x="108.05" y="499.13" width="1.24" height="1.24" fill="#000"/>
<rect x="103.55" y="499.20" width="1.24" height="1.24" fill="#000"/>
<rect x="107.97" y="499.27" width="1.24" height="1.24" fill="#000"/>
<rect x="106.78" y="499.22" width="1.24" height="1.24" fill="#000"/>
<rect x="103.57" y="499.27" width="1.24" height="1.24" fill="#000"/>
<rect x="102.69" y="499.46" width="1.24" height="1.24" fill="#000"/>
<rect x="107.92" y="499.28" width="1.24" height="1.24" fill="#000"/>
<rect x="102.82" y="499.06" width="1.24" height="1.24" fill="#000"/>
<rect x="106.63" y="499.37" width="1.24" height="1.24" fill="#000"/>
<rect x="99.80" y="499.40" width="1.24" height="1.24" fill="#000"/>
<rect x="102.36" y="499.29" width="1.24" height="1.24" fill="#000"/>
<rect x="104.63" y="499.17" width="1.24" height="1.24" fill="#000"/>
<rect x="106.61" y="499.19" width="1.24" height="1.24" fill="#000"/>
<rect x="103.40" y="499.32" width="1.24" height="1.24" fill="#000"/>
<rect x="107.57" y="499.16" width="1.24" height="1.24" fill="#000"/>
<rect x="103.43" y="499.15" width="1.24" height="1.24" fill="#000"/>
<rect x="108.99" y="499.28" width="1.24" height="1.24" fill="#000"/>
<rect x="110.12" y="499.05" width="1.24" height="1.24" fill="#000"/>
<rect x="105.22" y="499.42" width="1.24" height="1.24" fill="#000"/>
<rect x="101.46" y="499.15" width="1.24" height="1.24" fill="#000"/>
<rect x="109.71" y="499.46" width="1.24" height="1.24" fill="#000"/>
<rect x="107.08" y="499.25" width="1.24" height="1.24" fill="#000"/>
<rect x="107.49" y="499.73" width="1.24" height="1.24" fill="#000"/>
<rect x="108.03" y="499.37" width="1.24" height="1.24" fill="#000"/>
<rect x="106.80" y="499.51" width="1.24" height="1.24" fill="#000"/>
<rect x="106.35" y="499.21" width="1.24" height="1.24" fill="#000"/>
<rect x="106.49" y="499.25" width="1.24" height="1.24" fill="#000"/>
<rect x="112.49" y="499.74" width="1.24" height="1.24" fill="#000"/>
<rect x="114.14" y="499.31" width="1.24" height="1.24" fill="#000"/>
<rect x="113.26" y="499.28" width="1.24" height="1.24" fill="#000"/>
<rect x="114.90" y="499.84" width="1.24" height="1.24" fill="#000"/>
<rect x="114.27" y="499.68" width="1.24" height="1.24" fill="#000"/>
<rect x="112.60" y="499.76" width="1.24" height="1.24" fill="#000"/>
<rect x="113.65" y="499.72" width="1.24" height="1.24" fill="#000"/>
<rect x="113.15" y="499.84" width="1.24" height="1.24" fill="#000"/>
<rect x="114.24" y="499.55" width="1.24" height="1.24" fill="#000"/>
<rect x="114.83" y="499.36" width="1.24" height="1.24" fill="#000"/>
<rect x="113.33" y="499.09" width="1.24" height="1.24" fill="#000"/>
<rect x="112.38" y="499.52" width="1.24" height="1.24" fill="#000"/>
<rect x="120.11" y="499.52" width="1.24" height="1.24" fill="#000"/>
<rect x="119.09" y="499.16" width="1.24" height="1.24" fill="#000"/>
<rect x="120.70" y="499.84" width="1.24" height="1.24" fill="#000"/>
<rect x="122.18" y="499.79" width="1.24" height="1.24" fill="#000"/>
<rect x="121.76" y="499.58" width="1.24" height="1.24" fill="#000"/>
<rect x="121.98" y="499.05" width="1.24" height="1.24" fill="#000"/>
<rect x="123.45" y="499.51" width="1.24" height="1.24" fill="#000"/>
<rect x="123.42" y="499.32" width="1.24" height="1.24" fill="#000"/>
<rect x="120.67" y="499.75" width="1.24" height="1.24" fill="#000"/>
<rect x="122.07" y="499.39" width="1.24" height="1.24" fill="#000"/>
<rect x="124.31" y="499.04" width="1.24" height="1.24" fill="#000"/>
<rect x="122.15" y="499.57" width="1.24" height="1.24" fill="#000"/>
<rect x="123.92" y="499.87" width="1.24" height="1.24" fill="#000"/>
<rect x="119.05" y="499.39" width="1.24" height="1.24" fill="#000"/>
<rect x="122.19" y="499.75" width="1.24" height="1.24" fill="#000"/>
<rect x="122.28" y="499.10" width="1.24" height="1.24" fill="#000"/>
<rect x="120.71" y="499.50" width="1.24" height="1.24" fill="#000"/>
<rect x="119.78" y="499.62" width="1.24" height="1.24" fill="#000"/>
<rect x="124.41" y="499.55" width="1.24" height="1.24" fill="#000"/>
<rect x="145.34" y="498.55" width="1.24" height="1.24" fill="#000"/>
<rect x="177.98" y="499.96" width="1.24" height="1.24" fill="#000"/>
<rect x="182" y="501" width="3.6" height="1.3" fill="#000"/>
<rect x="37.81" y="506.30" width="1.24" height="1.24" fill="#000"/>
<rect x="35.83" y="506.68" width="1.24" height="1.24" fill="#000"/>
<rect x="65.32" y="516.76" width="1.24" height="1.24" fill="#000"/>
<rect x="62.45" y="516.77" width="1.24" height="1.24" fill="#000"/>
<rect x="61.78" y="516.61" width="1.24" height="1.24" fill="#000"/>
<rect x="63.10" y="516.99" width="1.24" height="1.24" fill="#000"/>
<rect x="64.48" y="516.37" width="1.24" height="1.24" fill="#000"/>
<rect x="61.33" y="516.71" width="1.24" height="1.24" fill="#000"/>
<rect x="62.40" y="516.24" width="1.24" height="1.24" fill="#000"/>
<rect x="64.49" y="517.04" width="1.24" height="1.24" fill="#000"/>
<rect x="62.38" y="517.15" width="1.24" height="1.24" fill="#000"/>
<rect x="65.33" y="516.99" width="1.24" height="1.24" fill="#000"/>
<rect x="63.77" y="516.78" width="1.24" height="1.24" fill="#000"/>
<rect x="81.02" y="516.63" width="1.24" height="1.24" fill="#000"/>
<rect x="81.12" y="517.19" width="1.24" height="1.24" fill="#000"/>
<rect x="81.14" y="516.98" width="1.24" height="1.24" fill="#000"/>
<rect x="104.60" y="516.94" width="1.24" height="1.24" fill="#000"/>
<rect x="101.66" y="516.71" width="1.24" height="1.24" fill="#000"/>
<rect x="103.74" y="516.91" width="1.24" height="1.24" fill="#000"/>
<rect x="107.22" y="516.64" width="1.24" height="1.24" fill="#000"/>
<rect x="98.43" y="517.03" width="1.24" height="1.24" fill="#000"/>
<rect x="103.63" y="516.27" width="1.24" height="1.24" fill="#000"/>
<rect x="108.99" y="516.69" width="1.24" height="1.24" fill="#000"/>
<rect x="98.16" y="516.43" width="1.24" height="1.24" fill="#000"/>
<rect x="103.28" y="516.66" width="1.24" height="1.24" fill="#000"/>
<rect x="106.76" y="516.59" width="1.24" height="1.24" fill="#000"/>
<rect x="103.96" y="516.27" width="1.24" height="1.24" fill="#000"/>
<rect x="102.76" y="516.87" width="1.24" height="1.24" fill="#000"/>
<rect x="108.54" y="517.10" width="1.24" height="1.24" fill="#000"/>
<rect x="101.66" y="516.37" width="1.24" height="1.24" fill="#000"/>
<rect x="98.80" y="516.36" width="1.24" height="1.24" fill="#000"/>
<rect x="106.59" y="516.82" width="1.24" height="1.24" fill="#000"/>
<rect x="101.53" y="516.42" width="1.24" height="1.24" fill="#000"/>
<rect x="109.27" y="517.16" width="1.24" height="1.24" fill="#000"/>
<rect x="103.91" y="516.69" width="1.24" height="1.24" fill="#000"/>
<rect x="104.15" y="516.94" width="1.24" height="1.24" fill="#000"/>
<rect x="99.88" y="516.65" width="1.24" height="1.24" fill="#000"/>
<rect x="108.05" y="517.24" width="1.24" height="1.24" fill="#000"/>
<rect x="100.83" y="516.38" width="1.24" height="1.24" fill="#000"/>
<rect x="107.80" y="516.56" width="1.24" height="1.24" fill="#000"/>
<rect x="98.30" y="516.49" width="1.24" height="1.24" fill="#000"/>
<rect x="110.12" y="516.17" width="1.24" height="1.24" fill="#000"/>
<rect x="106.68" y="517.27" width="1.24" height="1.24" fill="#000"/>
<rect x="108.42" y="517.07" width="1.24" height="1.24" fill="#000"/>
<rect x="105.99" y="516.23" width="1.24" height="1.24" fill="#000"/>
<rect x="106.81" y="517.17" width="1.24" height="1.24" fill="#000"/>
<rect x="101.61" y="516.26" width="1.24" height="1.24" fill="#000"/>
<rect x="99.84" y="516.62" width="1.24" height="1.24" fill="#000"/>
<rect x="121.12" y="517.14" width="1.24" height="1.24" fill="#000"/>
<rect x="122.35" y="517.27" width="1.24" height="1.24" fill="#000"/>
<rect x="119.32" y="516.89" width="1.24" height="1.24" fill="#000"/>
<rect x="119.10" y="517.26" width="1.24" height="1.24" fill="#000"/>
<rect x="122.07" y="516.47" width="1.24" height="1.24" fill="#000"/>
<rect x="123.86" y="517.17" width="1.24" height="1.24" fill="#000"/>
<rect x="121.23" y="516.96" width="1.24" height="1.24" fill="#000"/>
<rect x="122.22" y="516.76" width="1.24" height="1.24" fill="#000"/>
<rect x="124.22" y="516.89" width="1.24" height="1.24" fill="#000"/>
<rect x="119.01" y="516.52" width="1.24" height="1.24" fill="#000"/>
<rect x="119.57" y="516.60" width="1.24" height="1.24" fill="#000"/>
<rect x="121.66" y="516.27" width="1.24" height="1.24" fill="#000"/>
<rect x="121.95" y="516.61" width="1.24" height="1.24" fill="#000"/>
<rect x="120.23" y="516.69" width="1.24" height="1.24" fill="#000"/>
<rect x="120.18" y="516.46" width="1.24" height="1.24" fill="#000"/>
<path d="M185.3 515.6 L188 516.4 L196 516.6" fill="none" stroke="#000" stroke-width="1.2"/>
<rect x="169.90" y="524.03" width="1.24" height="1.24" fill="#000"/>
<rect x="61.55" y="527.03" width="1.24" height="1.24" fill="#000"/>
<rect x="64.06" y="527.30" width="1.24" height="1.24" fill="#000"/>
<rect x="63.95" y="526.62" width="1.24" height="1.24" fill="#000"/>
<rect x="60.81" y="526.60" width="1.24" height="1.24" fill="#000"/>
<rect x="60.84" y="527.38" width="1.24" height="1.24" fill="#000"/>
<rect x="63.35" y="527.22" width="1.24" height="1.24" fill="#000"/>
<rect x="64.76" y="526.87" width="1.24" height="1.24" fill="#000"/>
<rect x="62.00" y="526.41" width="1.24" height="1.24" fill="#000"/>
<rect x="60.53" y="526.52" width="1.24" height="1.24" fill="#000"/>
<rect x="77.70" y="527.34" width="1.24" height="1.24" fill="#000"/>
<rect x="93.16" y="526.58" width="1.24" height="1.24" fill="#000"/>
<rect x="80.62" y="527.39" width="1.24" height="1.24" fill="#000"/>
<rect x="93.51" y="526.60" width="1.24" height="1.24" fill="#000"/>
<rect x="90.89" y="527.36" width="1.24" height="1.24" fill="#000"/>
<rect x="87.53" y="527.05" width="1.24" height="1.24" fill="#000"/>
<rect x="80.82" y="527.08" width="1.24" height="1.24" fill="#000"/>
<rect x="87.34" y="527.06" width="1.24" height="1.24" fill="#000"/>
<rect x="83.41" y="527.37" width="1.24" height="1.24" fill="#000"/>
<rect x="91.07" y="526.63" width="1.24" height="1.24" fill="#000"/>
<rect x="90.62" y="526.94" width="1.24" height="1.24" fill="#000"/>
<rect x="91.43" y="526.82" width="1.24" height="1.24" fill="#000"/>
<rect x="86.97" y="526.74" width="1.24" height="1.24" fill="#000"/>
<rect x="89.51" y="526.99" width="1.24" height="1.24" fill="#000"/>
<rect x="78.45" y="527.51" width="1.24" height="1.24" fill="#000"/>
<rect x="80.26" y="527.51" width="1.24" height="1.24" fill="#000"/>
<rect x="92.08" y="526.87" width="1.24" height="1.24" fill="#000"/>
<rect x="89.86" y="527.56" width="1.24" height="1.24" fill="#000"/>
<rect x="84.87" y="526.28" width="1.24" height="1.24" fill="#000"/>
<rect x="87.43" y="526.94" width="1.24" height="1.24" fill="#000"/>
<rect x="84.79" y="527.42" width="1.24" height="1.24" fill="#000"/>
<rect x="79.44" y="527.33" width="1.24" height="1.24" fill="#000"/>
<rect x="83.22" y="527.01" width="1.24" height="1.24" fill="#000"/>
<rect x="91.92" y="527.34" width="1.24" height="1.24" fill="#000"/>
<rect x="81.15" y="527.16" width="1.24" height="1.24" fill="#000"/>
<rect x="79.56" y="527.15" width="1.24" height="1.24" fill="#000"/>
<rect x="80.82" y="526.87" width="1.24" height="1.24" fill="#000"/>
<rect x="77.33" y="526.23" width="1.24" height="1.24" fill="#000"/>
<rect x="83.13" y="526.21" width="1.24" height="1.24" fill="#000"/>
<rect x="88.61" y="526.59" width="1.24" height="1.24" fill="#000"/>
<rect x="109.59" y="526.20" width="1.24" height="1.24" fill="#000"/>
<rect x="99.68" y="526.60" width="1.24" height="1.24" fill="#000"/>
<rect x="104.53" y="526.59" width="1.24" height="1.24" fill="#000"/>
<rect x="116.80" y="527.33" width="1.24" height="1.24" fill="#000"/>
<rect x="102.01" y="527.53" width="1.24" height="1.24" fill="#000"/>
<rect x="102.83" y="527.45" width="1.24" height="1.24" fill="#000"/>
<rect x="107.61" y="526.16" width="1.24" height="1.24" fill="#000"/>
<rect x="106.58" y="527.11" width="1.24" height="1.24" fill="#000"/>
<rect x="109.49" y="527.15" width="1.24" height="1.24" fill="#000"/>
<rect x="116.89" y="526.53" width="1.24" height="1.24" fill="#000"/>
<rect x="100.95" y="527.22" width="1.24" height="1.24" fill="#000"/>
<rect x="115.20" y="526.21" width="1.24" height="1.24" fill="#000"/>
<rect x="114.46" y="526.94" width="1.24" height="1.24" fill="#000"/>
<rect x="123.69" y="527.55" width="1.24" height="1.24" fill="#000"/>
<rect x="98.08" y="526.44" width="1.24" height="1.24" fill="#000"/>
<rect x="107.86" y="527.50" width="1.24" height="1.24" fill="#000"/>
<rect x="111.74" y="526.13" width="1.24" height="1.24" fill="#000"/>
<rect x="110.91" y="527.06" width="1.24" height="1.24" fill="#000"/>
<rect x="99.01" y="527.46" width="1.24" height="1.24" fill="#000"/>
<rect x="121.55" y="526.85" width="1.24" height="1.24" fill="#000"/>
<rect x="122.58" y="527.48" width="1.24" height="1.24" fill="#000"/>
<rect x="103.20" y="527.49" width="1.24" height="1.24" fill="#000"/>
<rect x="107.50" y="527.48" width="1.24" height="1.24" fill="#000"/>
<rect x="103.53" y="526.97" width="1.24" height="1.24" fill="#000"/>
<rect x="104.95" y="527.49" width="1.24" height="1.24" fill="#000"/>
<rect x="97.43" y="526.16" width="1.24" height="1.24" fill="#000"/>
<rect x="101.40" y="526.83" width="1.24" height="1.24" fill="#000"/>
<rect x="107.65" y="526.80" width="1.24" height="1.24" fill="#000"/>
<rect x="98.74" y="527.11" width="1.24" height="1.24" fill="#000"/>
<rect x="99.40" y="526.78" width="1.24" height="1.24" fill="#000"/>
<rect x="122.18" y="526.70" width="1.24" height="1.24" fill="#000"/>
<rect x="120.37" y="527.25" width="1.24" height="1.24" fill="#000"/>
<rect x="96.87" y="526.78" width="1.24" height="1.24" fill="#000"/>
<rect x="110.00" y="526.74" width="1.24" height="1.24" fill="#000"/>
<rect x="106.93" y="526.66" width="1.24" height="1.24" fill="#000"/>
<rect x="116.70" y="526.25" width="1.24" height="1.24" fill="#000"/>
<rect x="104.99" y="526.91" width="1.24" height="1.24" fill="#000"/>
<rect x="119.52" y="527.24" width="1.24" height="1.24" fill="#000"/>
<rect x="99.62" y="527.11" width="1.24" height="1.24" fill="#000"/>
<rect x="98.83" y="526.45" width="1.24" height="1.24" fill="#000"/>
<rect x="119.32" y="527.11" width="1.24" height="1.24" fill="#000"/>
<rect x="100.01" y="527.44" width="1.24" height="1.24" fill="#000"/>
<rect x="103.24" y="527.44" width="1.24" height="1.24" fill="#000"/>
<rect x="108.38" y="526.73" width="1.24" height="1.24" fill="#000"/>
<rect x="103.25" y="527.47" width="1.24" height="1.24" fill="#000"/>
<rect x="116.00" y="527.49" width="1.24" height="1.24" fill="#000"/>
<rect x="101.98" y="527.15" width="1.24" height="1.24" fill="#000"/>
<rect x="106.85" y="527.42" width="1.24" height="1.24" fill="#000"/>
<rect x="108.16" y="527.11" width="1.24" height="1.24" fill="#000"/>
<rect x="117.44" y="526.76" width="1.24" height="1.24" fill="#000"/>
<rect x="44.29" y="529.39" width="1.24" height="1.24" fill="#000"/>
<rect x="43.51" y="529.56" width="1.24" height="1.24" fill="#000"/>
<rect x="41.70" y="529.04" width="1.24" height="1.24" fill="#000"/>
<path d="M32.6 533.6 L38 535.4 L44.7 536.2 L52 535.6 L60 533.6 L69.2 531.9 L80 531.4 L150 531.2 L181 531.4 L184 533.4 L187.8 536.2 L194.6 538.7 L196 538.8" fill="none" stroke="#000" stroke-width="1.4"/>
<path d="M32.6 545.6 L36 544.9 L42 546.2 L50 545.7 L60 546.4 L70 545.9 L90 546.1 L120 545.9 L150 545.9 L169.2 545.8 L175 543.9 L181 542.2 L188 541.2 L196 540.5" fill="none" stroke="#000" stroke-width="1.6"/>
<path d="M181 541 L186 538.5 L196 537.6" fill="none" stroke="#000" stroke-width="1.0"/>
<rect x="59.91" y="548.03" width="1.24" height="1.24" fill="#000"/>
<rect x="62.96" y="548.40" width="1.24" height="1.24" fill="#000"/>
<rect x="43.62" y="548.24" width="1.24" height="1.24" fill="#000"/>
<rect x="48.44" y="549.22" width="1.24" height="1.24" fill="#000"/>
<rect x="35.15" y="549.16" width="1.24" height="1.24" fill="#000"/>
<rect x="43.41" y="548.43" width="1.24" height="1.24" fill="#000"/>
<rect x="44.37" y="549.32" width="1.24" height="1.24" fill="#000"/>
<rect x="64.46" y="548.60" width="1.24" height="1.24" fill="#000"/>
<rect x="33.53" y="549.34" width="1.24" height="1.24" fill="#000"/>
<rect x="37.84" y="548.89" width="1.24" height="1.24" fill="#000"/>
<rect x="68.49" y="548.04" width="1.24" height="1.24" fill="#000"/>
<rect x="58.08" y="549.08" width="1.24" height="1.24" fill="#000"/>
<rect x="50.39" y="548.89" width="1.24" height="1.24" fill="#000"/>
<rect x="46.26" y="549.39" width="1.24" height="1.24" fill="#000"/>
<rect x="115.62" y="548.31" width="1.24" height="1.24" fill="#000"/>
<rect x="125.48" y="549.15" width="1.24" height="1.24" fill="#000"/>
<rect x="111.88" y="549.07" width="1.24" height="1.24" fill="#000"/>
<rect x="124.27" y="548.75" width="1.24" height="1.24" fill="#000"/>
<rect x="140.13" y="548.35" width="1.24" height="1.24" fill="#000"/>
<rect x="83.36" y="548.90" width="1.24" height="1.24" fill="#000"/>
<rect x="138.50" y="548.73" width="1.24" height="1.24" fill="#000"/>
<rect x="105.22" y="548.75" width="1.24" height="1.24" fill="#000"/>
<rect x="128.29" y="548.18" width="1.24" height="1.24" fill="#000"/>
<rect x="112.04" y="548.15" width="1.24" height="1.24" fill="#000"/>
<rect x="116.42" y="549.14" width="1.24" height="1.24" fill="#000"/>
<rect x="131.53" y="548.78" width="1.24" height="1.24" fill="#000"/>
<rect x="78.80" y="548.14" width="1.24" height="1.24" fill="#000"/>
<rect x="77.45" y="548.60" width="1.24" height="1.24" fill="#000"/>
<rect x="108.53" y="548.25" width="1.24" height="1.24" fill="#000"/>
<rect x="102.36" y="549.02" width="1.24" height="1.24" fill="#000"/>
<rect x="94.35" y="549.03" width="1.24" height="1.24" fill="#000"/>
<rect x="114.10" y="548.85" width="1.24" height="1.24" fill="#000"/>
<rect x="127.15" y="548.99" width="1.24" height="1.24" fill="#000"/>
<rect x="99.52" y="548.98" width="1.24" height="1.24" fill="#000"/>
<rect x="143.16" y="548.29" width="1.24" height="1.24" fill="#000"/>
<rect x="133.99" y="548.55" width="1.24" height="1.24" fill="#000"/>
<rect x="102.92" y="549.10" width="1.24" height="1.24" fill="#000"/>
<rect x="132.73" y="548.70" width="1.24" height="1.24" fill="#000"/>
<rect x="77.79" y="549.07" width="1.24" height="1.24" fill="#000"/>
<rect x="82.01" y="548.44" width="1.24" height="1.24" fill="#000"/>
<rect x="137.47" y="549.03" width="1.24" height="1.24" fill="#000"/>
<rect x="130.33" y="548.89" width="1.24" height="1.24" fill="#000"/>
<rect x="122.44" y="548.27" width="1.24" height="1.24" fill="#000"/>
<rect x="118.30" y="548.34" width="1.24" height="1.24" fill="#000"/>
<rect x="101.23" y="549.25" width="1.24" height="1.24" fill="#000"/>
<rect x="110.59" y="548.59" width="1.24" height="1.24" fill="#000"/>
<rect x="87.96" y="548.82" width="1.24" height="1.24" fill="#000"/>
<rect x="97.13" y="549.23" width="1.24" height="1.24" fill="#000"/>
<rect x="96.78" y="548.82" width="1.24" height="1.24" fill="#000"/>
<rect x="108.13" y="548.45" width="1.24" height="1.24" fill="#000"/>
<rect x="102.80" y="548.13" width="1.24" height="1.24" fill="#000"/>
<rect x="131.61" y="548.20" width="1.24" height="1.24" fill="#000"/>
<rect x="123.12" y="548.49" width="1.24" height="1.24" fill="#000"/>
<rect x="112.32" y="548.34" width="1.24" height="1.24" fill="#000"/>
<rect x="100.29" y="548.58" width="1.24" height="1.24" fill="#000"/>
<rect x="122.20" y="548.66" width="1.24" height="1.24" fill="#000"/>
<rect x="94.84" y="549.17" width="1.24" height="1.24" fill="#000"/>
<rect x="81.22" y="548.85" width="1.24" height="1.24" fill="#000"/>
<rect x="115.34" y="548.39" width="1.24" height="1.24" fill="#000"/>
<rect x="124.62" y="548.91" width="1.24" height="1.24" fill="#000"/>
<rect x="139.48" y="548.95" width="1.24" height="1.24" fill="#000"/>
<rect x="124.73" y="549.18" width="1.24" height="1.24" fill="#000"/>
<rect x="127.31" y="548.49" width="1.24" height="1.24" fill="#000"/>
<rect x="141.40" y="548.23" width="1.24" height="1.24" fill="#000"/>
<rect x="122.77" y="548.30" width="1.24" height="1.24" fill="#000"/>
<rect x="126.29" y="548.56" width="1.24" height="1.24" fill="#000"/>
<rect x="89.63" y="548.67" width="1.24" height="1.24" fill="#000"/>
<rect x="137.19" y="548.99" width="1.24" height="1.24" fill="#000"/>
<rect x="142.63" y="548.64" width="1.24" height="1.24" fill="#000"/>
<rect x="102.40" y="549.26" width="1.24" height="1.24" fill="#000"/>
<rect x="102.18" y="549.06" width="1.24" height="1.24" fill="#000"/>
<rect x="120.37" y="548.23" width="1.24" height="1.24" fill="#000"/>
<rect x="138.16" y="548.56" width="1.24" height="1.24" fill="#000"/>
<rect x="101.94" y="549.14" width="1.24" height="1.24" fill="#000"/>
<rect x="122.84" y="548.63" width="1.24" height="1.24" fill="#000"/>
<rect x="124.68" y="548.83" width="1.24" height="1.24" fill="#000"/>
<rect x="136.54" y="549.02" width="1.24" height="1.24" fill="#000"/>
<rect x="96.33" y="548.96" width="1.24" height="1.24" fill="#000"/>
<rect x="118.23" y="548.23" width="1.24" height="1.24" fill="#000"/>
<rect x="86.77" y="548.53" width="1.24" height="1.24" fill="#000"/>
<rect x="128.22" y="549.00" width="1.24" height="1.24" fill="#000"/>
<rect x="79.52" y="548.61" width="1.24" height="1.24" fill="#000"/>
<rect x="132.63" y="548.25" width="1.24" height="1.24" fill="#000"/>
<rect x="125.56" y="548.78" width="1.24" height="1.24" fill="#000"/>
<rect x="166.08" y="548.63" width="1.24" height="1.24" fill="#000"/>
<rect x="190.52" y="549.11" width="1.24" height="1.24" fill="#000"/>
<rect x="158.70" y="548.46" width="1.24" height="1.24" fill="#000"/>
<rect x="193.67" y="549.36" width="1.24" height="1.24" fill="#000"/>
<rect x="145.93" y="549.52" width="1.24" height="1.24" fill="#000"/>
<rect x="173.07" y="548.46" width="1.24" height="1.24" fill="#000"/>
<rect x="153.76" y="549.36" width="1.24" height="1.24" fill="#000"/>
<rect x="174.70" y="548.37" width="1.24" height="1.24" fill="#000"/>
<rect x="179.58" y="548.19" width="1.24" height="1.24" fill="#000"/>
<rect x="147.51" y="548.72" width="1.24" height="1.24" fill="#000"/>
<rect x="64.42" y="554.30" width="1.24" height="1.24" fill="#000"/>
<rect x="61.43" y="554.45" width="1.24" height="1.24" fill="#000"/>
<rect x="63.32" y="554.34" width="1.24" height="1.24" fill="#000"/>
<rect x="60.91" y="554.68" width="1.24" height="1.24" fill="#000"/>
<rect x="64.46" y="554.99" width="1.24" height="1.24" fill="#000"/>
<rect x="60.16" y="555.40" width="1.24" height="1.24" fill="#000"/>
<rect x="60.49" y="555.55" width="1.24" height="1.24" fill="#000"/>
<rect x="60.46" y="554.79" width="1.24" height="1.24" fill="#000"/>
<rect x="99.35" y="554.59" width="1.24" height="1.24" fill="#000"/>
<rect x="107.62" y="554.50" width="1.24" height="1.24" fill="#000"/>
<rect x="108.51" y="554.65" width="1.24" height="1.24" fill="#000"/>
<rect x="110.09" y="554.30" width="1.24" height="1.24" fill="#000"/>
<rect x="106.17" y="554.29" width="1.24" height="1.24" fill="#000"/>
<rect x="99.33" y="555.53" width="1.24" height="1.24" fill="#000"/>
<rect x="98.82" y="555.38" width="1.24" height="1.24" fill="#000"/>
<rect x="102.89" y="555.02" width="1.24" height="1.24" fill="#000"/>
<rect x="106.89" y="554.61" width="1.24" height="1.24" fill="#000"/>
<rect x="99.08" y="555.10" width="1.24" height="1.24" fill="#000"/>
<rect x="105.10" y="555.14" width="1.24" height="1.24" fill="#000"/>
<rect x="99.52" y="554.82" width="1.24" height="1.24" fill="#000"/>
<rect x="102.88" y="554.70" width="1.24" height="1.24" fill="#000"/>
<rect x="104.47" y="554.29" width="1.24" height="1.24" fill="#000"/>
<rect x="110.36" y="555.58" width="1.24" height="1.24" fill="#000"/>
<rect x="107.93" y="554.64" width="1.24" height="1.24" fill="#000"/>
<rect x="101.86" y="555.51" width="1.24" height="1.24" fill="#000"/>
<rect x="104.26" y="555.17" width="1.24" height="1.24" fill="#000"/>
<rect x="178.04" y="552.66" width="1.24" height="1.24" fill="#000"/>
<rect x="154.60" y="557.19" width="1.24" height="1.24" fill="#000"/>
<rect x="162.30" y="554.26" width="1.24" height="1.24" fill="#000"/>
<rect x="181.45" y="555.14" width="1.24" height="1.24" fill="#000"/>
<rect x="148.91" y="556.86" width="1.24" height="1.24" fill="#000"/>
<rect x="185.35" y="555.54" width="1.24" height="1.24" fill="#000"/>
<rect x="132.71" y="556.25" width="1.24" height="1.24" fill="#000"/>
<rect x="122.95" y="540.42" width="1.24" height="1.24" fill="#000"/>
<rect x="120.48" y="540.71" width="1.24" height="1.24" fill="#000"/>
<rect x="120.82" y="540.56" width="1.24" height="1.24" fill="#000"/>
<rect x="134.15" y="540.51" width="1.24" height="1.24" fill="#000"/>
<rect x="125.17" y="540.23" width="1.24" height="1.24" fill="#000"/>
<rect x="55.76" y="563.42" width="1.24" height="1.24" fill="#000"/>
<rect x="66.54" y="566.45" width="1.24" height="1.24" fill="#000"/>
<rect x="65.87" y="563.37" width="1.24" height="1.24" fill="#000"/>
<rect x="54.63" y="564.33" width="1.24" height="1.24" fill="#000"/>
<rect x="61.25" y="563.18" width="1.24" height="1.24" fill="#000"/>
<rect x="62.13" y="566.04" width="1.24" height="1.24" fill="#000"/>
<rect x="57.66" y="558.07" width="1.24" height="1.24" fill="#000"/>
<rect x="61.02" y="562.41" width="1.24" height="1.24" fill="#000"/>
<rect x="55.66" y="564.08" width="1.24" height="1.24" fill="#000"/>
<rect x="68.70" y="560.55" width="1.24" height="1.24" fill="#000"/>
<rect x="62.00" y="566.04" width="1.24" height="1.24" fill="#000"/>
<rect x="60.27" y="559.76" width="1.24" height="1.24" fill="#000"/>
<rect x="60.90" y="561.36" width="1.24" height="1.24" fill="#000"/>
<rect x="67.92" y="560.91" width="1.24" height="1.24" fill="#000"/>
<rect x="106.46" y="564.79" width="1.24" height="1.24" fill="#000"/>
<rect x="88.09" y="559.51" width="1.24" height="1.24" fill="#000"/>
<rect x="99.78" y="558.75" width="1.24" height="1.24" fill="#000"/>
<rect x="112.15" y="558.45" width="1.24" height="1.24" fill="#000"/>
<rect x="98.74" y="557.85" width="1.24" height="1.24" fill="#000"/>
<rect x="110.07" y="558.62" width="1.24" height="1.24" fill="#000"/>
<rect x="91.83" y="559.42" width="1.24" height="1.24" fill="#000"/>
<rect x="100.04" y="558.05" width="1.24" height="1.24" fill="#000"/>
<rect x="117.21" y="563.49" width="1.24" height="1.24" fill="#000"/>
<rect x="100.02" y="563.10" width="1.24" height="1.24" fill="#000"/>
<rect x="101.48" y="562.99" width="1.24" height="1.24" fill="#000"/>
<rect x="107.38" y="564.16" width="1.24" height="1.24" fill="#000"/>
<rect x="92.46" y="561.75" width="1.24" height="1.24" fill="#000"/>
<rect x="89.60" y="562.31" width="1.24" height="1.24" fill="#000"/>
<rect x="114.30" y="558.67" width="1.24" height="1.24" fill="#000"/>
<rect x="93.28" y="564.92" width="1.24" height="1.24" fill="#000"/>
<rect x="112.23" y="558.13" width="1.24" height="1.24" fill="#000"/>
<rect x="105.35" y="564.07" width="1.24" height="1.24" fill="#000"/>
<rect x="94.48" y="558.42" width="1.24" height="1.24" fill="#000"/>
<rect x="115.51" y="564.83" width="1.24" height="1.24" fill="#000"/>
<rect x="92.92" y="561.96" width="1.24" height="1.24" fill="#000"/>
<rect x="95.38" y="559.62" width="1.24" height="1.24" fill="#000"/>
<rect x="98.57" y="559.46" width="1.24" height="1.24" fill="#000"/>
<rect x="91.94" y="561.32" width="1.24" height="1.24" fill="#000"/>
<rect x="116.63" y="559.99" width="1.24" height="1.24" fill="#000"/>
<rect x="90.08" y="564.25" width="1.24" height="1.24" fill="#000"/>
<rect x="106.69" y="562.35" width="1.24" height="1.24" fill="#000"/>
<rect x="98.44" y="561.61" width="1.24" height="1.24" fill="#000"/>
<rect x="104.83" y="558.09" width="1.24" height="1.24" fill="#000"/>
<rect x="94.61" y="560.95" width="1.24" height="1.24" fill="#000"/>
<rect x="38.17" y="560.34" width="1.24" height="1.24" fill="#000"/>
<rect x="48.47" y="563.90" width="1.24" height="1.24" fill="#000"/>
<rect x="42.97" y="558.95" width="1.24" height="1.24" fill="#000"/>
<rect x="32.56" y="558.38" width="1.24" height="1.24" fill="#000"/>
<rect x="41.59" y="560.69" width="1.24" height="1.24" fill="#000"/>
<rect x="165.78" y="559.64" width="1.24" height="1.24" fill="#000"/>
<rect x="123.64" y="562.17" width="1.24" height="1.24" fill="#000"/>
<rect x="122.29" y="563.16" width="1.24" height="1.24" fill="#000"/>
<rect x="145.66" y="566.31" width="1.24" height="1.24" fill="#000"/>
<rect x="142.01" y="562.60" width="1.24" height="1.24" fill="#000"/>
<rect x="114.03" y="557.54" width="1.24" height="1.24" fill="#000"/>
<rect x="105.49" y="557.82" width="1.24" height="1.24" fill="#000"/>
<rect x="115.78" y="557.53" width="1.24" height="1.24" fill="#000"/>
<rect x="122.87" y="557.49" width="1.24" height="1.24" fill="#000"/>
<rect x="103.43" y="558.08" width="1.24" height="1.24" fill="#000"/>
<rect x="122.34" y="558.15" width="1.24" height="1.24" fill="#000"/>
<rect x="107.84" y="557.67" width="1.24" height="1.24" fill="#000"/>
<rect x="110.24" y="557.92" width="1.24" height="1.24" fill="#000"/>
<rect x="122.12" y="557.99" width="1.24" height="1.24" fill="#000"/>
<rect x="110.93" y="557.61" width="1.24" height="1.24" fill="#000"/>
<rect x="98.52" y="557.95" width="1.24" height="1.24" fill="#000"/>
<rect x="109.21" y="557.80" width="1.24" height="1.24" fill="#000"/>
<rect x="100.60" y="557.88" width="1.24" height="1.24" fill="#000"/>
<rect x="96.17" y="558.14" width="1.24" height="1.24" fill="#000"/>
<rect x="104.64" y="558.10" width="1.24" height="1.24" fill="#000"/>
<rect x="123.41" y="558.01" width="1.24" height="1.24" fill="#000"/>
<rect x="102.65" y="557.64" width="1.24" height="1.24" fill="#000"/>
<rect x="116.61" y="558.02" width="1.24" height="1.24" fill="#000"/>
<rect x="119.26" y="557.75" width="1.24" height="1.24" fill="#000"/>
<rect x="106.04" y="557.75" width="1.24" height="1.24" fill="#000"/>
<rect x="101.75" y="558.01" width="1.24" height="1.24" fill="#000"/>
<rect x="120.68" y="557.89" width="1.24" height="1.24" fill="#000"/>
<rect x="121.30" y="558.08" width="1.24" height="1.24" fill="#000"/>
<rect x="98.50" y="558.17" width="1.24" height="1.24" fill="#000"/>
<rect x="116.57" y="557.80" width="1.24" height="1.24" fill="#000"/>
<rect x="94.67" y="558.17" width="1.24" height="1.24" fill="#000"/>
<rect x="119.10" y="557.85" width="1.24" height="1.24" fill="#000"/>
<rect x="120.52" y="558.18" width="1.24" height="1.24" fill="#000"/>
<rect x="112.05" y="558.12" width="1.24" height="1.24" fill="#000"/>
<rect x="116.01" y="557.76" width="1.24" height="1.24" fill="#000"/>
<rect x="32.4" y="569.3" width="163.60" height="1.8" fill="#111"/>
<rect x="32.40" y="477.90" width="163.60" height="124.10" fill="none" stroke="#222" stroke-width="0.9" />
<line x1="29.40" y1="570.00" x2="32.40" y2="570.00" stroke="#222" stroke-width="0.8" />
<text x="27.40" y="572.40" font-size="6.8" text-anchor="end" fill="#1a1a1a" stroke="#1a1a1a" stroke-width="0.2">0</text>
<line x1="29.40" y1="555.58" x2="32.40" y2="555.58" stroke="#222" stroke-width="0.8" />
<text x="27.40" y="557.98" font-size="6.8" text-anchor="end" fill="#1a1a1a" stroke="#1a1a1a" stroke-width="0.2">2</text>
<line x1="29.40" y1="541.16" x2="32.40" y2="541.16" stroke="#222" stroke-width="0.8" />
<text x="27.40" y="543.56" font-size="6.8" text-anchor="end" fill="#1a1a1a" stroke="#1a1a1a" stroke-width="0.2">4</text>
<line x1="29.40" y1="526.74" x2="32.40" y2="526.74" stroke="#222" stroke-width="0.8" />
<text x="27.40" y="529.14" font-size="6.8" text-anchor="end" fill="#1a1a1a" stroke="#1a1a1a" stroke-width="0.2">6</text>
<line x1="29.40" y1="512.32" x2="32.40" y2="512.32" stroke="#222" stroke-width="0.8" />
<text x="27.40" y="514.72" font-size="6.8" text-anchor="end" fill="#1a1a1a" stroke="#1a1a1a" stroke-width="0.2">8</text>
<line x1="29.40" y1="497.90" x2="32.40" y2="497.90" stroke="#222" stroke-width="0.8" />
<text x="27.40" y="500.30" font-size="6.8" text-anchor="end" fill="#1a1a1a" stroke="#1a1a1a" stroke-width="0.2">10</text>
<line x1="29.40" y1="483.48" x2="32.40" y2="483.48" stroke="#222" stroke-width="0.8" />
<text x="27.40" y="485.88" font-size="6.8" text-anchor="end" fill="#1a1a1a" stroke="#1a1a1a" stroke-width="0.2">12</text>
<text x="13.90" y="524.00" font-size="8.4" text-anchor="middle" fill="#1a1a1a" textLength="26.5" lengthAdjust="spacingAndGlyphs" transform="rotate(-90 13.90 524.00)" stroke="#1a1a1a" stroke-width="0.2">LOD score</text>
<line x1="40.60" y1="602.00" x2="40.60" y2="604.60" stroke="#222" stroke-width="0.8" />
<text x="40.60" y="614.00" font-size="6.8" text-anchor="middle" fill="#1a1a1a" stroke="#1a1a1a" stroke-width="0.2">65.4</text>
<line x1="69.20" y1="602.00" x2="69.20" y2="604.60" stroke="#222" stroke-width="0.8" />
<text x="69.20" y="614.00" font-size="6.8" text-anchor="middle" fill="#1a1a1a" stroke="#1a1a1a" stroke-width="0.2">65.6</text>
<line x1="97.70" y1="602.00" x2="97.70" y2="604.60" stroke="#222" stroke-width="0.8" />
<text x="97.70" y="614.00" font-size="6.8" text-anchor="middle" fill="#1a1a1a" stroke="#1a1a1a" stroke-width="0.2">65.8</text>
<line x1="126.00" y1="602.00" x2="126.00" y2="604.60" stroke="#222" stroke-width="0.8" />
<text x="126.00" y="614.00" font-size="6.8" text-anchor="middle" fill="#1a1a1a" stroke="#1a1a1a" stroke-width="0.2">66.0</text>
<line x1="153.80" y1="602.00" x2="153.80" y2="604.60" stroke="#222" stroke-width="0.8" />
<text x="153.80" y="614.00" font-size="6.8" text-anchor="middle" fill="#1a1a1a" stroke="#1a1a1a" stroke-width="0.2">66.2</text>
<line x1="181.60" y1="602.00" x2="181.60" y2="604.60" stroke="#222" stroke-width="0.8" />
<text x="181.60" y="614.00" font-size="6.8" text-anchor="middle" fill="#1a1a1a" stroke="#1a1a1a" stroke-width="0.2">66.4</text>
<text x="114.10" y="625.30" font-size="8.2" text-anchor="middle" fill="#111" textLength="56" lengthAdjust="spacingAndGlyphs" stroke="#111" stroke-width="0.25">Chr 14 position (Mbp)</text>
<rect x="32.50" y="571.70" width="6.00" height="3.30" fill="#3b4d64" stroke="none" stroke-width="0.5" />
<text x="40.10" y="574.70" font-size="3.9" text-anchor="start" fill="#2e2e2e" textLength="14.4" lengthAdjust="spacingAndGlyphs" >Sel3a-</text>
<rect x="56.10" y="571.70" width="6.60" height="3.30" fill="#3b4d64" stroke="none" stroke-width="0.5" />
<text x="64.00" y="574.70" font-size="3.9" text-anchor="start" fill="#2e2e2e" textLength="15.8" lengthAdjust="spacingAndGlyphs" >Rasa1b-+</text>
<rect x="93.20" y="571.70" width="8.10" height="3.30" fill="#3b4d64" stroke="none" stroke-width="0.5" />
<text x="102.60" y="574.70" font-size="3.9" text-anchor="start" fill="#2e2e2e" textLength="11" lengthAdjust="spacingAndGlyphs" >Egfl6-</text>
<rect x="132.40" y="571.70" width="1.10" height="3.30" fill="#3b4d64" stroke="none" stroke-width="0.5" />
<text x="134.80" y="574.70" font-size="3.9" text-anchor="start" fill="#2e2e2e" textLength="9" lengthAdjust="spacingAndGlyphs" >Plk-+</text>
<rect x="148.40" y="571.70" width="3.90" height="3.30" fill="#3b4d64" stroke="none" stroke-width="0.5" />
<text x="153.60" y="574.70" font-size="3.9" text-anchor="start" fill="#2e2e2e" textLength="13.1" lengthAdjust="spacingAndGlyphs" >Scara5-</text>
<rect x="178.90" y="571.70" width="2.10" height="3.30" fill="#3b4d64" stroke="none" stroke-width="0.5" />
<text x="182.00" y="574.70" font-size="3.9" text-anchor="start" fill="#2e2e2e" textLength="12" lengthAdjust="spacingAndGlyphs" >Chmp2</text>
<rect x="41.10" y="576.10" width="0.70" height="3.30" fill="#3b4d64" stroke="none" stroke-width="0.5" />
<text x="43.00" y="579.10" font-size="3.9" text-anchor="start" fill="#2e2e2e" textLength="18" lengthAdjust="spacingAndGlyphs" >Gm48399-+</text>
<rect x="67.60" y="576.10" width="1.20" height="3.30" fill="#3b4d64" stroke="none" stroke-width="0.5" />
<text x="69.50" y="579.10" font-size="3.9" text-anchor="start" fill="#2e2e2e" textLength="18.5" lengthAdjust="spacingAndGlyphs" >Gm48484-</text>
<rect x="102.20" y="576.10" width="7.30" height="3.30" fill="#3b4d64" stroke="none" stroke-width="0.5" />
<text x="110.80" y="579.10" font-size="3.9" text-anchor="start" fill="#2e2e2e" textLength="14.2" lengthAdjust="spacingAndGlyphs" >Noggin-+</text>
<rect x="133.70" y="576.10" width="2.00" height="3.30" fill="#3b4d64" stroke="none" stroke-width="0.5" />
<text x="137.00" y="579.10" font-size="3.9" text-anchor="start" fill="#2e2e2e" textLength="12.5" lengthAdjust="spacingAndGlyphs" >Esco2-</text>
<text x="153.00" y="579.10" font-size="3.9" text-anchor="start" fill="#2e2e2e" textLength="17" lengthAdjust="spacingAndGlyphs" >Gm14222-</text>
<rect x="181.00" y="576.10" width="14.20" height="3.30" fill="#3b4d64" stroke="none" stroke-width="0.5" />
<rect x="42.30" y="580.50" width="0.60" height="3.30" fill="#3b4d64" stroke="none" stroke-width="0.5" />
<text x="43.80" y="583.50" font-size="3.9" text-anchor="start" fill="#2e2e2e" textLength="17.2" lengthAdjust="spacingAndGlyphs" >Gm30008-</text>
<rect x="69.20" y="580.50" width="4.90" height="3.30" fill="#3b4d64" stroke="none" stroke-width="0.5" />
<text x="75.80" y="583.50" font-size="3.9" text-anchor="start" fill="#2e2e2e" textLength="14.7" lengthAdjust="spacingAndGlyphs" >Zfp365-+</text>
<rect x="112.00" y="580.50" width="13.80" height="3.30" fill="#3b4d64" stroke="none" stroke-width="0.5" />
<text x="127.20" y="583.50" font-size="3.9" text-anchor="start" fill="#2e2e2e" textLength="14.2" lengthAdjust="spacingAndGlyphs" >Scara3-+</text>
<rect x="154.90" y="580.50" width="1.70" height="3.30" fill="#3b4d64" stroke="none" stroke-width="0.5" />
<text x="157.70" y="583.50" font-size="3.9" text-anchor="start" fill="#2e2e2e" textLength="9" lengthAdjust="spacingAndGlyphs" >Clu-+</text>
<rect x="171.40" y="580.50" width="4.90" height="3.30" fill="#3aa6e0" stroke="none" stroke-width="0.5" />
<text x="177.50" y="583.50" font-size="3.9" text-anchor="start" fill="#4ab0e8" textLength="12.5" lengthAdjust="spacingAndGlyphs" >Scara3-</text>
<rect x="42.30" y="584.80" width="1.60" height="3.30" fill="#3b4d64" stroke="none" stroke-width="0.5" />
<text x="45.00" y="587.80" font-size="3.9" text-anchor="start" fill="#2e2e2e" textLength="20" lengthAdjust="spacingAndGlyphs" >Gm41177-+</text>
<rect x="74.40" y="584.80" width="3.30" height="3.30" fill="#3b4d64" stroke="none" stroke-width="0.5" />
<text x="79.00" y="587.80" font-size="3.9" text-anchor="start" fill="#2e2e2e" textLength="11" lengthAdjust="spacingAndGlyphs" >Phacs-</text>
<rect x="136.50" y="584.80" width="3.20" height="3.30" fill="#3b4d64" stroke="none" stroke-width="0.5" />
<text x="141.40" y="587.80" font-size="3.9" text-anchor="start" fill="#2e2e2e" textLength="12.2" lengthAdjust="spacingAndGlyphs" >Cdca2-+</text>
<rect x="163.10" y="584.80" width="6.90" height="3.30" fill="#3b4d64" stroke="none" stroke-width="0.5" />
<text x="171.00" y="587.80" font-size="3.9" text-anchor="start" fill="#2e2e2e" textLength="11" lengthAdjust="spacingAndGlyphs" >Adam2-</text>
<rect x="45.00" y="589.20" width="10.30" height="3.30" fill="#3b4d64" stroke="none" stroke-width="0.5" />
<text x="56.10" y="592.20" font-size="3.9" text-anchor="start" fill="#2e2e2e" textLength="9" lengthAdjust="spacingAndGlyphs" >Fut3-</text>
<rect x="157.70" y="589.20" width="2.80" height="3.30" fill="#3b4d64" stroke="none" stroke-width="0.5" />
<text x="161.80" y="592.20" font-size="3.9" text-anchor="start" fill="#2e2e2e" textLength="10" lengthAdjust="spacingAndGlyphs" >Dpysl-</text>
<rect x="46.30" y="593.60" width="0.50" height="3.30" fill="#3b4d64" stroke="none" stroke-width="0.5" />
<text x="47.50" y="596.60" font-size="3.9" text-anchor="start" fill="#2e2e2e" textLength="4.5" lengthAdjust="spacingAndGlyphs" >F-</text>
<rect x="64.30" y="593.60" width="1.30" height="3.30" fill="#3b4d64" stroke="none" stroke-width="0.5" />
<text x="66.80" y="596.60" font-size="3.9" text-anchor="start" fill="#2e2e2e" textLength="19.6" lengthAdjust="spacingAndGlyphs" >Gm48693-+</text>
<text x="165.40" y="596.60" font-size="3.9" text-anchor="start" fill="#2e2e2e" textLength="15.6" lengthAdjust="spacingAndGlyphs" >Gm10000-+</text>
<rect x="46.80" y="597.90" width="0.50" height="3.30" fill="#3b4d64" stroke="none" stroke-width="0.5" />
<text x="48.80" y="600.90" font-size="3.9" text-anchor="start" fill="#2e2e2e" textLength="16.3" lengthAdjust="spacingAndGlyphs" >Gm30988-+</text>
<text x="211.40" y="470.60" font-size="11.2" text-anchor="start" fill="#000" font-weight="bold" >K</text>
<text x="267.40" y="480.10" font-size="8.6" text-anchor="middle" fill="#1a1a1a" textLength="65.6" lengthAdjust="spacingAndGlyphs" stroke="#1a1a1a" stroke-width="0.1">4HNE-Glutathione</text>
<text x="267.20" y="489.20" font-size="5.9" text-anchor="middle" fill="#222" textLength="45.6" lengthAdjust="spacingAndGlyphs" >African American</text>
<line x1="224.60" y1="494.90" x2="224.60" y2="588.30" stroke="#111" stroke-width="1.1" />
<line x1="224.10" y1="587.80" x2="310.20" y2="587.80" stroke="#111" stroke-width="1.1" />
<line x1="248.30" y1="504.20" x2="286.40" y2="504.20" stroke="#111" stroke-width="0.6" />
<text x="267.20" y="503.60" font-size="5.5" text-anchor="middle" fill="#222" stroke="#222" stroke-width="0.2">*</text>
<line x1="247.40" y1="509.50" x2="247.40" y2="547.30" stroke="#2a2a2a" stroke-width="1.0" />
<rect x="233.10" y="519.90" width="28.90" height="20.10" fill="#e3808f" stroke="#d06a7a" stroke-width="0.4" fill-opacity="0.85"/>
<line x1="233.10" y1="529.30" x2="262.00" y2="529.30" stroke="#2a2a2a" stroke-width="1.1" />
<line x1="286.40" y1="521.70" x2="286.40" y2="574.10" stroke="#2a2a2a" stroke-width="1.0" />
<rect x="271.80" y="531.40" width="29.90" height="20.80" fill="#e3808f" stroke="#d06a7a" stroke-width="0.4" fill-opacity="0.85"/>
<line x1="271.80" y1="541.50" x2="301.70" y2="541.50" stroke="#2a2a2a" stroke-width="1.1" />
<circle cx="258.6" cy="509.3" r="1.0" fill="#b01840"/>
<circle cx="255.1" cy="515.1" r="1.0" fill="#b01840"/>
<circle cx="258.1" cy="516.9" r="1.0" fill="#b01840"/>
<circle cx="251.8" cy="520.2" r="1.0" fill="#b01840"/>
<circle cx="253.8" cy="523.2" r="1.0" fill="#b01840"/>
<circle cx="234.1" cy="526.5" r="1.0" fill="#b01840"/>
<circle cx="247.5" cy="526.5" r="1.0" fill="#b01840"/>
<circle cx="255.6" cy="536.4" r="1.0" fill="#b01840"/>
<circle cx="257.1" cy="533.3" r="1.0" fill="#b01840"/>
<circle cx="239.2" cy="542.2" r="1.0" fill="#b01840"/>
<circle cx="239.9" cy="547.2" r="1.0" fill="#b01840"/>
<circle cx="252.6" cy="543.9" r="1.0" fill="#b01840"/>
<circle cx="235.4" cy="530.8" r="1.0" fill="#b01840"/>
<circle cx="244" cy="538" r="1.0" fill="#b01840"/>
<circle cx="280.8" cy="521.2" r="1.0" fill="#b01840"/>
<circle cx="285.9" cy="523.2" r="1.0" fill="#b01840"/>
<circle cx="298" cy="530.3" r="1.0" fill="#b01840"/>
<circle cx="275" cy="535.3" r="1.0" fill="#b01840"/>
<circle cx="288.9" cy="538.4" r="1.0" fill="#b01840"/>
<circle cx="280.8" cy="544.7" r="1.0" fill="#b01840"/>
<circle cx="283" cy="544.5" r="1.0" fill="#b01840"/>
<circle cx="280.3" cy="554" r="1.0" fill="#b01840"/>
<circle cx="301" cy="573.2" r="1.0" fill="#b01840"/>
<circle cx="301.6" cy="574.3" r="1.0" fill="#b01840"/>
<circle cx="300.6" cy="574.6" r="1.0" fill="#b01840"/>
<line x1="222.10" y1="0.00" x2="224.60" y2="0.00" stroke="#fff" stroke-width="0" />
<text x="247.40" y="598.50" font-size="6.8" text-anchor="middle" fill="#1a1a1a" stroke="#1a1a1a" stroke-width="0.15">C</text>
<text x="286.40" y="598.50" font-size="6.8" text-anchor="middle" fill="#1a1a1a" stroke="#1a1a1a" stroke-width="0.15">T</text>
<text x="267.20" y="609.30" font-size="7.4" text-anchor="middle" fill="#111" textLength="86" lengthAdjust="spacingAndGlyphs" stroke="#111" stroke-width="0.2">rs1050828 (G6PD African variant)</text>
<text x="331.50" y="470.90" font-size="11.2" text-anchor="start" fill="#000" font-weight="bold" >L</text>
<ellipse cx="426" cy="537.3" rx="84.6" ry="58.4" fill="#f1b7bb" stroke="#d9929a" stroke-width="0.9"/>
<ellipse cx="426" cy="537.8" rx="79.5" ry="53.5" fill="#f4c1c4" stroke="#f6cacc" stroke-width="1.6"/>
<defs><filter id="bl" x="-20%" y="-20%" width="140%" height="140%"><feGaussianBlur stdDeviation="1.6"/></filter></defs>
<path d="M380 528 C378 510 392 500 410 499 C428 498 444 500 447 512 C450 524 447 540 440 549 C432 558 412 560 396 553 C384 547 381 538 380 528 Z" fill="#eaa3ab" opacity="0.75" filter="url(#bl)"/>
<line x1="420.40" y1="481.00" x2="420.40" y2="487.00" stroke="#b0606a" stroke-width="0.6" />
<circle cx="420.4" cy="480.6" r="2.3" fill="#9a3a48"/>
<line x1="432.50" y1="481.00" x2="432.50" y2="487.00" stroke="#b0606a" stroke-width="0.6" />
<circle cx="432.5" cy="480.6" r="2.3" fill="#9a3a48"/>
<path d="M392.2 496 V488 Q392.2 485.8 394.5 485.8 H418" fill="none" stroke="#8a5a5e" stroke-width="0.6"/>
<path d="M459.4 495 V489 Q459.4 485.8 456 485.8 H435" fill="none" stroke="#8a5a5e" stroke-width="0.6"/>
<path d="M432 485.8 H425 M418 485.8 H423" fill="none" stroke="#8a5a5e" stroke-width="0.6"/>
<path d="M435 485.8 l2 -1.1 v2.2 z" fill="#8a5a5e"/>
<path d="M423.5 485.8 l2 -1.1 v2.2 z" fill="#8a5a5e"/>
<path d="M418.2 485.8 l-2 -1.1 v2.2 z" fill="#8a5a5e"/>
<text x="394.60" y="493.80" font-size="6.4" text-anchor="start" fill="#222" textLength="22.2" lengthAdjust="spacingAndGlyphs" stroke="#222" stroke-width="0.15">LPCAT3</text>
<path d="M387.5 487 L390 492 L390.5 503 M391.5 492 L393 488" fill="none" stroke="#a06a70" stroke-width="0.5"/>
<circle cx="436.9" cy="491.4" r="1.6" fill="#f7dadc" stroke="#a0606a" stroke-width="0.75"/>
<circle cx="421.3" cy="512.7" r="1.6" fill="#f7dadc" stroke="#a0606a" stroke-width="0.75"/>
<circle cx="464.2" cy="492.4" r="1.6" fill="#f7dadc" stroke="#a0606a" stroke-width="0.75"/>
<circle cx="453.3" cy="495.9" r="1.6" fill="#f7dadc" stroke="#a0606a" stroke-width="0.75"/>
<circle cx="464.9" cy="498.8" r="1.6" fill="#f7dadc" stroke="#a0606a" stroke-width="0.75"/>
<circle cx="457.7" cy="502.3" r="1.6" fill="#f7dadc" stroke="#a0606a" stroke-width="0.75"/>
<circle cx="469.8" cy="504" r="1.6" fill="#f7dadc" stroke="#a0606a" stroke-width="0.75"/>
<circle cx="454.2" cy="507.5" r="1.6" fill="#f7dadc" stroke="#a0606a" stroke-width="0.75"/>
<circle cx="462.5" cy="508.9" r="1.6" fill="#f7dadc" stroke="#a0606a" stroke-width="0.75"/>
<path d="M436 494.5 L426 503" fill="none" stroke="#8a5a5e" stroke-width="0.6"/><path d="M424.8 504.2 l0.6 -2.4 l1.8 1.6 z" fill="#8a5a5e"/>
<path d="M420 500 L421 505" fill="none" stroke="#a06a70" stroke-width="0.5"/>
<text x="387.30" y="520.40" font-size="6.4" text-anchor="end" fill="#222" textLength="19.8" lengthAdjust="spacingAndGlyphs" stroke="#222" stroke-width="0.15">EPHX2</text>
<path d="M389.2 518.5 H400.8 M400.8 515.6 V521.4" fill="none" stroke="#8a4a52" stroke-width="0.7"/>
<text x="425.20" y="519.40" font-size="6.6" text-anchor="middle" fill="#d8304a" font-style="italic" >Lipid</text>
<text x="425.00" y="527.10" font-size="6.6" text-anchor="middle" fill="#d8304a" font-style="italic" textLength="47.5" lengthAdjust="spacingAndGlyphs" >Hydroperoxides</text>
<text x="394.70" y="538.20" font-size="4.6" text-anchor="middle" fill="#333" font-style="italic" textLength="21.8" lengthAdjust="spacingAndGlyphs" stroke="#5a3c3c" stroke-width="0.08">Eicosanoids</text>
<path d="M412.3 533.8 Q412 542 405 546" fill="none" stroke="#8a5a5e" stroke-width="0.6"/><path d="M404 546.8 l2.3 -0.3 l-0.9 -2 z" fill="#8a5a5e"/>
<path d="M397 541.5 Q399 546 401 548" fill="none" stroke="#8a5a5e" stroke-width="0.5"/>
<circle cx="401.7" cy="552.7" r="1.1" fill="none" stroke="#a8646c" stroke-width="0.5"/>
<text x="426.00" y="549.20" font-size="6.4" text-anchor="middle" fill="#222" textLength="16.7" lengthAdjust="spacingAndGlyphs" stroke="#222" stroke-width="0.15">GPX4</text>
<path d="M426.7 544 V532.2 M424 532.2 H429.4" fill="none" stroke="#8a4a52" stroke-width="0.7"/>
<path d="M426.7 564.3 V553" fill="none" stroke="#5a3a3e" stroke-width="0.6"/><path d="M426.7 551.3 l-1.2 2.2 h2.4 z" fill="#5a3a3e"/>
<text x="427.00" y="562.50" font-size="4.6" text-anchor="middle" fill="#5a3c3c" textLength="20.6" lengthAdjust="spacingAndGlyphs" stroke="#5a3c3c" stroke-width="0.08">Glutathione</text>
<path d="M453 554.5 Q450 561 442.5 562" fill="none" stroke="#6a4a4e" stroke-width="0.5" stroke-dasharray="0.8 0.6"/>
<circle cx="441.8" cy="562" r="0.8" fill="#3a2a2e"/>
<path d="M436.3 532 Q437 542 445.5 546" fill="none" stroke="#8a5a5e" stroke-width="0.6"/>
<circle cx="446.5" cy="546.3" r="0.8" fill="#3a2a2e"/>
<text x="448.40" y="548.40" font-size="4.6" text-anchor="start" fill="#333" textLength="9.5" lengthAdjust="spacingAndGlyphs" >GSSG</text>
<path d="M455 553 Q458 550.5 462 551" fill="none" stroke="#6a4a4e" stroke-width="0.5" stroke-dasharray="0.8 0.6"/>
<text x="465.20" y="554.60" font-size="4.4" text-anchor="start" fill="#333" >NADPH</text>
<text x="484.40" y="554.60" font-size="4.4" text-anchor="start" fill="#333" >NADP⁺</text>
<path d="M474.5 550.5 Q476 543 484 543 Q490 544 490 549" fill="none" stroke="#333" stroke-width="0.7"/><path d="M490 551 l-1.4 -2.4 h2.6 z" fill="#333"/>
<path d="M490 557 Q489 563 481 563 Q475 562 474.5 558" fill="none" stroke="#333" stroke-width="0.7"/><path d="M474.5 556 l-1.3 2.4 h2.6 z" fill="#333"/>
<text x="483.80" y="568.90" font-size="7.0" text-anchor="middle" fill="#222" textLength="17.9" lengthAdjust="spacingAndGlyphs" stroke="#222" stroke-width="0.15">G6PD</text>
<text x="483.80" y="540.70" font-size="7.0" text-anchor="middle" fill="#222" textLength="22.7" lengthAdjust="spacingAndGlyphs" stroke="#222" stroke-width="0.15">STEAP3</text>
<text x="474.50" y="527.60" font-size="4.2" text-anchor="middle" fill="#333" >Fe²⁺</text>
<text x="488.30" y="527.60" font-size="4.2" text-anchor="middle" fill="#333" >Fe³⁺</text>
<path d="M474.5 529.5 Q476 535 482 534.5 Q487 534 488 530.5" fill="none" stroke="#333" stroke-width="0.7"/><path d="M488.5 529 l-2 1.5 l2.3 1 z" fill="#333"/>
<path d="M488.3 524 V504 Q488.3 500.8 485 500.8 H472" fill="none" stroke="#8a5a5e" stroke-width="0.6"/><path d="M471 500.8 l2.2 -1.2 v2.4 z" fill="#8a5a5e"/>
<path d="M426.7 564.3 V574.2 M406.5 583 V574.2 H442 V577.3 M430 583 V577.3 H454.2 V583" fill="none" stroke="#7a4a50" stroke-width="0.6"/>
<text x="406.30" y="587.90" font-size="4.9" text-anchor="middle" fill="#5a3c3c" textLength="13.4" lengthAdjust="spacingAndGlyphs" stroke="#5a3c3c" stroke-width="0.08">Glycine</text>
<text x="429.60" y="587.90" font-size="4.9" text-anchor="middle" fill="#5a3c3c" textLength="15.3" lengthAdjust="spacingAndGlyphs" stroke="#5a3c3c" stroke-width="0.08">Cysteine</text>
<text x="454.20" y="587.90" font-size="4.9" text-anchor="middle" fill="#5a3c3c" textLength="18.3" lengthAdjust="spacingAndGlyphs" stroke="#5a3c3c" stroke-width="0.08">Glutamate</text>
<text x="368.50" y="550.90" font-size="6.4" text-anchor="middle" fill="#222" textLength="28" lengthAdjust="spacingAndGlyphs" stroke="#222" stroke-width="0.15">SLCO1B1</text>
<rect x="340.00" y="551.80" width="53.80" height="44.30" fill="#efe2b6" stroke="#c8b68a" stroke-width="0.5" />
<rect x="369.20" y="551.80" width="24.60" height="22.10" fill="#f6f0dc" stroke="none" stroke-width="0.5" />
<path d="M369.2 563.2 H393.8 M369.2 566.2 H393.8 M370.5 551.8 V574" fill="none" stroke="#d6ccb4" stroke-width="0.5"/>
<path d="M357.9 570.2 L369.2 566.5 L369.2 574 L357.9 575.5 Z" fill="#e8dfcc"/>
<path d="M343.2 591 L342.8 576 Q343.5 568.5 352 566.8 L366 566 Q376 566.5 380 571.5 Q378.5 576.5 372 580 Q362 584 355 589.5 Q350 594 346 596 L343.5 596 Z" fill="#a7645e" stroke="#8a4e4a" stroke-width="0.4"/>
<path d="M366 567 Q370 574 366 583" fill="none" stroke="#8a4e4a" stroke-width="0.5"/>
<rect x="350.80" y="570.20" width="7.10" height="5.30" fill="#ead9c2" stroke="none" stroke-width="0.5" />
<ellipse cx="355" cy="590.5" rx="2.2" ry="1.5" fill="#8b8a5a"/>
<path d="M376.2 559.5 L377.5 557.8 L379.8 558.6 L380.6 556.4 L382.8 557.4 L384.2 555.6 L385.8 557 L387.8 555.2 L389.2 556.8 L390.8 556.2 L390.2 558.8 L391.4 560.6 L389.6 562 L390.4 564.4 L388.4 565.6 L388.8 568 L386.4 568.4 L385.4 570.4 L383.6 569.2 L381.8 570.6 L380.6 568.6 L378.4 568.8 L378.6 566.4 L376.4 565.6 L377.4 563.4 L375.8 561.6 Z" fill="#c08a34" stroke="#7a5418" stroke-width="0.45"/>
<path d="M379.5 560 L381 566 M383.5 558 L383.8 567 M387.5 558.5 L386.5 566 M377.5 563 L389.5 562.5" fill="none" stroke="#8a6020" stroke-width="0.4"/>
<path d="M380 561 Q381 559.5 382 561 M384.6 560 Q386 558.5 387 560.5 M381.5 565 Q383 563.5 384.5 565.5" fill="none" stroke="#e0b060" stroke-width="0.5"/>
<path d="M383.4 573.5 V551 Q383.6 548.2 387 548 H396 Q399 548.5 400 550.5" fill="none" stroke="#9a3a48" stroke-width="0.6"/>
<circle cx="383.4" cy="573.6" r="0.9" fill="#8a1a1a"/>
<rect x="0.5" y="0.5" width="519" height="632" fill="none" stroke="#444" stroke-width="1.2"/>
</svg>
</body></html>
